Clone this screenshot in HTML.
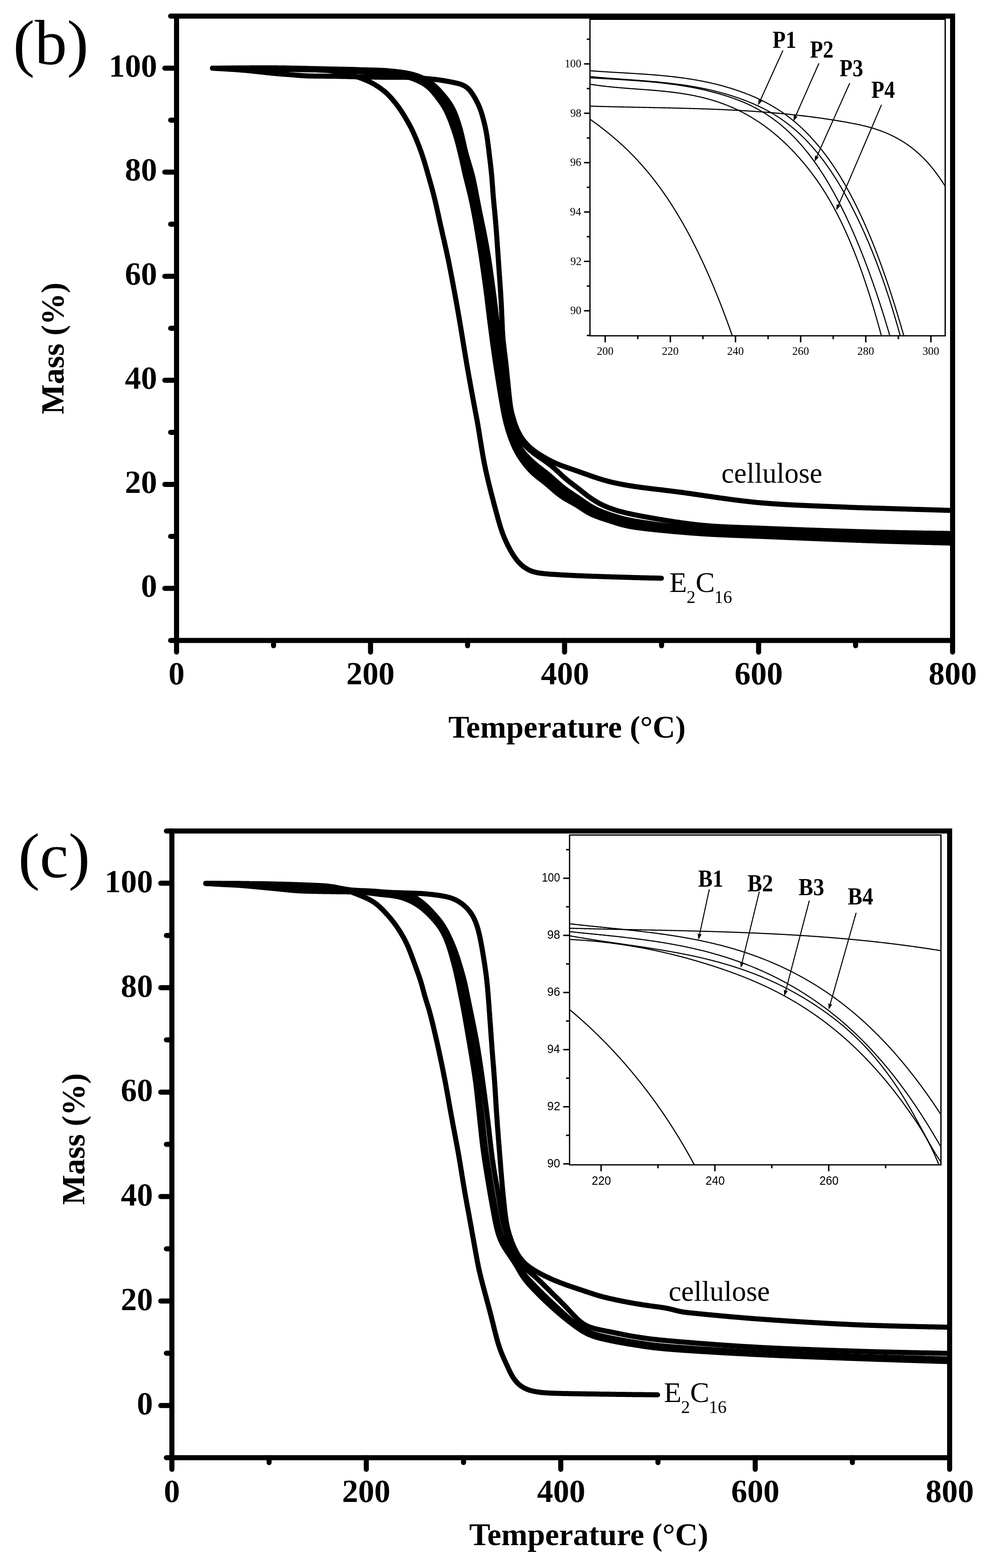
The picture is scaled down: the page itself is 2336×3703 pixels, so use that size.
<!DOCTYPE html><html><head><meta charset="utf-8"><title>TGA curves</title><style>html,body{margin:0;padding:0;background:#fff;}svg{display:block;}</style></head><body>
<svg xmlns="http://www.w3.org/2000/svg" width="2336" height="3703" viewBox="0 0 2336 3703">
<rect width="2336" height="3703" fill="#fff"/>
<defs><clipPath id="cb"><rect x="417" y="38" width="1833" height="1474.5"/></clipPath><clipPath id="ib"><rect x="1393.5" y="45.5" width="839" height="747.5"/></clipPath><clipPath id="cc"><rect x="406" y="1962.5" width="1837" height="1480"/></clipPath><clipPath id="ic"><rect x="1345.3" y="1972" width="877.2" height="778.9"/></clipPath></defs>
<path d="M502.0,161.0 L504.0,161.1 L506.0,161.2 L508.0,161.4 L510.0,161.5 L512.0,161.6 L514.0,161.7 L516.0,161.8 L518.0,162.0 L520.0,162.1 L522.0,162.2 L524.0,162.3 L526.0,162.4 L528.0,162.6 L529.9,162.7 L531.9,162.8 L533.9,162.9 L535.9,163.0 L537.9,163.2 L539.9,163.3 L541.9,163.4 L543.9,163.5 L545.9,163.7 L547.9,163.8 L549.9,163.9 L551.9,164.1 L553.9,164.2 L555.9,164.3 L557.9,164.5 L559.9,164.6 L561.9,164.8 L563.9,164.9 L565.9,165.1 L567.9,165.2 L569.9,165.4 L571.8,165.5 L573.8,165.7 L575.8,165.9 L577.8,166.1 L579.8,166.2 L581.8,166.4 L583.8,166.6 L585.8,166.8 L587.8,167.0 L589.8,167.2 L591.8,167.4 L593.7,167.6 L595.7,167.8 L597.7,168.0 L599.7,168.3 L601.7,168.5 L603.7,168.7 L605.7,168.9 L607.7,169.1 L609.7,169.3 L611.6,169.6 L613.6,169.8 L615.6,170.0 L617.6,170.2 L619.6,170.4 L621.6,170.6 L623.6,170.9 L625.6,171.1 L627.5,171.3 L629.5,171.5 L631.5,171.7 L633.5,171.9 L635.5,172.1 L637.5,172.4 L639.5,172.6 L641.5,172.8 L643.5,172.9 L645.5,173.1 L647.4,173.3 L649.4,173.5 L651.4,173.7 L653.4,173.9 L655.4,174.0 L657.4,174.2 L659.4,174.4 L661.4,174.5 L663.4,174.7 L665.4,174.9 L667.4,175.0 L669.4,175.2 L671.4,175.3 L673.4,175.5 L675.3,175.6 L677.3,175.8 L679.3,175.9 L681.3,176.1 L683.3,176.3 L685.3,176.4 L687.3,176.6 L689.3,176.7 L691.3,176.9 L693.3,177.1 L695.3,177.2 L697.3,177.4 L699.3,177.6 L701.3,177.7 L703.3,177.9 L705.2,178.0 L707.2,178.2 L709.2,178.3 L711.2,178.5 L713.2,178.6 L715.2,178.7 L717.2,178.8 L719.2,179.0 L721.2,179.1 L723.2,179.1 L725.2,179.2 L727.2,179.3 L729.2,179.4 L731.2,179.4 L733.2,179.5 L735.2,179.5 L737.2,179.6 L739.2,179.6 L741.2,179.6 L743.2,179.7 L745.2,179.7 L747.2,179.7 L749.2,179.7 L751.2,179.7 L753.2,179.8 L755.2,179.8 L757.2,179.8 L759.2,179.8 L761.2,179.8 L763.2,179.8 L765.2,179.8 L767.2,179.8 L769.2,179.8 L771.2,179.9 L773.2,179.9 L775.2,179.9 L777.2,179.9 L779.2,179.9 L781.2,179.9 L783.2,180.0 L785.2,180.0 L787.2,180.0 L789.2,180.1 L791.2,180.1 L793.2,180.1 L795.2,180.1 L797.2,180.2 L799.2,180.2 L801.2,180.3 L803.2,180.3 L805.2,180.4 L807.2,180.4 L809.2,180.4 L811.2,180.5 L813.2,180.5 L815.2,180.6 L817.2,180.6 L819.2,180.7 L821.2,180.7 L823.2,180.8 L825.2,180.9 L827.2,180.9 L829.2,181.0 L831.2,181.0 L833.2,181.1 L835.2,181.1 L837.2,181.2 L839.2,181.2 L841.2,181.3 L843.2,181.3 L845.2,181.4 L847.2,181.4 L849.2,181.5 L851.2,181.5 L853.2,181.6 L855.2,181.6 L857.2,181.6 L859.2,181.7 L861.2,181.7 L863.2,181.8 L865.2,181.8 L867.2,181.9 L869.2,181.9 L871.2,181.9 L873.2,182.0 L875.2,182.0 L877.2,182.0 L879.2,182.1 L881.2,182.1 L883.2,182.1 L885.2,182.2 L887.2,182.2 L889.2,182.2 L891.2,182.3 L893.2,182.3 L895.2,182.3 L897.2,182.3 L899.2,182.3 L901.2,182.4 L903.2,182.4 L905.2,182.4 L907.2,182.4 L909.2,182.4 L911.2,182.4 L913.2,182.4 L915.2,182.4 L917.2,182.4 L919.2,182.4 L921.2,182.4 L923.2,182.4 L925.2,182.4 L927.2,182.4 L929.2,182.4 L931.2,182.4 L933.2,182.4 L935.2,182.4 L937.2,182.4 L939.2,182.4 L941.2,182.4 L943.2,182.4 L945.2,182.5 L947.2,182.5 L949.2,182.5 L951.2,182.5 L953.2,182.5 L955.2,182.6 L957.2,182.6 L959.2,182.6 L961.2,182.7 L963.2,182.7 L965.2,182.8 L967.1,182.8 L969.1,182.9 L971.1,183.0 L973.1,183.1 L975.1,183.2 L977.1,183.3 L979.1,183.4 L981.1,183.5 L983.1,183.7 L985.1,183.8 L987.1,183.9 L989.1,184.1 L991.1,184.2 L993.1,184.4 L995.1,184.6 L997.1,184.7 L999.1,184.9 L1001.1,185.0 L1003.1,185.2 L1005.0,185.4 L1007.0,185.6 L1009.0,185.7 L1011.0,185.9 L1013.0,186.1 L1015.0,186.3 L1017.0,186.5 L1019.0,186.7 L1021.0,186.9 L1023.0,187.1 L1025.0,187.3 L1026.9,187.5 L1028.9,187.7 L1030.9,188.0 L1032.9,188.2 L1034.9,188.5 L1036.9,188.8 L1038.8,189.0 L1040.8,189.3 L1042.8,189.6 L1044.8,189.9 L1046.7,190.3 L1048.7,190.6 L1050.7,190.9 L1052.6,191.3 L1054.6,191.6 L1056.6,192.0 L1058.5,192.3 L1060.5,192.7 L1062.5,193.1 L1064.4,193.5 L1066.4,193.8 L1068.4,194.2 L1070.3,194.6 L1072.3,195.0 L1074.2,195.5 L1076.2,195.9 L1078.1,196.3 L1080.0,196.8 L1081.9,197.3 L1083.8,197.8 L1085.7,198.3 L1087.6,198.9 L1089.4,199.5 L1091.2,200.2 L1093.0,201.0 L1094.7,201.7 L1096.4,202.6 L1098.1,203.5 L1099.7,204.5 L1101.3,205.6 L1102.8,206.7 L1104.2,207.9 L1105.6,209.2 L1107.0,210.5 L1108.3,211.9 L1109.6,213.3 L1110.8,214.8 L1112.0,216.4 L1113.2,217.9 L1114.3,219.5 L1115.4,221.2 L1116.5,222.8 L1117.6,224.5 L1118.6,226.2 L1119.7,227.9 L1120.7,229.6 L1121.7,231.3 L1122.7,233.1 L1123.6,234.8 L1124.6,236.5 L1125.5,238.3 L1126.4,240.1 L1127.3,241.9 L1128.2,243.6 L1129.1,245.4 L1129.9,247.2 L1130.7,249.1 L1131.5,250.9 L1132.3,252.7 L1133.0,254.6 L1133.7,256.4 L1134.4,258.3 L1135.1,260.2 L1135.8,262.1 L1136.4,263.9 L1137.0,265.8 L1137.6,267.7 L1138.2,269.7 L1138.8,271.6 L1139.4,273.5 L1139.9,275.4 L1140.4,277.3 L1141.0,279.3 L1141.5,281.2 L1142.0,283.1 L1142.5,285.1 L1143.0,287.0 L1143.5,288.9 L1144.0,290.9 L1144.4,292.8 L1144.9,294.8 L1145.3,296.7 L1145.8,298.7 L1146.2,300.6 L1146.6,302.6 L1147.0,304.5 L1147.4,306.5 L1147.8,308.4 L1148.2,310.4 L1148.5,312.4 L1148.9,314.3 L1149.2,316.3 L1149.6,318.3 L1149.9,320.2 L1150.2,322.2 L1150.5,324.2 L1150.8,326.2 L1151.1,328.2 L1151.4,330.1 L1151.7,332.1 L1151.9,334.1 L1152.2,336.1 L1152.4,338.1 L1152.7,340.0 L1152.9,342.0 L1153.2,344.0 L1153.4,346.0 L1153.7,348.0 L1153.9,350.0 L1154.2,352.0 L1154.4,353.9 L1154.7,355.9 L1154.9,357.9 L1155.1,359.9 L1155.4,361.9 L1155.6,363.9 L1155.9,365.8 L1156.1,367.8 L1156.3,369.8 L1156.6,371.8 L1156.8,373.8 L1157.1,375.8 L1157.3,377.8 L1157.5,379.7 L1157.8,381.7 L1158.0,383.7 L1158.2,385.7 L1158.5,387.7 L1158.7,389.7 L1158.9,391.7 L1159.2,393.7 L1159.4,395.6 L1159.6,397.6 L1159.8,399.6 L1160.0,401.6 L1160.2,403.6 L1160.4,405.6 L1160.6,407.6 L1160.8,409.6 L1161.0,411.6 L1161.2,413.5 L1161.4,415.5 L1161.6,417.5 L1161.7,419.5 L1161.9,421.5 L1162.1,423.5 L1162.2,425.5 L1162.4,427.5 L1162.5,429.5 L1162.7,431.5 L1162.8,433.5 L1163.0,435.5 L1163.1,437.5 L1163.3,439.5 L1163.4,441.5 L1163.6,443.4 L1163.7,445.4 L1163.9,447.4 L1164.0,449.4 L1164.1,451.4 L1164.3,453.4 L1164.4,455.4 L1164.6,457.4 L1164.8,459.4 L1164.9,461.4 L1165.1,463.4 L1165.2,465.4 L1165.4,467.4 L1165.6,469.4 L1165.8,471.4 L1165.9,473.4 L1166.1,475.3 L1166.3,477.3 L1166.5,479.3 L1166.7,481.3 L1166.8,483.3 L1167.0,485.3 L1167.2,487.3 L1167.4,489.3 L1167.6,491.3 L1167.8,493.3 L1168.0,495.3 L1168.2,497.2 L1168.4,499.2 L1168.6,501.2 L1168.7,503.2 L1168.9,505.2 L1169.1,507.2 L1169.3,509.2 L1169.5,511.2 L1169.7,513.2 L1169.9,515.2 L1170.0,517.2 L1170.2,519.2 L1170.4,521.1 L1170.6,523.1 L1170.7,525.1 L1170.9,527.1 L1171.1,529.1 L1171.2,531.1 L1171.4,533.1 L1171.6,535.1 L1171.7,537.1 L1171.9,539.1 L1172.0,541.1 L1172.2,543.1 L1172.3,545.1 L1172.5,547.1 L1172.6,549.1 L1172.8,551.1 L1172.9,553.0 L1173.1,555.0 L1173.2,557.0 L1173.3,559.0 L1173.5,561.0 L1173.6,563.0 L1173.8,565.0 L1173.9,567.0 L1174.0,569.0 L1174.2,571.0 L1174.3,573.0 L1174.5,575.0 L1174.6,577.0 L1174.7,579.0 L1174.9,581.0 L1175.0,583.0 L1175.1,585.0 L1175.3,587.0 L1175.4,589.0 L1175.5,591.0 L1175.7,592.9 L1175.8,594.9 L1176.0,596.9 L1176.1,598.9 L1176.2,600.9 L1176.4,602.9 L1176.5,604.9 L1176.6,606.9 L1176.8,608.9 L1176.9,610.9 L1177.1,612.9 L1177.2,614.9 L1177.3,616.9 L1177.5,618.9 L1177.6,620.9 L1177.8,622.9 L1177.9,624.9 L1178.0,626.9 L1178.2,628.9 L1178.3,630.9 L1178.5,632.9 L1178.6,634.8 L1178.7,636.8 L1178.9,638.8 L1179.0,640.8 L1179.2,642.8 L1179.3,644.8 L1179.4,646.8 L1179.6,648.8 L1179.7,650.8 L1179.9,652.8 L1180.0,654.8 L1180.1,656.8 L1180.3,658.8 L1180.4,660.8 L1180.6,662.8 L1180.7,664.8 L1180.8,666.8 L1181.0,668.8 L1181.1,670.8 L1181.2,672.8 L1181.4,674.8 L1181.5,676.7 L1181.6,678.7 L1181.8,680.7 L1181.9,682.7 L1182.0,684.7 L1182.2,686.7 L1182.3,688.7 L1182.4,690.7 L1182.5,692.7 L1182.7,694.7 L1182.8,696.7 L1182.9,698.7 L1183.0,700.7 L1183.1,702.7 L1183.2,704.7 L1183.4,706.7 L1183.5,708.7 L1183.6,710.7 L1183.7,712.7 L1183.8,714.7 L1183.9,716.7 L1184.0,718.7 L1184.1,720.7 L1184.2,722.7 L1184.3,724.7 L1184.4,726.7 L1184.5,728.7 L1184.6,730.7 L1184.7,732.7 L1184.8,734.7 L1184.8,736.7 L1184.9,738.6 L1185.0,740.6 L1185.1,742.6 L1185.2,744.6 L1185.3,746.6 L1185.4,748.6 L1185.5,750.6 L1185.6,752.6 L1185.7,754.6 L1185.7,756.6 L1185.8,758.6 L1185.9,760.6 L1186.0,762.6 L1186.1,764.6 L1186.2,766.6 L1186.3,768.6 L1186.4,770.6 L1186.5,772.6 L1186.5,774.6 L1186.6,776.6 L1186.7,778.6 L1186.9,780.6 L1187.0,782.6 L1187.1,784.6 L1187.2,786.6 L1187.3,788.6 L1187.5,790.6 L1187.6,792.6 L1187.8,794.6 L1187.9,796.6 L1188.1,798.6 L1188.3,800.5 L1188.4,802.5 L1188.6,804.5 L1188.8,806.5 L1189.0,808.5 L1189.2,810.5 L1189.4,812.5 L1189.7,814.5 L1189.9,816.5 L1190.1,818.4 L1190.3,820.4 L1190.6,822.4 L1190.8,824.4 L1191.1,826.4 L1191.3,828.4 L1191.5,830.4 L1191.8,832.3 L1192.0,834.3 L1192.3,836.3 L1192.5,838.3 L1192.8,840.3 L1193.0,842.3 L1193.2,844.3 L1193.5,846.2 L1193.7,848.2 L1194.0,850.2 L1194.2,852.2 L1194.4,854.2 L1194.6,856.2 L1194.9,858.2 L1195.1,860.1 L1195.3,862.1 L1195.5,864.1 L1195.7,866.1 L1195.9,868.1 L1196.2,870.1 L1196.4,872.1 L1196.6,874.1 L1196.8,876.1 L1197.0,878.0 L1197.2,880.0 L1197.4,882.0 L1197.6,884.0 L1197.8,886.0 L1198.0,888.0 L1198.2,890.0 L1198.4,892.0 L1198.6,894.0 L1198.8,896.0 L1199.0,897.9 L1199.2,899.9 L1199.4,901.9 L1199.6,903.9 L1199.8,905.9 L1200.0,907.9 L1200.2,909.9 L1200.4,911.9 L1200.6,913.9 L1200.8,915.9 L1201.0,917.8 L1201.2,919.8 L1201.4,921.8 L1201.6,923.8 L1201.8,925.8 L1202.0,927.8 L1202.2,929.8 L1202.4,931.8 L1202.6,933.8 L1202.8,935.8 L1203.0,937.7 L1203.3,939.7 L1203.5,941.7 L1203.7,943.7 L1203.9,945.7 L1204.2,947.7 L1204.4,949.7 L1204.7,951.6 L1204.9,953.6 L1205.2,955.6 L1205.5,957.6 L1205.8,959.5 L1206.1,961.5 L1206.5,963.5 L1206.8,965.4 L1207.2,967.4 L1207.6,969.3 L1208.0,971.3 L1208.5,973.2 L1208.9,975.2 L1209.4,977.1 L1209.9,979.0 L1210.4,981.0 L1210.9,982.9 L1211.5,984.8 L1212.0,986.7 L1212.6,988.6 L1213.1,990.6 L1213.7,992.5 L1214.3,994.4 L1214.9,996.3 L1215.5,998.2 L1216.2,1000.1 L1216.8,1001.9 L1217.5,1003.8 L1218.2,1005.7 L1218.9,1007.6 L1219.6,1009.4 L1220.4,1011.3 L1221.1,1013.1 L1221.9,1014.9 L1222.7,1016.7 L1223.6,1018.5 L1224.5,1020.3 L1225.4,1022.1 L1226.3,1023.9 L1227.2,1025.6 L1228.2,1027.3 L1229.2,1029.1 L1230.2,1030.8 L1231.3,1032.4 L1232.4,1034.1 L1233.5,1035.7 L1234.6,1037.4 L1235.8,1039.0 L1237.0,1040.5 L1238.3,1042.1 L1239.5,1043.6 L1240.8,1045.2 L1242.1,1046.6 L1243.4,1048.1 L1244.8,1049.6 L1246.2,1051.0 L1247.6,1052.4 L1249.0,1053.8 L1250.4,1055.2 L1251.9,1056.5 L1253.4,1057.8 L1254.9,1059.1 L1256.4,1060.4 L1258.0,1061.7 L1259.5,1062.9 L1261.1,1064.1 L1262.7,1065.3 L1264.3,1066.5 L1265.9,1067.6 L1267.6,1068.8 L1269.2,1069.9 L1270.9,1071.0 L1272.6,1072.1 L1274.2,1073.1 L1275.9,1074.2 L1277.6,1075.2 L1279.3,1076.3 L1281.1,1077.3 L1282.8,1078.3 L1284.5,1079.3 L1286.2,1080.3 L1288.0,1081.3 L1289.7,1082.3 L1291.4,1083.3 L1293.2,1084.3 L1294.9,1085.2 L1296.7,1086.2 L1298.4,1087.1 L1300.2,1088.0 L1302.0,1089.0 L1303.8,1089.9 L1305.6,1090.7 L1307.3,1091.6 L1309.2,1092.4 L1311.0,1093.3 L1312.8,1094.1 L1314.6,1094.9 L1316.5,1095.6 L1318.3,1096.4 L1320.2,1097.1 L1322.0,1097.9 L1323.9,1098.6 L1325.8,1099.3 L1327.6,1100.0 L1329.5,1100.7 L1331.4,1101.3 L1333.3,1102.0 L1335.2,1102.7 L1337.0,1103.3 L1338.9,1104.0 L1340.8,1104.7 L1342.7,1105.3 L1344.6,1106.0 L1346.5,1106.6 L1348.4,1107.3 L1350.3,1107.9 L1352.2,1108.6 L1354.1,1109.2 L1355.9,1109.9 L1357.8,1110.5 L1359.7,1111.2 L1361.6,1111.8 L1363.5,1112.5 L1365.4,1113.1 L1367.3,1113.8 L1369.2,1114.5 L1371.0,1115.1 L1372.9,1115.8 L1374.8,1116.5 L1376.7,1117.1 L1378.6,1117.8 L1380.5,1118.5 L1382.4,1119.2 L1384.2,1119.8 L1386.1,1120.5 L1388.0,1121.2 L1389.9,1121.8 L1391.8,1122.5 L1393.7,1123.2 L1395.5,1123.8 L1397.4,1124.5 L1399.3,1125.2 L1401.2,1125.8 L1403.1,1126.5 L1405.0,1127.1 L1406.9,1127.7 L1408.8,1128.4 L1410.7,1129.0 L1412.6,1129.6 L1414.5,1130.2 L1416.4,1130.8 L1418.3,1131.4 L1420.2,1132.0 L1422.1,1132.6 L1424.1,1133.2 L1426.0,1133.7 L1427.9,1134.3 L1429.8,1134.8 L1431.7,1135.3 L1433.7,1135.9 L1435.6,1136.4 L1437.5,1136.9 L1439.5,1137.4 L1441.4,1137.9 L1443.4,1138.3 L1445.3,1138.8 L1447.2,1139.3 L1449.2,1139.7 L1451.1,1140.2 L1453.1,1140.6 L1455.0,1141.0 L1457.0,1141.4 L1459.0,1141.8 L1460.9,1142.2 L1462.9,1142.6 L1464.8,1143.0 L1466.8,1143.4 L1468.8,1143.8 L1470.7,1144.1 L1472.7,1144.5 L1474.7,1144.9 L1476.6,1145.2 L1478.6,1145.6 L1480.6,1145.9 L1482.5,1146.2 L1484.5,1146.6 L1486.5,1146.9 L1488.5,1147.2 L1490.4,1147.5 L1492.4,1147.8 L1494.4,1148.1 L1496.4,1148.5 L1498.3,1148.8 L1500.3,1149.1 L1502.3,1149.3 L1504.3,1149.6 L1506.3,1149.9 L1508.2,1150.2 L1510.2,1150.5 L1512.2,1150.8 L1514.2,1151.0 L1516.2,1151.3 L1518.1,1151.6 L1520.1,1151.8 L1522.1,1152.1 L1524.1,1152.3 L1526.1,1152.6 L1528.1,1152.8 L1530.0,1153.1 L1532.0,1153.3 L1534.0,1153.5 L1536.0,1153.8 L1538.0,1154.0 L1540.0,1154.3 L1542.0,1154.5 L1543.9,1154.7 L1545.9,1155.0 L1547.9,1155.2 L1549.9,1155.4 L1551.9,1155.7 L1553.9,1155.9 L1555.9,1156.1 L1557.9,1156.3 L1559.8,1156.6 L1561.8,1156.8 L1563.8,1157.0 L1565.8,1157.3 L1567.8,1157.5 L1569.8,1157.8 L1571.8,1158.0 L1573.7,1158.2 L1575.7,1158.5 L1577.7,1158.7 L1579.7,1159.0 L1581.7,1159.2 L1583.7,1159.4 L1585.7,1159.7 L1587.6,1159.9 L1589.6,1160.2 L1591.6,1160.4 L1593.6,1160.7 L1595.6,1160.9 L1597.6,1161.2 L1599.5,1161.5 L1601.5,1161.7 L1603.5,1162.0 L1605.5,1162.2 L1607.5,1162.5 L1609.5,1162.8 L1611.4,1163.0 L1613.4,1163.3 L1615.4,1163.6 L1617.4,1163.9 L1619.4,1164.1 L1621.3,1164.4 L1623.3,1164.7 L1625.3,1165.0 L1627.3,1165.2 L1629.3,1165.5 L1631.2,1165.8 L1633.2,1166.1 L1635.2,1166.4 L1637.2,1166.7 L1639.2,1167.0 L1641.1,1167.2 L1643.1,1167.5 L1645.1,1167.8 L1647.1,1168.1 L1649.1,1168.4 L1651.0,1168.7 L1653.0,1169.0 L1655.0,1169.3 L1657.0,1169.6 L1659.0,1169.8 L1660.9,1170.1 L1662.9,1170.4 L1664.9,1170.7 L1666.9,1171.0 L1668.8,1171.3 L1670.8,1171.6 L1672.8,1171.9 L1674.8,1172.2 L1676.8,1172.4 L1678.7,1172.7 L1680.7,1173.0 L1682.7,1173.3 L1684.7,1173.6 L1686.7,1173.9 L1688.6,1174.2 L1690.6,1174.4 L1692.6,1174.7 L1694.6,1175.0 L1696.6,1175.3 L1698.5,1175.6 L1700.5,1175.9 L1702.5,1176.1 L1704.5,1176.4 L1706.5,1176.7 L1708.4,1177.0 L1710.4,1177.2 L1712.4,1177.5 L1714.4,1177.8 L1716.4,1178.0 L1718.3,1178.3 L1720.3,1178.6 L1722.3,1178.9 L1724.3,1179.1 L1726.3,1179.4 L1728.3,1179.6 L1730.2,1179.9 L1732.2,1180.2 L1734.2,1180.4 L1736.2,1180.7 L1738.2,1180.9 L1740.2,1181.2 L1742.1,1181.4 L1744.1,1181.7 L1746.1,1181.9 L1748.1,1182.2 L1750.1,1182.4 L1752.1,1182.7 L1754.1,1182.9 L1756.0,1183.1 L1758.0,1183.4 L1760.0,1183.6 L1762.0,1183.8 L1764.0,1184.0 L1766.0,1184.3 L1768.0,1184.5 L1770.0,1184.7 L1771.9,1184.9 L1773.9,1185.1 L1775.9,1185.4 L1777.9,1185.6 L1779.9,1185.8 L1781.9,1186.0 L1783.9,1186.2 L1785.9,1186.4 L1787.9,1186.6 L1789.8,1186.8 L1791.8,1186.9 L1793.8,1187.1 L1795.8,1187.3 L1797.8,1187.5 L1799.8,1187.7 L1801.8,1187.8 L1803.8,1188.0 L1805.8,1188.2 L1807.8,1188.3 L1809.8,1188.5 L1811.8,1188.6 L1813.8,1188.8 L1815.8,1189.0 L1817.7,1189.1 L1819.7,1189.2 L1821.7,1189.4 L1823.7,1189.5 L1825.7,1189.7 L1827.7,1189.8 L1829.7,1189.9 L1831.7,1190.1 L1833.7,1190.2 L1835.7,1190.3 L1837.7,1190.5 L1839.7,1190.6 L1841.7,1190.7 L1843.7,1190.8 L1845.7,1191.0 L1847.7,1191.1 L1849.7,1191.2 L1851.7,1191.3 L1853.7,1191.4 L1855.7,1191.5 L1857.7,1191.7 L1859.7,1191.8 L1861.7,1191.9 L1863.7,1192.0 L1865.7,1192.1 L1867.6,1192.2 L1869.6,1192.3 L1871.6,1192.4 L1873.6,1192.5 L1875.6,1192.6 L1877.6,1192.7 L1879.6,1192.8 L1881.6,1192.9 L1883.6,1193.0 L1885.6,1193.1 L1887.6,1193.2 L1889.6,1193.3 L1891.6,1193.4 L1893.6,1193.5 L1895.6,1193.6 L1897.6,1193.6 L1899.6,1193.7 L1901.6,1193.8 L1903.6,1193.9 L1905.6,1194.0 L1907.6,1194.1 L1909.6,1194.2 L1911.6,1194.3 L1913.6,1194.3 L1915.6,1194.4 L1917.6,1194.5 L1919.6,1194.6 L1921.6,1194.7 L1923.6,1194.7 L1925.6,1194.8 L1927.6,1194.9 L1929.6,1195.0 L1931.6,1195.1 L1933.6,1195.1 L1935.6,1195.2 L1937.6,1195.3 L1939.6,1195.4 L1941.6,1195.5 L1943.6,1195.5 L1945.6,1195.6 L1947.6,1195.7 L1949.6,1195.8 L1951.6,1195.8 L1953.6,1195.9 L1955.6,1196.0 L1957.6,1196.1 L1959.6,1196.1 L1961.6,1196.2 L1963.6,1196.3 L1965.6,1196.4 L1967.6,1196.5 L1969.6,1196.5 L1971.6,1196.6 L1973.6,1196.7 L1975.6,1196.8 L1977.5,1196.8 L1979.5,1196.9 L1981.5,1197.0 L1983.5,1197.1 L1985.5,1197.2 L1987.5,1197.2 L1989.5,1197.3 L1991.5,1197.4 L1993.5,1197.5 L1995.5,1197.6 L1997.5,1197.6 L1999.5,1197.7 L2001.5,1197.8 L2003.5,1197.9 L2005.5,1198.0 L2007.5,1198.1 L2009.5,1198.2 L2011.5,1198.2 L2013.5,1198.3 L2015.5,1198.4 L2017.5,1198.5 L2019.5,1198.6 L2021.5,1198.6 L2023.5,1198.7 L2025.5,1198.8 L2027.5,1198.9 L2029.5,1198.9 L2031.5,1199.0 L2033.5,1199.0 L2035.5,1199.1 L2037.5,1199.2 L2039.5,1199.2 L2041.5,1199.3 L2043.5,1199.3 L2045.5,1199.4 L2047.5,1199.4 L2049.5,1199.5 L2051.5,1199.6 L2053.5,1199.6 L2055.5,1199.7 L2057.5,1199.7 L2059.5,1199.8 L2061.5,1199.9 L2063.5,1199.9 L2065.5,1200.0 L2067.5,1200.0 L2069.5,1200.1 L2071.5,1200.2 L2073.5,1200.2 L2075.5,1200.3 L2077.5,1200.3 L2079.5,1200.4 L2081.5,1200.5 L2083.5,1200.5 L2085.5,1200.6 L2087.5,1200.6 L2089.5,1200.7 L2091.5,1200.8 L2093.5,1200.8 L2095.5,1200.9 L2097.5,1200.9 L2099.5,1201.0 L2101.5,1201.1 L2103.5,1201.1 L2105.5,1201.2 L2107.5,1201.2 L2109.5,1201.3 L2111.5,1201.4 L2113.5,1201.4 L2115.5,1201.5 L2117.5,1201.5 L2119.5,1201.6 L2121.5,1201.7 L2123.5,1201.7 L2125.5,1201.8 L2127.5,1201.8 L2129.5,1201.9 L2131.5,1202.0 L2133.5,1202.0 L2135.5,1202.1 L2137.5,1202.1 L2139.5,1202.2 L2141.5,1202.3 L2143.5,1202.3 L2145.4,1202.4 L2147.4,1202.4 L2149.4,1202.5 L2151.4,1202.6 L2153.4,1202.6 L2155.4,1202.7 L2157.4,1202.7 L2159.4,1202.8 L2161.4,1202.9 L2163.4,1202.9 L2165.4,1203.0 L2167.4,1203.0 L2169.4,1203.1 L2171.4,1203.2 L2173.4,1203.2 L2175.4,1203.3 L2177.4,1203.3 L2179.4,1203.4 L2181.4,1203.5 L2183.4,1203.5 L2185.4,1203.6 L2187.4,1203.6 L2189.4,1203.7 L2191.4,1203.7 L2193.4,1203.8 L2195.4,1203.9 L2197.4,1203.9 L2199.4,1204.0 L2201.4,1204.0 L2203.4,1204.1 L2205.4,1204.2 L2207.4,1204.2 L2209.4,1204.3 L2211.4,1204.3 L2213.4,1204.4 L2215.4,1204.5 L2217.4,1204.5 L2219.4,1204.6 L2221.4,1204.6 L2223.4,1204.7 L2225.4,1204.8 L2227.4,1204.8 L2229.4,1204.9 L2231.4,1204.9 L2233.4,1205.0 L2235.4,1205.1 L2237.4,1205.1 L2239.4,1205.2 L2241.4,1205.2 L2243.4,1205.3 L2245.4,1205.4 L2247.4,1205.4 L2249.4,1205.5" fill="none" stroke="#000" stroke-width="12.00" stroke-linecap="round" stroke-linejoin="round" clip-path="url(#cb)"/>
<path d="M502.0,161.0 L504.0,161.0 L506.0,161.0 L508.0,161.0 L510.0,160.9 L512.0,160.9 L514.0,160.9 L516.0,160.9 L518.0,160.9 L520.0,160.9 L522.0,160.9 L524.0,160.8 L526.0,160.8 L528.0,160.8 L530.0,160.8 L532.0,160.8 L534.0,160.8 L536.0,160.7 L538.0,160.7 L540.0,160.7 L542.0,160.7 L544.0,160.7 L546.0,160.7 L548.0,160.6 L550.0,160.6 L552.0,160.6 L554.0,160.6 L556.0,160.6 L558.0,160.6 L560.0,160.6 L562.0,160.5 L564.0,160.5 L566.0,160.5 L568.0,160.5 L570.0,160.5 L572.0,160.5 L574.0,160.5 L576.0,160.4 L578.0,160.4 L580.0,160.4 L582.0,160.4 L584.0,160.4 L586.0,160.4 L588.0,160.4 L590.0,160.4 L592.0,160.3 L594.0,160.3 L596.0,160.3 L598.0,160.3 L600.0,160.3 L602.0,160.3 L604.0,160.3 L606.0,160.3 L608.0,160.3 L610.0,160.3 L612.0,160.3 L614.0,160.2 L616.0,160.2 L618.0,160.2 L620.0,160.2 L622.0,160.2 L624.0,160.2 L626.0,160.2 L628.0,160.2 L630.0,160.2 L632.0,160.2 L634.0,160.2 L636.0,160.2 L638.0,160.2 L640.0,160.2 L642.0,160.3 L644.0,160.3 L646.0,160.3 L648.0,160.3 L650.0,160.3 L652.0,160.3 L654.0,160.3 L656.0,160.4 L658.0,160.4 L660.0,160.4 L662.0,160.4 L664.0,160.4 L666.0,160.5 L668.0,160.5 L670.0,160.5 L672.0,160.6 L674.0,160.6 L676.0,160.6 L678.0,160.7 L680.0,160.7 L682.0,160.7 L684.0,160.8 L686.0,160.8 L688.0,160.9 L690.0,160.9 L692.0,160.9 L694.0,161.0 L696.0,161.0 L698.0,161.1 L700.0,161.1 L702.0,161.2 L704.0,161.2 L706.0,161.2 L708.0,161.3 L710.0,161.3 L712.0,161.4 L714.0,161.4 L716.0,161.5 L718.0,161.5 L720.0,161.6 L722.0,161.6 L724.0,161.6 L726.0,161.7 L728.0,161.7 L730.0,161.8 L732.0,161.8 L734.0,161.9 L736.0,161.9 L738.0,162.0 L740.0,162.0 L742.0,162.1 L744.0,162.1 L746.0,162.1 L748.0,162.2 L750.0,162.2 L752.0,162.3 L754.0,162.3 L756.0,162.4 L758.0,162.4 L760.0,162.5 L762.0,162.5 L764.0,162.6 L766.0,162.6 L768.0,162.7 L770.0,162.7 L772.0,162.8 L774.0,162.8 L776.0,162.9 L778.0,162.9 L780.0,163.0 L782.0,163.0 L784.0,163.0 L786.0,163.1 L788.0,163.1 L790.0,163.2 L792.0,163.2 L794.0,163.2 L796.0,163.3 L798.0,163.3 L800.0,163.4 L802.0,163.4 L804.0,163.4 L806.0,163.5 L808.0,163.5 L810.0,163.5 L812.0,163.6 L814.0,163.6 L816.0,163.7 L818.0,163.7 L820.0,163.7 L822.0,163.8 L824.0,163.8 L826.0,163.9 L828.0,163.9 L830.0,164.0 L832.0,164.1 L834.0,164.1 L836.0,164.2 L838.0,164.3 L839.9,164.3 L841.9,164.4 L843.9,164.5 L845.9,164.5 L847.9,164.6 L849.9,164.7 L851.9,164.7 L853.9,164.8 L855.9,164.9 L857.9,164.9 L859.9,165.0 L861.9,165.0 L863.9,165.1 L865.9,165.1 L867.9,165.2 L869.9,165.2 L871.9,165.3 L873.9,165.3 L875.9,165.4 L877.9,165.4 L879.9,165.5 L881.9,165.5 L883.9,165.6 L885.9,165.6 L887.9,165.7 L889.9,165.7 L891.9,165.8 L893.9,165.8 L895.9,165.9 L897.9,166.0 L899.9,166.1 L901.9,166.2 L903.9,166.3 L905.9,166.4 L907.9,166.5 L909.9,166.6 L911.9,166.8 L913.9,166.9 L915.9,167.1 L917.9,167.3 L919.9,167.4 L921.8,167.6 L923.8,167.8 L925.8,168.0 L927.8,168.2 L929.8,168.4 L931.8,168.6 L933.8,168.8 L935.8,169.0 L937.7,169.3 L939.7,169.5 L941.7,169.7 L943.7,170.0 L945.7,170.2 L947.7,170.5 L949.6,170.8 L951.6,171.1 L953.6,171.4 L955.6,171.7 L957.5,172.0 L959.5,172.4 L961.4,172.7 L963.4,173.1 L965.4,173.5 L967.3,173.9 L969.2,174.4 L971.2,174.8 L973.1,175.3 L975.0,175.8 L977.0,176.3 L978.9,176.9 L980.8,177.5 L982.7,178.1 L984.6,178.7 L986.4,179.3 L988.3,180.0 L990.2,180.7 L992.0,181.5 L993.8,182.2 L995.7,183.0 L997.5,183.8 L999.3,184.7 L1001.0,185.6 L1002.8,186.5 L1004.6,187.4 L1006.3,188.4 L1008.0,189.4 L1009.7,190.4 L1011.4,191.4 L1013.1,192.5 L1014.7,193.6 L1016.4,194.7 L1018.0,195.9 L1019.6,197.0 L1021.2,198.3 L1022.7,199.5 L1024.2,200.7 L1025.8,202.0 L1027.2,203.3 L1028.7,204.7 L1030.2,206.0 L1031.6,207.4 L1033.0,208.8 L1034.4,210.3 L1035.8,211.7 L1037.1,213.1 L1038.5,214.6 L1039.8,216.1 L1041.2,217.6 L1042.5,219.1 L1043.8,220.6 L1045.1,222.1 L1046.4,223.6 L1047.7,225.2 L1048.9,226.7 L1050.2,228.2 L1051.5,229.8 L1052.7,231.3 L1054.0,232.9 L1055.2,234.5 L1056.4,236.1 L1057.6,237.7 L1058.8,239.3 L1059.9,240.9 L1061.0,242.5 L1062.2,244.2 L1063.2,245.8 L1064.3,247.5 L1065.3,249.2 L1066.3,250.9 L1067.3,252.7 L1068.3,254.4 L1069.2,256.2 L1070.1,257.9 L1071.0,259.7 L1071.8,261.5 L1072.7,263.3 L1073.5,265.2 L1074.2,267.0 L1075.0,268.8 L1075.7,270.7 L1076.5,272.5 L1077.2,274.4 L1077.9,276.3 L1078.6,278.2 L1079.2,280.0 L1079.9,281.9 L1080.5,283.8 L1081.2,285.7 L1081.8,287.6 L1082.4,289.5 L1083.0,291.4 L1083.6,293.3 L1084.2,295.2 L1084.7,297.2 L1085.3,299.1 L1085.9,301.0 L1086.4,302.9 L1087.0,304.8 L1087.5,306.8 L1088.0,308.7 L1088.5,310.6 L1089.0,312.6 L1089.5,314.5 L1090.0,316.4 L1090.5,318.4 L1091.0,320.3 L1091.4,322.3 L1091.9,324.2 L1092.3,326.2 L1092.8,328.1 L1093.2,330.1 L1093.7,332.0 L1094.1,334.0 L1094.5,335.9 L1094.9,337.9 L1095.4,339.8 L1095.8,341.8 L1096.2,343.7 L1096.7,345.7 L1097.1,347.6 L1097.6,349.6 L1098.0,351.5 L1098.5,353.5 L1099.0,355.4 L1099.5,357.3 L1100.0,359.3 L1100.5,361.2 L1101.0,363.1 L1101.5,365.1 L1102.0,367.0 L1102.6,368.9 L1103.1,370.8 L1103.7,372.8 L1104.2,374.7 L1104.8,376.6 L1105.4,378.5 L1106.0,380.4 L1106.5,382.3 L1107.1,384.3 L1107.7,386.2 L1108.3,388.1 L1108.9,390.0 L1109.5,391.9 L1110.0,393.8 L1110.6,395.7 L1111.2,397.7 L1111.7,399.6 L1112.3,401.5 L1112.8,403.4 L1113.4,405.3 L1113.9,407.3 L1114.4,409.2 L1114.9,411.1 L1115.4,413.1 L1115.9,415.0 L1116.4,416.9 L1116.9,418.9 L1117.3,420.8 L1117.8,422.8 L1118.2,424.7 L1118.6,426.7 L1119.0,428.6 L1119.5,430.6 L1119.9,432.6 L1120.3,434.5 L1120.7,436.5 L1121.1,438.4 L1121.4,440.4 L1121.8,442.4 L1122.2,444.3 L1122.6,446.3 L1123.0,448.3 L1123.3,450.2 L1123.7,452.2 L1124.1,454.1 L1124.5,456.1 L1124.8,458.1 L1125.2,460.0 L1125.6,462.0 L1126.0,464.0 L1126.3,465.9 L1126.7,467.9 L1127.1,469.9 L1127.5,471.8 L1127.9,473.8 L1128.3,475.7 L1128.6,477.7 L1129.0,479.7 L1129.4,481.6 L1129.8,483.6 L1130.2,485.6 L1130.6,487.5 L1131.0,489.5 L1131.4,491.4 L1131.7,493.4 L1132.1,495.4 L1132.5,497.3 L1132.9,499.3 L1133.3,501.2 L1133.7,503.2 L1134.1,505.2 L1134.5,507.1 L1134.9,509.1 L1135.3,511.0 L1135.7,513.0 L1136.1,515.0 L1136.5,516.9 L1136.9,518.9 L1137.3,520.8 L1137.7,522.8 L1138.1,524.8 L1138.5,526.7 L1138.9,528.7 L1139.4,530.6 L1139.8,532.6 L1140.2,534.5 L1140.6,536.5 L1141.0,538.5 L1141.4,540.4 L1141.8,542.4 L1142.2,544.3 L1142.6,546.3 L1143.0,548.3 L1143.4,550.2 L1143.7,552.2 L1144.1,554.1 L1144.5,556.1 L1144.9,558.1 L1145.3,560.0 L1145.6,562.0 L1146.0,564.0 L1146.4,565.9 L1146.7,567.9 L1147.1,569.9 L1147.5,571.8 L1147.8,573.8 L1148.2,575.8 L1148.6,577.7 L1148.9,579.7 L1149.3,581.7 L1149.6,583.6 L1150.0,585.6 L1150.3,587.6 L1150.7,589.6 L1151.0,591.5 L1151.3,593.5 L1151.7,595.5 L1152.0,597.4 L1152.3,599.4 L1152.7,601.4 L1153.0,603.4 L1153.3,605.3 L1153.6,607.3 L1153.9,609.3 L1154.3,611.3 L1154.6,613.2 L1154.9,615.2 L1155.2,617.2 L1155.5,619.2 L1155.8,621.1 L1156.1,623.1 L1156.4,625.1 L1156.7,627.1 L1157.0,629.0 L1157.3,631.0 L1157.6,633.0 L1157.8,635.0 L1158.1,637.0 L1158.4,638.9 L1158.7,640.9 L1159.0,642.9 L1159.3,644.9 L1159.5,646.9 L1159.8,648.8 L1160.1,650.8 L1160.4,652.8 L1160.6,654.8 L1160.9,656.8 L1161.2,658.7 L1161.4,660.7 L1161.7,662.7 L1162.0,664.7 L1162.3,666.7 L1162.5,668.7 L1162.8,670.6 L1163.1,672.6 L1163.3,674.6 L1163.6,676.6 L1163.9,678.6 L1164.1,680.6 L1164.4,682.5 L1164.7,684.5 L1164.9,686.5 L1165.2,688.5 L1165.4,690.5 L1165.7,692.4 L1166.0,694.4 L1166.2,696.4 L1166.5,698.4 L1166.7,700.4 L1167.0,702.4 L1167.2,704.3 L1167.5,706.3 L1167.7,708.3 L1168.0,710.3 L1168.2,712.3 L1168.5,714.3 L1168.7,716.3 L1169.0,718.2 L1169.2,720.2 L1169.5,722.2 L1169.7,724.2 L1169.9,726.2 L1170.2,728.2 L1170.4,730.2 L1170.7,732.1 L1170.9,734.1 L1171.1,736.1 L1171.4,738.1 L1171.6,740.1 L1171.8,742.1 L1172.1,744.1 L1172.3,746.0 L1172.6,748.0 L1172.8,750.0 L1173.0,752.0 L1173.3,754.0 L1173.5,756.0 L1173.8,758.0 L1174.0,759.9 L1174.2,761.9 L1174.5,763.9 L1174.7,765.9 L1174.9,767.9 L1175.2,769.9 L1175.4,771.9 L1175.7,773.8 L1175.9,775.8 L1176.1,777.8 L1176.4,779.8 L1176.6,781.8 L1176.8,783.8 L1177.1,785.8 L1177.3,787.7 L1177.5,789.7 L1177.8,791.7 L1178.0,793.7 L1178.2,795.7 L1178.5,797.7 L1178.7,799.7 L1179.0,801.6 L1179.2,803.6 L1179.4,805.6 L1179.7,807.6 L1179.9,809.6 L1180.1,811.6 L1180.4,813.6 L1180.6,815.5 L1180.9,817.5 L1181.1,819.5 L1181.3,821.5 L1181.6,823.5 L1181.8,825.5 L1182.1,827.5 L1182.3,829.4 L1182.6,831.4 L1182.8,833.4 L1183.0,835.4 L1183.3,837.4 L1183.5,839.4 L1183.8,841.4 L1184.0,843.3 L1184.3,845.3 L1184.5,847.3 L1184.8,849.3 L1185.1,851.3 L1185.3,853.3 L1185.6,855.2 L1185.8,857.2 L1186.1,859.2 L1186.3,861.2 L1186.6,863.2 L1186.9,865.2 L1187.1,867.1 L1187.4,869.1 L1187.6,871.1 L1187.9,873.1 L1188.2,875.1 L1188.4,877.0 L1188.7,879.0 L1189.0,881.0 L1189.2,883.0 L1189.5,885.0 L1189.8,887.0 L1190.0,888.9 L1190.3,890.9 L1190.6,892.9 L1190.9,894.9 L1191.1,896.9 L1191.4,898.8 L1191.7,900.8 L1191.9,902.8 L1192.2,904.8 L1192.5,906.8 L1192.8,908.8 L1193.1,910.7 L1193.3,912.7 L1193.6,914.7 L1193.9,916.7 L1194.2,918.7 L1194.5,920.6 L1194.7,922.6 L1195.0,924.6 L1195.3,926.6 L1195.6,928.6 L1195.9,930.5 L1196.2,932.5 L1196.5,934.5 L1196.8,936.5 L1197.1,938.4 L1197.4,940.4 L1197.7,942.4 L1198.0,944.4 L1198.3,946.3 L1198.6,948.3 L1199.0,950.3 L1199.3,952.3 L1199.6,954.2 L1200.0,956.2 L1200.4,958.2 L1200.7,960.1 L1201.1,962.1 L1201.5,964.0 L1201.9,966.0 L1202.3,968.0 L1202.8,969.9 L1203.2,971.8 L1203.7,973.8 L1204.1,975.7 L1204.6,977.7 L1205.1,979.6 L1205.7,981.5 L1206.2,983.5 L1206.7,985.4 L1207.3,987.3 L1207.8,989.2 L1208.4,991.1 L1209.0,993.0 L1209.6,995.0 L1210.2,996.9 L1210.8,998.8 L1211.4,1000.7 L1212.0,1002.6 L1212.7,1004.4 L1213.3,1006.3 L1214.0,1008.2 L1214.7,1010.1 L1215.4,1011.9 L1216.2,1013.8 L1216.9,1015.6 L1217.7,1017.5 L1218.5,1019.3 L1219.3,1021.1 L1220.2,1022.9 L1221.1,1024.6 L1222.0,1026.4 L1222.9,1028.2 L1223.9,1029.9 L1224.9,1031.6 L1225.9,1033.3 L1227.0,1035.0 L1228.1,1036.7 L1229.2,1038.3 L1230.3,1039.9 L1231.5,1041.6 L1232.7,1043.1 L1233.9,1044.7 L1235.1,1046.3 L1236.4,1047.8 L1237.7,1049.3 L1239.0,1050.8 L1240.4,1052.3 L1241.7,1053.7 L1243.1,1055.1 L1244.5,1056.5 L1245.9,1057.9 L1247.4,1059.3 L1248.9,1060.6 L1250.4,1061.9 L1251.9,1063.2 L1253.4,1064.5 L1254.9,1065.8 L1256.5,1067.0 L1258.0,1068.3 L1259.6,1069.5 L1261.2,1070.7 L1262.8,1071.9 L1264.4,1073.1 L1266.0,1074.3 L1267.7,1075.4 L1269.3,1076.6 L1270.9,1077.7 L1272.6,1078.9 L1274.2,1080.0 L1275.9,1081.1 L1277.5,1082.2 L1279.2,1083.4 L1280.8,1084.5 L1282.5,1085.6 L1284.1,1086.8 L1285.8,1087.9 L1287.4,1089.0 L1289.0,1090.2 L1290.7,1091.3 L1292.3,1092.5 L1293.9,1093.7 L1295.5,1094.9 L1297.1,1096.1 L1298.7,1097.3 L1300.2,1098.5 L1301.8,1099.8 L1303.3,1101.0 L1304.9,1102.3 L1306.4,1103.6 L1307.9,1104.9 L1309.4,1106.2 L1310.9,1107.6 L1312.4,1108.9 L1313.8,1110.3 L1315.3,1111.6 L1316.8,1113.0 L1318.2,1114.3 L1319.7,1115.7 L1321.1,1117.1 L1322.6,1118.4 L1324.1,1119.8 L1325.5,1121.2 L1327.0,1122.5 L1328.5,1123.9 L1330.0,1125.2 L1331.4,1126.5 L1332.9,1127.8 L1334.5,1129.2 L1336.0,1130.5 L1337.5,1131.7 L1339.0,1133.0 L1340.6,1134.3 L1342.1,1135.5 L1343.7,1136.8 L1345.3,1138.0 L1346.9,1139.2 L1348.4,1140.4 L1350.0,1141.6 L1351.6,1142.8 L1353.2,1144.0 L1354.8,1145.2 L1356.4,1146.4 L1358.0,1147.6 L1359.6,1148.8 L1361.2,1150.0 L1362.8,1151.3 L1364.4,1152.5 L1366.0,1153.7 L1367.5,1154.9 L1369.1,1156.2 L1370.7,1157.4 L1372.2,1158.7 L1373.8,1159.9 L1375.3,1161.2 L1376.9,1162.4 L1378.5,1163.7 L1380.0,1164.9 L1381.6,1166.1 L1383.2,1167.4 L1384.7,1168.6 L1386.3,1169.8 L1387.9,1171.0 L1389.5,1172.2 L1391.2,1173.3 L1392.8,1174.5 L1394.4,1175.6 L1396.1,1176.8 L1397.7,1177.9 L1399.4,1179.0 L1401.0,1180.1 L1402.7,1181.2 L1404.4,1182.2 L1406.1,1183.3 L1407.8,1184.3 L1409.5,1185.4 L1411.2,1186.4 L1413.0,1187.3 L1414.7,1188.3 L1416.5,1189.3 L1418.2,1190.2 L1420.0,1191.1 L1421.8,1192.0 L1423.6,1192.9 L1425.4,1193.7 L1427.2,1194.5 L1429.0,1195.3 L1430.9,1196.1 L1432.7,1196.9 L1434.6,1197.7 L1436.4,1198.4 L1438.3,1199.1 L1440.1,1199.9 L1442.0,1200.5 L1443.9,1201.2 L1445.8,1201.9 L1447.7,1202.5 L1449.5,1203.2 L1451.4,1203.8 L1453.3,1204.4 L1455.3,1205.0 L1457.2,1205.6 L1459.1,1206.2 L1461.0,1206.7 L1462.9,1207.3 L1464.8,1207.8 L1466.8,1208.3 L1468.7,1208.8 L1470.6,1209.3 L1472.6,1209.8 L1474.5,1210.3 L1476.5,1210.8 L1478.4,1211.2 L1480.3,1211.7 L1482.3,1212.2 L1484.2,1212.6 L1486.2,1213.0 L1488.2,1213.4 L1490.1,1213.9 L1492.1,1214.3 L1494.0,1214.7 L1496.0,1215.1 L1497.9,1215.5 L1499.9,1215.9 L1501.9,1216.3 L1503.8,1216.7 L1505.8,1217.1 L1507.7,1217.4 L1509.7,1217.8 L1511.7,1218.2 L1513.6,1218.6 L1515.6,1218.9 L1517.6,1219.3 L1519.5,1219.7 L1521.5,1220.0 L1523.5,1220.4 L1525.4,1220.8 L1527.4,1221.1 L1529.4,1221.5 L1531.3,1221.8 L1533.3,1222.2 L1535.3,1222.6 L1537.2,1222.9 L1539.2,1223.3 L1541.2,1223.6 L1543.1,1224.0 L1545.1,1224.3 L1547.1,1224.6 L1549.1,1225.0 L1551.0,1225.3 L1553.0,1225.7 L1555.0,1226.0 L1556.9,1226.3 L1558.9,1226.7 L1560.9,1227.0 L1562.9,1227.3 L1564.8,1227.7 L1566.8,1228.0 L1568.8,1228.3 L1570.8,1228.6 L1572.7,1229.0 L1574.7,1229.3 L1576.7,1229.6 L1578.7,1229.9 L1580.6,1230.2 L1582.6,1230.5 L1584.6,1230.8 L1586.6,1231.2 L1588.5,1231.5 L1590.5,1231.8 L1592.5,1232.1 L1594.5,1232.4 L1596.4,1232.7 L1598.4,1233.0 L1600.4,1233.2 L1602.4,1233.5 L1604.4,1233.8 L1606.3,1234.1 L1608.3,1234.4 L1610.3,1234.7 L1612.3,1234.9 L1614.3,1235.2 L1616.2,1235.5 L1618.2,1235.8 L1620.2,1236.0 L1622.2,1236.3 L1624.2,1236.5 L1626.2,1236.8 L1628.1,1237.1 L1630.1,1237.3 L1632.1,1237.5 L1634.1,1237.8 L1636.1,1238.0 L1638.1,1238.3 L1640.0,1238.5 L1642.0,1238.7 L1644.0,1238.9 L1646.0,1239.2 L1648.0,1239.4 L1650.0,1239.6 L1652.0,1239.8 L1654.0,1240.0 L1656.0,1240.2 L1657.9,1240.4 L1659.9,1240.6 L1661.9,1240.8 L1663.9,1241.0 L1665.9,1241.1 L1667.9,1241.3 L1669.9,1241.5 L1671.9,1241.7 L1673.9,1241.8 L1675.9,1242.0 L1677.9,1242.1 L1679.9,1242.3 L1681.9,1242.4 L1683.8,1242.6 L1685.8,1242.7 L1687.8,1242.9 L1689.8,1243.0 L1691.8,1243.1 L1693.8,1243.2 L1695.8,1243.4 L1697.8,1243.5 L1699.8,1243.6 L1701.8,1243.7 L1703.8,1243.8 L1705.8,1243.9 L1707.8,1244.0 L1709.8,1244.1 L1711.8,1244.2 L1713.8,1244.3 L1715.8,1244.4 L1717.8,1244.5 L1719.8,1244.6 L1721.8,1244.7 L1723.8,1244.8 L1725.8,1244.8 L1727.8,1244.9 L1729.8,1245.0 L1731.8,1245.1 L1733.8,1245.2 L1735.8,1245.2 L1737.8,1245.3 L1739.8,1245.4 L1741.8,1245.5 L1743.8,1245.5 L1745.8,1245.6 L1747.8,1245.7 L1749.8,1245.7 L1751.8,1245.8 L1753.8,1245.9 L1755.8,1246.0 L1757.8,1246.0 L1759.8,1246.1 L1761.8,1246.2 L1763.8,1246.2 L1765.8,1246.3 L1767.8,1246.4 L1769.8,1246.5 L1771.8,1246.5 L1773.8,1246.6 L1775.8,1246.7 L1777.7,1246.7 L1779.7,1246.8 L1781.7,1246.9 L1783.7,1247.0 L1785.7,1247.0 L1787.7,1247.1 L1789.7,1247.2 L1791.7,1247.3 L1793.7,1247.4 L1795.7,1247.4 L1797.7,1247.5 L1799.7,1247.6 L1801.7,1247.7 L1803.7,1247.8 L1805.7,1247.8 L1807.7,1247.9 L1809.7,1248.0 L1811.7,1248.1 L1813.7,1248.2 L1815.7,1248.2 L1817.7,1248.3 L1819.7,1248.4 L1821.7,1248.5 L1823.7,1248.5 L1825.7,1248.6 L1827.7,1248.7 L1829.7,1248.8 L1831.7,1248.9 L1833.7,1248.9 L1835.7,1249.0 L1837.7,1249.1 L1839.7,1249.2 L1841.7,1249.2 L1843.7,1249.3 L1845.7,1249.4 L1847.7,1249.5 L1849.7,1249.5 L1851.7,1249.6 L1853.7,1249.7 L1855.7,1249.8 L1857.7,1249.8 L1859.7,1249.9 L1861.7,1250.0 L1863.7,1250.1 L1865.7,1250.1 L1867.7,1250.2 L1869.7,1250.3 L1871.7,1250.4 L1873.7,1250.4 L1875.7,1250.5 L1877.7,1250.6 L1879.7,1250.7 L1881.7,1250.7 L1883.7,1250.8 L1885.7,1250.9 L1887.7,1250.9 L1889.7,1251.0 L1891.7,1251.1 L1893.7,1251.2 L1895.7,1251.2 L1897.7,1251.3 L1899.7,1251.4 L1901.7,1251.4 L1903.7,1251.5 L1905.7,1251.6 L1907.7,1251.7 L1909.7,1251.7 L1911.7,1251.8 L1913.7,1251.9 L1915.7,1251.9 L1917.7,1252.0 L1919.6,1252.1 L1921.6,1252.1 L1923.6,1252.2 L1925.6,1252.3 L1927.6,1252.4 L1929.6,1252.4 L1931.6,1252.5 L1933.6,1252.6 L1935.6,1252.6 L1937.6,1252.7 L1939.6,1252.8 L1941.6,1252.8 L1943.6,1252.9 L1945.6,1253.0 L1947.6,1253.0 L1949.6,1253.1 L1951.6,1253.2 L1953.6,1253.2 L1955.6,1253.3 L1957.6,1253.4 L1959.6,1253.4 L1961.6,1253.5 L1963.6,1253.6 L1965.6,1253.6 L1967.6,1253.7 L1969.6,1253.8 L1971.6,1253.8 L1973.6,1253.9 L1975.6,1253.9 L1977.6,1254.0 L1979.6,1254.1 L1981.6,1254.1 L1983.6,1254.2 L1985.6,1254.3 L1987.6,1254.3 L1989.6,1254.4 L1991.6,1254.5 L1993.6,1254.5 L1995.6,1254.6 L1997.6,1254.6 L1999.6,1254.7 L2001.6,1254.8 L2003.6,1254.8 L2005.6,1254.9 L2007.6,1255.0 L2009.6,1255.0 L2011.6,1255.1 L2013.6,1255.1 L2015.6,1255.2 L2017.6,1255.3 L2019.6,1255.3 L2021.6,1255.4 L2023.6,1255.4 L2025.6,1255.5 L2027.6,1255.6 L2029.6,1255.6 L2031.6,1255.7 L2033.6,1255.7 L2035.6,1255.8 L2037.6,1255.8 L2039.6,1255.9 L2041.6,1256.0 L2043.6,1256.0 L2045.6,1256.1 L2047.6,1256.1 L2049.6,1256.2 L2051.6,1256.2 L2053.6,1256.3 L2055.6,1256.3 L2057.6,1256.4 L2059.6,1256.4 L2061.6,1256.5 L2063.6,1256.5 L2065.6,1256.6 L2067.6,1256.6 L2069.6,1256.7 L2071.6,1256.7 L2073.6,1256.8 L2075.6,1256.8 L2077.6,1256.9 L2079.6,1256.9 L2081.6,1257.0 L2083.6,1257.0 L2085.6,1257.1 L2087.6,1257.1 L2089.6,1257.2 L2091.6,1257.2 L2093.6,1257.3 L2095.6,1257.3 L2097.6,1257.3 L2099.6,1257.4 L2101.6,1257.4 L2103.6,1257.5 L2105.6,1257.5 L2107.6,1257.6 L2109.6,1257.6 L2111.6,1257.6 L2113.6,1257.7 L2115.6,1257.7 L2117.6,1257.8 L2119.6,1257.8 L2121.6,1257.8 L2123.6,1257.9 L2125.6,1257.9 L2127.6,1258.0 L2129.6,1258.0 L2131.6,1258.0 L2133.6,1258.1 L2135.6,1258.1 L2137.6,1258.1 L2139.6,1258.2 L2141.6,1258.2 L2143.6,1258.2 L2145.6,1258.3 L2147.6,1258.3 L2149.6,1258.4 L2151.6,1258.4 L2153.6,1258.4 L2155.6,1258.5 L2157.6,1258.5 L2159.6,1258.5 L2161.6,1258.6 L2163.6,1258.6 L2165.6,1258.6 L2167.6,1258.7 L2169.6,1258.7 L2171.6,1258.7 L2173.6,1258.8 L2175.6,1258.8 L2177.6,1258.8 L2179.6,1258.9 L2181.6,1258.9 L2183.6,1258.9 L2185.6,1259.0 L2187.6,1259.0 L2189.6,1259.0 L2191.6,1259.1 L2193.6,1259.1 L2195.6,1259.1 L2197.6,1259.2 L2199.6,1259.2 L2201.6,1259.2 L2203.6,1259.2 L2205.6,1259.3 L2207.6,1259.3 L2209.6,1259.3 L2211.6,1259.4 L2213.6,1259.4 L2215.6,1259.4 L2217.6,1259.5 L2219.6,1259.5 L2221.6,1259.5 L2223.5,1259.6 L2225.5,1259.6 L2227.5,1259.6 L2229.5,1259.7 L2231.5,1259.7 L2233.5,1259.7 L2235.5,1259.8 L2237.5,1259.8 L2239.5,1259.8 L2241.5,1259.9 L2243.5,1259.9 L2245.5,1259.9 L2247.5,1260.0 L2249.5,1260.0" fill="none" stroke="#000" stroke-width="12.00" stroke-linecap="round" stroke-linejoin="round" clip-path="url(#cb)"/>
<path d="M502.0,161.0 L504.0,161.0 L506.0,161.1 L508.0,161.1 L510.0,161.1 L512.0,161.2 L514.0,161.2 L516.0,161.2 L518.0,161.3 L520.0,161.3 L522.0,161.3 L524.0,161.4 L526.0,161.4 L528.0,161.4 L530.0,161.5 L532.0,161.5 L534.0,161.5 L536.0,161.6 L538.0,161.6 L540.0,161.6 L542.0,161.7 L544.0,161.7 L546.0,161.7 L548.0,161.8 L550.0,161.8 L552.0,161.8 L554.0,161.9 L556.0,161.9 L558.0,161.9 L560.0,162.0 L562.0,162.0 L564.0,162.0 L566.0,162.1 L568.0,162.1 L570.0,162.1 L572.0,162.2 L574.0,162.2 L576.0,162.2 L578.0,162.3 L580.0,162.3 L582.0,162.3 L584.0,162.4 L586.0,162.4 L588.0,162.4 L590.0,162.5 L592.0,162.5 L594.0,162.5 L596.0,162.6 L598.0,162.6 L600.0,162.6 L602.0,162.7 L604.0,162.7 L606.0,162.7 L608.0,162.8 L610.0,162.8 L612.0,162.8 L614.0,162.9 L616.0,162.9 L618.0,162.9 L620.0,163.0 L622.0,163.0 L624.0,163.0 L626.0,163.1 L628.0,163.1 L630.0,163.1 L632.0,163.2 L634.0,163.2 L636.0,163.3 L638.0,163.3 L640.0,163.3 L642.0,163.4 L644.0,163.4 L646.0,163.4 L648.0,163.5 L650.0,163.5 L652.0,163.5 L654.0,163.6 L656.0,163.6 L658.0,163.6 L660.0,163.7 L662.0,163.7 L664.0,163.7 L666.0,163.8 L668.0,163.8 L670.0,163.8 L672.0,163.9 L674.0,163.9 L676.0,163.9 L678.0,164.0 L680.0,164.0 L682.0,164.0 L684.0,164.1 L686.0,164.1 L688.0,164.1 L690.0,164.2 L692.0,164.2 L694.0,164.2 L696.0,164.3 L698.0,164.3 L700.0,164.3 L702.0,164.4 L704.0,164.4 L706.0,164.4 L708.0,164.5 L710.0,164.5 L712.0,164.5 L714.0,164.6 L716.0,164.6 L718.0,164.6 L720.0,164.7 L722.0,164.7 L724.0,164.7 L726.0,164.8 L728.0,164.8 L730.0,164.8 L732.0,164.9 L734.0,164.9 L736.0,165.0 L738.0,165.0 L740.0,165.0 L742.0,165.1 L744.0,165.1 L746.0,165.1 L748.0,165.2 L750.0,165.2 L752.0,165.3 L754.0,165.3 L756.0,165.4 L758.0,165.4 L760.0,165.4 L762.0,165.5 L764.0,165.5 L766.0,165.6 L768.0,165.6 L770.0,165.7 L772.0,165.7 L774.0,165.8 L776.0,165.8 L778.0,165.9 L780.0,165.9 L782.0,166.0 L784.0,166.1 L786.0,166.1 L788.0,166.2 L790.0,166.2 L791.9,166.3 L793.9,166.4 L795.9,166.4 L797.9,166.5 L799.9,166.6 L801.9,166.7 L803.9,166.7 L805.9,166.8 L807.9,166.9 L809.9,167.0 L811.9,167.1 L813.9,167.2 L815.9,167.3 L817.9,167.4 L819.9,167.5 L821.9,167.6 L823.9,167.7 L825.9,167.8 L827.9,167.9 L829.9,168.0 L831.9,168.1 L833.9,168.2 L835.9,168.3 L837.9,168.4 L839.9,168.6 L841.9,168.7 L843.9,168.8 L845.9,168.9 L847.9,169.1 L849.9,169.2 L851.9,169.3 L853.9,169.4 L855.9,169.6 L857.9,169.7 L859.9,169.8 L861.8,170.0 L863.8,170.1 L865.8,170.2 L867.8,170.4 L869.8,170.5 L871.8,170.6 L873.8,170.8 L875.8,170.9 L877.8,171.0 L879.8,171.2 L881.8,171.3 L883.8,171.4 L885.8,171.6 L887.8,171.7 L889.8,171.8 L891.8,172.0 L893.8,172.1 L895.8,172.2 L897.8,172.4 L899.8,172.5 L901.8,172.7 L903.7,172.8 L905.7,173.0 L907.7,173.1 L909.7,173.3 L911.7,173.4 L913.7,173.6 L915.7,173.8 L917.7,173.9 L919.7,174.1 L921.7,174.3 L923.7,174.5 L925.7,174.7 L927.6,174.9 L929.6,175.1 L931.6,175.4 L933.6,175.6 L935.6,175.9 L937.6,176.1 L939.5,176.4 L941.5,176.8 L943.5,177.1 L945.4,177.4 L947.4,177.8 L949.3,178.2 L951.3,178.7 L953.2,179.1 L955.1,179.6 L957.1,180.1 L959.0,180.6 L960.9,181.1 L962.8,181.7 L964.7,182.3 L966.6,182.9 L968.5,183.5 L970.4,184.1 L972.3,184.8 L974.2,185.5 L976.1,186.2 L977.9,186.9 L979.8,187.6 L981.6,188.4 L983.5,189.1 L985.3,189.9 L987.1,190.7 L988.9,191.6 L990.7,192.4 L992.5,193.3 L994.2,194.3 L996.0,195.2 L997.7,196.2 L999.4,197.2 L1001.1,198.2 L1002.8,199.3 L1004.4,200.4 L1006.0,201.5 L1007.6,202.7 L1009.2,203.9 L1010.7,205.1 L1012.2,206.4 L1013.7,207.7 L1015.1,209.1 L1016.6,210.4 L1018.0,211.8 L1019.3,213.3 L1020.7,214.7 L1022.0,216.2 L1023.3,217.7 L1024.6,219.2 L1025.8,220.8 L1027.1,222.3 L1028.3,223.9 L1029.6,225.4 L1030.8,227.0 L1032.0,228.6 L1033.2,230.2 L1034.4,231.8 L1035.6,233.4 L1036.8,235.0 L1038.0,236.6 L1039.2,238.2 L1040.4,239.8 L1041.5,241.4 L1042.7,243.0 L1043.8,244.7 L1044.9,246.3 L1046.0,248.0 L1047.1,249.6 L1048.1,251.3 L1049.1,253.0 L1050.1,254.8 L1051.1,256.5 L1052.0,258.2 L1053.0,260.0 L1053.9,261.8 L1054.7,263.6 L1055.6,265.4 L1056.5,267.2 L1057.3,269.0 L1058.1,270.8 L1058.9,272.6 L1059.7,274.5 L1060.4,276.3 L1061.2,278.2 L1062.0,280.0 L1062.7,281.9 L1063.4,283.7 L1064.2,285.6 L1064.9,287.5 L1065.6,289.3 L1066.3,291.2 L1067.0,293.1 L1067.7,294.9 L1068.4,296.8 L1069.1,298.7 L1069.7,300.6 L1070.4,302.5 L1071.0,304.4 L1071.7,306.3 L1072.3,308.2 L1072.9,310.1 L1073.6,312.0 L1074.2,313.9 L1074.8,315.8 L1075.4,317.7 L1075.9,319.6 L1076.5,321.5 L1077.1,323.4 L1077.6,325.3 L1078.2,327.3 L1078.7,329.2 L1079.3,331.1 L1079.8,333.0 L1080.3,335.0 L1080.9,336.9 L1081.4,338.8 L1081.9,340.8 L1082.4,342.7 L1082.9,344.6 L1083.4,346.6 L1083.9,348.5 L1084.4,350.4 L1084.9,352.4 L1085.3,354.3 L1085.8,356.3 L1086.3,358.2 L1086.8,360.1 L1087.2,362.1 L1087.7,364.0 L1088.2,366.0 L1088.6,367.9 L1089.1,369.9 L1089.5,371.8 L1090.0,373.8 L1090.4,375.7 L1090.9,377.7 L1091.3,379.6 L1091.8,381.6 L1092.2,383.5 L1092.6,385.5 L1093.1,387.4 L1093.5,389.4 L1093.9,391.3 L1094.4,393.3 L1094.8,395.2 L1095.2,397.2 L1095.7,399.1 L1096.1,401.1 L1096.5,403.0 L1097.0,405.0 L1097.4,406.9 L1097.9,408.9 L1098.3,410.8 L1098.8,412.8 L1099.3,414.7 L1099.7,416.7 L1100.2,418.6 L1100.7,420.6 L1101.2,422.5 L1101.6,424.4 L1102.1,426.4 L1102.6,428.3 L1103.1,430.3 L1103.6,432.2 L1104.1,434.1 L1104.6,436.1 L1105.0,438.0 L1105.5,440.0 L1106.0,441.9 L1106.5,443.8 L1107.0,445.8 L1107.5,447.7 L1108.0,449.7 L1108.4,451.6 L1108.9,453.5 L1109.4,455.5 L1109.9,457.4 L1110.3,459.4 L1110.8,461.3 L1111.2,463.3 L1111.7,465.2 L1112.1,467.2 L1112.6,469.1 L1113.0,471.1 L1113.4,473.0 L1113.8,475.0 L1114.3,476.9 L1114.7,478.9 L1115.1,480.9 L1115.5,482.8 L1115.9,484.8 L1116.3,486.7 L1116.7,488.7 L1117.1,490.7 L1117.5,492.6 L1117.9,494.6 L1118.2,496.5 L1118.6,498.5 L1119.0,500.5 L1119.4,502.4 L1119.8,504.4 L1120.1,506.4 L1120.5,508.3 L1120.9,510.3 L1121.2,512.3 L1121.6,514.2 L1122.0,516.2 L1122.3,518.2 L1122.7,520.1 L1123.0,522.1 L1123.4,524.1 L1123.8,526.0 L1124.1,528.0 L1124.4,530.0 L1124.8,531.9 L1125.1,533.9 L1125.5,535.9 L1125.8,537.9 L1126.1,539.8 L1126.4,541.8 L1126.8,543.8 L1127.1,545.7 L1127.4,547.7 L1127.8,549.7 L1128.1,551.7 L1128.4,553.6 L1128.7,555.6 L1129.0,557.6 L1129.4,559.6 L1129.7,561.5 L1130.0,563.5 L1130.3,565.5 L1130.6,567.5 L1131.0,569.4 L1131.3,571.4 L1131.6,573.4 L1131.9,575.4 L1132.2,577.3 L1132.6,579.3 L1132.9,581.3 L1133.2,583.3 L1133.5,585.2 L1133.8,587.2 L1134.1,589.2 L1134.4,591.2 L1134.7,593.1 L1135.0,595.1 L1135.4,597.1 L1135.7,599.1 L1136.0,601.0 L1136.3,603.0 L1136.6,605.0 L1136.9,607.0 L1137.2,608.9 L1137.5,610.9 L1137.8,612.9 L1138.0,614.9 L1138.3,616.9 L1138.6,618.8 L1138.9,620.8 L1139.2,622.8 L1139.5,624.8 L1139.8,626.8 L1140.1,628.7 L1140.4,630.7 L1140.6,632.7 L1140.9,634.7 L1141.2,636.7 L1141.5,638.6 L1141.8,640.6 L1142.1,642.6 L1142.3,644.6 L1142.6,646.6 L1142.9,648.5 L1143.2,650.5 L1143.5,652.5 L1143.7,654.5 L1144.0,656.5 L1144.3,658.4 L1144.6,660.4 L1144.8,662.4 L1145.1,664.4 L1145.4,666.4 L1145.6,668.3 L1145.9,670.3 L1146.2,672.3 L1146.5,674.3 L1146.7,676.3 L1147.0,678.3 L1147.3,680.2 L1147.5,682.2 L1147.8,684.2 L1148.1,686.2 L1148.3,688.2 L1148.6,690.1 L1148.8,692.1 L1149.1,694.1 L1149.3,696.1 L1149.6,698.1 L1149.9,700.1 L1150.1,702.0 L1150.3,704.0 L1150.6,706.0 L1150.8,708.0 L1151.1,710.0 L1151.3,712.0 L1151.6,714.0 L1151.8,715.9 L1152.0,717.9 L1152.3,719.9 L1152.5,721.9 L1152.7,723.9 L1153.0,725.9 L1153.2,727.9 L1153.4,729.8 L1153.7,731.8 L1153.9,733.8 L1154.2,735.8 L1154.4,737.8 L1154.6,739.8 L1154.9,741.8 L1155.1,743.7 L1155.3,745.7 L1155.6,747.7 L1155.8,749.7 L1156.1,751.7 L1156.3,753.7 L1156.6,755.7 L1156.8,757.6 L1157.1,759.6 L1157.3,761.6 L1157.6,763.6 L1157.8,765.6 L1158.1,767.6 L1158.4,769.5 L1158.6,771.5 L1158.9,773.5 L1159.1,775.5 L1159.4,777.5 L1159.7,779.5 L1159.9,781.4 L1160.2,783.4 L1160.4,785.4 L1160.7,787.4 L1161.0,789.4 L1161.2,791.4 L1161.5,793.3 L1161.7,795.3 L1162.0,797.3 L1162.3,799.3 L1162.5,801.3 L1162.8,803.3 L1163.1,805.2 L1163.3,807.2 L1163.6,809.2 L1163.9,811.2 L1164.1,813.2 L1164.4,815.1 L1164.7,817.1 L1165.0,819.1 L1165.2,821.1 L1165.5,823.1 L1165.8,825.0 L1166.1,827.0 L1166.3,829.0 L1166.6,831.0 L1166.9,833.0 L1167.2,835.0 L1167.5,836.9 L1167.7,838.9 L1168.0,840.9 L1168.3,842.9 L1168.6,844.9 L1168.9,846.8 L1169.2,848.8 L1169.5,850.8 L1169.7,852.8 L1170.0,854.7 L1170.3,856.7 L1170.6,858.7 L1170.9,860.7 L1171.2,862.7 L1171.5,864.6 L1171.8,866.6 L1172.1,868.6 L1172.4,870.6 L1172.7,872.5 L1173.0,874.5 L1173.3,876.5 L1173.6,878.5 L1173.9,880.4 L1174.3,882.4 L1174.6,884.4 L1174.9,886.4 L1175.2,888.4 L1175.5,890.3 L1175.8,892.3 L1176.1,894.3 L1176.4,896.3 L1176.8,898.2 L1177.1,900.2 L1177.4,902.2 L1177.7,904.2 L1178.0,906.1 L1178.3,908.1 L1178.7,910.1 L1179.0,912.0 L1179.3,914.0 L1179.6,916.0 L1180.0,918.0 L1180.3,919.9 L1180.6,921.9 L1180.9,923.9 L1181.3,925.9 L1181.6,927.8 L1181.9,929.8 L1182.2,931.8 L1182.6,933.8 L1182.9,935.7 L1183.2,937.7 L1183.6,939.7 L1183.9,941.6 L1184.2,943.6 L1184.6,945.6 L1184.9,947.6 L1185.2,949.5 L1185.6,951.5 L1185.9,953.5 L1186.3,955.4 L1186.6,957.4 L1187.0,959.4 L1187.3,961.4 L1187.7,963.3 L1188.0,965.3 L1188.4,967.3 L1188.8,969.2 L1189.1,971.2 L1189.5,973.1 L1189.9,975.1 L1190.3,977.1 L1190.7,979.0 L1191.1,981.0 L1191.5,982.9 L1191.9,984.9 L1192.4,986.8 L1192.8,988.8 L1193.2,990.7 L1193.7,992.7 L1194.2,994.6 L1194.6,996.6 L1195.1,998.5 L1195.6,1000.5 L1196.1,1002.4 L1196.6,1004.3 L1197.2,1006.2 L1197.7,1008.2 L1198.2,1010.1 L1198.8,1012.0 L1199.4,1013.9 L1200.0,1015.8 L1200.5,1017.7 L1201.1,1019.7 L1201.8,1021.6 L1202.4,1023.5 L1203.0,1025.4 L1203.6,1027.2 L1204.3,1029.1 L1204.9,1031.0 L1205.6,1032.9 L1206.3,1034.8 L1207.0,1036.7 L1207.7,1038.5 L1208.4,1040.4 L1209.1,1042.3 L1209.9,1044.1 L1210.6,1046.0 L1211.4,1047.8 L1212.2,1049.7 L1212.9,1051.5 L1213.8,1053.3 L1214.6,1055.1 L1215.4,1056.9 L1216.3,1058.7 L1217.2,1060.5 L1218.1,1062.3 L1219.0,1064.1 L1219.9,1065.9 L1220.8,1067.6 L1221.8,1069.3 L1222.8,1071.1 L1223.8,1072.8 L1224.8,1074.5 L1225.9,1076.2 L1226.9,1077.9 L1228.0,1079.6 L1229.1,1081.3 L1230.2,1082.9 L1231.3,1084.6 L1232.5,1086.2 L1233.6,1087.8 L1234.8,1089.4 L1236.0,1091.1 L1237.2,1092.6 L1238.4,1094.2 L1239.6,1095.8 L1240.9,1097.4 L1242.1,1098.9 L1243.4,1100.5 L1244.6,1102.0 L1245.9,1103.5 L1247.2,1105.0 L1248.6,1106.5 L1249.9,1108.0 L1251.3,1109.5 L1252.6,1110.9 L1254.0,1112.4 L1255.4,1113.8 L1256.8,1115.2 L1258.3,1116.5 L1259.7,1117.9 L1261.2,1119.2 L1262.7,1120.5 L1264.2,1121.8 L1265.7,1123.1 L1267.3,1124.4 L1268.8,1125.6 L1270.4,1126.9 L1272.0,1128.1 L1273.5,1129.3 L1275.1,1130.5 L1276.7,1131.8 L1278.3,1133.0 L1279.9,1134.2 L1281.5,1135.4 L1283.0,1136.6 L1284.6,1137.9 L1286.2,1139.1 L1287.7,1140.4 L1289.3,1141.6 L1290.8,1142.9 L1292.3,1144.2 L1293.9,1145.5 L1295.4,1146.8 L1296.9,1148.1 L1298.4,1149.4 L1299.9,1150.7 L1301.4,1152.0 L1302.9,1153.3 L1304.4,1154.7 L1305.9,1156.0 L1307.4,1157.3 L1308.9,1158.6 L1310.4,1159.9 L1312.0,1161.2 L1313.5,1162.5 L1315.0,1163.7 L1316.6,1165.0 L1318.2,1166.2 L1319.7,1167.5 L1321.3,1168.7 L1322.9,1169.8 L1324.5,1171.0 L1326.2,1172.2 L1327.8,1173.3 L1329.5,1174.4 L1331.1,1175.5 L1332.8,1176.5 L1334.5,1177.6 L1336.2,1178.6 L1337.9,1179.6 L1339.7,1180.6 L1341.4,1181.6 L1343.1,1182.6 L1344.9,1183.5 L1346.6,1184.5 L1348.4,1185.4 L1350.2,1186.4 L1351.9,1187.3 L1353.7,1188.3 L1355.4,1189.3 L1357.1,1190.3 L1358.8,1191.3 L1360.6,1192.3 L1362.3,1193.3 L1364.0,1194.3 L1365.6,1195.4 L1367.3,1196.5 L1369.0,1197.6 L1370.7,1198.7 L1372.3,1199.8 L1374.0,1200.9 L1375.6,1202.0 L1377.3,1203.1 L1378.9,1204.2 L1380.6,1205.3 L1382.3,1206.4 L1383.9,1207.4 L1385.6,1208.4 L1387.3,1209.4 L1389.1,1210.4 L1390.8,1211.4 L1392.6,1212.3 L1394.3,1213.2 L1396.1,1214.1 L1397.9,1214.9 L1399.7,1215.7 L1401.6,1216.5 L1403.4,1217.3 L1405.2,1218.1 L1407.1,1218.8 L1408.9,1219.5 L1410.8,1220.2 L1412.7,1220.9 L1414.6,1221.6 L1416.4,1222.3 L1418.3,1223.0 L1420.2,1223.6 L1422.1,1224.3 L1424.0,1224.9 L1425.9,1225.5 L1427.8,1226.2 L1429.7,1226.8 L1431.6,1227.4 L1433.5,1228.0 L1435.4,1228.6 L1437.3,1229.3 L1439.2,1229.9 L1441.1,1230.5 L1443.0,1231.1 L1444.9,1231.7 L1446.8,1232.3 L1448.7,1232.9 L1450.6,1233.5 L1452.5,1234.1 L1454.4,1234.7 L1456.3,1235.3 L1458.3,1235.9 L1460.2,1236.5 L1462.1,1237.1 L1464.0,1237.6 L1465.9,1238.2 L1467.8,1238.7 L1469.8,1239.2 L1471.7,1239.7 L1473.6,1240.2 L1475.6,1240.7 L1477.5,1241.1 L1479.5,1241.6 L1481.4,1242.0 L1483.4,1242.4 L1485.3,1242.8 L1487.3,1243.2 L1489.3,1243.5 L1491.2,1243.9 L1493.2,1244.2 L1495.2,1244.5 L1497.1,1244.9 L1499.1,1245.2 L1501.1,1245.5 L1503.1,1245.8 L1505.1,1246.0 L1507.0,1246.3 L1509.0,1246.6 L1511.0,1246.8 L1513.0,1247.1 L1515.0,1247.4 L1516.9,1247.6 L1518.9,1247.8 L1520.9,1248.1 L1522.9,1248.3 L1524.9,1248.6 L1526.9,1248.8 L1528.9,1249.0 L1530.9,1249.2 L1532.8,1249.5 L1534.8,1249.7 L1536.8,1249.9 L1538.8,1250.1 L1540.8,1250.3 L1542.8,1250.5 L1544.8,1250.7 L1546.8,1251.0 L1548.7,1251.2 L1550.7,1251.4 L1552.7,1251.6 L1554.7,1251.8 L1556.7,1252.0 L1558.7,1252.2 L1560.7,1252.4 L1562.7,1252.6 L1564.7,1252.8 L1566.7,1253.0 L1568.6,1253.1 L1570.6,1253.3 L1572.6,1253.5 L1574.6,1253.7 L1576.6,1253.9 L1578.6,1254.1 L1580.6,1254.3 L1582.6,1254.5 L1584.6,1254.6 L1586.6,1254.8 L1588.6,1255.0 L1590.6,1255.2 L1592.5,1255.4 L1594.5,1255.5 L1596.5,1255.7 L1598.5,1255.9 L1600.5,1256.1 L1602.5,1256.2 L1604.5,1256.4 L1606.5,1256.6 L1608.5,1256.7 L1610.5,1256.9 L1612.5,1257.1 L1614.5,1257.2 L1616.5,1257.4 L1618.5,1257.6 L1620.4,1257.7 L1622.4,1257.9 L1624.4,1258.0 L1626.4,1258.2 L1628.4,1258.4 L1630.4,1258.5 L1632.4,1258.7 L1634.4,1258.8 L1636.4,1259.0 L1638.4,1259.1 L1640.4,1259.3 L1642.4,1259.4 L1644.4,1259.6 L1646.4,1259.7 L1648.4,1259.8 L1650.4,1260.0 L1652.4,1260.1 L1654.3,1260.3 L1656.3,1260.4 L1658.3,1260.5 L1660.3,1260.7 L1662.3,1260.8 L1664.3,1260.9 L1666.3,1261.0 L1668.3,1261.2 L1670.3,1261.3 L1672.3,1261.4 L1674.3,1261.5 L1676.3,1261.6 L1678.3,1261.7 L1680.3,1261.9 L1682.3,1262.0 L1684.3,1262.1 L1686.3,1262.2 L1688.3,1262.3 L1690.3,1262.4 L1692.3,1262.5 L1694.3,1262.6 L1696.3,1262.7 L1698.3,1262.8 L1700.3,1262.9 L1702.3,1263.0 L1704.3,1263.0 L1706.3,1263.1 L1708.3,1263.2 L1710.3,1263.3 L1712.3,1263.4 L1714.3,1263.5 L1716.3,1263.6 L1718.3,1263.6 L1720.3,1263.7 L1722.3,1263.8 L1724.3,1263.9 L1726.3,1264.0 L1728.2,1264.0 L1730.2,1264.1 L1732.2,1264.2 L1734.2,1264.3 L1736.2,1264.3 L1738.2,1264.4 L1740.2,1264.5 L1742.2,1264.6 L1744.2,1264.6 L1746.2,1264.7 L1748.2,1264.8 L1750.2,1264.9 L1752.2,1264.9 L1754.2,1265.0 L1756.2,1265.1 L1758.2,1265.2 L1760.2,1265.2 L1762.2,1265.3 L1764.2,1265.4 L1766.2,1265.5 L1768.2,1265.5 L1770.2,1265.6 L1772.2,1265.7 L1774.2,1265.8 L1776.2,1265.9 L1778.2,1265.9 L1780.2,1266.0 L1782.2,1266.1 L1784.2,1266.2 L1786.2,1266.2 L1788.2,1266.3 L1790.2,1266.4 L1792.2,1266.5 L1794.2,1266.6 L1796.2,1266.7 L1798.2,1266.7 L1800.2,1266.8 L1802.2,1266.9 L1804.2,1267.0 L1806.2,1267.1 L1808.2,1267.1 L1810.2,1267.2 L1812.2,1267.3 L1814.2,1267.4 L1816.2,1267.5 L1818.2,1267.6 L1820.2,1267.6 L1822.2,1267.7 L1824.2,1267.8 L1826.2,1267.9 L1828.2,1268.0 L1830.2,1268.1 L1832.2,1268.1 L1834.2,1268.2 L1836.2,1268.3 L1838.2,1268.4 L1840.2,1268.5 L1842.2,1268.6 L1844.2,1268.7 L1846.2,1268.7 L1848.2,1268.8 L1850.2,1268.9 L1852.1,1269.0 L1854.1,1269.1 L1856.1,1269.2 L1858.1,1269.2 L1860.1,1269.3 L1862.1,1269.4 L1864.1,1269.5 L1866.1,1269.6 L1868.1,1269.7 L1870.1,1269.7 L1872.1,1269.8 L1874.1,1269.9 L1876.1,1270.0 L1878.1,1270.1 L1880.1,1270.1 L1882.1,1270.2 L1884.1,1270.3 L1886.1,1270.4 L1888.1,1270.5 L1890.1,1270.6 L1892.1,1270.6 L1894.1,1270.7 L1896.1,1270.8 L1898.1,1270.9 L1900.1,1271.0 L1902.1,1271.1 L1904.1,1271.1 L1906.1,1271.2 L1908.1,1271.3 L1910.1,1271.4 L1912.1,1271.5 L1914.1,1271.5 L1916.1,1271.6 L1918.1,1271.7 L1920.1,1271.8 L1922.1,1271.9 L1924.1,1272.0 L1926.1,1272.0 L1928.1,1272.1 L1930.1,1272.2 L1932.1,1272.3 L1934.1,1272.4 L1936.1,1272.4 L1938.1,1272.5 L1940.1,1272.6 L1942.1,1272.7 L1944.1,1272.8 L1946.1,1272.8 L1948.1,1272.9 L1950.1,1273.0 L1952.1,1273.1 L1954.1,1273.2 L1956.1,1273.2 L1958.1,1273.3 L1960.1,1273.4 L1962.1,1273.5 L1964.1,1273.6 L1966.1,1273.6 L1968.1,1273.7 L1970.1,1273.8 L1972.0,1273.9 L1974.0,1273.9 L1976.0,1274.0 L1978.0,1274.1 L1980.0,1274.2 L1982.0,1274.3 L1984.0,1274.3 L1986.0,1274.4 L1988.0,1274.5 L1990.0,1274.6 L1992.0,1274.6 L1994.0,1274.7 L1996.0,1274.8 L1998.0,1274.9 L2000.0,1275.0 L2002.0,1275.0 L2004.0,1275.1 L2006.0,1275.2 L2008.0,1275.3 L2010.0,1275.3 L2012.0,1275.4 L2014.0,1275.5 L2016.0,1275.6 L2018.0,1275.6 L2020.0,1275.7 L2022.0,1275.8 L2024.0,1275.9 L2026.0,1275.9 L2028.0,1276.0 L2030.0,1276.1 L2032.0,1276.1 L2034.0,1276.2 L2036.0,1276.3 L2038.0,1276.4 L2040.0,1276.4 L2042.0,1276.5 L2044.0,1276.6 L2046.0,1276.7 L2048.0,1276.7 L2050.0,1276.8 L2052.0,1276.9 L2054.0,1276.9 L2056.0,1277.0 L2058.0,1277.1 L2060.0,1277.1 L2062.0,1277.2 L2064.0,1277.3 L2066.0,1277.3 L2068.0,1277.4 L2070.0,1277.5 L2072.0,1277.5 L2074.0,1277.6 L2076.0,1277.7 L2078.0,1277.7 L2080.0,1277.8 L2082.0,1277.9 L2084.0,1277.9 L2086.0,1278.0 L2088.0,1278.1 L2090.0,1278.1 L2092.0,1278.2 L2094.0,1278.2 L2096.0,1278.3 L2098.0,1278.4 L2100.0,1278.4 L2102.0,1278.5 L2104.0,1278.5 L2106.0,1278.6 L2108.0,1278.7 L2110.0,1278.7 L2112.0,1278.8 L2114.0,1278.8 L2116.0,1278.9 L2118.0,1279.0 L2120.0,1279.0 L2122.0,1279.1 L2124.0,1279.1 L2126.0,1279.2 L2128.0,1279.3 L2130.0,1279.3 L2132.0,1279.4 L2134.0,1279.4 L2136.0,1279.5 L2138.0,1279.5 L2140.0,1279.6 L2142.0,1279.7 L2143.9,1279.7 L2145.9,1279.8 L2147.9,1279.8 L2149.9,1279.9 L2151.9,1279.9 L2153.9,1280.0 L2155.9,1280.1 L2157.9,1280.1 L2159.9,1280.2 L2161.9,1280.2 L2163.9,1280.3 L2165.9,1280.3 L2167.9,1280.4 L2169.9,1280.4 L2171.9,1280.5 L2173.9,1280.5 L2175.9,1280.6 L2177.9,1280.7 L2179.9,1280.7 L2181.9,1280.8 L2183.9,1280.8 L2185.9,1280.9 L2187.9,1280.9 L2189.9,1281.0 L2191.9,1281.0 L2193.9,1281.1 L2195.9,1281.1 L2197.9,1281.2 L2199.9,1281.2 L2201.9,1281.3 L2203.9,1281.4 L2205.9,1281.4 L2207.9,1281.5 L2209.9,1281.5 L2211.9,1281.6 L2213.9,1281.6 L2215.9,1281.7 L2217.9,1281.7 L2219.9,1281.8 L2221.9,1281.8 L2223.9,1281.9 L2225.9,1281.9 L2227.9,1282.0 L2229.9,1282.1 L2231.9,1282.1 L2233.9,1282.2 L2235.9,1282.2 L2237.9,1282.3 L2239.9,1282.3 L2241.9,1282.4 L2243.9,1282.4 L2245.9,1282.5 L2247.9,1282.5 L2249.9,1282.6" fill="none" stroke="#000" stroke-width="12.00" stroke-linecap="round" stroke-linejoin="round" clip-path="url(#cb)"/>
<path d="M502.0,161.0 L504.0,161.0 L506.0,161.0 L508.0,161.1 L510.0,161.1 L512.0,161.1 L514.0,161.1 L516.0,161.1 L518.0,161.2 L520.0,161.2 L522.0,161.2 L524.0,161.2 L526.0,161.3 L528.0,161.3 L530.0,161.3 L532.0,161.3 L534.0,161.3 L536.0,161.4 L538.0,161.4 L540.0,161.4 L542.0,161.4 L544.0,161.4 L546.0,161.5 L548.0,161.5 L550.0,161.5 L552.0,161.5 L554.0,161.5 L556.0,161.6 L558.0,161.6 L560.0,161.6 L562.0,161.6 L564.0,161.7 L566.0,161.7 L568.0,161.7 L570.0,161.7 L572.0,161.7 L574.0,161.8 L576.0,161.8 L578.0,161.8 L580.0,161.8 L582.0,161.8 L584.0,161.9 L586.0,161.9 L588.0,161.9 L590.0,161.9 L592.0,162.0 L594.0,162.0 L596.0,162.0 L598.0,162.0 L600.0,162.0 L602.0,162.1 L604.0,162.1 L606.0,162.1 L608.0,162.1 L610.0,162.2 L612.0,162.2 L614.0,162.2 L616.0,162.2 L618.0,162.3 L620.0,162.3 L622.0,162.3 L624.0,162.3 L626.0,162.4 L628.0,162.4 L630.0,162.4 L632.0,162.4 L634.0,162.5 L636.0,162.5 L638.0,162.5 L640.0,162.6 L642.0,162.6 L644.0,162.6 L646.0,162.6 L648.0,162.7 L650.0,162.7 L652.0,162.7 L654.0,162.8 L656.0,162.8 L658.0,162.8 L660.0,162.9 L662.0,162.9 L664.0,162.9 L666.0,162.9 L668.0,163.0 L670.0,163.0 L672.0,163.0 L674.0,163.1 L676.0,163.1 L678.0,163.1 L680.0,163.2 L682.0,163.2 L684.0,163.3 L686.0,163.3 L688.0,163.3 L690.0,163.4 L692.0,163.4 L694.0,163.4 L696.0,163.5 L698.0,163.5 L700.0,163.5 L702.0,163.6 L704.0,163.6 L706.0,163.6 L708.0,163.7 L710.0,163.7 L712.0,163.7 L714.0,163.8 L716.0,163.8 L718.0,163.9 L720.0,163.9 L722.0,163.9 L724.0,164.0 L726.0,164.0 L728.0,164.0 L730.0,164.1 L732.0,164.1 L734.0,164.2 L736.0,164.2 L738.0,164.2 L740.0,164.3 L742.0,164.3 L744.0,164.4 L746.0,164.4 L748.0,164.4 L750.0,164.5 L752.0,164.5 L754.0,164.6 L756.0,164.6 L758.0,164.7 L760.0,164.7 L762.0,164.7 L764.0,164.8 L766.0,164.8 L768.0,164.9 L770.0,164.9 L772.0,165.0 L774.0,165.0 L776.0,165.1 L778.0,165.1 L780.0,165.2 L782.0,165.2 L784.0,165.3 L786.0,165.4 L788.0,165.4 L790.0,165.5 L792.0,165.5 L794.0,165.6 L796.0,165.7 L798.0,165.7 L799.9,165.8 L801.9,165.9 L803.9,165.9 L805.9,166.0 L807.9,166.1 L809.9,166.1 L811.9,166.2 L813.9,166.3 L815.9,166.4 L817.9,166.4 L819.9,166.5 L821.9,166.6 L823.9,166.7 L825.9,166.8 L827.9,166.9 L829.9,167.0 L831.9,167.1 L833.9,167.2 L835.9,167.3 L837.9,167.4 L839.9,167.5 L841.9,167.6 L843.9,167.7 L845.9,167.8 L847.9,167.9 L849.9,168.0 L851.9,168.2 L853.9,168.3 L855.9,168.4 L857.9,168.5 L859.9,168.6 L861.9,168.7 L863.9,168.8 L865.9,169.0 L867.9,169.1 L869.9,169.2 L871.9,169.3 L873.8,169.4 L875.8,169.5 L877.8,169.6 L879.8,169.7 L881.8,169.8 L883.8,170.0 L885.8,170.1 L887.8,170.2 L889.8,170.3 L891.8,170.4 L893.8,170.5 L895.8,170.7 L897.8,170.8 L899.8,170.9 L901.8,171.1 L903.8,171.2 L905.8,171.3 L907.8,171.5 L909.8,171.6 L911.8,171.8 L913.8,171.9 L915.8,172.1 L917.7,172.3 L919.7,172.5 L921.7,172.6 L923.7,172.8 L926.0,173.0 L927.9,173.3 L929.9,173.5 L931.9,173.7 L933.9,173.9 L935.9,174.2 L937.9,174.4 L939.8,174.7 L941.8,175.0 L943.8,175.3 L945.7,175.7 L947.7,176.0 L949.7,176.4 L951.6,176.8 L953.6,177.2 L955.5,177.6 L957.4,178.1 L959.4,178.6 L961.3,179.1 L963.2,179.6 L965.1,180.1 L967.0,180.7 L969.0,181.3 L971.1,181.9 L973.0,182.6 L974.9,183.2 L976.8,183.8 L978.6,184.5 L980.5,185.2 L982.4,185.9 L984.2,186.7 L986.3,187.5 L988.1,188.3 L989.9,189.1 L991.7,190.0 L993.5,190.9 L995.5,191.9 L997.2,192.8 L999.0,193.8 L1000.7,194.7 L1002.4,195.8 L1004.3,196.9 L1005.9,198.0 L1007.6,199.1 L1009.2,200.3 L1010.8,201.5 L1012.5,202.8 L1014.1,204.1 L1015.6,205.4 L1017.0,206.7 L1018.5,208.0 L1020.1,209.6 L1021.5,211.0 L1022.9,212.4 L1024.2,213.8 L1025.5,215.3 L1027.0,217.0 L1028.3,218.5 L1029.6,220.0 L1030.9,221.6 L1032.1,223.1 L1033.4,224.7 L1034.6,226.2 L1035.9,227.8 L1037.1,229.4 L1038.5,231.1 L1039.7,232.7 L1040.9,234.3 L1042.1,235.9 L1043.3,237.5 L1044.5,239.1 L1045.6,240.7 L1046.8,242.3 L1047.9,243.9 L1049.2,245.8 L1050.3,247.5 L1051.3,249.1 L1052.4,250.8 L1053.4,252.5 L1054.5,254.5 L1055.5,256.2 L1056.4,258.0 L1057.5,259.9 L1058.4,261.7 L1059.2,263.5 L1060.1,265.3 L1061.0,267.3 L1061.8,269.2 L1062.6,271.0 L1063.4,272.8 L1064.3,274.9 L1065.0,276.8 L1065.8,278.6 L1066.5,280.5 L1067.2,282.3 L1067.9,284.2 L1068.6,286.1 L1069.3,287.9 L1070.1,290.1 L1070.8,291.9 L1071.4,293.8 L1072.1,295.7 L1072.8,297.6 L1073.4,299.5 L1074.0,301.4 L1074.7,303.3 L1075.3,305.2 L1075.9,307.1 L1076.5,309.0 L1077.1,310.9 L1077.7,312.8 L1078.3,314.7 L1078.9,316.9 L1079.5,318.8 L1080.0,320.7 L1080.6,322.6 L1081.1,324.6 L1081.6,326.5 L1082.1,328.4 L1082.7,330.4 L1083.2,332.3 L1083.7,334.2 L1084.2,336.2 L1084.7,338.1 L1085.2,340.0 L1085.6,342.0 L1086.1,343.9 L1086.6,345.9 L1087.1,347.8 L1087.6,349.7 L1088.0,351.7 L1088.5,353.6 L1089.0,355.6 L1089.5,357.5 L1089.9,359.4 L1090.4,361.4 L1090.9,363.3 L1091.3,365.0 L1091.8,367.0 L1092.3,368.9 L1092.7,370.9 L1093.2,372.8 L1093.7,374.7 L1094.1,376.7 L1094.6,378.6 L1095.1,380.6 L1095.6,382.5 L1096.0,384.5 L1096.5,386.4 L1097.0,388.3 L1097.4,390.3 L1097.9,392.2 L1098.4,394.2 L1098.9,396.1 L1099.3,398.1 L1099.8,400.0 L1100.3,401.9 L1100.7,403.9 L1101.2,405.8 L1101.7,407.8 L1102.2,409.7 L1102.6,411.6 L1103.2,413.8 L1103.7,415.8 L1104.1,417.7 L1104.6,419.7 L1105.1,421.6 L1105.6,423.5 L1106.0,425.5 L1106.5,427.4 L1107.0,429.4 L1107.4,431.3 L1107.9,433.3 L1108.4,435.2 L1108.9,437.1 L1109.3,439.1 L1109.8,441.0 L1110.3,443.2 L1110.8,445.2 L1111.2,447.1 L1111.7,449.1 L1112.1,451.0 L1112.6,453.0 L1113.0,454.9 L1113.5,456.9 L1113.9,458.8 L1114.3,460.8 L1114.8,462.7 L1115.2,464.7 L1115.6,466.6 L1116.0,468.6 L1116.5,470.5 L1116.8,472.2 L1117.2,474.2 L1117.7,476.2 L1118.1,478.1 L1118.5,480.1 L1118.9,482.0 L1119.3,484.0 L1119.7,485.9 L1120.1,487.9 L1120.5,489.9 L1120.8,491.8 L1121.2,493.8 L1121.6,495.8 L1122.0,497.7 L1122.4,499.7 L1122.8,501.6 L1123.2,503.6 L1123.5,505.6 L1123.9,507.5 L1124.3,509.5 L1124.7,511.5 L1125.0,513.4 L1125.4,515.4 L1125.8,517.4 L1126.1,519.3 L1126.5,521.3 L1126.9,523.3 L1127.2,525.2 L1127.6,527.2 L1128.0,529.2 L1128.3,531.1 L1128.7,533.1 L1129.0,535.1 L1129.4,537.0 L1129.7,539.0 L1130.1,541.0 L1130.4,542.9 L1130.8,544.9 L1131.1,546.9 L1131.5,548.8 L1131.8,550.8 L1132.1,552.8 L1132.5,554.8 L1132.8,556.7 L1133.2,558.9 L1133.5,560.9 L1133.9,562.9 L1134.2,564.9 L1134.5,566.8 L1134.9,568.8 L1135.2,570.8 L1135.5,572.7 L1135.9,574.7 L1136.2,576.7 L1136.5,578.7 L1136.8,580.6 L1137.2,582.6 L1137.5,584.6 L1137.8,586.6 L1138.1,588.5 L1138.4,590.5 L1138.8,592.5 L1139.1,594.5 L1139.4,596.4 L1139.7,598.4 L1140.0,600.4 L1140.3,602.4 L1140.6,604.3 L1140.9,606.3 L1141.2,608.3 L1141.5,610.3 L1141.8,612.2 L1142.1,614.2 L1142.4,616.2 L1142.7,618.2 L1143.0,620.2 L1143.3,622.1 L1143.6,624.1 L1143.9,626.1 L1144.2,628.1 L1144.5,630.0 L1144.8,632.0 L1145.0,634.0 L1145.3,636.0 L1145.6,638.0 L1145.9,639.9 L1146.2,641.9 L1146.5,643.9 L1146.7,645.9 L1147.0,647.9 L1147.3,649.8 L1147.6,651.8 L1147.9,653.8 L1148.1,655.8 L1148.4,657.8 L1148.7,659.8 L1149.0,661.7 L1149.2,663.7 L1149.5,665.7 L1149.8,667.7 L1150.0,669.7 L1150.3,671.6 L1150.6,673.6 L1150.8,675.6 L1151.1,677.6 L1151.4,679.6 L1151.6,681.6 L1151.9,683.5 L1152.2,685.5 L1152.4,687.5 L1152.7,689.5 L1153.0,691.5 L1153.2,693.4 L1153.5,695.7 L1153.8,697.7 L1154.0,699.6 L1154.3,701.6 L1154.5,703.6 L1154.8,705.6 L1155.0,707.6 L1155.2,709.6 L1155.5,711.6 L1155.7,713.5 L1156.0,715.5 L1156.2,717.5 L1156.4,719.5 L1156.7,721.5 L1156.9,723.5 L1157.2,725.5 L1157.4,727.4 L1157.6,729.4 L1157.9,731.4 L1158.1,733.4 L1158.3,735.4 L1158.6,737.4 L1158.8,739.4 L1159.1,741.3 L1159.3,743.3 L1159.5,745.3 L1159.8,747.3 L1160.0,749.3 L1160.3,751.3 L1160.5,753.3 L1160.8,755.2 L1161.0,757.2 L1161.2,759.2 L1161.5,761.2 L1161.7,763.2 L1162.0,765.2 L1162.3,767.1 L1162.5,769.1 L1162.8,771.1 L1163.0,773.1 L1163.3,775.1 L1163.5,777.1 L1163.8,779.0 L1164.0,781.0 L1164.3,783.0 L1164.5,785.0 L1164.8,787.0 L1165.0,789.0 L1165.3,790.9 L1165.6,792.9 L1165.8,794.9 L1166.1,796.9 L1166.3,798.9 L1166.6,800.9 L1166.8,802.8 L1167.1,804.8 L1167.4,806.8 L1167.6,808.8 L1167.9,810.8 L1168.1,812.8 L1168.4,814.7 L1168.7,816.7 L1168.9,818.7 L1169.2,820.7 L1169.5,822.7 L1169.7,824.7 L1170.0,826.6 L1170.3,828.6 L1170.5,830.6 L1170.8,832.6 L1171.1,834.6 L1171.4,836.5 L1171.6,838.5 L1171.9,840.5 L1172.2,842.5 L1172.4,844.5 L1172.7,846.5 L1173.0,848.4 L1173.3,850.4 L1173.6,852.4 L1173.9,854.4 L1174.1,856.4 L1174.4,858.3 L1174.7,860.3 L1175.0,862.0 L1175.3,864.0 L1175.5,866.0 L1175.8,868.0 L1176.1,870.0 L1176.4,871.9 L1176.7,873.9 L1177.0,875.9 L1177.3,877.9 L1177.6,879.8 L1177.9,881.8 L1178.2,883.8 L1178.5,885.8 L1178.8,887.8 L1179.1,889.7 L1179.4,891.7 L1179.7,893.7 L1180.0,895.7 L1180.3,897.6 L1180.6,899.6 L1180.9,901.6 L1181.2,903.6 L1181.5,905.5 L1181.8,907.5 L1182.2,909.5 L1182.5,911.5 L1182.8,913.4 L1183.1,915.4 L1183.4,917.4 L1183.7,919.4 L1184.0,921.4 L1184.3,923.3 L1184.7,925.3 L1185.0,927.3 L1185.3,929.2 L1185.6,931.2 L1185.9,933.2 L1186.3,935.2 L1186.6,937.1 L1186.9,939.1 L1187.2,941.1 L1187.6,943.1 L1187.9,945.0 L1188.2,947.0 L1188.5,949.0 L1188.9,951.0 L1189.2,952.9 L1189.6,954.9 L1189.9,956.9 L1190.3,958.8 L1190.6,960.8 L1191.0,962.8 L1191.3,964.7 L1191.7,966.5 L1192.0,968.4 L1192.4,970.4 L1192.8,972.3 L1193.2,974.3 L1193.6,976.2 L1194.1,978.2 L1194.5,980.2 L1194.9,982.1 L1195.4,984.1 L1195.8,986.0 L1196.3,987.9 L1196.7,989.6 L1197.2,991.6 L1197.6,993.5 L1198.1,995.5 L1198.7,997.4 L1199.2,999.3 L1199.7,1001.2 L1200.2,1003.2 L1200.8,1005.1 L1201.4,1007.0 L1201.9,1008.9 L1202.4,1010.6 L1203.0,1012.5 L1203.6,1014.4 L1204.3,1016.3 L1204.9,1018.2 L1205.5,1020.1 L1206.1,1021.7 L1206.8,1023.6 L1207.5,1025.5 L1208.2,1027.3 L1208.9,1029.2 L1209.5,1030.8 L1210.2,1032.7 L1211.0,1034.5 L1211.7,1036.4 L1212.4,1038.0 L1213.2,1039.8 L1214.0,1041.6 L1214.7,1043.2 L1215.5,1045.0 L1216.4,1046.8 L1217.1,1048.4 L1218.0,1050.2 L1219.0,1051.9 L1219.7,1053.5 L1220.7,1055.2 L1221.6,1057.0 L1222.5,1058.5 L1223.5,1060.2 L1224.5,1061.9 L1225.4,1063.4 L1226.4,1065.1 L1227.5,1066.7 L1228.5,1068.2 L1229.6,1069.8 L1230.5,1071.3 L1231.7,1072.9 L1232.9,1074.5 L1233.9,1075.9 L1235.1,1077.5 L1236.3,1079.1 L1237.3,1080.5 L1238.6,1082.0 L1239.6,1083.4 L1240.9,1084.9 L1242.2,1086.4 L1243.3,1087.7 L1244.6,1089.2 L1245.9,1090.7 L1247.3,1092.2 L1248.4,1093.5 L1249.8,1094.9 L1251.2,1096.4 L1252.3,1097.6 L1253.7,1099.0 L1255.2,1100.4 L1256.6,1101.8 L1258.0,1103.2 L1259.5,1104.5 L1260.9,1105.9 L1262.2,1107.1 L1263.7,1108.4 L1265.2,1109.7 L1266.9,1111.1 L1268.5,1112.4 L1270.0,1113.6 L1271.6,1114.9 L1273.1,1116.1 L1274.9,1117.5 L1276.5,1118.7 L1278.0,1119.9 L1279.8,1121.3 L1281.4,1122.5 L1283.2,1123.9 L1284.7,1125.1 L1286.5,1126.5 L1288.1,1127.8 L1289.6,1129.0 L1291.4,1130.5 L1292.9,1131.7 L1294.4,1133.0 L1296.0,1134.3 L1297.5,1135.6 L1299.2,1137.1 L1300.7,1138.4 L1302.0,1139.5 L1303.5,1140.8 L1305.0,1142.2 L1306.5,1143.5 L1308.0,1144.8 L1309.5,1146.1 L1311.0,1147.5 L1312.3,1148.6 L1313.8,1149.9 L1315.3,1151.2 L1316.8,1152.5 L1318.2,1153.7 L1319.7,1154.9 L1321.2,1156.2 L1322.8,1157.5 L1324.1,1158.6 L1325.7,1159.8 L1327.3,1161.0 L1328.9,1162.2 L1330.5,1163.4 L1331.9,1164.4 L1333.6,1165.5 L1335.2,1166.7 L1336.9,1167.8 L1338.5,1168.9 L1340.2,1169.9 L1341.9,1171.0 L1343.6,1172.1 L1345.5,1173.3 L1347.2,1174.3 L1348.9,1175.3 L1350.6,1176.4 L1352.3,1177.4 L1354.0,1178.4 L1355.7,1179.5 L1357.4,1180.5 L1359.1,1181.5 L1360.8,1182.6 L1362.5,1183.6 L1364.1,1184.7 L1365.8,1185.7 L1367.3,1186.7 L1369.0,1187.8 L1370.6,1188.9 L1372.3,1190.0 L1373.9,1191.1 L1375.4,1192.0 L1377.0,1193.2 L1378.7,1194.3 L1380.3,1195.4 L1381.8,1196.4 L1383.4,1197.5 L1385.1,1198.6 L1386.7,1199.7 L1388.2,1200.6 L1389.9,1201.6 L1391.6,1202.6 L1393.3,1203.6 L1394.8,1204.5 L1396.6,1205.4 L1398.3,1206.4 L1400.1,1207.3 L1401.7,1208.0 L1403.5,1208.9 L1405.3,1209.7 L1406.9,1210.4 L1408.7,1211.2 L1410.5,1212.0 L1412.4,1212.8 L1414.0,1213.4 L1415.9,1214.1 L1417.7,1214.9 L1419.4,1215.5 L1421.2,1216.2 L1423.1,1216.8 L1425.0,1217.5 L1426.6,1218.1 L1428.5,1218.8 L1430.4,1219.4 L1432.3,1220.1 L1434.2,1220.7 L1435.9,1221.2 L1437.8,1221.9 L1439.7,1222.5 L1441.6,1223.1 L1443.5,1223.7 L1445.1,1224.3 L1447.0,1224.9 L1448.9,1225.5 L1450.8,1226.1 L1452.7,1226.7 L1454.4,1227.2 L1456.3,1227.8 L1458.2,1228.4 L1460.1,1229.0 L1462.1,1229.5 L1464.0,1230.1 L1465.9,1230.6 L1467.6,1231.1 L1469.5,1231.6 L1471.4,1232.1 L1473.4,1232.6 L1475.3,1233.1 L1477.3,1233.6 L1479.2,1234.0 L1481.2,1234.4 L1482.9,1234.8 L1484.8,1235.2 L1486.8,1235.6 L1488.7,1236.0 L1490.7,1236.4 L1492.7,1236.7 L1494.6,1237.1 L1496.6,1237.4 L1498.6,1237.8 L1500.5,1238.1 L1502.5,1238.4 L1504.5,1238.7 L1506.5,1239.0 L1508.4,1239.3 L1510.4,1239.6 L1512.4,1239.9 L1514.4,1240.2 L1516.4,1240.5 L1518.3,1240.8 L1520.3,1241.0 L1522.0,1241.3 L1524.0,1241.5 L1526.0,1241.8 L1528.0,1242.0 L1530.0,1242.3 L1532.0,1242.6 L1533.9,1242.8 L1535.9,1243.1 L1537.9,1243.3 L1539.9,1243.6 L1541.9,1243.8 L1543.9,1244.1 L1545.8,1244.3 L1547.8,1244.6 L1549.8,1244.8 L1551.8,1245.0 L1553.8,1245.3 L1555.8,1245.5 L1557.8,1245.7 L1559.7,1246.0 L1561.7,1246.2 L1563.7,1246.4 L1565.7,1246.7 L1567.7,1246.9 L1569.7,1247.1 L1571.7,1247.3 L1573.6,1247.5 L1575.6,1247.8 L1577.6,1248.0 L1579.6,1248.2 L1581.6,1248.4 L1583.6,1248.6 L1585.6,1248.8 L1587.6,1249.1 L1589.5,1249.3 L1591.5,1249.5 L1593.5,1249.7 L1595.3,1249.9 L1597.2,1250.1 L1599.2,1250.3 L1601.2,1250.5 L1603.2,1250.7 L1605.2,1250.9 L1607.2,1251.1 L1609.2,1251.3 L1611.2,1251.4 L1613.2,1251.6 L1615.2,1251.8 L1617.1,1252.0 L1619.1,1252.2 L1621.1,1252.4 L1623.1,1252.6 L1625.1,1252.8 L1627.1,1252.9 L1629.1,1253.1 L1631.1,1253.3 L1633.1,1253.5 L1635.1,1253.6 L1637.1,1253.8 L1639.1,1254.0 L1641.0,1254.2 L1643.0,1254.3 L1645.0,1254.5 L1647.0,1254.6 L1649.0,1254.8 L1650.8,1254.9 L1652.8,1255.1 L1654.8,1255.2 L1656.7,1255.4 L1658.7,1255.5 L1660.7,1255.7 L1662.7,1255.8 L1664.7,1256.0 L1666.7,1256.1 L1668.7,1256.2 L1670.7,1256.4 L1672.7,1256.5 L1674.7,1256.6 L1676.7,1256.8 L1678.7,1256.9 L1680.7,1257.0 L1682.7,1257.1 L1684.7,1257.2 L1686.7,1257.3 L1688.7,1257.5 L1690.7,1257.6 L1692.7,1257.7 L1694.7,1257.8 L1696.7,1257.9 L1698.7,1258.0 L1700.7,1258.1 L1702.4,1258.2 L1704.4,1258.3 L1706.4,1258.3 L1708.4,1258.4 L1710.4,1258.5 L1712.4,1258.6 L1714.4,1258.7 L1716.4,1258.8 L1718.4,1258.9 L1720.4,1258.9 L1722.4,1259.0 L1724.4,1259.1 L1726.4,1259.2 L1728.4,1259.3 L1730.4,1259.3 L1732.4,1259.4 L1734.4,1259.5 L1736.4,1259.6 L1738.4,1259.6 L1740.4,1259.7 L1742.4,1259.8 L1744.4,1259.9 L1746.4,1259.9 L1748.4,1260.0 L1750.4,1260.1 L1752.4,1260.2 L1754.4,1260.2 L1756.4,1260.3 L1758.4,1260.4 L1760.4,1260.5 L1762.4,1260.5 L1764.4,1260.6 L1766.4,1260.7 L1768.4,1260.8 L1770.4,1260.8 L1772.4,1260.9 L1774.3,1261.0 L1776.3,1261.1 L1778.3,1261.1 L1780.3,1261.2 L1782.3,1261.3 L1784.3,1261.4 L1786.3,1261.5 L1788.3,1261.5 L1790.3,1261.6 L1792.3,1261.7 L1794.3,1261.8 L1796.3,1261.9 L1798.3,1261.9 L1800.3,1262.0 L1802.3,1262.1 L1804.3,1262.2 L1806.3,1262.3 L1808.3,1262.3 L1810.3,1262.4 L1812.3,1262.5 L1814.3,1262.6 L1816.3,1262.7 L1818.3,1262.8 L1820.3,1262.8 L1822.3,1262.9 L1824.3,1263.0 L1826.3,1263.1 L1828.3,1263.2 L1830.3,1263.3 L1832.3,1263.3 L1834.3,1263.4 L1836.3,1263.5 L1838.3,1263.6 L1840.3,1263.7 L1842.3,1263.7 L1844.3,1263.8 L1846.3,1263.9 L1848.3,1264.0 L1850.3,1264.1 L1852.3,1264.2 L1854.3,1264.2 L1856.3,1264.3 L1858.3,1264.4 L1860.3,1264.5 L1862.3,1264.6 L1864.3,1264.6 L1866.3,1264.7 L1868.3,1264.8 L1870.3,1264.9 L1872.3,1265.0 L1874.3,1265.0 L1876.3,1265.1 L1878.3,1265.2 L1880.3,1265.3 L1882.3,1265.4 L1884.3,1265.4 L1886.3,1265.5 L1888.3,1265.6 L1890.3,1265.7 L1892.3,1265.8 L1894.3,1265.8 L1896.2,1265.9 L1898.2,1266.0 L1900.2,1266.1 L1902.2,1266.2 L1904.2,1266.2 L1906.2,1266.3 L1908.2,1266.4 L1910.2,1266.5 L1912.2,1266.6 L1914.2,1266.6 L1916.2,1266.7 L1918.2,1266.8 L1920.2,1266.9 L1922.2,1266.9 L1924.2,1267.0 L1926.2,1267.1 L1928.2,1267.2 L1930.2,1267.3 L1932.2,1267.3 L1934.2,1267.4 L1936.2,1267.5 L1938.2,1267.6 L1940.2,1267.6 L1942.2,1267.7 L1944.2,1267.8 L1946.2,1267.9 L1948.2,1268.0 L1950.2,1268.0 L1952.2,1268.1 L1954.2,1268.2 L1956.2,1268.3 L1958.2,1268.3 L1960.2,1268.4 L1962.2,1268.5 L1964.2,1268.6 L1966.2,1268.6 L1968.2,1268.7 L1970.2,1268.8 L1972.2,1268.9 L1974.2,1268.9 L1976.2,1269.0 L1978.2,1269.1 L1980.2,1269.2 L1982.2,1269.2 L1984.2,1269.3 L1986.2,1269.4 L1988.2,1269.5 L1990.2,1269.5 L1992.2,1269.6 L1994.2,1269.7 L1996.2,1269.8 L1998.2,1269.8 L2000.2,1269.9 L2002.2,1270.0 L2004.2,1270.0 L2006.2,1270.1 L2008.2,1270.2 L2010.2,1270.3 L2012.2,1270.3 L2014.2,1270.4 L2016.2,1270.5 L2018.2,1270.5 L2020.2,1270.6 L2022.2,1270.7 L2024.2,1270.8 L2026.2,1270.8 L2028.2,1270.9 L2030.2,1271.0 L2032.2,1271.0 L2034.2,1271.1 L2036.2,1271.2 L2038.1,1271.2 L2040.1,1271.3 L2042.1,1271.4 L2044.1,1271.4 L2046.1,1271.5 L2048.1,1271.6 L2050.1,1271.6 L2052.1,1271.7 L2054.1,1271.8 L2056.1,1271.8 L2058.1,1271.9 L2060.1,1272.0 L2062.1,1272.0 L2064.1,1272.1 L2066.1,1272.2 L2068.1,1272.2 L2070.1,1272.3 L2072.1,1272.3 L2074.1,1272.4 L2076.1,1272.5 L2078.1,1272.5 L2080.1,1272.6 L2082.1,1272.6 L2084.1,1272.7 L2086.1,1272.8 L2088.1,1272.8 L2090.1,1272.9 L2092.1,1272.9 L2094.1,1273.0 L2096.1,1273.1 L2098.1,1273.1 L2100.1,1273.2 L2102.1,1273.2 L2104.1,1273.3 L2106.1,1273.3 L2108.1,1273.4 L2110.1,1273.5 L2112.1,1273.5 L2114.1,1273.6 L2116.1,1273.6 L2118.1,1273.7 L2120.1,1273.7 L2122.1,1273.8 L2124.1,1273.8 L2126.1,1273.9 L2128.1,1273.9 L2130.1,1274.0 L2132.1,1274.0 L2134.1,1274.1 L2136.1,1274.1 L2138.1,1274.2 L2140.1,1274.3 L2142.1,1274.3 L2144.1,1274.4 L2146.1,1274.4 L2148.1,1274.5 L2150.1,1274.5 L2152.1,1274.6 L2154.1,1274.6 L2156.1,1274.7 L2158.1,1274.7 L2160.1,1274.8 L2162.1,1274.8 L2164.1,1274.9 L2166.1,1274.9 L2168.1,1275.0 L2170.1,1275.0 L2172.1,1275.1 L2174.1,1275.1 L2176.1,1275.2 L2178.1,1275.2 L2180.1,1275.3 L2182.1,1275.3 L2184.1,1275.4 L2186.1,1275.4 L2188.1,1275.4 L2190.1,1275.5 L2192.1,1275.5 L2194.1,1275.6 L2196.1,1275.6 L2198.1,1275.7 L2200.1,1275.7 L2202.1,1275.8 L2204.1,1275.8 L2206.1,1275.9 L2208.1,1275.9 L2210.1,1276.0 L2212.1,1276.0 L2214.1,1276.1 L2216.1,1276.1 L2218.1,1276.2 L2220.1,1276.2 L2222.1,1276.3 L2224.1,1276.3 L2226.1,1276.4 L2228.1,1276.4 L2230.1,1276.5 L2232.1,1276.5 L2234.1,1276.6 L2236.1,1276.6 L2238.1,1276.7 L2240.1,1276.7 L2242.1,1276.8 L2244.1,1276.8 L2246.1,1276.9 L2248.1,1276.9 L2249.8,1276.9" fill="none" stroke="#000" stroke-width="12.00" stroke-linecap="round" stroke-linejoin="round" clip-path="url(#cb)"/>
<path d="M502.0,161.0 L504.0,161.0 L506.0,161.0 L508.0,161.0 L510.0,161.0 L512.0,161.0 L514.0,161.1 L516.0,161.1 L518.0,161.1 L520.0,161.1 L522.0,161.1 L524.0,161.1 L526.0,161.1 L528.0,161.1 L530.0,161.1 L532.0,161.1 L534.0,161.1 L536.0,161.2 L538.0,161.2 L540.0,161.2 L542.0,161.2 L544.0,161.2 L546.0,161.2 L548.0,161.2 L550.0,161.2 L552.0,161.2 L554.0,161.2 L556.0,161.2 L558.0,161.3 L560.0,161.3 L562.0,161.3 L564.0,161.3 L566.0,161.3 L568.0,161.3 L570.0,161.3 L572.0,161.3 L574.0,161.3 L576.0,161.3 L578.0,161.3 L580.0,161.4 L582.0,161.4 L584.0,161.4 L586.0,161.4 L588.0,161.4 L590.0,161.4 L592.0,161.4 L594.0,161.4 L596.0,161.4 L598.0,161.5 L600.0,161.5 L602.0,161.5 L604.0,161.5 L606.0,161.5 L608.0,161.5 L610.0,161.5 L612.0,161.5 L614.0,161.6 L616.0,161.6 L618.0,161.6 L620.0,161.6 L622.0,161.6 L624.0,161.6 L626.0,161.7 L628.0,161.7 L630.0,161.7 L632.0,161.7 L634.0,161.7 L636.0,161.7 L638.0,161.8 L640.0,161.8 L642.0,161.8 L644.0,161.8 L646.0,161.9 L648.0,161.9 L650.0,161.9 L652.0,161.9 L654.0,162.0 L656.0,162.0 L658.0,162.0 L660.0,162.0 L662.0,162.1 L664.0,162.1 L666.0,162.1 L668.0,162.2 L670.0,162.2 L672.0,162.2 L674.0,162.3 L676.0,162.3 L678.0,162.3 L680.0,162.4 L682.0,162.4 L684.0,162.4 L686.0,162.5 L688.0,162.5 L690.0,162.5 L692.0,162.6 L694.0,162.6 L696.0,162.7 L698.0,162.7 L700.0,162.7 L702.0,162.8 L704.0,162.8 L706.0,162.8 L708.0,162.9 L710.0,162.9 L712.0,163.0 L714.0,163.0 L716.0,163.0 L718.0,163.1 L720.0,163.1 L722.0,163.1 L724.0,163.2 L726.0,163.2 L728.0,163.3 L730.0,163.3 L732.0,163.4 L734.0,163.4 L736.0,163.4 L738.0,163.5 L740.0,163.5 L742.0,163.6 L744.0,163.6 L746.0,163.6 L748.0,163.7 L750.0,163.7 L752.0,163.8 L754.0,163.8 L756.0,163.9 L758.0,163.9 L760.0,164.0 L762.0,164.0 L764.0,164.1 L766.0,164.1 L768.0,164.2 L770.0,164.2 L772.0,164.2 L774.0,164.3 L776.0,164.3 L778.0,164.4 L780.0,164.4 L782.0,164.5 L784.0,164.6 L786.0,164.6 L788.0,164.7 L790.0,164.7 L792.0,164.8 L794.0,164.8 L796.0,164.9 L798.0,164.9 L800.0,165.0 L802.0,165.0 L804.0,165.1 L806.0,165.1 L807.9,165.2 L809.9,165.3 L811.9,165.3 L813.9,165.4 L815.9,165.5 L817.9,165.5 L819.9,165.6 L821.9,165.7 L823.9,165.7 L825.9,165.8 L827.9,165.9 L829.9,166.0 L831.9,166.1 L833.9,166.2 L835.9,166.3 L837.9,166.3 L839.9,166.4 L841.9,166.5 L843.9,166.6 L845.9,166.7 L847.9,166.8 L849.9,166.9 L851.9,167.0 L853.9,167.1 L855.9,167.2 L857.9,167.3 L859.9,167.4 L861.9,167.5 L863.9,167.6 L865.9,167.7 L867.9,167.8 L869.9,167.9 L871.9,168.0 L873.9,168.0 L875.9,168.1 L877.9,168.2 L879.9,168.3 L881.9,168.4 L883.9,168.5 L885.9,168.6 L887.9,168.7 L889.9,168.8 L891.9,168.9 L893.8,169.0 L895.8,169.1 L897.8,169.2 L899.8,169.3 L901.8,169.4 L903.8,169.6 L905.8,169.7 L907.8,169.8 L909.8,170.0 L911.8,170.1 L913.8,170.3 L915.8,170.4 L917.8,170.6 L919.8,170.8 L921.8,171.0 L923.8,171.2 L926.2,171.4 L928.2,171.6 L930.2,171.8 L932.2,172.0 L934.2,172.3 L936.2,172.5 L938.1,172.8 L940.1,173.0 L942.1,173.3 L944.1,173.6 L946.0,173.9 L948.0,174.2 L950.0,174.6 L951.9,174.9 L953.9,175.3 L955.8,175.7 L957.8,176.1 L959.7,176.6 L961.7,177.0 L963.6,177.5 L965.5,178.0 L967.5,178.5 L969.4,179.1 L971.8,179.7 L973.7,180.3 L975.6,180.9 L977.5,181.5 L979.4,182.2 L981.2,182.8 L983.1,183.5 L985.0,184.2 L987.3,185.1 L989.1,185.9 L990.9,186.7 L992.7,187.5 L994.5,188.4 L996.7,189.5 L998.5,190.4 L1000.3,191.3 L1002.0,192.3 L1003.7,193.3 L1005.8,194.6 L1007.5,195.7 L1009.1,196.7 L1010.8,197.9 L1012.4,199.0 L1014.4,200.5 L1015.9,201.7 L1017.4,203.0 L1018.9,204.3 L1020.4,205.6 L1022.2,207.3 L1023.7,208.6 L1025.1,210.0 L1026.4,211.5 L1027.8,212.9 L1029.5,214.7 L1030.8,216.2 L1032.1,217.7 L1033.4,219.2 L1034.7,220.8 L1036.0,222.3 L1037.2,223.8 L1038.5,225.4 L1039.8,226.9 L1041.3,228.9 L1042.6,230.4 L1043.8,232.0 L1045.0,233.6 L1046.2,235.2 L1047.4,236.8 L1048.6,238.4 L1049.8,240.0 L1051.0,241.6 L1052.4,243.6 L1053.5,245.3 L1054.6,246.9 L1055.6,248.6 L1056.7,250.3 L1058.0,252.4 L1058.9,254.2 L1059.9,255.9 L1061.1,258.1 L1062.0,259.9 L1062.9,261.7 L1063.7,263.4 L1064.8,265.7 L1065.6,267.5 L1066.4,269.4 L1067.1,271.2 L1068.1,273.5 L1068.8,275.4 L1069.6,277.2 L1070.3,279.1 L1071.0,280.9 L1071.7,282.8 L1072.4,284.7 L1073.1,286.6 L1073.9,288.9 L1074.5,290.8 L1075.2,292.7 L1075.8,294.6 L1076.5,296.5 L1077.1,298.4 L1077.7,300.3 L1078.3,302.2 L1078.9,304.1 L1079.5,306.0 L1080.1,307.9 L1080.7,309.8 L1081.2,311.8 L1081.8,313.7 L1082.4,316.1 L1083.0,318.0 L1083.5,319.9 L1084.0,321.9 L1084.5,323.8 L1085.0,325.7 L1085.5,327.7 L1086.0,329.6 L1086.5,331.5 L1087.0,333.5 L1087.5,335.4 L1087.9,337.4 L1088.4,339.3 L1088.9,341.3 L1089.4,343.2 L1089.8,345.1 L1090.3,347.1 L1090.8,349.0 L1091.2,351.0 L1091.7,352.9 L1092.2,354.9 L1092.6,356.8 L1093.1,358.7 L1093.6,360.7 L1094.1,362.6 L1094.4,364.1 L1094.9,366.0 L1095.4,368.0 L1095.9,369.9 L1096.4,371.8 L1096.9,373.8 L1097.4,375.7 L1097.9,377.6 L1098.4,379.6 L1098.9,381.5 L1099.4,383.4 L1099.9,385.4 L1100.5,387.3 L1101.0,389.2 L1101.5,391.2 L1102.0,393.1 L1102.5,395.0 L1103.0,397.0 L1103.5,398.9 L1104.0,400.8 L1104.5,402.8 L1105.0,404.7 L1105.5,406.6 L1106.0,408.6 L1106.5,410.5 L1107.1,412.9 L1107.6,414.9 L1108.1,416.8 L1108.5,418.8 L1109.0,420.7 L1109.5,422.6 L1109.9,424.6 L1110.4,426.5 L1110.9,428.5 L1111.3,430.4 L1111.8,432.4 L1112.2,434.3 L1112.7,436.3 L1113.1,438.2 L1113.5,440.2 L1114.1,442.6 L1114.5,444.6 L1114.9,446.5 L1115.4,448.5 L1115.8,450.4 L1116.2,452.4 L1116.6,454.3 L1117.1,456.3 L1117.5,458.2 L1117.9,460.2 L1118.3,462.1 L1118.7,464.1 L1119.1,466.1 L1119.5,468.0 L1119.9,470.0 L1120.3,471.4 L1120.7,473.4 L1121.1,475.4 L1121.5,477.3 L1121.9,479.3 L1122.3,481.2 L1122.7,483.2 L1123.0,485.2 L1123.4,487.1 L1123.8,489.1 L1124.2,491.0 L1124.6,493.0 L1125.0,495.0 L1125.4,496.9 L1125.8,498.9 L1126.2,500.9 L1126.5,502.8 L1126.9,504.8 L1127.3,506.7 L1127.7,508.7 L1128.1,510.7 L1128.5,512.6 L1128.8,514.6 L1129.2,516.6 L1129.6,518.5 L1130.0,520.5 L1130.4,522.4 L1130.7,524.4 L1131.1,526.4 L1131.5,528.3 L1131.9,530.3 L1132.2,532.3 L1132.6,534.2 L1133.0,536.2 L1133.4,538.2 L1133.7,540.1 L1134.1,542.1 L1134.4,544.1 L1134.8,546.0 L1135.2,548.0 L1135.5,550.0 L1135.9,551.9 L1136.2,553.9 L1136.6,555.9 L1137.0,558.3 L1137.4,560.3 L1137.7,562.3 L1138.1,564.2 L1138.4,566.2 L1138.8,568.2 L1139.1,570.1 L1139.4,572.1 L1139.8,574.1 L1140.1,576.1 L1140.5,578.0 L1140.8,580.0 L1141.1,582.0 L1141.5,583.9 L1141.8,585.9 L1142.1,587.9 L1142.5,589.9 L1142.8,591.8 L1143.1,593.8 L1143.4,595.8 L1143.7,597.8 L1144.1,599.7 L1144.4,601.7 L1144.7,603.7 L1145.0,605.7 L1145.3,607.6 L1145.6,609.6 L1145.9,611.6 L1146.2,613.6 L1146.5,615.5 L1146.8,617.5 L1147.1,619.5 L1147.4,621.5 L1147.7,623.4 L1148.0,625.4 L1148.3,627.4 L1148.6,629.4 L1148.9,631.4 L1149.2,633.3 L1149.5,635.3 L1149.7,637.3 L1150.0,639.3 L1150.3,641.3 L1150.6,643.2 L1150.9,645.2 L1151.1,647.2 L1151.4,649.2 L1151.7,651.2 L1152.0,653.1 L1152.3,655.1 L1152.5,657.1 L1152.8,659.1 L1153.1,661.1 L1153.3,663.1 L1153.6,665.0 L1153.9,667.0 L1154.2,669.0 L1154.4,671.0 L1154.7,673.0 L1155.0,674.9 L1155.2,676.9 L1155.5,678.9 L1155.8,680.9 L1156.0,682.9 L1156.3,684.9 L1156.5,686.8 L1156.8,688.8 L1157.1,690.8 L1157.3,692.8 L1157.6,695.3 L1157.9,697.2 L1158.2,699.2 L1158.4,701.2 L1158.7,703.2 L1158.9,705.2 L1159.2,707.2 L1159.4,709.2 L1159.7,711.1 L1159.9,713.1 L1160.1,715.1 L1160.4,717.1 L1160.6,719.1 L1160.9,721.1 L1161.1,723.0 L1161.3,725.0 L1161.6,727.0 L1161.8,729.0 L1162.1,731.0 L1162.3,733.0 L1162.5,735.0 L1162.8,737.0 L1163.0,738.9 L1163.2,740.9 L1163.5,742.9 L1163.7,744.9 L1164.0,746.9 L1164.2,748.9 L1164.4,750.8 L1164.7,752.8 L1164.9,754.8 L1165.2,756.8 L1165.4,758.8 L1165.7,760.8 L1165.9,762.8 L1166.2,764.7 L1166.4,766.7 L1166.6,768.7 L1166.9,770.7 L1167.1,772.7 L1167.4,774.7 L1167.6,776.7 L1167.9,778.6 L1168.1,780.6 L1168.4,782.6 L1168.6,784.6 L1168.9,786.6 L1169.1,788.6 L1169.4,790.5 L1169.6,792.5 L1169.9,794.5 L1170.1,796.5 L1170.4,798.5 L1170.6,800.5 L1170.9,802.4 L1171.1,804.4 L1171.4,806.4 L1171.6,808.4 L1171.9,810.4 L1172.1,812.4 L1172.4,814.4 L1172.7,816.3 L1172.9,818.3 L1173.2,820.3 L1173.4,822.3 L1173.7,824.3 L1173.9,826.3 L1174.2,828.2 L1174.5,830.2 L1174.7,832.2 L1175.0,834.2 L1175.2,836.2 L1175.5,838.1 L1175.8,840.1 L1176.0,842.1 L1176.3,844.1 L1176.6,846.1 L1176.9,848.1 L1177.1,850.0 L1177.4,852.0 L1177.7,854.0 L1177.9,856.0 L1178.2,858.0 L1178.5,859.9 L1178.7,861.4 L1179.0,863.4 L1179.3,865.4 L1179.6,867.4 L1179.8,869.3 L1180.1,871.3 L1180.4,873.3 L1180.7,875.3 L1181.0,877.3 L1181.3,879.2 L1181.5,881.2 L1181.8,883.2 L1182.1,885.2 L1182.4,887.2 L1182.7,889.1 L1183.0,891.1 L1183.3,893.1 L1183.6,895.1 L1183.9,897.1 L1184.2,899.0 L1184.5,901.0 L1184.8,903.0 L1185.1,905.0 L1185.4,906.9 L1185.7,908.9 L1185.9,910.9 L1186.2,912.9 L1186.6,914.9 L1186.9,916.8 L1187.2,918.8 L1187.5,920.8 L1187.8,922.8 L1188.1,924.7 L1188.4,926.7 L1188.7,928.7 L1189.0,930.7 L1189.3,932.6 L1189.6,934.6 L1189.9,936.6 L1190.2,938.6 L1190.6,940.5 L1190.9,942.5 L1191.2,944.5 L1191.5,946.5 L1191.9,948.4 L1192.2,950.4 L1192.5,952.4 L1192.9,954.3 L1193.2,956.3 L1193.6,958.3 L1193.9,960.2 L1194.3,962.2 L1194.7,964.2 L1194.9,965.6 L1195.3,967.6 L1195.7,969.6 L1196.1,971.5 L1196.6,973.5 L1197.0,975.4 L1197.4,977.4 L1197.9,979.3 L1198.3,981.3 L1198.8,983.2 L1199.3,985.2 L1199.8,987.1 L1200.1,988.5 L1200.6,990.5 L1201.1,992.4 L1201.7,994.3 L1202.2,996.3 L1202.7,998.2 L1203.3,1000.1 L1203.9,1002.0 L1204.4,1003.9 L1205.0,1005.8 L1205.6,1007.7 L1206.1,1009.2 L1206.7,1011.1 L1207.3,1013.0 L1208.0,1014.8 L1208.6,1016.7 L1209.3,1018.6 L1209.8,1020.0 L1210.6,1021.9 L1211.3,1023.7 L1212.0,1025.6 L1212.8,1027.4 L1213.4,1028.8 L1214.1,1030.6 L1215.0,1032.4 L1215.8,1034.2 L1216.4,1035.6 L1217.3,1037.4 L1218.2,1039.1 L1218.8,1040.5 L1219.7,1042.2 L1220.7,1044.0 L1221.3,1045.3 L1222.3,1047.0 L1223.3,1048.7 L1224.0,1050.0 L1225.1,1051.7 L1226.1,1053.4 L1226.9,1054.7 L1228.0,1056.3 L1229.1,1058.0 L1229.9,1059.2 L1231.1,1060.8 L1232.3,1062.4 L1233.1,1063.6 L1234.3,1065.2 L1235.2,1066.4 L1236.4,1067.9 L1237.7,1069.4 L1238.6,1070.6 L1239.9,1072.1 L1241.2,1073.6 L1242.2,1074.7 L1243.5,1076.2 L1244.5,1077.3 L1245.8,1078.7 L1247.2,1080.2 L1248.2,1081.3 L1249.6,1082.7 L1251.0,1084.0 L1252.5,1085.4 L1253.5,1086.5 L1254.9,1087.8 L1256.4,1089.2 L1257.5,1090.2 L1258.9,1091.6 L1260.4,1092.9 L1261.9,1094.2 L1263.4,1095.5 L1264.9,1096.7 L1266.5,1098.0 L1267.6,1099.0 L1269.1,1100.2 L1270.7,1101.5 L1272.7,1103.0 L1274.2,1104.2 L1275.8,1105.4 L1277.4,1106.6 L1279.0,1107.9 L1281.0,1109.4 L1282.5,1110.6 L1284.1,1111.8 L1286.1,1113.3 L1287.7,1114.5 L1289.6,1116.1 L1291.2,1117.3 L1293.1,1118.9 L1294.7,1120.2 L1296.2,1121.4 L1298.1,1123.1 L1299.6,1124.3 L1301.1,1125.7 L1302.6,1127.0 L1304.2,1128.3 L1306.0,1129.9 L1307.5,1131.3 L1308.6,1132.3 L1310.1,1133.6 L1311.6,1134.9 L1313.1,1136.3 L1314.6,1137.6 L1316.1,1138.9 L1317.6,1140.3 L1318.7,1141.2 L1320.2,1142.6 L1321.7,1143.9 L1323.2,1145.2 L1324.4,1146.1 L1325.9,1147.4 L1327.4,1148.7 L1329.0,1149.9 L1330.1,1150.9 L1331.7,1152.1 L1333.3,1153.3 L1334.9,1154.5 L1336.5,1155.7 L1337.7,1156.6 L1339.3,1157.8 L1340.9,1158.9 L1342.6,1160.1 L1344.2,1161.2 L1345.9,1162.3 L1347.5,1163.4 L1349.2,1164.5 L1351.2,1165.9 L1352.9,1167.0 L1354.6,1168.1 L1356.2,1169.2 L1357.9,1170.3 L1359.5,1171.4 L1361.2,1172.5 L1362.8,1173.6 L1364.5,1174.7 L1366.1,1175.8 L1367.8,1177.0 L1369.4,1178.1 L1371.1,1179.2 L1372.3,1180.0 L1374.0,1181.2 L1375.6,1182.3 L1377.2,1183.4 L1378.9,1184.6 L1380.1,1185.4 L1381.7,1186.6 L1383.4,1187.7 L1385.0,1188.8 L1386.2,1189.7 L1387.9,1190.8 L1389.6,1191.9 L1391.2,1193.0 L1392.5,1193.8 L1394.2,1194.8 L1395.9,1195.8 L1397.6,1196.9 L1398.9,1197.6 L1400.6,1198.6 L1402.4,1199.5 L1404.1,1200.5 L1405.5,1201.1 L1407.2,1202.0 L1409.0,1202.9 L1410.4,1203.5 L1412.2,1204.4 L1414.0,1205.2 L1415.8,1206.0 L1417.2,1206.5 L1419.0,1207.3 L1420.9,1208.1 L1422.3,1208.6 L1424.1,1209.4 L1426.0,1210.1 L1427.9,1210.8 L1429.3,1211.3 L1431.2,1212.0 L1433.0,1212.7 L1434.9,1213.3 L1436.8,1214.0 L1438.2,1214.5 L1440.1,1215.1 L1442.0,1215.7 L1443.9,1216.4 L1445.8,1217.0 L1447.2,1217.4 L1449.1,1218.1 L1451.0,1218.7 L1452.9,1219.3 L1454.9,1219.8 L1456.3,1220.3 L1458.2,1220.9 L1460.1,1221.4 L1462.0,1222.0 L1464.0,1222.5 L1465.9,1223.1 L1467.8,1223.6 L1469.2,1224.0 L1471.2,1224.5 L1473.1,1225.0 L1475.1,1225.5 L1477.0,1226.0 L1478.9,1226.4 L1480.9,1226.9 L1482.8,1227.3 L1484.3,1227.6 L1486.3,1228.0 L1488.2,1228.4 L1490.2,1228.8 L1492.1,1229.2 L1494.1,1229.6 L1496.1,1230.0 L1498.0,1230.3 L1500.0,1230.7 L1502.0,1231.0 L1503.9,1231.4 L1505.9,1231.7 L1507.9,1232.0 L1509.8,1232.3 L1511.8,1232.7 L1513.8,1233.0 L1515.8,1233.3 L1517.7,1233.6 L1519.7,1233.9 L1521.7,1234.2 L1523.2,1234.4 L1525.2,1234.7 L1527.1,1235.0 L1529.1,1235.3 L1531.1,1235.6 L1533.1,1235.9 L1535.0,1236.2 L1537.0,1236.5 L1539.0,1236.8 L1541.0,1237.0 L1543.0,1237.3 L1544.9,1237.6 L1546.9,1237.9 L1548.9,1238.1 L1550.9,1238.4 L1552.9,1238.7 L1554.8,1239.0 L1556.8,1239.2 L1558.8,1239.5 L1560.8,1239.8 L1562.8,1240.0 L1564.7,1240.3 L1566.7,1240.5 L1568.7,1240.8 L1570.7,1241.1 L1572.7,1241.3 L1574.7,1241.6 L1576.6,1241.8 L1578.6,1242.1 L1580.6,1242.3 L1582.6,1242.6 L1584.6,1242.8 L1586.6,1243.0 L1588.5,1243.3 L1590.5,1243.5 L1592.5,1243.8 L1594.5,1244.0 L1596.0,1244.2 L1598.0,1244.4 L1600.0,1244.6 L1601.9,1244.9 L1603.9,1245.1 L1605.9,1245.3 L1607.9,1245.5 L1609.9,1245.8 L1611.9,1246.0 L1613.9,1246.2 L1615.8,1246.4 L1617.8,1246.6 L1619.8,1246.9 L1621.8,1247.1 L1623.8,1247.3 L1625.8,1247.5 L1627.8,1247.7 L1629.8,1247.9 L1631.8,1248.1 L1633.7,1248.3 L1635.7,1248.5 L1637.7,1248.7 L1639.7,1248.9 L1641.7,1249.1 L1643.7,1249.2 L1645.7,1249.4 L1647.7,1249.6 L1649.7,1249.8 L1651.2,1249.9 L1653.2,1250.1 L1655.2,1250.2 L1657.1,1250.4 L1659.1,1250.6 L1661.1,1250.7 L1663.1,1250.9 L1665.1,1251.0 L1667.1,1251.2 L1669.1,1251.3 L1671.1,1251.5 L1673.1,1251.6 L1675.1,1251.8 L1677.1,1251.9 L1679.1,1252.0 L1681.1,1252.1 L1683.1,1252.3 L1685.1,1252.4 L1687.1,1252.5 L1689.1,1252.6 L1691.1,1252.8 L1693.1,1252.9 L1695.1,1253.0 L1697.0,1253.1 L1699.0,1253.2 L1701.0,1253.3 L1702.5,1253.4 L1704.5,1253.5 L1706.5,1253.6 L1708.5,1253.6 L1710.5,1253.7 L1712.5,1253.8 L1714.5,1253.9 L1716.5,1254.0 L1718.5,1254.1 L1720.5,1254.2 L1722.5,1254.3 L1724.5,1254.3 L1726.5,1254.4 L1728.5,1254.5 L1730.5,1254.6 L1732.5,1254.7 L1734.5,1254.7 L1736.5,1254.8 L1738.5,1254.9 L1740.5,1255.0 L1742.5,1255.0 L1744.5,1255.1 L1746.5,1255.2 L1748.5,1255.2 L1750.5,1255.3 L1752.5,1255.4 L1754.5,1255.5 L1756.5,1255.5 L1758.5,1255.6 L1760.5,1255.7 L1762.5,1255.8 L1764.5,1255.8 L1766.5,1255.9 L1768.5,1256.0 L1770.5,1256.1 L1772.5,1256.1 L1774.5,1256.2 L1776.5,1256.3 L1778.5,1256.4 L1780.5,1256.4 L1782.5,1256.5 L1784.5,1256.6 L1786.5,1256.7 L1788.5,1256.7 L1790.5,1256.8 L1792.5,1256.9 L1794.5,1257.0 L1796.5,1257.1 L1798.5,1257.1 L1800.5,1257.2 L1802.5,1257.3 L1804.5,1257.4 L1806.5,1257.5 L1808.5,1257.5 L1810.5,1257.6 L1812.5,1257.7 L1814.5,1257.8 L1816.5,1257.9 L1818.4,1258.0 L1820.4,1258.0 L1822.4,1258.1 L1824.4,1258.2 L1826.4,1258.3 L1828.4,1258.4 L1830.4,1258.4 L1832.4,1258.5 L1834.4,1258.6 L1836.4,1258.7 L1838.4,1258.8 L1840.4,1258.8 L1842.4,1258.9 L1844.4,1259.0 L1846.4,1259.1 L1848.4,1259.2 L1850.4,1259.2 L1852.4,1259.3 L1854.4,1259.4 L1856.4,1259.5 L1858.4,1259.6 L1860.4,1259.6 L1862.4,1259.7 L1864.4,1259.8 L1866.4,1259.9 L1868.4,1260.0 L1870.4,1260.0 L1872.4,1260.1 L1874.4,1260.2 L1876.4,1260.3 L1878.4,1260.3 L1880.4,1260.4 L1882.4,1260.5 L1884.4,1260.6 L1886.4,1260.7 L1888.4,1260.7 L1890.4,1260.8 L1892.4,1260.9 L1894.4,1261.0 L1896.4,1261.0 L1898.4,1261.1 L1900.4,1261.2 L1902.4,1261.3 L1904.4,1261.3 L1906.4,1261.4 L1908.4,1261.5 L1910.4,1261.6 L1912.4,1261.6 L1914.4,1261.7 L1916.4,1261.8 L1918.4,1261.9 L1920.4,1261.9 L1922.4,1262.0 L1924.4,1262.1 L1926.4,1262.2 L1928.4,1262.2 L1930.4,1262.3 L1932.4,1262.4 L1934.4,1262.5 L1936.4,1262.5 L1938.4,1262.6 L1940.4,1262.7 L1942.4,1262.8 L1944.4,1262.8 L1946.4,1262.9 L1948.4,1263.0 L1950.3,1263.1 L1952.3,1263.1 L1954.3,1263.2 L1956.3,1263.3 L1958.3,1263.4 L1960.3,1263.4 L1962.3,1263.5 L1964.3,1263.6 L1966.3,1263.6 L1968.3,1263.7 L1970.3,1263.8 L1972.3,1263.9 L1974.3,1263.9 L1976.3,1264.0 L1978.3,1264.1 L1980.3,1264.1 L1982.3,1264.2 L1984.3,1264.3 L1986.3,1264.4 L1988.3,1264.4 L1990.3,1264.5 L1992.3,1264.6 L1994.3,1264.6 L1996.3,1264.7 L1998.3,1264.8 L2000.3,1264.8 L2002.3,1264.9 L2004.3,1265.0 L2006.3,1265.1 L2008.3,1265.1 L2010.3,1265.2 L2012.3,1265.3 L2014.3,1265.3 L2016.3,1265.4 L2018.3,1265.5 L2020.3,1265.5 L2022.3,1265.6 L2024.3,1265.7 L2026.3,1265.7 L2028.3,1265.8 L2030.3,1265.9 L2032.3,1265.9 L2034.3,1266.0 L2036.3,1266.1 L2038.3,1266.1 L2040.3,1266.2 L2042.3,1266.2 L2044.3,1266.3 L2046.3,1266.4 L2048.3,1266.4 L2050.3,1266.5 L2052.3,1266.6 L2054.3,1266.6 L2056.3,1266.7 L2058.3,1266.7 L2060.3,1266.8 L2062.3,1266.9 L2064.3,1266.9 L2066.3,1267.0 L2068.3,1267.0 L2070.3,1267.1 L2072.3,1267.2 L2074.3,1267.2 L2076.3,1267.3 L2078.3,1267.3 L2080.3,1267.4 L2082.3,1267.4 L2084.3,1267.5 L2086.3,1267.5 L2088.3,1267.6 L2090.3,1267.7 L2092.3,1267.7 L2094.3,1267.8 L2096.3,1267.8 L2098.3,1267.9 L2100.3,1267.9 L2102.3,1268.0 L2104.3,1268.0 L2106.3,1268.1 L2108.3,1268.1 L2110.3,1268.2 L2112.3,1268.2 L2114.3,1268.3 L2116.3,1268.3 L2118.3,1268.4 L2120.3,1268.4 L2122.3,1268.5 L2124.3,1268.5 L2126.3,1268.6 L2128.3,1268.6 L2130.3,1268.7 L2132.3,1268.7 L2134.3,1268.8 L2136.3,1268.8 L2138.3,1268.9 L2140.3,1268.9 L2142.3,1268.9 L2144.3,1269.0 L2146.3,1269.0 L2148.3,1269.1 L2150.3,1269.1 L2152.3,1269.2 L2154.3,1269.2 L2156.3,1269.3 L2158.3,1269.3 L2160.3,1269.4 L2162.3,1269.4 L2164.2,1269.4 L2166.2,1269.5 L2168.2,1269.5 L2170.2,1269.6 L2172.2,1269.6 L2174.2,1269.7 L2176.2,1269.7 L2178.2,1269.8 L2180.2,1269.8 L2182.2,1269.8 L2184.2,1269.9 L2186.2,1269.9 L2188.2,1270.0 L2190.2,1270.0 L2192.2,1270.1 L2194.2,1270.1 L2196.2,1270.1 L2198.2,1270.2 L2200.2,1270.2 L2202.2,1270.3 L2204.2,1270.3 L2206.2,1270.4 L2208.2,1270.4 L2210.2,1270.4 L2212.2,1270.5 L2214.2,1270.5 L2216.2,1270.6 L2218.2,1270.6 L2220.2,1270.6 L2222.2,1270.7 L2224.2,1270.7 L2226.2,1270.8 L2228.2,1270.8 L2230.2,1270.9 L2232.2,1270.9 L2234.2,1270.9 L2236.2,1271.0 L2238.2,1271.0 L2240.2,1271.1 L2242.2,1271.1 L2244.2,1271.2 L2246.2,1271.2 L2248.3,1271.3 L2249.7,1271.3" fill="none" stroke="#000" stroke-width="12.00" stroke-linecap="round" stroke-linejoin="round" clip-path="url(#cb)"/>
<path d="M502.0,161.0 L504.0,161.0 L506.0,161.0 L508.0,161.1 L510.0,161.1 L512.0,161.1 L514.0,161.1 L516.0,161.1 L518.0,161.1 L520.0,161.2 L522.0,161.2 L524.0,161.2 L526.0,161.2 L528.0,161.2 L530.0,161.2 L532.0,161.3 L534.0,161.3 L536.0,161.3 L538.0,161.3 L540.0,161.3 L542.0,161.3 L544.0,161.4 L546.0,161.4 L548.0,161.4 L550.0,161.4 L552.0,161.4 L554.0,161.4 L556.0,161.5 L558.0,161.5 L560.0,161.5 L562.0,161.5 L564.0,161.5 L566.0,161.5 L568.0,161.6 L570.0,161.6 L572.0,161.6 L574.0,161.6 L576.0,161.6 L578.0,161.6 L580.0,161.7 L582.0,161.7 L584.0,161.7 L586.0,161.7 L588.0,161.7 L590.0,161.8 L592.0,161.8 L594.0,161.8 L596.0,161.8 L598.0,161.8 L600.0,161.9 L602.0,161.9 L604.0,161.9 L606.0,161.9 L608.0,161.9 L610.0,162.0 L612.0,162.0 L614.0,162.0 L616.0,162.0 L618.0,162.1 L620.0,162.1 L622.0,162.1 L624.0,162.1 L626.0,162.2 L628.0,162.2 L630.0,162.2 L632.0,162.2 L634.0,162.3 L636.0,162.3 L638.0,162.3 L640.0,162.4 L642.0,162.4 L644.0,162.4 L646.0,162.5 L648.0,162.5 L650.0,162.5 L652.0,162.6 L654.0,162.6 L656.0,162.6 L658.0,162.7 L660.0,162.7 L662.0,162.7 L664.0,162.8 L666.0,162.8 L668.0,162.9 L670.0,162.9 L672.0,162.9 L674.0,163.0 L676.0,163.0 L678.0,163.1 L680.0,163.1 L682.0,163.2 L684.0,163.2 L686.0,163.3 L688.0,163.3 L690.0,163.4 L692.0,163.4 L694.0,163.5 L696.0,163.5 L698.0,163.6 L700.0,163.6 L702.0,163.7 L704.0,163.7 L706.0,163.8 L708.0,163.8 L710.0,163.9 L712.0,163.9 L714.0,164.0 L716.0,164.1 L718.0,164.1 L720.0,164.2 L722.0,164.2 L724.0,164.3 L726.0,164.4 L728.0,164.4 L730.0,164.5 L732.0,164.5 L734.0,164.6 L736.0,164.7 L738.0,164.7 L740.0,164.8 L742.0,164.9 L744.0,164.9 L746.0,165.0 L748.0,165.1 L750.0,165.2 L752.0,165.2 L754.0,165.3 L755.9,165.4 L757.9,165.5 L759.9,165.6 L761.9,165.7 L763.9,165.8 L765.9,165.9 L767.9,166.1 L769.9,166.2 L771.9,166.3 L773.9,166.5 L775.9,166.7 L777.9,166.9 L779.9,167.1 L781.8,167.3 L783.8,167.5 L785.8,167.8 L787.8,168.1 L789.8,168.4 L791.7,168.7 L793.7,169.0 L795.7,169.4 L797.6,169.7 L799.6,170.1 L801.5,170.5 L803.5,170.9 L805.5,171.3 L807.4,171.7 L809.4,172.1 L811.3,172.6 L813.3,173.1 L815.2,173.5 L817.1,174.0 L819.1,174.5 L821.0,175.0 L822.9,175.5 L824.9,176.0 L826.8,176.5 L828.7,177.1 L830.7,177.6 L832.6,178.2 L834.5,178.7 L836.4,179.3 L838.3,179.9 L840.2,180.5 L842.1,181.1 L844.0,181.7 L845.9,182.3 L847.8,182.9 L849.7,183.6 L851.6,184.3 L853.5,184.9 L855.3,185.6 L857.2,186.3 L859.1,187.1 L860.9,187.8 L862.8,188.6 L864.6,189.4 L866.4,190.2 L868.3,191.0 L870.1,191.8 L871.9,192.7 L873.7,193.5 L875.4,194.4 L877.2,195.3 L879.0,196.3 L880.7,197.2 L882.5,198.2 L884.2,199.2 L885.9,200.2 L887.6,201.2 L889.3,202.3 L891.0,203.3 L892.7,204.4 L894.3,205.5 L896.0,206.7 L897.6,207.8 L899.2,208.9 L900.9,210.1 L902.4,211.3 L904.0,212.5 L905.6,213.8 L907.1,215.0 L908.7,216.3 L910.2,217.6 L911.7,218.9 L913.1,220.2 L914.6,221.6 L916.0,223.0 L917.4,224.4 L918.8,225.8 L920.2,227.2 L921.6,228.7 L922.9,230.2 L924.2,231.7 L925.6,233.2 L926.9,234.7 L928.2,236.2 L929.4,237.7 L930.7,239.3 L932.0,240.8 L933.2,242.4 L934.5,243.9 L935.7,245.5 L936.9,247.1 L938.1,248.7 L939.3,250.3 L940.5,251.9 L941.7,253.5 L942.8,255.1 L944.0,256.8 L945.1,258.4 L946.3,260.0 L947.4,261.7 L948.5,263.4 L949.6,265.0 L950.6,266.7 L951.7,268.4 L952.8,270.1 L953.8,271.8 L954.9,273.5 L955.9,275.2 L956.9,276.9 L957.9,278.7 L959.0,280.4 L960.0,282.1 L961.0,283.8 L962.0,285.6 L962.9,287.3 L963.9,289.0 L964.9,290.8 L965.9,292.5 L966.8,294.3 L967.8,296.0 L968.7,297.8 L969.7,299.6 L970.6,301.3 L971.5,303.1 L972.4,304.9 L973.3,306.7 L974.1,308.5 L975.0,310.3 L975.8,312.1 L976.7,313.9 L977.5,315.8 L978.3,317.6 L979.1,319.4 L979.9,321.2 L980.7,323.1 L981.5,324.9 L982.3,326.8 L983.0,328.6 L983.8,330.4 L984.5,332.3 L985.3,334.1 L986.1,336.0 L986.8,337.9 L987.5,339.7 L988.3,341.6 L989.0,343.4 L989.7,345.3 L990.4,347.2 L991.1,349.0 L991.8,350.9 L992.5,352.8 L993.2,354.7 L993.9,356.5 L994.6,358.4 L995.2,360.3 L995.9,362.2 L996.5,364.1 L997.2,366.0 L997.8,367.9 L998.4,369.8 L999.1,371.7 L999.7,373.6 L1000.3,375.5 L1000.9,377.4 L1001.5,379.3 L1002.1,381.2 L1002.7,383.1 L1003.2,385.0 L1003.8,387.0 L1004.4,388.9 L1004.9,390.8 L1005.5,392.7 L1006.1,394.6 L1006.6,396.6 L1007.2,398.5 L1007.7,400.4 L1008.3,402.3 L1008.8,404.2 L1009.4,406.2 L1009.9,408.1 L1010.5,410.0 L1011.0,411.9 L1011.6,413.9 L1012.1,415.8 L1012.7,417.7 L1013.2,419.6 L1013.8,421.6 L1014.3,423.5 L1014.9,425.4 L1015.4,427.3 L1016.0,429.2 L1016.5,431.2 L1017.0,433.1 L1017.6,435.0 L1018.1,436.9 L1018.7,438.9 L1019.2,440.8 L1019.7,442.7 L1020.2,444.7 L1020.8,446.6 L1021.3,448.5 L1021.8,450.5 L1022.3,452.4 L1022.8,454.3 L1023.3,456.3 L1023.8,458.2 L1024.3,460.1 L1024.8,462.1 L1025.3,464.0 L1025.8,466.0 L1026.2,467.9 L1026.7,469.8 L1027.2,471.8 L1027.7,473.7 L1028.1,475.7 L1028.6,477.6 L1029.0,479.6 L1029.5,481.5 L1029.9,483.5 L1030.4,485.4 L1030.8,487.4 L1031.3,489.3 L1031.7,491.3 L1032.1,493.2 L1032.6,495.2 L1033.0,497.1 L1033.4,499.1 L1033.9,501.0 L1034.3,503.0 L1034.7,504.9 L1035.1,506.9 L1035.6,508.8 L1036.0,510.8 L1036.4,512.8 L1036.8,514.7 L1037.3,516.7 L1037.7,518.6 L1038.1,520.6 L1038.6,522.5 L1039.0,524.5 L1039.4,526.4 L1039.9,528.4 L1040.3,530.3 L1040.7,532.3 L1041.2,534.2 L1041.6,536.2 L1042.1,538.1 L1042.5,540.1 L1042.9,542.0 L1043.4,544.0 L1043.8,545.9 L1044.3,547.9 L1044.7,549.8 L1045.1,551.8 L1045.6,553.7 L1046.0,555.7 L1046.5,557.6 L1046.9,559.6 L1047.4,561.5 L1047.8,563.5 L1048.3,565.4 L1048.7,567.4 L1049.1,569.3 L1049.6,571.3 L1050.0,573.2 L1050.5,575.2 L1050.9,577.1 L1051.3,579.1 L1051.8,581.0 L1052.2,583.0 L1052.6,585.0 L1053.1,586.9 L1053.5,588.9 L1053.9,590.8 L1054.4,592.8 L1054.8,594.7 L1055.2,596.7 L1055.6,598.6 L1056.1,600.6 L1056.5,602.5 L1056.9,604.5 L1057.3,606.4 L1057.7,608.4 L1058.1,610.4 L1058.5,612.3 L1059.0,614.3 L1059.4,616.2 L1059.8,618.2 L1060.2,620.2 L1060.6,622.1 L1061.0,624.1 L1061.4,626.0 L1061.7,628.0 L1062.1,630.0 L1062.5,631.9 L1062.9,633.9 L1063.3,635.8 L1063.7,637.8 L1064.1,639.8 L1064.4,641.7 L1064.8,643.7 L1065.2,645.7 L1065.6,647.6 L1066.0,649.6 L1066.3,651.6 L1066.7,653.5 L1067.1,655.5 L1067.5,657.4 L1067.8,659.4 L1068.2,661.4 L1068.6,663.3 L1068.9,665.3 L1069.3,667.3 L1069.7,669.2 L1070.0,671.2 L1070.4,673.2 L1070.8,675.1 L1071.1,677.1 L1071.5,679.1 L1071.9,681.0 L1072.2,683.0 L1072.6,685.0 L1073.0,686.9 L1073.3,688.9 L1073.7,690.9 L1074.1,692.8 L1074.4,694.8 L1074.8,696.8 L1075.2,698.7 L1075.5,700.7 L1075.9,702.7 L1076.2,704.6 L1076.6,706.6 L1077.0,708.6 L1077.3,710.5 L1077.7,712.5 L1078.0,714.5 L1078.4,716.4 L1078.7,718.4 L1079.1,720.4 L1079.4,722.4 L1079.8,724.3 L1080.1,726.3 L1080.5,728.3 L1080.8,730.2 L1081.2,732.2 L1081.5,734.2 L1081.9,736.1 L1082.2,738.1 L1082.6,740.1 L1082.9,742.0 L1083.2,744.0 L1083.6,746.0 L1083.9,748.0 L1084.3,749.9 L1084.6,751.9 L1084.9,753.9 L1085.3,755.8 L1085.6,757.8 L1085.9,759.8 L1086.3,761.8 L1086.6,763.7 L1086.9,765.7 L1087.3,767.7 L1087.6,769.7 L1087.9,771.6 L1088.3,773.6 L1088.6,775.6 L1088.9,777.5 L1089.2,779.5 L1089.6,781.5 L1089.9,783.5 L1090.2,785.4 L1090.5,787.4 L1090.8,789.4 L1091.2,791.4 L1091.5,793.3 L1091.8,795.3 L1092.1,797.3 L1092.5,799.3 L1092.8,801.2 L1093.1,803.2 L1093.4,805.2 L1093.7,807.2 L1094.1,809.1 L1094.4,811.1 L1094.7,813.1 L1095.0,815.0 L1095.3,817.0 L1095.7,819.0 L1096.0,821.0 L1096.3,822.9 L1096.6,824.9 L1097.0,826.9 L1097.3,828.9 L1097.6,830.8 L1097.9,832.8 L1098.3,834.8 L1098.6,836.8 L1098.9,838.7 L1099.3,840.7 L1099.6,842.7 L1099.9,844.6 L1100.3,846.6 L1100.6,848.6 L1100.9,850.6 L1101.3,852.5 L1101.6,854.5 L1101.9,856.5 L1102.3,858.4 L1102.6,860.4 L1102.9,862.4 L1103.3,864.4 L1103.6,866.3 L1104.0,868.3 L1104.3,870.3 L1104.7,872.2 L1105.0,874.2 L1105.4,876.2 L1105.7,878.1 L1106.1,880.1 L1106.4,882.1 L1106.8,884.1 L1107.1,886.0 L1107.5,888.0 L1107.8,890.0 L1108.2,891.9 L1108.5,893.9 L1108.9,895.9 L1109.2,897.8 L1109.6,899.8 L1109.9,901.8 L1110.3,903.7 L1110.6,905.7 L1111.0,907.7 L1111.4,909.6 L1111.7,911.6 L1112.1,913.6 L1112.4,915.6 L1112.8,917.5 L1113.1,919.5 L1113.5,921.5 L1113.9,923.4 L1114.2,925.4 L1114.6,927.4 L1114.9,929.3 L1115.3,931.3 L1115.7,933.3 L1116.0,935.2 L1116.4,937.2 L1116.7,939.2 L1117.1,941.1 L1117.5,943.1 L1117.8,945.1 L1118.2,947.0 L1118.6,949.0 L1118.9,951.0 L1119.3,952.9 L1119.7,954.9 L1120.0,956.9 L1120.4,958.8 L1120.8,960.8 L1121.1,962.8 L1121.5,964.7 L1121.9,966.7 L1122.3,968.6 L1122.6,970.6 L1123.0,972.6 L1123.4,974.5 L1123.8,976.5 L1124.1,978.5 L1124.5,980.4 L1124.9,982.4 L1125.3,984.4 L1125.6,986.3 L1126.0,988.3 L1126.4,990.3 L1126.7,992.2 L1127.1,994.2 L1127.4,996.2 L1127.8,998.1 L1128.1,1000.1 L1128.5,1002.1 L1128.8,1004.0 L1129.1,1006.0 L1129.5,1008.0 L1129.8,1010.0 L1130.1,1011.9 L1130.5,1013.9 L1130.8,1015.9 L1131.1,1017.9 L1131.4,1019.8 L1131.7,1021.8 L1132.1,1023.8 L1132.4,1025.8 L1132.7,1027.7 L1133.0,1029.7 L1133.3,1031.7 L1133.6,1033.7 L1133.9,1035.6 L1134.3,1037.6 L1134.6,1039.6 L1134.9,1041.6 L1135.2,1043.5 L1135.5,1045.5 L1135.8,1047.5 L1136.2,1049.5 L1136.5,1051.4 L1136.8,1053.4 L1137.1,1055.4 L1137.4,1057.3 L1137.8,1059.3 L1138.1,1061.3 L1138.4,1063.3 L1138.8,1065.2 L1139.1,1067.2 L1139.4,1069.2 L1139.8,1071.2 L1140.1,1073.1 L1140.5,1075.1 L1140.8,1077.1 L1141.2,1079.0 L1141.5,1081.0 L1141.9,1083.0 L1142.2,1084.9 L1142.6,1086.9 L1143.0,1088.9 L1143.3,1090.8 L1143.7,1092.8 L1144.1,1094.8 L1144.5,1096.7 L1144.9,1098.7 L1145.3,1100.6 L1145.7,1102.6 L1146.1,1104.6 L1146.5,1106.5 L1146.9,1108.5 L1147.3,1110.4 L1147.7,1112.4 L1148.2,1114.3 L1148.6,1116.3 L1149.0,1118.2 L1149.5,1120.2 L1149.9,1122.1 L1150.4,1124.1 L1150.8,1126.0 L1151.3,1128.0 L1151.7,1129.9 L1152.2,1131.9 L1152.6,1133.8 L1153.1,1135.8 L1153.6,1137.7 L1154.0,1139.7 L1154.5,1141.6 L1155.0,1143.5 L1155.5,1145.5 L1155.9,1147.4 L1156.4,1149.4 L1156.9,1151.3 L1157.4,1153.3 L1157.9,1155.2 L1158.4,1157.1 L1158.9,1159.1 L1159.4,1161.0 L1159.8,1162.9 L1160.3,1164.9 L1160.8,1166.8 L1161.3,1168.8 L1161.8,1170.7 L1162.3,1172.6 L1162.8,1174.6 L1163.3,1176.5 L1163.9,1178.4 L1164.4,1180.4 L1164.9,1182.3 L1165.4,1184.2 L1165.9,1186.2 L1166.4,1188.1 L1166.9,1190.0 L1167.4,1192.0 L1167.9,1193.9 L1168.4,1195.8 L1169.0,1197.8 L1169.5,1199.7 L1170.0,1201.6 L1170.5,1203.6 L1171.0,1205.5 L1171.5,1207.4 L1172.1,1209.4 L1172.6,1211.3 L1173.1,1213.2 L1173.6,1215.2 L1174.2,1217.1 L1174.7,1219.0 L1175.2,1220.9 L1175.7,1222.9 L1176.3,1224.8 L1176.8,1226.7 L1177.4,1228.6 L1177.9,1230.6 L1178.5,1232.5 L1179.0,1234.4 L1179.6,1236.3 L1180.2,1238.2 L1180.7,1240.2 L1181.3,1242.1 L1181.9,1244.0 L1182.5,1245.9 L1183.1,1247.8 L1183.8,1249.7 L1184.4,1251.6 L1185.0,1253.5 L1185.7,1255.4 L1186.4,1257.2 L1187.0,1259.1 L1187.7,1261.0 L1188.4,1262.9 L1189.2,1264.7 L1189.9,1266.6 L1190.6,1268.4 L1191.4,1270.3 L1192.2,1272.1 L1193.0,1274.0 L1193.8,1275.8 L1194.6,1277.6 L1195.4,1279.4 L1196.2,1281.2 L1197.1,1283.0 L1198.0,1284.8 L1198.9,1286.6 L1199.7,1288.4 L1200.6,1290.2 L1201.6,1292.0 L1202.5,1293.8 L1203.4,1295.5 L1204.4,1297.3 L1205.3,1299.0 L1206.3,1300.8 L1207.3,1302.5 L1208.3,1304.2 L1209.3,1306.0 L1210.3,1307.7 L1211.4,1309.3 L1212.5,1311.0 L1213.6,1312.7 L1214.7,1314.3 L1215.8,1316.0 L1217.0,1317.6 L1218.1,1319.2 L1219.4,1320.8 L1220.6,1322.3 L1221.8,1323.9 L1223.1,1325.4 L1224.4,1326.9 L1225.8,1328.3 L1227.1,1329.8 L1228.5,1331.2 L1230.0,1332.5 L1231.4,1333.9 L1232.9,1335.2 L1234.4,1336.5 L1235.9,1337.7 L1237.5,1338.9 L1239.1,1340.0 L1240.7,1341.2 L1242.3,1342.2 L1244.0,1343.2 L1245.7,1344.2 L1247.4,1345.1 L1249.2,1346.0 L1251.0,1346.9 L1252.8,1347.6 L1254.6,1348.4 L1256.4,1349.0 L1258.3,1349.7 L1260.2,1350.3 L1262.1,1350.8 L1264.0,1351.3 L1265.9,1351.7 L1267.8,1352.2 L1269.8,1352.6 L1271.7,1352.9 L1273.7,1353.2 L1275.7,1353.5 L1277.6,1353.8 L1279.6,1354.0 L1281.6,1354.3 L1283.6,1354.5 L1285.6,1354.7 L1287.6,1354.9 L1289.5,1355.1 L1291.5,1355.3 L1293.5,1355.4 L1295.5,1355.6 L1297.5,1355.7 L1299.5,1355.9 L1301.5,1356.0 L1303.5,1356.2 L1305.5,1356.3 L1307.5,1356.4 L1309.5,1356.6 L1311.5,1356.7 L1313.5,1356.8 L1315.5,1357.0 L1317.5,1357.1 L1319.5,1357.2 L1321.5,1357.3 L1323.5,1357.4 L1325.4,1357.6 L1327.4,1357.7 L1329.4,1357.8 L1331.4,1357.9 L1333.4,1358.0 L1335.4,1358.1 L1337.4,1358.2 L1339.4,1358.3 L1341.4,1358.4 L1343.4,1358.5 L1345.4,1358.6 L1347.4,1358.7 L1349.4,1358.8 L1351.4,1358.9 L1353.4,1359.0 L1355.4,1359.1 L1357.4,1359.2 L1359.4,1359.3 L1361.4,1359.4 L1363.4,1359.5 L1365.4,1359.6 L1367.4,1359.6 L1369.4,1359.7 L1371.4,1359.8 L1373.4,1359.9 L1375.4,1360.0 L1377.4,1360.1 L1379.4,1360.1 L1381.4,1360.2 L1383.4,1360.3 L1385.4,1360.4 L1387.4,1360.4 L1389.4,1360.5 L1391.4,1360.6 L1393.4,1360.7 L1395.4,1360.7 L1397.4,1360.8 L1399.4,1360.9 L1401.4,1360.9 L1403.4,1361.0 L1405.4,1361.1 L1407.4,1361.1 L1409.4,1361.2 L1411.4,1361.3 L1413.4,1361.3 L1415.4,1361.4 L1417.4,1361.5 L1419.4,1361.5 L1421.4,1361.6 L1423.4,1361.7 L1425.4,1361.7 L1427.4,1361.8 L1429.4,1361.9 L1431.4,1361.9 L1433.4,1362.0 L1435.4,1362.1 L1437.3,1362.1 L1439.3,1362.2 L1441.3,1362.2 L1443.3,1362.3 L1445.3,1362.4 L1447.3,1362.4 L1449.3,1362.5 L1451.3,1362.5 L1453.3,1362.6 L1455.3,1362.7 L1457.3,1362.7 L1459.3,1362.8 L1461.3,1362.8 L1463.3,1362.9 L1465.3,1363.0 L1467.3,1363.0 L1469.3,1363.1 L1471.3,1363.1 L1473.3,1363.2 L1475.3,1363.3 L1477.3,1363.3 L1479.3,1363.4 L1481.3,1363.4 L1483.3,1363.5 L1485.3,1363.6 L1487.3,1363.6 L1489.3,1363.7 L1491.3,1363.7 L1493.3,1363.8 L1495.3,1363.9 L1497.3,1363.9 L1499.3,1364.0 L1501.3,1364.0 L1503.3,1364.1 L1505.3,1364.1 L1507.3,1364.2 L1509.3,1364.3 L1511.3,1364.3 L1513.3,1364.4 L1515.3,1364.4 L1517.3,1364.5 L1519.3,1364.5 L1521.3,1364.6 L1523.3,1364.6 L1525.3,1364.7 L1527.3,1364.7 L1529.3,1364.8 L1531.3,1364.8 L1533.3,1364.9 L1535.3,1364.9 L1537.3,1365.0 L1539.3,1365.0 L1541.3,1365.0 L1543.3,1365.1 L1545.3,1365.1 L1547.3,1365.2 L1549.3,1365.2 L1551.3,1365.3 L1553.3,1365.3 L1555.3,1365.3 L1557.3,1365.4 L1559.3,1365.4 L1561.3,1365.5 L1562.3,1365.5" fill="none" stroke="#000" stroke-width="12.00" stroke-linecap="round" stroke-linejoin="round"/>
<rect x="417.0" y="38.0" width="1833.0" height="1474.5" fill="none" stroke="#000" stroke-width="12.0" stroke-linejoin="miter"/>
<line x1="417.0" y1="1512.5" x2="403.0" y2="1512.5" stroke="#000" stroke-width="12.0" stroke-linecap="round"/>
<line x1="417.0" y1="1389.6" x2="389.3" y2="1389.6" stroke="#000" stroke-width="12.0" stroke-linecap="round"/>
<line x1="417.0" y1="1266.8" x2="403.0" y2="1266.8" stroke="#000" stroke-width="12.0" stroke-linecap="round"/>
<line x1="417.0" y1="1143.9" x2="389.3" y2="1143.9" stroke="#000" stroke-width="12.0" stroke-linecap="round"/>
<line x1="417.0" y1="1021.0" x2="403.0" y2="1021.0" stroke="#000" stroke-width="12.0" stroke-linecap="round"/>
<line x1="417.0" y1="898.1" x2="389.3" y2="898.1" stroke="#000" stroke-width="12.0" stroke-linecap="round"/>
<line x1="417.0" y1="775.2" x2="403.0" y2="775.2" stroke="#000" stroke-width="12.0" stroke-linecap="round"/>
<line x1="417.0" y1="652.4" x2="389.3" y2="652.4" stroke="#000" stroke-width="12.0" stroke-linecap="round"/>
<line x1="417.0" y1="529.5" x2="403.0" y2="529.5" stroke="#000" stroke-width="12.0" stroke-linecap="round"/>
<line x1="417.0" y1="406.6" x2="389.3" y2="406.6" stroke="#000" stroke-width="12.0" stroke-linecap="round"/>
<line x1="417.0" y1="283.8" x2="403.0" y2="283.8" stroke="#000" stroke-width="12.0" stroke-linecap="round"/>
<line x1="417.0" y1="160.9" x2="389.3" y2="160.9" stroke="#000" stroke-width="12.0" stroke-linecap="round"/>
<line x1="417.0" y1="38.0" x2="403.0" y2="38.0" stroke="#000" stroke-width="12.0" stroke-linecap="round"/>
<line x1="417.0" y1="1512.5" x2="417.0" y2="1540.0" stroke="#000" stroke-width="12.0" stroke-linecap="round"/>
<line x1="646.1" y1="1512.5" x2="646.1" y2="1525.0" stroke="#000" stroke-width="12.0" stroke-linecap="round"/>
<line x1="875.2" y1="1512.5" x2="875.2" y2="1540.0" stroke="#000" stroke-width="12.0" stroke-linecap="round"/>
<line x1="1104.4" y1="1512.5" x2="1104.4" y2="1525.0" stroke="#000" stroke-width="12.0" stroke-linecap="round"/>
<line x1="1333.5" y1="1512.5" x2="1333.5" y2="1540.0" stroke="#000" stroke-width="12.0" stroke-linecap="round"/>
<line x1="1562.6" y1="1512.5" x2="1562.6" y2="1525.0" stroke="#000" stroke-width="12.0" stroke-linecap="round"/>
<line x1="1791.8" y1="1512.5" x2="1791.8" y2="1540.0" stroke="#000" stroke-width="12.0" stroke-linecap="round"/>
<line x1="2020.9" y1="1512.5" x2="2020.9" y2="1525.0" stroke="#000" stroke-width="12.0" stroke-linecap="round"/>
<line x1="2250.0" y1="1512.5" x2="2250.0" y2="1540.0" stroke="#000" stroke-width="12.0" stroke-linecap="round"/>
<text x="256.9" y="180.5" font-size="76.0" font-family="'Liberation Serif','Times New Roman',serif" font-weight="bold">100</text>
<text x="294.9" y="426.2" font-size="76.0" font-family="'Liberation Serif','Times New Roman',serif" font-weight="bold">80</text>
<text x="294.9" y="672.0" font-size="76.0" font-family="'Liberation Serif','Times New Roman',serif" font-weight="bold">60</text>
<text x="294.9" y="917.7" font-size="76.0" font-family="'Liberation Serif','Times New Roman',serif" font-weight="bold">40</text>
<text x="294.9" y="1163.5" font-size="76.0" font-family="'Liberation Serif','Times New Roman',serif" font-weight="bold">20</text>
<text x="332.9" y="1409.2" font-size="76.0" font-family="'Liberation Serif','Times New Roman',serif" font-weight="bold">0</text>
<text x="398.0" y="1615.8" font-size="76.0" font-family="'Liberation Serif','Times New Roman',serif" font-weight="bold">0</text>
<text x="818.1" y="1615.8" font-size="76.0" font-family="'Liberation Serif','Times New Roman',serif" font-weight="bold">200</text>
<text x="1277.4" y="1615.8" font-size="76.0" font-family="'Liberation Serif','Times New Roman',serif" font-weight="bold">400</text>
<text x="1734.9" y="1615.8" font-size="76.0" font-family="'Liberation Serif','Times New Roman',serif" font-weight="bold">600</text>
<text x="2193.2" y="1615.8" font-size="76.0" font-family="'Liberation Serif','Times New Roman',serif" font-weight="bold">800</text>
<text x="1058.9" y="1742.2" font-size="75.0" font-family="'Liberation Serif','Times New Roman',serif" font-weight="bold" textLength="560.6" lengthAdjust="spacingAndGlyphs">Temperature (°C)</text>
<text transform="rotate(-90)" x="-978.3" y="150.0" font-size="76.0" font-family="'Liberation Serif','Times New Roman',serif" font-weight="bold" textLength="311.0" lengthAdjust="spacingAndGlyphs">Mass (%)</text>
<text x="31.1" y="151.6" font-size="150.0" font-family="'Liberation Serif','Times New Roman',serif" textLength="178.0" lengthAdjust="spacingAndGlyphs">(b)</text>
<text x="1704.1" y="1139.9" font-size="68.0" font-family="'Liberation Serif','Times New Roman',serif" textLength="238.1" lengthAdjust="spacingAndGlyphs">cellulose</text>
<text x="1580.9" y="1397.8" font-size="68.0" font-family="'Liberation Serif','Times New Roman',serif">E</text>
<text x="1621.7" y="1424.1" font-size="42.0" font-family="'Liberation Serif','Times New Roman',serif">2</text>
<text x="1642.9" y="1398.3" font-size="68.0" font-family="'Liberation Serif','Times New Roman',serif">C</text>
<text x="1687.3" y="1424.1" font-size="42.0" font-family="'Liberation Serif','Times New Roman',serif">16</text>
<rect x="1393.5" y="45.5" width="839.0" height="747.5" fill="#fff" stroke="none"/>
<path d="M1394.0,167.0 L1396.0,167.2 L1398.0,167.3 L1400.0,167.5 L1402.0,167.6 L1404.0,167.8 L1406.0,167.9 L1408.0,168.1 L1410.0,168.2 L1412.0,168.4 L1413.9,168.5 L1415.9,168.6 L1417.9,168.8 L1419.9,168.9 L1421.9,169.0 L1423.9,169.2 L1425.9,169.3 L1427.9,169.4 L1429.9,169.5 L1431.9,169.7 L1433.9,169.8 L1435.9,169.9 L1437.9,170.0 L1439.9,170.2 L1441.9,170.3 L1443.9,170.4 L1445.9,170.5 L1447.9,170.6 L1449.9,170.8 L1451.9,170.9 L1453.9,171.0 L1455.9,171.1 L1457.9,171.2 L1459.9,171.3 L1461.9,171.5 L1463.9,171.6 L1465.8,171.7 L1467.8,171.8 L1469.8,171.9 L1471.8,172.0 L1473.8,172.1 L1475.8,172.3 L1477.8,172.4 L1479.8,172.5 L1481.8,172.6 L1483.8,172.7 L1485.8,172.9 L1487.8,173.0 L1489.8,173.1 L1491.8,173.2 L1493.8,173.3 L1495.8,173.5 L1497.8,173.6 L1499.8,173.7 L1501.8,173.8 L1503.8,174.0 L1505.8,174.1 L1507.8,174.2 L1509.8,174.3 L1511.8,174.5 L1513.8,174.6 L1515.8,174.7 L1517.8,174.9 L1519.7,175.0 L1521.7,175.1 L1523.7,175.3 L1525.7,175.4 L1527.7,175.6 L1529.7,175.7 L1531.7,175.9 L1533.7,176.0 L1535.7,176.2 L1537.7,176.3 L1539.7,176.5 L1541.7,176.6 L1543.7,176.8 L1545.7,176.9 L1547.7,177.1 L1549.7,177.3 L1551.7,177.4 L1553.6,177.6 L1555.6,177.8 L1557.6,178.0 L1559.6,178.1 L1561.6,178.3 L1563.6,178.5 L1565.6,178.7 L1567.6,178.9 L1569.6,179.1 L1571.6,179.3 L1573.6,179.5 L1575.6,179.7 L1577.5,179.9 L1579.5,180.1 L1581.5,180.3 L1583.5,180.5 L1585.5,180.7 L1587.5,180.9 L1589.5,181.2 L1591.5,181.4 L1593.4,181.6 L1595.4,181.9 L1597.4,182.1 L1599.4,182.4 L1601.4,182.6 L1603.4,182.9 L1605.4,183.1 L1607.3,183.4 L1609.3,183.6 L1611.3,183.9 L1613.3,184.2 L1615.3,184.5 L1617.2,184.7 L1619.2,185.0 L1621.2,185.3 L1623.2,185.6 L1625.2,185.9 L1627.1,186.2 L1629.1,186.5 L1631.1,186.8 L1633.1,187.1 L1635.0,187.5 L1637.0,187.8 L1639.0,188.1 L1641.0,188.5 L1642.9,188.8 L1644.9,189.1 L1646.9,189.5 L1648.8,189.8 L1650.8,190.2 L1652.8,190.6 L1654.7,190.9 L1656.7,191.3 L1658.7,191.7 L1660.6,192.1 L1662.6,192.5 L1664.6,192.9 L1666.5,193.3 L1668.5,193.7 L1670.4,194.1 L1672.4,194.5 L1674.3,195.0 L1676.3,195.4 L1678.2,195.8 L1680.2,196.3 L1682.1,196.7 L1684.1,197.2 L1686.0,197.6 L1688.0,198.1 L1689.9,198.6 L1691.9,199.0 L1693.8,199.5 L1695.8,200.0 L1697.7,200.5 L1699.6,201.0 L1701.6,201.5 L1703.5,202.0 L1705.4,202.6 L1707.4,203.1 L1709.3,203.6 L1711.2,204.2 L1713.1,204.7 L1715.1,205.3 L1717.0,205.8 L1718.9,206.4 L1720.8,207.0 L1722.7,207.5 L1724.7,208.1 L1726.6,208.7 L1728.5,209.3 L1730.4,209.9 L1732.3,210.5 L1734.2,211.1 L1736.1,211.7 L1738.0,212.4 L1739.9,213.0 L1741.8,213.7 L1743.7,214.3 L1745.6,215.0 L1747.5,215.6 L1749.3,216.3 L1751.2,217.0 L1753.1,217.7 L1755.0,218.3 L1756.9,219.0 L1758.7,219.7 L1760.6,220.4 L1762.5,221.2 L1764.3,221.9 L1766.2,222.6 L1768.1,223.4 L1769.9,224.1 L1771.8,224.8 L1773.6,225.6 L1775.5,226.4 L1777.3,227.1 L1779.2,227.9 L1781.0,228.7 L1782.9,229.5 L1784.7,230.3 L1786.5,231.1 L1788.3,232.0 L1790.2,232.8 L1792.0,233.6 L1793.8,234.5 L1795.6,235.3 L1797.4,236.2 L1799.2,237.1 L1801.0,238.0 L1802.8,238.9 L1804.6,239.8 L1806.4,240.7 L1808.1,241.6 L1809.9,242.5 L1811.7,243.4 L1813.5,244.4 L1815.2,245.3 L1817.0,246.3 L1818.7,247.3 L1820.5,248.3 L1822.2,249.3 L1823.9,250.3 L1825.7,251.3 L1827.4,252.3 L1829.1,253.3 L1830.8,254.4 L1832.5,255.4 L1834.2,256.5 L1835.9,257.5 L1837.6,258.6 L1839.3,259.7 L1841.0,260.8 L1842.7,261.9 L1844.3,263.0 L1846.0,264.1 L1847.7,265.2 L1849.3,266.4 L1850.9,267.5 L1852.6,268.7 L1854.2,269.8 L1855.8,271.0 L1857.5,272.2 L1859.1,273.4 L1860.7,274.6 L1862.3,275.8 L1863.9,277.0 L1865.5,278.2 L1867.0,279.5 L1868.6,280.7 L1870.2,281.9 L1871.7,283.2 L1873.3,284.5 L1874.8,285.7 L1876.4,287.0 L1877.9,288.3 L1879.4,289.6 L1881.0,290.9 L1882.5,292.2 L1884.0,293.5 L1885.5,294.9 L1887.0,296.2 L1888.5,297.6 L1890.0,298.9 L1891.4,300.3 L1892.9,301.6 L1894.4,303.0 L1895.8,304.4 L1897.3,305.8 L1898.7,307.1 L1900.2,308.5 L1901.6,309.9 L1903.0,311.4 L1904.4,312.8 L1905.8,314.2 L1907.2,315.6 L1908.6,317.1 L1910.0,318.5 L1911.4,320.0 L1912.8,321.4 L1914.2,322.9 L1915.5,324.3 L1916.9,325.8 L1918.2,327.3 L1919.6,328.8 L1920.9,330.3 L1922.3,331.8 L1923.6,333.3 L1924.9,334.8 L1926.2,336.3 L1927.5,337.8 L1928.8,339.3 L1930.1,340.9 L1931.4,342.4 L1932.7,343.9 L1934.0,345.5 L1935.3,347.0 L1936.5,348.6 L1937.8,350.1 L1939.1,351.7 L1940.3,353.3 L1941.6,354.8 L1942.8,356.4 L1944.0,358.0 L1945.3,359.6 L1946.5,361.2 L1947.7,362.7 L1948.9,364.3 L1950.1,365.9 L1951.3,367.6 L1952.5,369.2 L1953.7,370.8 L1954.9,372.4 L1956.1,374.0 L1957.2,375.6 L1958.4,377.3 L1959.6,378.9 L1960.7,380.5 L1961.9,382.2 L1963.0,383.8 L1964.1,385.5 L1965.3,387.1 L1966.4,388.8 L1967.5,390.5 L1968.7,392.1 L1969.8,393.8 L1970.9,395.5 L1972.0,397.1 L1973.1,398.8 L1974.2,400.5 L1975.3,402.2 L1976.4,403.8 L1977.4,405.5 L1978.5,407.2 L1979.6,408.9 L1980.6,410.6 L1981.7,412.3 L1982.8,414.0 L1983.8,415.7 L1984.9,417.4 L1985.9,419.2 L1986.9,420.9 L1988.0,422.6 L1989.0,424.3 L1990.0,426.0 L1991.0,427.8 L1992.1,429.5 L1993.1,431.2 L1994.1,433.0 L1995.1,434.7 L1996.1,436.4 L1997.1,438.2 L1998.0,439.9 L1999.0,441.7 L2000.0,443.4 L2001.0,445.2 L2002.0,446.9 L2002.9,448.7 L2003.9,450.4 L2004.9,452.2 L2005.8,453.9 L2006.8,455.7 L2007.7,457.5 L2008.7,459.2 L2009.6,461.0 L2010.5,462.8 L2011.5,464.6 L2012.4,466.3 L2013.3,468.1 L2014.2,469.9 L2015.2,471.7 L2016.1,473.4 L2017.0,475.2 L2017.9,477.0 L2018.8,478.8 L2019.7,480.6 L2020.6,482.4 L2021.5,484.2 L2022.4,486.0 L2023.3,487.8 L2024.1,489.6 L2025.0,491.4 L2025.9,493.2 L2026.8,495.0 L2027.6,496.8 L2028.5,498.6 L2029.4,500.4 L2030.2,502.2 L2031.1,504.0 L2031.9,505.8 L2032.8,507.7 L2033.6,509.5 L2034.5,511.3 L2035.3,513.1 L2036.1,514.9 L2037.0,516.8 L2037.8,518.6 L2038.6,520.4 L2039.5,522.2 L2040.3,524.1 L2041.1,525.9 L2041.9,527.7 L2042.7,529.5 L2043.5,531.4 L2044.4,533.2 L2045.2,535.0 L2046.0,536.9 L2046.8,538.7 L2047.6,540.6 L2048.3,542.4 L2049.1,544.2 L2049.9,546.1 L2050.7,547.9 L2051.5,549.8 L2052.3,551.6 L2053.0,553.5 L2053.8,555.3 L2054.6,557.2 L2055.4,559.0 L2056.1,560.9 L2056.9,562.7 L2057.7,564.6 L2058.4,566.4 L2059.2,568.3 L2059.9,570.1 L2060.7,572.0 L2061.4,573.8 L2062.2,575.7 L2062.9,577.6 L2063.6,579.4 L2064.4,581.3 L2065.1,583.2 L2065.9,585.0 L2066.6,586.9 L2067.3,588.7 L2068.0,590.6 L2068.8,592.5 L2069.5,594.3 L2070.2,596.2 L2070.9,598.1 L2071.6,600.0 L2072.4,601.8 L2073.1,603.7 L2073.8,605.6 L2074.5,607.5 L2075.2,609.3 L2075.9,611.2 L2076.6,613.1 L2077.3,615.0 L2078.0,616.8 L2078.7,618.7 L2079.4,620.6 L2080.1,622.5 L2080.8,624.4 L2081.4,626.2 L2082.1,628.1 L2082.8,630.0 L2083.5,631.9 L2084.2,633.8 L2084.8,635.7 L2085.5,637.5 L2086.2,639.4 L2086.9,641.3 L2087.5,643.2 L2088.2,645.1 L2088.9,647.0 L2089.5,648.9 L2090.2,650.8 L2090.8,652.7 L2091.5,654.5 L2092.1,656.4 L2092.8,658.3 L2093.4,660.2 L2094.1,662.1 L2094.7,664.0 L2095.4,665.9 L2096.0,667.8 L2096.7,669.7 L2097.3,671.6 L2098.0,673.5 L2098.6,675.4 L2099.2,677.3 L2099.9,679.2 L2100.5,681.1 L2101.1,683.0 L2101.7,684.9 L2102.4,686.8 L2103.0,688.7 L2103.6,690.6 L2104.2,692.5 L2104.9,694.4 L2105.5,696.3 L2106.1,698.2 L2106.7,700.1 L2107.3,702.0 L2107.9,704.0 L2108.5,705.9 L2109.2,707.8 L2109.8,709.7 L2110.4,711.6 L2111.0,713.5 L2111.6,715.4 L2112.2,717.3 L2112.8,719.2 L2113.4,721.1 L2114.0,723.0 L2114.6,725.0 L2115.2,726.9 L2115.7,728.8 L2116.3,730.7 L2116.9,732.6 L2117.5,734.5 L2118.1,736.4 L2118.7,738.4 L2119.3,740.3 L2119.9,742.2 L2120.4,744.1 L2121.0,746.0 L2121.6,747.9 L2122.2,749.9 L2122.7,751.8 L2123.3,753.7 L2123.9,755.6 L2124.5,757.5 L2125.0,759.5 L2125.6,761.4 L2126.2,763.3 L2126.7,765.2 L2127.3,767.1 L2127.9,769.1 L2128.4,771.0 L2129.0,772.9 L2129.5,774.8 L2130.1,776.7 L2130.6,778.7 L2131.2,780.6 L2131.8,782.5 L2132.3,784.4 L2132.9,786.4 L2133.4,788.3 L2134.0,790.2 L2134.5,792.1 L2135.0,793.9" fill="none" stroke="#000" stroke-width="2.60" stroke-linecap="butt" stroke-linejoin="round" clip-path="url(#ib)"/>
<path d="M1394.0,180.9 L1396.0,181.1 L1398.0,181.2 L1400.0,181.4 L1402.0,181.6 L1404.0,181.8 L1405.9,182.0 L1407.9,182.2 L1409.9,182.3 L1411.9,182.5 L1413.9,182.7 L1415.9,182.9 L1417.9,183.0 L1419.9,183.2 L1421.9,183.4 L1423.9,183.5 L1425.9,183.7 L1427.9,183.9 L1429.9,184.0 L1431.9,184.2 L1433.8,184.3 L1435.8,184.5 L1437.8,184.6 L1439.8,184.8 L1441.8,185.0 L1443.8,185.1 L1445.8,185.3 L1447.8,185.4 L1449.8,185.6 L1451.8,185.7 L1453.8,185.8 L1455.8,186.0 L1457.8,186.1 L1459.8,186.3 L1461.8,186.4 L1463.8,186.6 L1465.8,186.7 L1467.8,186.9 L1469.7,187.0 L1471.7,187.2 L1473.7,187.3 L1475.7,187.4 L1477.7,187.6 L1479.7,187.7 L1481.7,187.9 L1483.7,188.0 L1485.7,188.2 L1487.7,188.3 L1489.7,188.4 L1491.7,188.6 L1493.7,188.7 L1495.7,188.9 L1497.7,189.0 L1499.7,189.2 L1501.7,189.3 L1503.7,189.5 L1505.7,189.6 L1507.6,189.8 L1509.6,189.9 L1511.6,190.1 L1513.6,190.2 L1515.6,190.4 L1517.6,190.5 L1519.6,190.7 L1521.6,190.9 L1523.6,191.0 L1525.6,191.2 L1527.6,191.3 L1529.6,191.5 L1531.6,191.7 L1533.6,191.8 L1535.6,192.0 L1537.5,192.2 L1539.5,192.4 L1541.5,192.5 L1543.5,192.7 L1545.5,192.9 L1547.5,193.1 L1549.5,193.3 L1551.5,193.4 L1553.5,193.6 L1555.5,193.8 L1557.5,194.0 L1559.5,194.2 L1561.4,194.4 L1563.4,194.6 L1565.4,194.8 L1567.4,195.0 L1569.4,195.2 L1571.4,195.4 L1573.4,195.7 L1575.4,195.9 L1577.4,196.1 L1579.3,196.3 L1581.3,196.5 L1583.3,196.8 L1585.3,197.0 L1587.3,197.2 L1589.3,197.5 L1591.3,197.7 L1593.3,198.0 L1595.2,198.2 L1597.2,198.5 L1599.2,198.7 L1601.2,199.0 L1603.2,199.3 L1605.2,199.5 L1607.1,199.8 L1609.1,200.1 L1611.1,200.4 L1613.1,200.6 L1615.1,200.9 L1617.0,201.2 L1619.0,201.5 L1621.0,201.8 L1623.0,202.1 L1624.9,202.4 L1626.9,202.7 L1628.9,203.1 L1630.9,203.4 L1632.8,203.7 L1634.8,204.0 L1636.8,204.4 L1638.8,204.7 L1640.7,205.1 L1642.7,205.4 L1644.7,205.8 L1646.6,206.1 L1648.6,206.5 L1650.6,206.9 L1652.5,207.2 L1654.5,207.6 L1656.5,208.0 L1658.4,208.4 L1660.4,208.8 L1662.3,209.2 L1664.3,209.6 L1666.3,210.0 L1668.2,210.4 L1670.2,210.8 L1672.1,211.3 L1674.1,211.7 L1676.0,212.1 L1678.0,212.6 L1679.9,213.0 L1681.9,213.5 L1683.8,214.0 L1685.8,214.4 L1687.7,214.9 L1689.7,215.4 L1691.6,215.9 L1693.5,216.3 L1695.5,216.8 L1697.4,217.3 L1699.3,217.9 L1701.3,218.4 L1703.2,218.9 L1705.1,219.4 L1707.1,219.9 L1709.0,220.5 L1710.9,221.0 L1712.8,221.6 L1714.8,222.1 L1716.7,222.7 L1718.6,223.3 L1720.5,223.8 L1722.4,224.4 L1724.4,225.0 L1726.3,225.6 L1728.2,226.2 L1730.1,226.8 L1732.0,227.4 L1733.9,228.1 L1735.8,228.7 L1737.7,229.3 L1739.6,230.0 L1741.5,230.6 L1743.4,231.3 L1745.3,231.9 L1747.1,232.6 L1749.0,233.3 L1750.9,233.9 L1752.8,234.6 L1754.7,235.3 L1756.5,236.0 L1758.4,236.7 L1760.3,237.4 L1762.2,238.2 L1764.0,238.9 L1765.9,239.6 L1767.7,240.4 L1769.6,241.1 L1771.4,241.9 L1773.3,242.6 L1775.1,243.4 L1777.0,244.2 L1778.8,245.0 L1780.7,245.7 L1782.5,246.6 L1784.3,247.4 L1786.2,248.2 L1788.0,249.0 L1789.8,249.8 L1791.6,250.7 L1793.4,251.5 L1795.2,252.4 L1797.0,253.3 L1798.8,254.2 L1800.6,255.0 L1802.4,255.9 L1804.2,256.8 L1806.0,257.8 L1807.8,258.7 L1809.5,259.6 L1811.3,260.6 L1813.1,261.5 L1814.8,262.5 L1816.6,263.4 L1818.3,264.4 L1820.1,265.4 L1821.8,266.4 L1823.5,267.4 L1825.3,268.4 L1827.0,269.5 L1828.7,270.5 L1830.4,271.6 L1832.1,272.6 L1833.8,273.7 L1835.5,274.7 L1837.2,275.8 L1838.9,276.9 L1840.5,278.0 L1842.2,279.1 L1843.9,280.3 L1845.5,281.4 L1847.2,282.5 L1848.8,283.7 L1850.4,284.8 L1852.1,286.0 L1853.7,287.2 L1855.3,288.4 L1856.9,289.6 L1858.5,290.8 L1860.1,292.0 L1861.7,293.2 L1863.3,294.4 L1864.9,295.7 L1866.4,296.9 L1868.0,298.2 L1869.6,299.4 L1871.1,300.7 L1872.7,302.0 L1874.2,303.3 L1875.7,304.5 L1877.2,305.8 L1878.8,307.2 L1880.3,308.5 L1881.8,309.8 L1883.3,311.1 L1884.8,312.5 L1886.2,313.8 L1887.7,315.2 L1889.2,316.6 L1890.6,317.9 L1892.1,319.3 L1893.5,320.7 L1895.0,322.1 L1896.4,323.5 L1897.9,324.9 L1899.3,326.3 L1900.7,327.7 L1902.1,329.1 L1903.5,330.6 L1904.9,332.0 L1906.3,333.5 L1907.7,334.9 L1909.0,336.4 L1910.4,337.8 L1911.8,339.3 L1913.1,340.8 L1914.5,342.3 L1915.8,343.8 L1917.2,345.3 L1918.5,346.8 L1919.8,348.3 L1921.1,349.8 L1922.4,351.3 L1923.7,352.8 L1925.0,354.3 L1926.3,355.9 L1927.6,357.4 L1928.9,359.0 L1930.2,360.5 L1931.4,362.1 L1932.7,363.6 L1934.0,365.2 L1935.2,366.7 L1936.4,368.3 L1937.7,369.9 L1938.9,371.5 L1940.1,373.1 L1941.4,374.7 L1942.6,376.2 L1943.8,377.8 L1945.0,379.4 L1946.2,381.1 L1947.4,382.7 L1948.6,384.3 L1949.8,385.9 L1950.9,387.5 L1952.1,389.2 L1953.3,390.8 L1954.4,392.4 L1955.6,394.1 L1956.7,395.7 L1957.9,397.3 L1959.0,399.0 L1960.1,400.6 L1961.3,402.3 L1962.4,404.0 L1963.5,405.6 L1964.6,407.3 L1965.7,409.0 L1966.8,410.6 L1967.9,412.3 L1969.0,414.0 L1970.1,415.7 L1971.2,417.4 L1972.3,419.0 L1973.4,420.7 L1974.4,422.4 L1975.5,424.1 L1976.6,425.8 L1977.6,427.5 L1978.7,429.2 L1979.7,430.9 L1980.8,432.6 L1981.8,434.4 L1982.9,436.1 L1983.9,437.8 L1984.9,439.5 L1985.9,441.2 L1987.0,443.0 L1988.0,444.7 L1989.0,446.4 L1990.0,448.2 L1991.0,449.9 L1992.0,451.6 L1993.0,453.4 L1994.0,455.1 L1995.0,456.8 L1996.0,458.6 L1996.9,460.3 L1997.9,462.1 L1998.9,463.8 L1999.8,465.6 L2000.8,467.4 L2001.8,469.1 L2002.7,470.9 L2003.7,472.6 L2004.6,474.4 L2005.6,476.2 L2006.5,477.9 L2007.5,479.7 L2008.4,481.5 L2009.3,483.3 L2010.3,485.0 L2011.2,486.8 L2012.1,488.6 L2013.0,490.4 L2013.9,492.2 L2014.8,493.9 L2015.8,495.7 L2016.7,497.5 L2017.6,499.3 L2018.5,501.1 L2019.4,502.9 L2020.2,504.7 L2021.1,506.5 L2022.0,508.3 L2022.9,510.1 L2023.8,511.9 L2024.7,513.7 L2025.5,515.5 L2026.4,517.3 L2027.3,519.1 L2028.1,520.9 L2029.0,522.7 L2029.8,524.5 L2030.7,526.3 L2031.6,528.1 L2032.4,530.0 L2033.3,531.8 L2034.1,533.6 L2034.9,535.4 L2035.8,537.2 L2036.6,539.0 L2037.4,540.9 L2038.3,542.7 L2039.1,544.5 L2039.9,546.3 L2040.7,548.2 L2041.6,550.0 L2042.4,551.8 L2043.2,553.7 L2044.0,555.5 L2044.8,557.3 L2045.6,559.2 L2046.4,561.0 L2047.2,562.8 L2048.0,564.7 L2048.8,566.5 L2049.6,568.4 L2050.4,570.2 L2051.2,572.0 L2051.9,573.9 L2052.7,575.7 L2053.5,577.6 L2054.3,579.4 L2055.0,581.3 L2055.8,583.1 L2056.6,585.0 L2057.3,586.8 L2058.1,588.7 L2058.9,590.5 L2059.6,592.4 L2060.4,594.3 L2061.1,596.1 L2061.9,598.0 L2062.6,599.8 L2063.3,601.7 L2064.1,603.6 L2064.8,605.4 L2065.5,607.3 L2066.3,609.1 L2067.0,611.0 L2067.7,612.9 L2068.5,614.7 L2069.2,616.6 L2069.9,618.5 L2070.6,620.4 L2071.3,622.2 L2072.0,624.1 L2072.7,626.0 L2073.4,627.9 L2074.1,629.7 L2074.8,631.6 L2075.5,633.5 L2076.2,635.4 L2076.9,637.2 L2077.6,639.1 L2078.3,641.0 L2079.0,642.9 L2079.7,644.8 L2080.4,646.7 L2081.0,648.5 L2081.7,650.4 L2082.4,652.3 L2083.1,654.2 L2083.7,656.1 L2084.4,658.0 L2085.1,659.9 L2085.7,661.8 L2086.4,663.7 L2087.0,665.5 L2087.7,667.4 L2088.4,669.3 L2089.0,671.2 L2089.7,673.1 L2090.3,675.0 L2090.9,676.9 L2091.6,678.8 L2092.2,680.7 L2092.9,682.6 L2093.5,684.5 L2094.1,686.4 L2094.8,688.3 L2095.4,690.2 L2096.0,692.1 L2096.7,694.0 L2097.3,695.9 L2097.9,697.8 L2098.5,699.7 L2099.1,701.6 L2099.8,703.5 L2100.4,705.5 L2101.0,707.4 L2101.6,709.3 L2102.2,711.2 L2102.8,713.1 L2103.4,715.0 L2104.0,716.9 L2104.6,718.8 L2105.2,720.7 L2105.8,722.6 L2106.4,724.6 L2107.0,726.5 L2107.6,728.4 L2108.2,730.3 L2108.7,732.2 L2109.3,734.1 L2109.9,736.0 L2110.5,738.0 L2111.1,739.9 L2111.7,741.8 L2112.2,743.7 L2112.8,745.6 L2113.4,747.6 L2113.9,749.5 L2114.5,751.4 L2115.1,753.3 L2115.6,755.2 L2116.2,757.2 L2116.8,759.1 L2117.3,761.0 L2117.9,762.9 L2118.4,764.9 L2119.0,766.8 L2119.6,768.7 L2120.1,770.6 L2120.7,772.6 L2121.2,774.5 L2121.7,776.4 L2122.3,778.3 L2122.8,780.3 L2123.4,782.2 L2123.9,784.1 L2124.5,786.1 L2125.0,788.0 L2125.5,789.9 L2126.1,791.8 L2126.6,793.8 L2127.0,795.3" fill="none" stroke="#000" stroke-width="2.60" stroke-linecap="butt" stroke-linejoin="round" clip-path="url(#ib)"/>
<path d="M1394.0,183.6 L1396.0,183.7 L1398.0,183.9 L1400.0,184.0 L1402.0,184.1 L1404.0,184.3 L1406.0,184.4 L1408.0,184.5 L1410.0,184.6 L1412.0,184.8 L1414.0,184.9 L1416.0,185.0 L1418.0,185.1 L1419.9,185.3 L1421.9,185.4 L1423.9,185.5 L1425.9,185.6 L1427.9,185.7 L1429.9,185.9 L1431.9,186.0 L1433.9,186.1 L1435.9,186.2 L1437.9,186.3 L1439.9,186.5 L1441.9,186.6 L1443.9,186.7 L1445.9,186.8 L1447.9,186.9 L1449.9,187.1 L1451.9,187.2 L1453.9,187.3 L1455.9,187.4 L1457.9,187.5 L1459.9,187.7 L1461.9,187.8 L1463.9,187.9 L1465.9,188.0 L1467.9,188.2 L1469.9,188.3 L1471.9,188.4 L1473.8,188.5 L1475.8,188.7 L1477.8,188.8 L1479.8,188.9 L1481.8,189.0 L1483.8,189.2 L1485.8,189.3 L1487.8,189.4 L1489.8,189.6 L1491.8,189.7 L1493.8,189.9 L1495.8,190.0 L1497.8,190.1 L1499.8,190.3 L1501.8,190.4 L1503.8,190.6 L1505.8,190.7 L1507.8,190.9 L1509.8,191.0 L1511.8,191.2 L1513.8,191.3 L1515.7,191.5 L1517.7,191.6 L1519.7,191.8 L1521.7,192.0 L1523.7,192.1 L1525.7,192.3 L1527.7,192.5 L1529.7,192.6 L1531.7,192.8 L1533.7,193.0 L1535.7,193.2 L1537.7,193.4 L1539.7,193.5 L1541.6,193.7 L1543.6,193.9 L1545.6,194.1 L1547.6,194.3 L1549.6,194.5 L1551.6,194.7 L1553.6,194.9 L1555.6,195.1 L1557.6,195.3 L1559.6,195.5 L1561.5,195.8 L1563.5,196.0 L1565.5,196.2 L1567.5,196.4 L1569.5,196.7 L1571.5,196.9 L1573.5,197.1 L1575.5,197.4 L1577.4,197.6 L1579.4,197.9 L1581.4,198.1 L1583.4,198.4 L1585.4,198.6 L1587.4,198.9 L1589.3,199.2 L1591.3,199.4 L1593.3,199.7 L1595.3,200.0 L1597.3,200.3 L1599.2,200.5 L1601.2,200.8 L1603.2,201.1 L1605.2,201.4 L1607.2,201.7 L1609.1,202.0 L1611.1,202.4 L1613.1,202.7 L1615.1,203.0 L1617.0,203.3 L1619.0,203.6 L1621.0,204.0 L1623.0,204.3 L1624.9,204.7 L1626.9,205.0 L1628.9,205.4 L1630.8,205.7 L1632.8,206.1 L1634.8,206.5 L1636.7,206.8 L1638.7,207.2 L1640.7,207.6 L1642.6,208.0 L1644.6,208.4 L1646.5,208.8 L1648.5,209.2 L1650.5,209.6 L1652.4,210.0 L1654.4,210.4 L1656.3,210.8 L1658.3,211.3 L1660.2,211.7 L1662.2,212.1 L1664.1,212.6 L1666.1,213.0 L1668.0,213.5 L1670.0,214.0 L1671.9,214.4 L1673.9,214.9 L1675.8,215.4 L1677.7,215.9 L1679.7,216.4 L1681.6,216.9 L1683.6,217.4 L1685.5,217.9 L1687.4,218.4 L1689.4,218.9 L1691.3,219.4 L1693.2,220.0 L1695.1,220.5 L1697.1,221.1 L1699.0,221.6 L1700.9,222.2 L1702.8,222.7 L1704.8,223.3 L1706.7,223.9 L1708.6,224.4 L1710.5,225.0 L1712.4,225.6 L1714.3,226.2 L1716.2,226.8 L1718.1,227.4 L1720.0,228.1 L1721.9,228.7 L1723.8,229.3 L1725.7,230.0 L1727.6,230.6 L1729.5,231.3 L1731.4,231.9 L1733.3,232.6 L1735.2,233.3 L1737.1,234.0 L1738.9,234.7 L1740.8,235.4 L1742.7,236.1 L1744.5,236.8 L1746.4,237.5 L1748.3,238.3 L1750.1,239.0 L1752.0,239.8 L1753.8,240.5 L1755.7,241.3 L1757.5,242.1 L1759.4,242.9 L1761.2,243.7 L1763.0,244.5 L1764.9,245.3 L1766.7,246.1 L1768.5,247.0 L1770.3,247.8 L1772.1,248.7 L1773.9,249.6 L1775.7,250.4 L1777.5,251.3 L1779.3,252.2 L1781.1,253.1 L1782.9,254.1 L1784.6,255.0 L1786.4,255.9 L1788.2,256.9 L1789.9,257.8 L1791.7,258.8 L1793.4,259.8 L1795.2,260.8 L1796.9,261.8 L1798.6,262.8 L1800.4,263.8 L1802.1,264.8 L1803.8,265.9 L1805.5,266.9 L1807.2,268.0 L1808.9,269.1 L1810.6,270.2 L1812.3,271.2 L1813.9,272.3 L1815.6,273.5 L1817.3,274.6 L1818.9,275.7 L1820.6,276.8 L1822.2,278.0 L1823.8,279.1 L1825.5,280.3 L1827.1,281.5 L1828.7,282.7 L1830.3,283.9 L1831.9,285.1 L1833.5,286.3 L1835.1,287.5 L1836.7,288.7 L1838.3,290.0 L1839.8,291.2 L1841.4,292.5 L1842.9,293.8 L1844.5,295.0 L1846.0,296.3 L1847.6,297.6 L1849.1,298.9 L1850.6,300.2 L1852.1,301.5 L1853.6,302.9 L1855.1,304.2 L1856.6,305.5 L1858.1,306.9 L1859.6,308.2 L1861.0,309.6 L1862.5,311.0 L1864.0,312.3 L1865.4,313.7 L1866.9,315.1 L1868.3,316.5 L1869.7,317.9 L1871.1,319.3 L1872.6,320.8 L1874.0,322.2 L1875.4,323.6 L1876.8,325.1 L1878.2,326.5 L1879.5,327.9 L1880.9,329.4 L1882.3,330.9 L1883.6,332.3 L1885.0,333.8 L1886.3,335.3 L1887.7,336.8 L1889.0,338.3 L1890.4,339.8 L1891.7,341.3 L1893.0,342.8 L1894.3,344.3 L1895.6,345.8 L1896.9,347.4 L1898.2,348.9 L1899.5,350.5 L1900.8,352.0 L1902.0,353.5 L1903.3,355.1 L1904.6,356.7 L1905.8,358.2 L1907.1,359.8 L1908.3,361.4 L1909.5,362.9 L1910.8,364.5 L1912.0,366.1 L1913.2,367.7 L1914.4,369.3 L1915.6,370.9 L1916.8,372.5 L1918.0,374.1 L1919.2,375.7 L1920.4,377.3 L1921.6,379.0 L1922.8,380.6 L1923.9,382.2 L1925.1,383.8 L1926.3,385.5 L1927.4,387.1 L1928.6,388.8 L1929.7,390.4 L1930.8,392.1 L1932.0,393.7 L1933.1,395.4 L1934.2,397.0 L1935.3,398.7 L1936.4,400.4 L1937.5,402.0 L1938.7,403.7 L1939.7,405.4 L1940.8,407.1 L1941.9,408.8 L1943.0,410.4 L1944.1,412.1 L1945.2,413.8 L1946.2,415.5 L1947.3,417.2 L1948.4,418.9 L1949.4,420.6 L1950.5,422.3 L1951.5,424.0 L1952.5,425.8 L1953.6,427.5 L1954.6,429.2 L1955.6,430.9 L1956.7,432.6 L1957.7,434.4 L1958.7,436.1 L1959.7,437.8 L1960.7,439.6 L1961.7,441.3 L1962.7,443.0 L1963.7,444.8 L1964.7,446.5 L1965.7,448.3 L1966.7,450.0 L1967.6,451.8 L1968.6,453.5 L1969.6,455.3 L1970.6,457.0 L1971.5,458.8 L1972.5,460.5 L1973.4,462.3 L1974.4,464.1 L1975.3,465.8 L1976.3,467.6 L1977.2,469.4 L1978.2,471.1 L1979.1,472.9 L1980.0,474.7 L1980.9,476.5 L1981.9,478.2 L1982.8,480.0 L1983.7,481.8 L1984.6,483.6 L1985.5,485.4 L1986.4,487.2 L1987.3,488.9 L1988.2,490.7 L1989.1,492.5 L1990.0,494.3 L1990.9,496.1 L1991.8,497.9 L1992.7,499.7 L1993.5,501.5 L1994.4,503.3 L1995.3,505.1 L1996.2,506.9 L1997.0,508.7 L1997.9,510.5 L1998.8,512.3 L1999.6,514.2 L2000.5,516.0 L2001.3,517.8 L2002.2,519.6 L2003.0,521.4 L2003.9,523.2 L2004.7,525.1 L2005.5,526.9 L2006.4,528.7 L2007.2,530.5 L2008.0,532.3 L2008.9,534.2 L2009.7,536.0 L2010.5,537.8 L2011.3,539.7 L2012.1,541.5 L2012.9,543.3 L2013.7,545.1 L2014.6,547.0 L2015.4,548.8 L2016.2,550.6 L2017.0,552.5 L2017.8,554.3 L2018.5,556.2 L2019.3,558.0 L2020.1,559.8 L2020.9,561.7 L2021.7,563.5 L2022.5,565.4 L2023.2,567.2 L2024.0,569.1 L2024.8,570.9 L2025.6,572.8 L2026.3,574.6 L2027.1,576.5 L2027.9,578.3 L2028.6,580.2 L2029.4,582.0 L2030.1,583.9 L2030.9,585.7 L2031.6,587.6 L2032.4,589.5 L2033.1,591.3 L2033.9,593.2 L2034.6,595.0 L2035.4,596.9 L2036.1,598.8 L2036.8,600.6 L2037.6,602.5 L2038.3,604.3 L2039.0,606.2 L2039.8,608.1 L2040.5,609.9 L2041.2,611.8 L2041.9,613.7 L2042.6,615.6 L2043.4,617.4 L2044.1,619.3 L2044.8,621.2 L2045.5,623.0 L2046.2,624.9 L2046.9,626.8 L2047.6,628.7 L2048.3,630.5 L2049.0,632.4 L2049.7,634.3 L2050.4,636.2 L2051.1,638.1 L2051.8,639.9 L2052.5,641.8 L2053.2,643.7 L2053.9,645.6 L2054.5,647.5 L2055.2,649.3 L2055.9,651.2 L2056.6,653.1 L2057.3,655.0 L2057.9,656.9 L2058.6,658.8 L2059.3,660.7 L2059.9,662.5 L2060.6,664.4 L2061.3,666.3 L2061.9,668.2 L2062.6,670.1 L2063.3,672.0 L2063.9,673.9 L2064.6,675.8 L2065.2,677.7 L2065.9,679.6 L2066.5,681.5 L2067.2,683.4 L2067.8,685.2 L2068.5,687.1 L2069.1,689.0 L2069.8,690.9 L2070.4,692.8 L2071.0,694.7 L2071.7,696.6 L2072.3,698.5 L2072.9,700.4 L2073.6,702.3 L2074.2,704.2 L2074.8,706.1 L2075.5,708.0 L2076.1,709.9 L2076.7,711.8 L2077.3,713.7 L2078.0,715.6 L2078.6,717.5 L2079.2,719.5 L2079.8,721.4 L2080.4,723.3 L2081.0,725.2 L2081.6,727.1 L2082.3,729.0 L2082.9,730.9 L2083.5,732.8 L2084.1,734.7 L2084.7,736.6 L2085.3,738.5 L2085.9,740.4 L2086.5,742.3 L2087.1,744.3 L2087.7,746.2 L2088.3,748.1 L2088.9,750.0 L2089.5,751.9 L2090.1,753.8 L2090.6,755.7 L2091.2,757.6 L2091.8,759.6 L2092.4,761.5 L2093.0,763.4 L2093.6,765.3 L2094.2,767.2 L2094.7,769.1 L2095.3,771.1 L2095.9,773.0 L2096.5,774.9 L2097.0,776.8 L2097.6,778.7 L2098.2,780.6 L2098.8,782.6 L2099.3,784.5 L2099.9,786.4 L2100.5,788.3 L2101.0,790.2 L2101.6,792.2 L2102.2,794.1 L2102.5,795.2" fill="none" stroke="#000" stroke-width="2.60" stroke-linecap="butt" stroke-linejoin="round" clip-path="url(#ib)"/>
<path d="M1394.0,198.9 L1396.0,199.2 L1397.9,199.5 L1399.9,199.8 L1401.9,200.1 L1403.9,200.4 L1405.9,200.7 L1407.8,201.0 L1409.8,201.3 L1411.8,201.6 L1413.8,201.8 L1415.8,202.1 L1417.7,202.4 L1419.7,202.6 L1421.7,202.9 L1423.7,203.1 L1425.7,203.3 L1427.7,203.6 L1429.7,203.8 L1431.6,204.0 L1433.6,204.2 L1435.6,204.5 L1437.6,204.7 L1439.6,204.9 L1441.6,205.1 L1443.6,205.3 L1445.6,205.5 L1447.6,205.7 L1449.5,205.9 L1451.5,206.1 L1453.5,206.3 L1455.5,206.4 L1457.5,206.6 L1459.5,206.8 L1461.5,207.0 L1463.5,207.1 L1465.5,207.3 L1467.5,207.5 L1469.5,207.6 L1471.5,207.8 L1473.5,208.0 L1475.4,208.1 L1477.4,208.3 L1479.4,208.4 L1481.4,208.6 L1483.4,208.7 L1485.4,208.9 L1487.4,209.1 L1489.4,209.2 L1491.4,209.3 L1493.4,209.5 L1495.4,209.6 L1497.4,209.8 L1499.4,209.9 L1501.4,210.1 L1503.4,210.2 L1505.4,210.4 L1507.4,210.5 L1509.4,210.7 L1511.3,210.8 L1513.3,211.0 L1515.3,211.1 L1517.3,211.3 L1519.3,211.4 L1521.3,211.5 L1523.3,211.7 L1525.3,211.8 L1527.3,212.0 L1529.3,212.2 L1531.3,212.3 L1533.3,212.5 L1535.3,212.6 L1537.3,212.8 L1539.3,212.9 L1541.3,213.1 L1543.3,213.3 L1545.2,213.4 L1547.2,213.6 L1549.2,213.8 L1551.2,213.9 L1553.2,214.1 L1555.2,214.3 L1557.2,214.5 L1559.2,214.7 L1561.2,214.9 L1563.2,215.1 L1565.2,215.2 L1567.2,215.4 L1569.1,215.6 L1571.1,215.8 L1573.1,216.1 L1575.1,216.3 L1577.1,216.5 L1579.1,216.7 L1581.1,216.9 L1583.1,217.2 L1585.0,217.4 L1587.0,217.6 L1589.0,217.9 L1591.0,218.1 L1593.0,218.4 L1595.0,218.6 L1597.0,218.9 L1598.9,219.2 L1600.9,219.4 L1602.9,219.7 L1604.9,220.0 L1606.9,220.3 L1608.8,220.6 L1610.8,220.9 L1612.8,221.2 L1614.8,221.5 L1616.7,221.8 L1618.7,222.1 L1620.7,222.5 L1622.7,222.8 L1624.6,223.1 L1626.6,223.5 L1628.6,223.8 L1630.5,224.2 L1632.5,224.6 L1634.5,225.0 L1636.4,225.3 L1638.4,225.7 L1640.4,226.1 L1642.3,226.5 L1644.3,226.9 L1646.2,227.4 L1648.2,227.8 L1650.1,228.2 L1652.1,228.7 L1654.0,229.1 L1656.0,229.6 L1657.9,230.0 L1659.9,230.5 L1661.8,231.0 L1663.8,231.5 L1665.7,232.0 L1667.6,232.5 L1669.6,233.0 L1671.5,233.5 L1673.4,234.0 L1675.4,234.6 L1677.3,235.1 L1679.2,235.7 L1681.1,236.2 L1683.1,236.8 L1685.0,237.4 L1686.9,238.0 L1688.8,238.6 L1690.7,239.2 L1692.6,239.8 L1694.5,240.4 L1696.4,241.1 L1698.3,241.7 L1700.2,242.3 L1702.1,243.0 L1704.0,243.7 L1705.9,244.4 L1707.7,245.0 L1709.6,245.7 L1711.5,246.4 L1713.4,247.2 L1715.2,247.9 L1717.1,248.6 L1718.9,249.4 L1720.8,250.1 L1722.6,250.9 L1724.5,251.6 L1726.3,252.4 L1728.2,253.2 L1730.0,254.0 L1731.8,254.8 L1733.7,255.6 L1735.5,256.5 L1737.3,257.3 L1739.1,258.1 L1740.9,259.0 L1742.8,259.8 L1744.6,260.7 L1746.4,261.6 L1748.2,262.5 L1749.9,263.4 L1751.7,264.3 L1753.5,265.2 L1755.3,266.1 L1757.1,267.1 L1758.8,268.0 L1760.6,269.0 L1762.3,269.9 L1764.1,270.9 L1765.8,271.9 L1767.6,272.9 L1769.3,273.8 L1771.1,274.9 L1772.8,275.9 L1774.5,276.9 L1776.2,277.9 L1777.9,279.0 L1779.6,280.0 L1781.4,281.1 L1783.1,282.1 L1784.7,283.2 L1786.4,284.3 L1788.1,285.4 L1789.8,286.5 L1791.5,287.6 L1793.1,288.7 L1794.8,289.8 L1796.4,290.9 L1798.1,292.1 L1799.7,293.2 L1801.4,294.3 L1803.0,295.5 L1804.6,296.7 L1806.3,297.8 L1807.9,299.0 L1809.5,300.2 L1811.1,301.4 L1812.7,302.6 L1814.3,303.8 L1815.9,305.0 L1817.5,306.3 L1819.1,307.5 L1820.6,308.7 L1822.2,310.0 L1823.8,311.2 L1825.3,312.5 L1826.9,313.8 L1828.4,315.0 L1830.0,316.3 L1831.5,317.6 L1833.0,318.9 L1834.6,320.2 L1836.1,321.5 L1837.6,322.8 L1839.1,324.1 L1840.6,325.5 L1842.1,326.8 L1843.6,328.1 L1845.1,329.5 L1846.6,330.8 L1848.0,332.2 L1849.5,333.5 L1851.0,334.9 L1852.4,336.3 L1853.9,337.6 L1855.3,339.0 L1856.8,340.4 L1858.2,341.8 L1859.7,343.2 L1861.1,344.6 L1862.5,346.0 L1863.9,347.4 L1865.3,348.9 L1866.7,350.3 L1868.1,351.7 L1869.5,353.2 L1870.9,354.6 L1872.3,356.0 L1873.7,357.5 L1875.1,358.9 L1876.5,360.4 L1877.8,361.9 L1879.2,363.3 L1880.5,364.8 L1881.9,366.3 L1883.2,367.8 L1884.6,369.3 L1885.9,370.8 L1887.3,372.2 L1888.6,373.7 L1889.9,375.3 L1891.2,376.8 L1892.5,378.3 L1893.8,379.8 L1895.2,381.3 L1896.5,382.8 L1897.7,384.4 L1899.0,385.9 L1900.3,387.4 L1901.6,389.0 L1902.9,390.5 L1904.1,392.1 L1905.4,393.6 L1906.7,395.2 L1907.9,396.8 L1909.2,398.3 L1910.4,399.9 L1911.6,401.5 L1912.9,403.1 L1914.1,404.6 L1915.3,406.2 L1916.5,407.8 L1917.7,409.4 L1919.0,411.0 L1920.2,412.6 L1921.3,414.2 L1922.5,415.9 L1923.7,417.5 L1924.9,419.1 L1926.1,420.7 L1927.2,422.4 L1928.4,424.0 L1929.6,425.6 L1930.7,427.3 L1931.8,428.9 L1933.0,430.6 L1934.1,432.2 L1935.2,433.9 L1936.4,435.5 L1937.5,437.2 L1938.6,438.9 L1939.7,440.5 L1940.8,442.2 L1941.9,443.9 L1943.0,445.6 L1944.1,447.3 L1945.2,449.0 L1946.2,450.6 L1947.3,452.3 L1948.4,454.0 L1949.4,455.7 L1950.5,457.5 L1951.5,459.2 L1952.6,460.9 L1953.6,462.6 L1954.6,464.3 L1955.7,466.0 L1956.7,467.8 L1957.7,469.5 L1958.7,471.2 L1959.7,472.9 L1960.7,474.7 L1961.7,476.4 L1962.7,478.2 L1963.7,479.9 L1964.7,481.6 L1965.7,483.4 L1966.7,485.2 L1967.6,486.9 L1968.6,488.7 L1969.6,490.4 L1970.5,492.2 L1971.5,494.0 L1972.4,495.7 L1973.3,497.5 L1974.3,499.3 L1975.2,501.0 L1976.1,502.8 L1977.1,504.6 L1978.0,506.4 L1978.9,508.2 L1979.8,509.9 L1980.7,511.7 L1981.6,513.5 L1982.5,515.3 L1983.4,517.1 L1984.3,518.9 L1985.2,520.7 L1986.1,522.5 L1986.9,524.3 L1987.8,526.1 L1988.7,527.9 L1989.5,529.7 L1990.4,531.5 L1991.3,533.4 L1992.1,535.2 L1993.0,537.0 L1993.8,538.8 L1994.6,540.6 L1995.5,542.4 L1996.3,544.3 L1997.1,546.1 L1998.0,547.9 L1998.8,549.7 L1999.6,551.6 L2000.4,553.4 L2001.2,555.2 L2002.0,557.1 L2002.9,558.9 L2003.7,560.7 L2004.4,562.6 L2005.2,564.4 L2006.0,566.3 L2006.8,568.1 L2007.6,570.0 L2008.4,571.8 L2009.2,573.7 L2009.9,575.5 L2010.7,577.4 L2011.5,579.2 L2012.2,581.1 L2013.0,582.9 L2013.8,584.8 L2014.5,586.6 L2015.3,588.5 L2016.0,590.3 L2016.7,592.2 L2017.5,594.1 L2018.2,595.9 L2019.0,597.8 L2019.7,599.7 L2020.4,601.5 L2021.2,603.4 L2021.9,605.3 L2022.6,607.1 L2023.3,609.0 L2024.0,610.9 L2024.7,612.7 L2025.5,614.6 L2026.2,616.5 L2026.9,618.4 L2027.6,620.2 L2028.3,622.1 L2029.0,624.0 L2029.7,625.9 L2030.3,627.8 L2031.0,629.6 L2031.7,631.5 L2032.4,633.4 L2033.1,635.3 L2033.8,637.2 L2034.4,639.1 L2035.1,641.0 L2035.8,642.8 L2036.4,644.7 L2037.1,646.6 L2037.8,648.5 L2038.4,650.4 L2039.1,652.3 L2039.7,654.2 L2040.4,656.1 L2041.0,658.0 L2041.7,659.9 L2042.3,661.8 L2043.0,663.7 L2043.6,665.6 L2044.3,667.5 L2044.9,669.4 L2045.5,671.3 L2046.2,673.2 L2046.8,675.1 L2047.4,677.0 L2048.0,678.9 L2048.7,680.8 L2049.3,682.7 L2049.9,684.6 L2050.5,686.5 L2051.1,688.4 L2051.8,690.3 L2052.4,692.2 L2053.0,694.1 L2053.6,696.0 L2054.2,698.0 L2054.8,699.9 L2055.4,701.8 L2056.0,703.7 L2056.6,705.6 L2057.2,707.5 L2057.8,709.4 L2058.4,711.3 L2059.0,713.3 L2059.5,715.2 L2060.1,717.1 L2060.7,719.0 L2061.3,720.9 L2061.9,722.8 L2062.4,724.8 L2063.0,726.7 L2063.6,728.6 L2064.2,730.5 L2064.7,732.4 L2065.3,734.4 L2065.9,736.3 L2066.4,738.2 L2067.0,740.1 L2067.6,742.0 L2068.1,744.0 L2068.7,745.9 L2069.2,747.8 L2069.8,749.7 L2070.3,751.7 L2070.9,753.6 L2071.5,755.5 L2072.0,757.4 L2072.5,759.4 L2073.1,761.3 L2073.6,763.2 L2074.2,765.1 L2074.7,767.1 L2075.3,769.0 L2075.8,770.9 L2076.3,772.9 L2076.9,774.8 L2077.4,776.7 L2077.9,778.7 L2078.5,780.6 L2079.0,782.5 L2079.5,784.5 L2080.0,786.4 L2080.6,788.3 L2081.1,790.3 L2081.6,792.2 L2082.1,794.1 L2082.5,795.6" fill="none" stroke="#000" stroke-width="2.60" stroke-linecap="butt" stroke-linejoin="round" clip-path="url(#ib)"/>
<path d="M1394.0,250.7 L1396.0,250.7 L1398.0,250.8 L1400.0,250.9 L1402.0,250.9 L1404.0,251.0 L1406.0,251.0 L1408.0,251.1 L1410.0,251.1 L1412.0,251.2 L1414.0,251.3 L1416.0,251.3 L1418.0,251.4 L1420.0,251.4 L1422.0,251.5 L1424.0,251.5 L1426.0,251.6 L1428.0,251.6 L1430.0,251.7 L1432.0,251.7 L1434.0,251.8 L1436.0,251.8 L1438.0,251.9 L1440.0,251.9 L1442.0,252.0 L1444.0,252.0 L1446.0,252.1 L1448.0,252.1 L1450.0,252.2 L1452.0,252.2 L1454.0,252.2 L1456.0,252.3 L1458.0,252.3 L1460.0,252.4 L1462.0,252.4 L1464.0,252.5 L1466.0,252.5 L1468.0,252.6 L1470.0,252.6 L1472.0,252.6 L1474.0,252.7 L1476.0,252.7 L1478.0,252.8 L1480.0,252.8 L1482.0,252.8 L1484.0,252.9 L1486.0,252.9 L1488.0,253.0 L1490.0,253.0 L1492.0,253.0 L1494.0,253.1 L1496.0,253.1 L1498.0,253.2 L1500.0,253.2 L1502.0,253.3 L1504.0,253.3 L1506.0,253.3 L1508.0,253.4 L1510.0,253.4 L1512.0,253.5 L1514.0,253.5 L1516.0,253.5 L1518.0,253.6 L1520.0,253.6 L1522.0,253.6 L1524.0,253.7 L1526.0,253.7 L1528.0,253.8 L1530.0,253.8 L1532.0,253.8 L1534.0,253.9 L1536.0,253.9 L1538.0,254.0 L1540.0,254.0 L1542.0,254.1 L1544.0,254.1 L1546.0,254.1 L1548.0,254.2 L1550.0,254.2 L1552.0,254.3 L1554.0,254.3 L1556.0,254.3 L1558.0,254.4 L1560.0,254.4 L1562.0,254.5 L1564.0,254.5 L1566.0,254.6 L1568.0,254.6 L1570.0,254.6 L1572.0,254.7 L1574.0,254.7 L1576.0,254.8 L1578.0,254.8 L1580.0,254.9 L1582.0,254.9 L1584.0,254.9 L1586.0,255.0 L1588.0,255.0 L1589.9,255.1 L1591.9,255.1 L1593.9,255.2 L1595.9,255.2 L1597.9,255.3 L1599.9,255.3 L1601.9,255.4 L1603.9,255.4 L1605.9,255.5 L1607.9,255.5 L1609.9,255.6 L1611.9,255.6 L1613.9,255.7 L1615.9,255.7 L1617.9,255.8 L1619.9,255.8 L1621.9,255.9 L1623.9,256.0 L1625.9,256.0 L1627.9,256.1 L1629.9,256.1 L1631.9,256.2 L1633.9,256.2 L1635.9,256.3 L1637.9,256.4 L1639.9,256.4 L1641.9,256.5 L1643.9,256.5 L1645.9,256.6 L1647.9,256.7 L1649.9,256.7 L1651.9,256.8 L1653.9,256.9 L1655.9,256.9 L1657.9,257.0 L1659.9,257.1 L1661.9,257.1 L1663.9,257.2 L1665.9,257.3 L1667.9,257.3 L1669.9,257.4 L1671.9,257.5 L1673.9,257.6 L1675.9,257.6 L1677.9,257.7 L1679.9,257.8 L1681.9,257.9 L1683.9,257.9 L1685.9,258.0 L1687.9,258.1 L1689.9,258.2 L1691.9,258.2 L1693.9,258.3 L1695.9,258.4 L1697.9,258.5 L1699.9,258.6 L1701.9,258.7 L1703.9,258.8 L1705.9,258.8 L1707.9,258.9 L1709.9,259.0 L1711.9,259.1 L1713.9,259.2 L1715.9,259.3 L1717.9,259.4 L1719.9,259.5 L1721.9,259.6 L1723.9,259.7 L1725.9,259.8 L1727.9,259.9 L1729.9,260.0 L1731.9,260.1 L1733.9,260.2 L1735.9,260.3 L1737.9,260.4 L1739.8,260.5 L1741.8,260.6 L1743.8,260.7 L1745.8,260.8 L1747.8,260.9 L1749.8,261.1 L1751.8,261.2 L1753.8,261.3 L1755.8,261.4 L1757.8,261.5 L1759.8,261.6 L1761.8,261.8 L1763.8,261.9 L1765.8,262.0 L1767.8,262.1 L1769.8,262.3 L1771.8,262.4 L1773.8,262.5 L1775.8,262.6 L1777.8,262.8 L1779.8,262.9 L1781.8,263.0 L1783.8,263.2 L1785.8,263.3 L1787.8,263.5 L1789.8,263.6 L1791.7,263.7 L1793.7,263.9 L1795.7,264.0 L1797.7,264.2 L1799.7,264.3 L1801.7,264.5 L1803.7,264.6 L1805.7,264.8 L1807.7,264.9 L1809.7,265.1 L1811.7,265.2 L1813.7,265.4 L1815.7,265.6 L1817.7,265.7 L1819.7,265.9 L1821.7,266.1 L1823.7,266.2 L1825.6,266.4 L1827.6,266.6 L1829.6,266.7 L1831.6,266.9 L1833.6,267.1 L1835.6,267.3 L1837.6,267.4 L1839.6,267.6 L1841.6,267.8 L1843.6,268.0 L1845.6,268.2 L1847.6,268.4 L1849.5,268.5 L1851.5,268.7 L1853.5,268.9 L1855.5,269.1 L1857.5,269.3 L1859.5,269.5 L1861.5,269.7 L1863.5,269.9 L1865.5,270.1 L1867.5,270.3 L1869.4,270.5 L1871.4,270.7 L1873.4,271.0 L1875.4,271.2 L1877.4,271.4 L1879.4,271.6 L1881.4,271.8 L1883.4,272.0 L1885.4,272.3 L1887.3,272.5 L1889.3,272.7 L1891.3,272.9 L1893.3,273.2 L1895.3,273.4 L1897.3,273.6 L1899.3,273.9 L1901.3,274.1 L1903.2,274.4 L1905.2,274.6 L1907.2,274.8 L1909.2,275.1 L1911.2,275.3 L1913.2,275.6 L1915.1,275.8 L1917.1,276.1 L1919.1,276.4 L1921.1,276.6 L1923.1,276.9 L1925.1,277.1 L1927.0,277.4 L1929.0,277.7 L1931.0,277.9 L1933.0,278.2 L1935.0,278.5 L1937.0,278.8 L1938.9,279.0 L1940.9,279.3 L1942.9,279.6 L1944.9,279.9 L1946.8,280.2 L1948.8,280.5 L1950.8,280.8 L1952.8,281.1 L1954.8,281.4 L1956.7,281.7 L1958.7,282.0 L1960.7,282.3 L1962.7,282.6 L1964.6,282.9 L1966.6,283.2 L1968.6,283.5 L1970.6,283.8 L1972.5,284.1 L1974.5,284.5 L1976.5,284.8 L1978.5,285.1 L1980.4,285.4 L1982.4,285.8 L1984.4,286.1 L1986.4,286.4 L1988.3,286.8 L1990.3,287.1 L1992.3,287.4 L1994.2,287.8 L1996.2,288.1 L1998.2,288.5 L2000.2,288.8 L2002.1,289.2 L2004.1,289.6 L2006.1,289.9 L2008.0,290.3 L2010.0,290.7 L2012.0,291.0 L2013.9,291.4 L2015.9,291.8 L2017.8,292.2 L2019.8,292.6 L2021.8,293.0 L2023.7,293.4 L2025.7,293.8 L2027.6,294.2 L2029.6,294.6 L2031.6,295.1 L2033.5,295.5 L2035.5,295.9 L2037.4,296.4 L2039.3,296.9 L2041.3,297.3 L2043.2,297.8 L2045.2,298.3 L2047.1,298.8 L2049.1,299.3 L2051.0,299.8 L2052.9,300.3 L2054.8,300.9 L2056.8,301.4 L2058.7,302.0 L2060.6,302.5 L2062.5,303.1 L2064.4,303.7 L2066.4,304.3 L2068.3,304.9 L2070.2,305.5 L2072.1,306.2 L2074.0,306.8 L2075.9,307.5 L2077.7,308.1 L2079.6,308.8 L2081.5,309.5 L2083.4,310.2 L2085.2,310.9 L2087.1,311.7 L2089.0,312.4 L2090.8,313.1 L2092.7,313.9 L2094.5,314.7 L2096.4,315.5 L2098.2,316.3 L2100.0,317.1 L2101.9,317.9 L2103.7,318.8 L2105.5,319.6 L2107.3,320.5 L2109.1,321.4 L2110.9,322.3 L2112.7,323.2 L2114.4,324.1 L2116.2,325.0 L2118.0,326.0 L2119.7,326.9 L2121.5,327.9 L2123.2,328.9 L2125.0,329.9 L2126.7,330.9 L2128.4,331.9 L2130.1,333.0 L2131.9,334.0 L2133.6,335.1 L2135.2,336.2 L2136.9,337.2 L2138.6,338.4 L2140.3,339.5 L2141.9,340.6 L2143.6,341.7 L2145.2,342.9 L2146.9,344.0 L2148.5,345.2 L2150.1,346.4 L2151.7,347.6 L2153.3,348.8 L2154.9,350.1 L2156.5,351.3 L2158.0,352.5 L2159.6,353.8 L2161.1,355.1 L2162.7,356.4 L2164.2,357.7 L2165.7,359.0 L2167.2,360.3 L2168.7,361.6 L2170.2,363.0 L2171.7,364.3 L2173.2,365.7 L2174.6,367.1 L2176.1,368.5 L2177.5,369.9 L2179.0,371.3 L2180.4,372.7 L2181.8,374.1 L2183.2,375.5 L2184.6,377.0 L2186.0,378.4 L2187.4,379.9 L2188.7,381.4 L2190.1,382.9 L2191.4,384.3 L2192.8,385.8 L2194.1,387.3 L2195.4,388.9 L2196.7,390.4 L2198.0,391.9 L2199.3,393.5 L2200.6,395.0 L2201.8,396.5 L2203.1,398.1 L2204.4,399.7 L2205.6,401.2 L2206.8,402.8 L2208.1,404.4 L2209.3,406.0 L2210.5,407.6 L2211.7,409.2 L2212.9,410.8 L2214.1,412.4 L2215.3,414.1 L2216.4,415.7 L2217.6,417.3 L2218.8,419.0 L2219.9,420.6 L2221.0,422.3 L2222.2,423.9 L2223.3,425.6 L2224.4,427.3 L2225.5,428.9 L2226.6,430.6 L2227.7,432.3 L2228.8,434.0 L2229.9,435.7 L2231.0,437.4 L2232.0,439.1 L2233.0,440.6" fill="none" stroke="#000" stroke-width="2.60" stroke-linecap="butt" stroke-linejoin="round" clip-path="url(#ib)"/>
<path d="M1394.6,282.3 L1396.2,283.4 L1397.9,284.6 L1399.5,285.8 L1401.1,286.9 L1402.7,288.1 L1404.3,289.3 L1406.0,290.5 L1407.6,291.7 L1409.2,292.8 L1410.8,294.0 L1412.4,295.2 L1414.0,296.4 L1415.6,297.6 L1417.2,298.8 L1418.8,300.1 L1420.4,301.3 L1422.0,302.5 L1423.5,303.7 L1425.1,304.9 L1426.7,306.2 L1428.3,307.4 L1429.9,308.7 L1431.4,309.9 L1433.0,311.1 L1434.5,312.4 L1436.1,313.7 L1437.7,314.9 L1439.2,316.2 L1440.8,317.4 L1442.3,318.7 L1443.8,320.0 L1445.4,321.3 L1446.9,322.6 L1448.4,323.9 L1450.0,325.2 L1451.5,326.5 L1453.0,327.8 L1454.5,329.1 L1456.0,330.4 L1457.6,331.7 L1459.1,333.0 L1460.6,334.4 L1462.1,335.7 L1463.5,337.0 L1465.0,338.4 L1466.5,339.7 L1468.0,341.1 L1469.5,342.4 L1470.9,343.8 L1472.4,345.1 L1473.9,346.5 L1475.3,347.9 L1476.8,349.2 L1478.2,350.6 L1479.7,352.0 L1481.1,353.4 L1482.6,354.8 L1484.0,356.2 L1485.4,357.6 L1486.8,359.0 L1488.3,360.4 L1489.7,361.8 L1491.1,363.3 L1492.5,364.7 L1493.9,366.1 L1495.3,367.6 L1496.7,369.0 L1498.1,370.4 L1499.5,371.9 L1500.9,373.3 L1502.2,374.8 L1503.6,376.2 L1505.0,377.7 L1506.3,379.2 L1507.7,380.6 L1509.0,382.1 L1510.4,383.6 L1511.7,385.1 L1513.1,386.6 L1514.4,388.1 L1515.8,389.6 L1517.1,391.1 L1518.4,392.6 L1519.7,394.1 L1521.0,395.6 L1522.3,397.1 L1523.6,398.6 L1524.9,400.2 L1526.2,401.7 L1527.5,403.2 L1528.8,404.8 L1530.1,406.3 L1531.4,407.8 L1532.7,409.4 L1533.9,410.9 L1535.2,412.5 L1536.5,414.0 L1537.7,415.6 L1539.0,417.2 L1540.2,418.7 L1541.5,420.3 L1542.7,421.9 L1543.9,423.5 L1545.2,425.0 L1546.4,426.6 L1547.6,428.2 L1548.8,429.8 L1550.0,431.4 L1551.2,433.0 L1552.4,434.6 L1553.6,436.2 L1554.8,437.8 L1556.0,439.4 L1557.2,441.0 L1558.4,442.7 L1559.6,444.3 L1560.8,445.9 L1561.9,447.5 L1563.1,449.1 L1564.3,450.8 L1565.4,452.4 L1566.6,454.1 L1567.7,455.7 L1568.9,457.3 L1570.0,459.0 L1571.1,460.6 L1572.3,462.3 L1573.4,463.9 L1574.5,465.6 L1575.7,467.3 L1576.8,468.9 L1577.9,470.6 L1579.0,472.3 L1580.1,473.9 L1581.2,475.6 L1582.3,477.3 L1583.4,478.9 L1584.5,480.6 L1585.6,482.3 L1586.7,484.0 L1587.7,485.7 L1588.8,487.4 L1589.9,489.1 L1591.0,490.8 L1592.0,492.5 L1593.1,494.2 L1594.1,495.9 L1595.2,497.6 L1596.2,499.3 L1597.3,501.0 L1598.3,502.7 L1599.4,504.4 L1600.4,506.1 L1601.4,507.8 L1602.5,509.6 L1603.5,511.3 L1604.5,513.0 L1605.5,514.7 L1606.6,516.4 L1607.6,518.2 L1608.6,519.9 L1609.6,521.6 L1610.6,523.4 L1611.6,525.1 L1612.6,526.9 L1613.6,528.6 L1614.6,530.3 L1615.5,532.1 L1616.5,533.8 L1617.5,535.6 L1618.5,537.3 L1619.4,539.1 L1620.4,540.8 L1621.4,542.6 L1622.3,544.3 L1623.3,546.1 L1624.3,547.9 L1625.2,549.6 L1626.2,551.4 L1627.1,553.2 L1628.0,554.9 L1629.0,556.7 L1629.9,558.5 L1630.9,560.2 L1631.8,562.0 L1632.7,563.8 L1633.6,565.6 L1634.6,567.3 L1635.5,569.1 L1636.4,570.9 L1637.3,572.7 L1638.2,574.5 L1639.1,576.2 L1640.0,578.0 L1641.0,579.8 L1641.9,581.6 L1642.7,583.4 L1643.6,585.2 L1644.5,587.0 L1645.4,588.8 L1646.3,590.6 L1647.2,592.4 L1648.1,594.2 L1649.0,596.0 L1649.8,597.8 L1650.7,599.6 L1651.6,601.4 L1652.4,603.2 L1653.3,605.0 L1654.2,606.8 L1655.0,608.6 L1655.9,610.4 L1656.7,612.2 L1657.6,614.0 L1658.4,615.9 L1659.3,617.7 L1660.1,619.5 L1661.0,621.3 L1661.8,623.1 L1662.7,624.9 L1663.5,626.8 L1664.3,628.6 L1665.1,630.4 L1666.0,632.2 L1666.8,634.1 L1667.6,635.9 L1668.4,637.7 L1669.3,639.5 L1670.1,641.4 L1670.9,643.2 L1671.7,645.0 L1672.5,646.9 L1673.3,648.7 L1674.1,650.5 L1674.9,652.4 L1675.7,654.2 L1676.5,656.0 L1677.3,657.9 L1678.1,659.7 L1678.9,661.6 L1679.7,663.4 L1680.5,665.2 L1681.3,667.1 L1682.0,668.9 L1682.8,670.8 L1683.6,672.6 L1684.4,674.5 L1685.2,676.3 L1685.9,678.2 L1686.7,680.0 L1687.5,681.9 L1688.2,683.7 L1689.0,685.6 L1689.7,687.4 L1690.5,689.3 L1691.3,691.1 L1692.0,693.0 L1692.8,694.8 L1693.5,696.7 L1694.3,698.5 L1695.0,700.4 L1695.8,702.3 L1696.5,704.1 L1697.3,706.0 L1698.0,707.8 L1698.7,709.7 L1699.5,711.6 L1700.2,713.4 L1700.9,715.3 L1701.7,717.2 L1702.4,719.0 L1703.1,720.9 L1703.8,722.8 L1704.6,724.6 L1705.3,726.5 L1706.0,728.4 L1706.7,730.2 L1707.4,732.1 L1708.2,734.0 L1708.9,735.8 L1709.6,737.7 L1710.3,739.6 L1711.0,741.5 L1711.7,743.3 L1712.4,745.2 L1713.1,747.1 L1713.8,749.0 L1714.5,750.8 L1715.2,752.7 L1715.9,754.6 L1716.6,756.5 L1717.3,758.3 L1718.0,760.2 L1718.7,762.1 L1719.3,764.0 L1720.0,765.9 L1720.7,767.8 L1721.4,769.6 L1722.1,771.5 L1722.8,773.4 L1723.4,775.3 L1724.1,777.2 L1724.8,779.1 L1725.5,780.9 L1726.1,782.8 L1726.8,784.7 L1727.5,786.6 L1728.1,788.5 L1728.8,790.4 L1729.5,792.3 L1730.1,794.2 L1730.8,796.0 L1731.0,796.7" fill="none" stroke="#000" stroke-width="2.60" stroke-linecap="butt" stroke-linejoin="round" clip-path="url(#ib)"/>
<rect x="1393.5" y="45.5" width="839.0" height="747.5" fill="none" stroke="#000" stroke-width="3"/>
<line x1="1393.5" y1="792.2" x2="1386.0" y2="792.2" stroke="#000" stroke-width="3.4" stroke-linecap="butt"/>
<line x1="1393.5" y1="733.9" x2="1379.5" y2="733.9" stroke="#000" stroke-width="3.4" stroke-linecap="butt"/>
<text x="1346.9" y="742.2" font-size="28.0" font-family="'Liberation Serif','Times New Roman',serif" textLength="26.3" lengthAdjust="spacingAndGlyphs">90</text>
<line x1="1393.5" y1="675.6" x2="1386.0" y2="675.6" stroke="#000" stroke-width="3.4" stroke-linecap="butt"/>
<line x1="1393.5" y1="617.3" x2="1379.5" y2="617.3" stroke="#000" stroke-width="3.4" stroke-linecap="butt"/>
<text x="1347.3" y="625.6" font-size="28.0" font-family="'Liberation Serif','Times New Roman',serif" textLength="26.3" lengthAdjust="spacingAndGlyphs">92</text>
<line x1="1393.5" y1="559.0" x2="1386.0" y2="559.0" stroke="#000" stroke-width="3.4" stroke-linecap="butt"/>
<line x1="1393.5" y1="500.7" x2="1379.5" y2="500.7" stroke="#000" stroke-width="3.4" stroke-linecap="butt"/>
<text x="1346.3" y="509.0" font-size="28.0" font-family="'Liberation Serif','Times New Roman',serif" textLength="26.3" lengthAdjust="spacingAndGlyphs">94</text>
<line x1="1393.5" y1="442.4" x2="1386.0" y2="442.4" stroke="#000" stroke-width="3.4" stroke-linecap="butt"/>
<line x1="1393.5" y1="384.1" x2="1379.5" y2="384.1" stroke="#000" stroke-width="3.4" stroke-linecap="butt"/>
<text x="1346.7" y="392.4" font-size="28.0" font-family="'Liberation Serif','Times New Roman',serif" textLength="26.3" lengthAdjust="spacingAndGlyphs">96</text>
<line x1="1393.5" y1="325.8" x2="1386.0" y2="325.8" stroke="#000" stroke-width="3.4" stroke-linecap="butt"/>
<line x1="1393.5" y1="267.5" x2="1379.5" y2="267.5" stroke="#000" stroke-width="3.4" stroke-linecap="butt"/>
<text x="1346.9" y="275.8" font-size="28.0" font-family="'Liberation Serif','Times New Roman',serif" textLength="26.3" lengthAdjust="spacingAndGlyphs">98</text>
<line x1="1393.5" y1="209.2" x2="1386.0" y2="209.2" stroke="#000" stroke-width="3.4" stroke-linecap="butt"/>
<line x1="1393.5" y1="150.9" x2="1379.5" y2="150.9" stroke="#000" stroke-width="3.4" stroke-linecap="butt"/>
<text x="1333.7" y="159.2" font-size="28.0" font-family="'Liberation Serif','Times New Roman',serif" textLength="39.5" lengthAdjust="spacingAndGlyphs">100</text>
<line x1="1393.5" y1="92.6" x2="1386.0" y2="92.6" stroke="#000" stroke-width="3.4" stroke-linecap="butt"/>
<line x1="1429.5" y1="793.0" x2="1429.5" y2="808.5" stroke="#000" stroke-width="3.4" stroke-linecap="butt"/>
<text x="1409.7" y="838.0" font-size="28.0" font-family="'Liberation Serif','Times New Roman',serif" textLength="39.5" lengthAdjust="spacingAndGlyphs">200</text>
<line x1="1506.4" y1="793.0" x2="1506.4" y2="801.0" stroke="#000" stroke-width="3.4" stroke-linecap="butt"/>
<line x1="1583.4" y1="793.0" x2="1583.4" y2="808.5" stroke="#000" stroke-width="3.4" stroke-linecap="butt"/>
<text x="1563.5" y="838.0" font-size="28.0" font-family="'Liberation Serif','Times New Roman',serif" textLength="39.5" lengthAdjust="spacingAndGlyphs">220</text>
<line x1="1660.3" y1="793.0" x2="1660.3" y2="801.0" stroke="#000" stroke-width="3.4" stroke-linecap="butt"/>
<line x1="1737.2" y1="793.0" x2="1737.2" y2="808.5" stroke="#000" stroke-width="3.4" stroke-linecap="butt"/>
<text x="1717.4" y="838.0" font-size="28.0" font-family="'Liberation Serif','Times New Roman',serif" textLength="39.5" lengthAdjust="spacingAndGlyphs">240</text>
<line x1="1814.2" y1="793.0" x2="1814.2" y2="801.0" stroke="#000" stroke-width="3.4" stroke-linecap="butt"/>
<line x1="1891.1" y1="793.0" x2="1891.1" y2="808.5" stroke="#000" stroke-width="3.4" stroke-linecap="butt"/>
<text x="1871.3" y="838.0" font-size="28.0" font-family="'Liberation Serif','Times New Roman',serif" textLength="39.5" lengthAdjust="spacingAndGlyphs">260</text>
<line x1="1968.0" y1="793.0" x2="1968.0" y2="801.0" stroke="#000" stroke-width="3.4" stroke-linecap="butt"/>
<line x1="2044.9" y1="793.0" x2="2044.9" y2="808.5" stroke="#000" stroke-width="3.4" stroke-linecap="butt"/>
<text x="2025.1" y="838.0" font-size="28.0" font-family="'Liberation Serif','Times New Roman',serif" textLength="39.5" lengthAdjust="spacingAndGlyphs">280</text>
<line x1="2121.9" y1="793.0" x2="2121.9" y2="801.0" stroke="#000" stroke-width="3.4" stroke-linecap="butt"/>
<line x1="2198.8" y1="793.0" x2="2198.8" y2="808.5" stroke="#000" stroke-width="3.4" stroke-linecap="butt"/>
<text x="2178.9" y="838.0" font-size="28.0" font-family="'Liberation Serif','Times New Roman',serif" textLength="39.5" lengthAdjust="spacingAndGlyphs">300</text>
<text x="1824.8" y="113.3" font-size="57.0" font-family="'Liberation Serif','Times New Roman',serif" font-weight="bold" textLength="56.1" lengthAdjust="spacingAndGlyphs">P1</text>
<text x="1913.2" y="136.1" font-size="57.0" font-family="'Liberation Serif','Times New Roman',serif" font-weight="bold" textLength="55.6" lengthAdjust="spacingAndGlyphs">P2</text>
<text x="1983.1" y="179.7" font-size="57.0" font-family="'Liberation Serif','Times New Roman',serif" font-weight="bold" textLength="55.8" lengthAdjust="spacingAndGlyphs">P3</text>
<text x="2058.1" y="231.2" font-size="57.0" font-family="'Liberation Serif','Times New Roman',serif" font-weight="bold" textLength="55.7" lengthAdjust="spacingAndGlyphs">P4</text>
<line x1="1849.2" y1="119.3" x2="1795.6" y2="237.6" stroke="#000" stroke-width="2.4" stroke-linecap="butt"/>
<polygon points="1790.6,248.5 1792.1,233.8 1796.0,236.7 1800.7,237.7" fill="#000"/>
<line x1="1934.3" y1="149.5" x2="1878.7" y2="275.3" stroke="#000" stroke-width="2.4" stroke-linecap="butt"/>
<polygon points="1873.9,286.3 1875.2,271.6 1879.2,274.4 1883.9,275.4" fill="#000"/>
<line x1="2007.0" y1="196.5" x2="1928.8" y2="370.8" stroke="#000" stroke-width="2.4" stroke-linecap="butt"/>
<polygon points="1923.9,381.7 1925.3,367.0 1929.2,369.8 1934.0,370.9" fill="#000"/>
<line x1="2082.0" y1="247.6" x2="1980.0" y2="485.8" stroke="#000" stroke-width="2.4" stroke-linecap="butt"/>
<polygon points="1975.3,496.8 1976.4,482.1 1980.4,484.8 1985.2,485.8" fill="#000"/>
<path d="M486.0,2086.2 L488.0,2086.4 L490.0,2086.5 L492.0,2086.7 L494.0,2086.8 L496.0,2087.0 L498.0,2087.1 L500.0,2087.2 L502.0,2087.4 L504.0,2087.5 L505.9,2087.7 L507.9,2087.8 L509.9,2087.9 L511.9,2088.1 L513.9,2088.2 L515.9,2088.3 L517.9,2088.4 L519.9,2088.5 L521.9,2088.6 L523.9,2088.7 L525.9,2088.8 L527.9,2088.9 L529.9,2089.0 L531.9,2089.1 L533.9,2089.2 L535.9,2089.3 L537.9,2089.4 L539.9,2089.5 L541.9,2089.6 L543.9,2089.7 L545.9,2089.7 L547.9,2089.8 L549.9,2089.9 L551.9,2090.0 L553.9,2090.1 L555.9,2090.3 L557.9,2090.4 L559.9,2090.5 L561.9,2090.6 L563.9,2090.7 L565.9,2090.9 L567.8,2091.0 L569.8,2091.2 L571.8,2091.3 L573.8,2091.5 L575.8,2091.6 L577.8,2091.8 L579.8,2092.0 L581.8,2092.2 L583.8,2092.3 L585.8,2092.5 L587.8,2092.7 L589.8,2092.9 L591.8,2093.1 L593.7,2093.3 L595.7,2093.5 L597.7,2093.6 L599.7,2093.8 L601.7,2094.0 L603.7,2094.2 L605.7,2094.4 L607.7,2094.6 L609.7,2094.8 L611.7,2095.0 L613.7,2095.1 L615.6,2095.3 L617.6,2095.5 L619.6,2095.7 L621.6,2095.9 L623.6,2096.1 L625.6,2096.3 L627.6,2096.5 L629.6,2096.7 L631.6,2096.9 L633.6,2097.1 L635.6,2097.3 L637.5,2097.5 L639.5,2097.6 L641.5,2097.8 L643.5,2098.0 L645.5,2098.2 L647.5,2098.4 L649.5,2098.6 L651.5,2098.8 L653.5,2099.0 L655.5,2099.2 L657.4,2099.4 L659.4,2099.6 L661.4,2099.8 L663.4,2100.0 L665.4,2100.2 L667.4,2100.4 L669.4,2100.6 L671.4,2100.8 L673.4,2101.0 L675.4,2101.2 L677.3,2101.4 L679.3,2101.6 L681.3,2101.8 L683.3,2102.0 L685.3,2102.2 L687.3,2102.4 L689.3,2102.5 L691.3,2102.7 L693.3,2102.9 L695.3,2103.0 L697.3,2103.2 L699.3,2103.3 L701.3,2103.5 L703.2,2103.6 L705.2,2103.7 L707.2,2103.8 L709.2,2103.9 L711.2,2104.0 L713.2,2104.1 L715.2,2104.2 L717.2,2104.3 L719.2,2104.4 L721.2,2104.4 L723.2,2104.5 L725.2,2104.6 L727.2,2104.6 L729.2,2104.7 L731.2,2104.7 L733.2,2104.8 L735.2,2104.8 L737.2,2104.9 L739.2,2104.9 L741.2,2105.0 L743.2,2105.0 L745.2,2105.1 L747.2,2105.1 L749.2,2105.1 L751.2,2105.2 L753.2,2105.2 L755.2,2105.2 L757.2,2105.3 L759.2,2105.3 L761.2,2105.3 L763.2,2105.4 L765.2,2105.4 L767.2,2105.4 L769.2,2105.5 L771.2,2105.5 L773.2,2105.5 L775.2,2105.6 L777.2,2105.6 L779.2,2105.6 L781.2,2105.7 L783.2,2105.7 L785.2,2105.7 L787.2,2105.7 L789.2,2105.8 L791.2,2105.8 L793.2,2105.8 L795.2,2105.8 L797.2,2105.9 L799.2,2105.9 L801.2,2105.9 L803.2,2105.9 L805.2,2106.0 L807.2,2106.0 L809.2,2106.0 L811.2,2106.0 L813.2,2106.1 L815.2,2106.1 L817.2,2106.1 L819.2,2106.1 L821.2,2106.2 L823.2,2106.2 L825.2,2106.2 L827.2,2106.2 L829.2,2106.2 L831.2,2106.3 L833.2,2106.3 L835.2,2106.3 L837.2,2106.3 L839.2,2106.4 L841.2,2106.4 L843.2,2106.4 L845.2,2106.4 L847.2,2106.5 L849.2,2106.5 L851.2,2106.5 L853.2,2106.6 L855.2,2106.6 L857.2,2106.6 L859.2,2106.6 L861.2,2106.7 L863.2,2106.7 L865.2,2106.7 L867.2,2106.8 L869.2,2106.8 L871.2,2106.8 L873.2,2106.9 L875.2,2106.9 L877.2,2106.9 L879.2,2107.0 L881.2,2107.0 L883.2,2107.1 L885.2,2107.1 L887.2,2107.1 L889.2,2107.2 L891.2,2107.2 L893.2,2107.3 L895.2,2107.3 L897.2,2107.4 L899.2,2107.4 L901.2,2107.4 L903.2,2107.5 L905.2,2107.5 L907.2,2107.6 L909.2,2107.6 L911.2,2107.7 L913.2,2107.7 L915.2,2107.8 L917.2,2107.8 L919.2,2107.9 L921.2,2107.9 L923.2,2108.0 L925.2,2108.0 L927.2,2108.1 L929.2,2108.1 L931.2,2108.2 L933.2,2108.2 L935.2,2108.3 L937.2,2108.4 L939.2,2108.4 L941.2,2108.5 L943.2,2108.5 L945.2,2108.6 L947.2,2108.6 L949.2,2108.7 L951.2,2108.7 L953.2,2108.8 L955.2,2108.8 L957.2,2108.9 L959.2,2108.9 L961.2,2109.0 L963.2,2109.0 L965.2,2109.1 L967.2,2109.1 L969.2,2109.2 L971.2,2109.2 L973.2,2109.3 L975.2,2109.3 L977.2,2109.4 L979.2,2109.5 L981.2,2109.5 L983.2,2109.6 L985.2,2109.7 L987.2,2109.8 L989.2,2109.9 L991.1,2110.0 L993.1,2110.1 L995.1,2110.2 L997.1,2110.3 L999.1,2110.5 L1001.1,2110.6 L1003.1,2110.8 L1005.1,2110.9 L1007.1,2111.1 L1009.1,2111.3 L1011.1,2111.5 L1013.1,2111.7 L1015.1,2111.9 L1017.0,2112.1 L1019.0,2112.3 L1021.0,2112.5 L1023.0,2112.8 L1025.0,2113.0 L1027.0,2113.3 L1029.0,2113.5 L1030.9,2113.8 L1032.9,2114.0 L1034.9,2114.3 L1036.9,2114.6 L1038.9,2114.9 L1040.8,2115.2 L1042.8,2115.5 L1044.8,2115.9 L1046.7,2116.2 L1048.7,2116.6 L1050.6,2117.0 L1052.6,2117.4 L1054.5,2117.8 L1056.5,2118.2 L1058.4,2118.7 L1060.3,2119.2 L1062.2,2119.8 L1064.1,2120.4 L1066.0,2121.0 L1067.8,2121.6 L1069.7,2122.3 L1071.5,2123.1 L1073.3,2123.9 L1075.1,2124.7 L1076.9,2125.5 L1078.7,2126.5 L1080.4,2127.4 L1082.1,2128.4 L1083.8,2129.4 L1085.5,2130.5 L1087.1,2131.6 L1088.7,2132.7 L1090.3,2133.8 L1091.9,2135.0 L1093.5,2136.3 L1095.0,2137.5 L1096.5,2138.8 L1098.0,2140.1 L1099.4,2141.5 L1100.9,2142.8 L1102.3,2144.2 L1103.6,2145.7 L1105.0,2147.1 L1106.3,2148.6 L1107.5,2150.1 L1108.8,2151.7 L1110.0,2153.2 L1111.2,2154.8 L1112.3,2156.5 L1113.4,2158.1 L1114.5,2159.8 L1115.5,2161.4 L1116.5,2163.2 L1117.5,2164.9 L1118.4,2166.6 L1119.3,2168.4 L1120.2,2170.2 L1121.0,2172.0 L1121.8,2173.8 L1122.6,2175.6 L1123.3,2177.5 L1124.1,2179.3 L1124.8,2181.2 L1125.4,2183.1 L1126.1,2184.9 L1126.7,2186.8 L1127.3,2188.7 L1127.9,2190.6 L1128.4,2192.6 L1129.0,2194.5 L1129.5,2196.4 L1130.0,2198.3 L1130.5,2200.3 L1131.0,2202.2 L1131.5,2204.1 L1131.9,2206.1 L1132.4,2208.0 L1132.8,2210.0 L1133.3,2211.9 L1133.7,2213.9 L1134.1,2215.8 L1134.5,2217.8 L1134.9,2219.8 L1135.3,2221.7 L1135.7,2223.7 L1136.0,2225.7 L1136.4,2227.6 L1136.8,2229.6 L1137.1,2231.5 L1137.5,2233.5 L1137.9,2235.5 L1138.2,2237.5 L1138.6,2239.4 L1138.9,2241.4 L1139.2,2243.4 L1139.6,2245.3 L1139.9,2247.3 L1140.2,2249.3 L1140.6,2251.3 L1140.9,2253.2 L1141.2,2255.2 L1141.5,2257.2 L1141.9,2259.1 L1142.2,2261.1 L1142.5,2263.1 L1142.8,2265.1 L1143.1,2267.0 L1143.4,2269.0 L1143.7,2271.0 L1144.1,2273.0 L1144.4,2275.0 L1144.7,2276.9 L1145.0,2278.9 L1145.3,2280.9 L1145.5,2282.9 L1145.8,2284.8 L1146.1,2286.8 L1146.4,2288.8 L1146.7,2290.8 L1147.0,2292.8 L1147.2,2294.7 L1147.5,2296.7 L1147.7,2298.7 L1148.0,2300.7 L1148.3,2302.7 L1148.5,2304.7 L1148.7,2306.6 L1149.0,2308.6 L1149.2,2310.6 L1149.4,2312.6 L1149.7,2314.6 L1149.9,2316.6 L1150.1,2318.6 L1150.3,2320.6 L1150.5,2322.5 L1150.7,2324.5 L1150.9,2326.5 L1151.1,2328.5 L1151.3,2330.5 L1151.5,2332.5 L1151.7,2334.5 L1151.9,2336.5 L1152.0,2338.5 L1152.2,2340.5 L1152.4,2342.5 L1152.6,2344.4 L1152.7,2346.4 L1152.9,2348.4 L1153.1,2350.4 L1153.2,2352.4 L1153.4,2354.4 L1153.5,2356.4 L1153.7,2358.4 L1153.8,2360.4 L1154.0,2362.4 L1154.1,2364.4 L1154.3,2366.4 L1154.4,2368.4 L1154.6,2370.4 L1154.7,2372.4 L1154.9,2374.4 L1155.0,2376.4 L1155.2,2378.3 L1155.3,2380.3 L1155.4,2382.3 L1155.6,2384.3 L1155.7,2386.3 L1155.9,2388.3 L1156.0,2390.3 L1156.2,2392.3 L1156.3,2394.3 L1156.5,2396.3 L1156.6,2398.3 L1156.7,2400.3 L1156.9,2402.3 L1157.0,2404.3 L1157.2,2406.3 L1157.3,2408.3 L1157.4,2410.3 L1157.6,2412.3 L1157.7,2414.3 L1157.9,2416.2 L1158.0,2418.2 L1158.2,2420.2 L1158.3,2422.2 L1158.4,2424.2 L1158.6,2426.2 L1158.7,2428.2 L1158.9,2430.2 L1159.0,2432.2 L1159.1,2434.2 L1159.3,2436.2 L1159.4,2438.2 L1159.6,2440.2 L1159.7,2442.2 L1159.9,2444.2 L1160.0,2446.2 L1160.1,2448.2 L1160.3,2450.2 L1160.4,2452.2 L1160.6,2454.2 L1160.7,2456.1 L1160.9,2458.1 L1161.0,2460.1 L1161.2,2462.1 L1161.3,2464.1 L1161.5,2466.1 L1161.6,2468.1 L1161.8,2470.1 L1161.9,2472.1 L1162.1,2474.1 L1162.2,2476.1 L1162.4,2478.1 L1162.5,2480.1 L1162.7,2482.1 L1162.8,2484.1 L1163.0,2486.1 L1163.1,2488.1 L1163.3,2490.1 L1163.4,2492.0 L1163.6,2494.0 L1163.8,2496.0 L1163.9,2498.0 L1164.1,2500.0 L1164.2,2502.0 L1164.4,2504.0 L1164.6,2506.0 L1164.7,2508.0 L1164.9,2510.0 L1165.0,2512.0 L1165.2,2514.0 L1165.3,2516.0 L1165.5,2518.0 L1165.7,2520.0 L1165.8,2522.0 L1166.0,2523.9 L1166.1,2525.9 L1166.3,2527.9 L1166.4,2529.9 L1166.6,2531.9 L1166.7,2533.9 L1166.9,2535.9 L1167.0,2537.9 L1167.2,2539.9 L1167.3,2541.9 L1167.5,2543.9 L1167.6,2545.9 L1167.8,2547.9 L1167.9,2549.9 L1168.1,2551.9 L1168.2,2553.9 L1168.3,2555.9 L1168.5,2557.9 L1168.6,2559.8 L1168.7,2561.8 L1168.9,2563.8 L1169.0,2565.8 L1169.1,2567.8 L1169.3,2569.8 L1169.4,2571.8 L1169.5,2573.8 L1169.6,2575.8 L1169.8,2577.8 L1169.9,2579.8 L1170.0,2581.8 L1170.1,2583.8 L1170.2,2585.8 L1170.4,2587.8 L1170.5,2589.8 L1170.6,2591.8 L1170.7,2593.8 L1170.8,2595.8 L1171.0,2597.8 L1171.1,2599.8 L1171.2,2601.8 L1171.3,2603.8 L1171.4,2605.8 L1171.6,2607.8 L1171.7,2609.8 L1171.8,2611.7 L1171.9,2613.7 L1172.0,2615.7 L1172.2,2617.7 L1172.3,2619.7 L1172.4,2621.7 L1172.5,2623.7 L1172.7,2625.7 L1172.8,2627.7 L1172.9,2629.7 L1173.1,2631.7 L1173.2,2633.7 L1173.4,2635.7 L1173.5,2637.7 L1173.6,2639.7 L1173.8,2641.7 L1173.9,2643.7 L1174.1,2645.7 L1174.2,2647.7 L1174.3,2649.7 L1174.5,2651.7 L1174.6,2653.7 L1174.8,2655.6 L1174.9,2657.6 L1175.1,2659.6 L1175.2,2661.6 L1175.4,2663.6 L1175.5,2665.6 L1175.7,2667.6 L1175.8,2669.6 L1176.0,2671.6 L1176.1,2673.6 L1176.3,2675.6 L1176.5,2677.6 L1176.6,2679.6 L1176.8,2681.6 L1176.9,2683.6 L1177.1,2685.6 L1177.2,2687.6 L1177.4,2689.5 L1177.5,2691.5 L1177.7,2693.5 L1177.9,2695.5 L1178.0,2697.5 L1178.2,2699.5 L1178.3,2701.5 L1178.5,2703.5 L1178.6,2705.5 L1178.8,2707.5 L1179.0,2709.5 L1179.1,2711.5 L1179.3,2713.5 L1179.4,2715.5 L1179.6,2717.5 L1179.8,2719.5 L1179.9,2721.4 L1180.1,2723.4 L1180.2,2725.4 L1180.4,2727.4 L1180.5,2729.4 L1180.7,2731.4 L1180.9,2733.4 L1181.0,2735.4 L1181.2,2737.4 L1181.3,2739.4 L1181.5,2741.4 L1181.7,2743.4 L1181.8,2745.4 L1182.0,2747.4 L1182.1,2749.4 L1182.3,2751.4 L1182.4,2753.3 L1182.6,2755.3 L1182.7,2757.3 L1182.9,2759.3 L1183.1,2761.3 L1183.2,2763.3 L1183.4,2765.3 L1183.5,2767.3 L1183.7,2769.3 L1183.8,2771.3 L1184.0,2773.3 L1184.2,2775.3 L1184.3,2777.3 L1184.5,2779.3 L1184.7,2781.3 L1184.8,2783.3 L1185.0,2785.2 L1185.2,2787.2 L1185.3,2789.2 L1185.5,2791.2 L1185.7,2793.2 L1185.9,2795.2 L1186.0,2797.2 L1186.2,2799.2 L1186.4,2801.2 L1186.6,2803.2 L1186.8,2805.2 L1187.0,2807.2 L1187.1,2809.1 L1187.3,2811.1 L1187.5,2813.1 L1187.7,2815.1 L1187.9,2817.1 L1188.1,2819.1 L1188.3,2821.1 L1188.5,2823.1 L1188.7,2825.1 L1188.9,2827.1 L1189.1,2829.1 L1189.3,2831.0 L1189.5,2833.0 L1189.7,2835.0 L1189.9,2837.0 L1190.1,2839.0 L1190.3,2841.0 L1190.5,2843.0 L1190.7,2845.0 L1190.9,2847.0 L1191.2,2848.9 L1191.4,2850.9 L1191.6,2852.9 L1191.8,2854.9 L1192.0,2856.9 L1192.3,2858.9 L1192.5,2860.9 L1192.7,2862.9 L1193.0,2864.8 L1193.2,2866.8 L1193.5,2868.8 L1193.7,2870.8 L1194.0,2872.8 L1194.3,2874.7 L1194.6,2876.7 L1194.9,2878.7 L1195.2,2880.7 L1195.5,2882.7 L1195.8,2884.6 L1196.1,2886.6 L1196.5,2888.6 L1196.8,2890.5 L1197.2,2892.5 L1197.6,2894.4 L1198.0,2896.4 L1198.5,2898.3 L1198.9,2900.3 L1199.4,2902.2 L1199.9,2904.2 L1200.4,2906.1 L1200.9,2908.0 L1201.4,2909.9 L1202.0,2911.9 L1202.5,2913.8 L1203.1,2915.7 L1203.7,2917.6 L1204.3,2919.5 L1205.0,2921.4 L1205.6,2923.3 L1206.2,2925.2 L1206.9,2927.1 L1207.6,2928.9 L1208.2,2930.8 L1208.9,2932.7 L1209.6,2934.6 L1210.4,2936.4 L1211.1,2938.3 L1211.8,2940.1 L1212.6,2942.0 L1213.4,2943.8 L1214.2,2945.6 L1215.0,2947.4 L1215.9,2949.2 L1216.8,2951.0 L1217.7,2952.8 L1218.6,2954.6 L1219.5,2956.3 L1220.5,2958.1 L1221.5,2959.8 L1222.5,2961.5 L1223.5,2963.2 L1224.6,2964.9 L1225.7,2966.5 L1226.8,2968.2 L1228.0,2969.8 L1229.2,2971.4 L1230.4,2972.9 L1231.6,2974.5 L1232.9,2976.0 L1234.2,2977.5 L1235.5,2979.0 L1236.9,2980.4 L1238.2,2981.8 L1239.7,2983.2 L1241.1,2984.6 L1242.6,2985.9 L1244.1,2987.2 L1245.6,2988.4 L1247.1,2989.7 L1248.7,2990.9 L1250.3,2992.1 L1251.9,2993.2 L1253.5,2994.4 L1255.2,2995.5 L1256.9,2996.6 L1258.5,2997.6 L1260.2,2998.7 L1261.9,2999.7 L1263.6,3000.8 L1265.4,3001.8 L1267.1,3002.8 L1268.8,3003.8 L1270.6,3004.7 L1272.3,3005.7 L1274.1,3006.7 L1275.8,3007.6 L1277.6,3008.5 L1279.4,3009.5 L1281.1,3010.4 L1282.9,3011.3 L1284.7,3012.2 L1286.5,3013.1 L1288.3,3014.0 L1290.1,3014.9 L1291.9,3015.7 L1293.7,3016.6 L1295.5,3017.5 L1297.3,3018.3 L1299.1,3019.1 L1300.9,3020.0 L1302.8,3020.8 L1304.6,3021.6 L1306.4,3022.4 L1308.3,3023.1 L1310.1,3023.9 L1312.0,3024.7 L1313.8,3025.4 L1315.7,3026.2 L1317.5,3026.9 L1319.4,3027.7 L1321.2,3028.4 L1323.1,3029.1 L1325.0,3029.8 L1326.8,3030.5 L1328.7,3031.2 L1330.6,3031.9 L1332.5,3032.6 L1334.4,3033.3 L1336.2,3034.0 L1338.1,3034.6 L1340.0,3035.3 L1341.9,3036.0 L1343.8,3036.6 L1345.7,3037.3 L1347.6,3037.9 L1349.5,3038.6 L1351.3,3039.2 L1353.2,3039.9 L1355.1,3040.5 L1357.0,3041.1 L1358.9,3041.8 L1360.8,3042.4 L1362.7,3043.0 L1364.6,3043.7 L1366.5,3044.3 L1368.4,3044.9 L1370.3,3045.6 L1372.2,3046.2 L1374.1,3046.8 L1376.0,3047.4 L1377.9,3048.1 L1379.8,3048.7 L1381.7,3049.3 L1383.6,3050.0 L1385.5,3050.6 L1387.4,3051.2 L1389.3,3051.9 L1391.2,3052.5 L1393.1,3053.1 L1395.0,3053.8 L1396.9,3054.4 L1398.8,3055.0 L1400.7,3055.7 L1402.6,3056.3 L1404.5,3056.9 L1406.4,3057.5 L1408.3,3058.1 L1410.2,3058.7 L1412.1,3059.2 L1414.0,3059.8 L1415.9,3060.4 L1417.9,3060.9 L1419.8,3061.4 L1421.7,3062.0 L1423.7,3062.5 L1425.6,3063.0 L1427.5,3063.5 L1429.5,3063.9 L1431.4,3064.4 L1433.4,3064.9 L1435.3,3065.4 L1437.2,3065.8 L1439.2,3066.3 L1441.1,3066.7 L1443.1,3067.2 L1445.0,3067.6 L1447.0,3068.0 L1448.9,3068.5 L1450.9,3068.9 L1452.9,3069.3 L1454.8,3069.8 L1456.8,3070.2 L1458.7,3070.6 L1460.7,3071.0 L1462.6,3071.4 L1464.6,3071.8 L1466.6,3072.2 L1468.5,3072.6 L1470.5,3073.0 L1472.4,3073.4 L1474.4,3073.8 L1476.4,3074.1 L1478.3,3074.5 L1480.3,3074.9 L1482.3,3075.3 L1484.2,3075.6 L1486.2,3076.0 L1488.2,3076.3 L1490.1,3076.7 L1492.1,3077.0 L1494.1,3077.4 L1496.0,3077.7 L1498.0,3078.1 L1500.0,3078.4 L1502.0,3078.7 L1503.9,3079.1 L1505.9,3079.4 L1507.9,3079.7 L1509.8,3080.0 L1511.8,3080.3 L1513.8,3080.6 L1515.8,3081.0 L1517.7,3081.3 L1519.7,3081.6 L1521.7,3081.9 L1523.7,3082.2 L1525.7,3082.4 L1527.6,3082.7 L1529.6,3083.0 L1531.6,3083.3 L1533.6,3083.6 L1535.6,3083.9 L1537.5,3084.1 L1539.5,3084.4 L1541.5,3084.7 L1543.5,3084.9 L1545.5,3085.2 L1547.5,3085.5 L1549.4,3085.7 L1551.4,3086.0 L1553.4,3086.3 L1555.4,3086.5 L1557.4,3086.8 L1559.3,3087.1 L1561.3,3087.4 L1563.3,3087.7 L1565.3,3088.0 L1567.2,3088.3 L1569.2,3088.6 L1571.2,3088.9 L1573.1,3089.3 L1575.1,3089.7 L1577.0,3090.0 L1578.9,3090.4 L1580.8,3090.9 L1582.7,3091.3 L1584.6,3091.7 L1586.5,3092.2 L1588.4,3092.6 L1590.3,3093.1 L1592.1,3093.6 L1593.9,3094.1 L1595.8,3094.6 L1597.6,3095.0 L1599.4,3095.5 L1601.2,3095.9 L1603.0,3096.3 L1604.9,3096.8 L1606.7,3097.1 L1608.6,3097.5 L1610.4,3097.8 L1612.3,3098.2 L1614.2,3098.5 L1616.1,3098.8 L1618.0,3099.0 L1619.9,3099.3 L1621.9,3099.5 L1623.8,3099.8 L1625.8,3100.0 L1627.8,3100.2 L1629.7,3100.4 L1631.7,3100.6 L1633.7,3100.8 L1635.7,3101.0 L1637.7,3101.2 L1639.6,3101.4 L1641.6,3101.6 L1643.6,3101.8 L1645.6,3102.0 L1647.6,3102.2 L1649.6,3102.4 L1651.6,3102.6 L1653.6,3102.8 L1655.6,3103.0 L1657.6,3103.2 L1659.5,3103.4 L1661.5,3103.6 L1663.5,3103.8 L1665.5,3104.0 L1667.5,3104.2 L1669.5,3104.4 L1671.5,3104.6 L1673.5,3104.8 L1675.5,3104.9 L1677.5,3105.1 L1679.4,3105.3 L1681.4,3105.5 L1683.4,3105.7 L1685.4,3105.9 L1687.4,3106.1 L1689.4,3106.3 L1691.4,3106.5 L1693.4,3106.6 L1695.4,3106.8 L1697.4,3107.0 L1699.4,3107.2 L1701.4,3107.4 L1703.3,3107.6 L1705.3,3107.7 L1707.3,3107.9 L1709.3,3108.1 L1711.3,3108.3 L1713.3,3108.5 L1715.3,3108.6 L1717.3,3108.8 L1719.3,3109.0 L1721.3,3109.2 L1723.3,3109.4 L1725.3,3109.5 L1727.2,3109.7 L1729.2,3109.9 L1731.2,3110.1 L1733.2,3110.2 L1735.2,3110.4 L1737.2,3110.6 L1739.2,3110.7 L1741.2,3110.9 L1743.2,3111.1 L1745.2,3111.2 L1747.2,3111.4 L1749.2,3111.6 L1751.2,3111.7 L1753.2,3111.9 L1755.1,3112.1 L1757.1,3112.2 L1759.1,3112.4 L1761.1,3112.6 L1763.1,3112.7 L1765.1,3112.9 L1767.1,3113.0 L1769.1,3113.2 L1771.1,3113.4 L1773.1,3113.5 L1775.1,3113.7 L1777.1,3113.8 L1779.1,3114.0 L1781.1,3114.1 L1783.1,3114.3 L1785.1,3114.4 L1787.1,3114.6 L1789.0,3114.7 L1791.0,3114.9 L1793.0,3115.0 L1795.0,3115.1 L1797.0,3115.3 L1799.0,3115.4 L1801.0,3115.6 L1803.0,3115.7 L1805.0,3115.9 L1807.0,3116.0 L1809.0,3116.1 L1811.0,3116.3 L1813.0,3116.4 L1815.0,3116.6 L1817.0,3116.7 L1819.0,3116.8 L1821.0,3117.0 L1823.0,3117.1 L1825.0,3117.3 L1827.0,3117.4 L1828.9,3117.5 L1830.9,3117.7 L1832.9,3117.8 L1834.9,3117.9 L1836.9,3118.1 L1838.9,3118.2 L1840.9,3118.3 L1842.9,3118.5 L1844.9,3118.6 L1846.9,3118.7 L1848.9,3118.9 L1850.9,3119.0 L1852.9,3119.1 L1854.9,3119.3 L1856.9,3119.4 L1858.9,3119.5 L1860.9,3119.7 L1862.9,3119.8 L1864.9,3119.9 L1866.9,3120.0 L1868.9,3120.2 L1870.9,3120.3 L1872.9,3120.4 L1874.8,3120.6 L1876.8,3120.7 L1878.8,3120.8 L1880.8,3120.9 L1882.8,3121.1 L1884.8,3121.2 L1886.8,3121.3 L1888.8,3121.4 L1890.8,3121.6 L1892.8,3121.7 L1894.8,3121.8 L1896.8,3121.9 L1898.8,3122.0 L1900.8,3122.2 L1902.8,3122.3 L1904.8,3122.4 L1906.8,3122.5 L1908.8,3122.6 L1910.8,3122.8 L1912.8,3122.9 L1914.8,3123.0 L1916.8,3123.1 L1918.8,3123.2 L1920.8,3123.4 L1922.8,3123.5 L1924.8,3123.6 L1926.8,3123.7 L1928.7,3123.8 L1930.7,3123.9 L1932.7,3124.0 L1934.7,3124.2 L1936.7,3124.3 L1938.7,3124.4 L1940.7,3124.5 L1942.7,3124.6 L1944.7,3124.7 L1946.7,3124.8 L1948.7,3124.9 L1950.7,3125.1 L1952.7,3125.2 L1954.7,3125.3 L1956.7,3125.4 L1958.7,3125.5 L1960.7,3125.6 L1962.7,3125.7 L1964.7,3125.8 L1966.7,3125.9 L1968.7,3126.0 L1970.7,3126.1 L1972.7,3126.2 L1974.7,3126.3 L1976.7,3126.4 L1978.7,3126.5 L1980.7,3126.6 L1982.7,3126.7 L1984.7,3126.8 L1986.7,3126.9 L1988.7,3127.0 L1990.7,3127.1 L1992.7,3127.2 L1994.7,3127.3 L1996.7,3127.4 L1998.6,3127.5 L2000.6,3127.6 L2002.6,3127.7 L2004.6,3127.8 L2006.6,3127.9 L2008.6,3128.0 L2010.6,3128.1 L2012.6,3128.2 L2014.6,3128.2 L2016.6,3128.3 L2018.6,3128.4 L2020.6,3128.5 L2022.6,3128.6 L2024.6,3128.7 L2026.6,3128.8 L2028.6,3128.8 L2030.6,3128.9 L2032.6,3129.0 L2034.6,3129.1 L2036.6,3129.2 L2038.6,3129.2 L2040.6,3129.3 L2042.6,3129.4 L2044.6,3129.5 L2046.6,3129.5 L2048.6,3129.6 L2050.6,3129.7 L2052.6,3129.7 L2054.6,3129.8 L2056.6,3129.9 L2058.6,3129.9 L2060.6,3130.0 L2062.6,3130.1 L2064.6,3130.1 L2066.6,3130.2 L2068.6,3130.3 L2070.6,3130.3 L2072.6,3130.4 L2074.6,3130.5 L2076.6,3130.5 L2078.6,3130.6 L2080.6,3130.6 L2082.6,3130.7 L2084.6,3130.8 L2086.6,3130.8 L2088.6,3130.9 L2090.6,3130.9 L2092.6,3131.0 L2094.6,3131.0 L2096.6,3131.1 L2098.6,3131.2 L2100.6,3131.2 L2102.6,3131.3 L2104.6,3131.3 L2106.6,3131.4 L2108.6,3131.4 L2110.6,3131.5 L2112.6,3131.5 L2114.6,3131.6 L2116.6,3131.6 L2118.6,3131.7 L2120.6,3131.7 L2122.6,3131.8 L2124.6,3131.8 L2126.6,3131.9 L2128.6,3131.9 L2130.6,3132.0 L2132.6,3132.0 L2134.6,3132.1 L2136.6,3132.1 L2138.6,3132.2 L2140.6,3132.2 L2142.6,3132.3 L2144.6,3132.3 L2146.6,3132.4 L2148.6,3132.4 L2150.6,3132.5 L2152.6,3132.5 L2154.6,3132.5 L2156.6,3132.6 L2158.6,3132.6 L2160.6,3132.7 L2162.6,3132.7 L2164.6,3132.8 L2166.6,3132.8 L2168.6,3132.9 L2170.6,3132.9 L2172.6,3132.9 L2174.6,3133.0 L2176.6,3133.0 L2178.6,3133.1 L2180.6,3133.1 L2182.6,3133.2 L2184.6,3133.2 L2186.6,3133.3 L2188.6,3133.3 L2190.6,3133.3 L2192.6,3133.4 L2194.6,3133.4 L2196.6,3133.5 L2198.6,3133.5 L2200.6,3133.5 L2202.6,3133.6 L2204.6,3133.6 L2206.6,3133.7 L2208.6,3133.7 L2210.6,3133.8 L2212.6,3133.8 L2214.5,3133.9 L2216.5,3133.9 L2218.5,3133.9 L2220.5,3134.0 L2222.5,3134.0 L2224.5,3134.1 L2226.5,3134.1 L2228.5,3134.2 L2230.5,3134.2 L2232.5,3134.3 L2234.5,3134.3 L2236.5,3134.3 L2238.5,3134.4 L2240.5,3134.4 L2242.5,3134.5" fill="none" stroke="#000" stroke-width="12.00" stroke-linecap="round" stroke-linejoin="round" clip-path="url(#cc)"/>
<path d="M486.0,2086.2 L488.0,2086.2 L490.0,2086.2 L492.0,2086.2 L494.0,2086.2 L496.0,2086.2 L498.0,2086.3 L500.0,2086.3 L502.0,2086.3 L504.0,2086.3 L506.0,2086.3 L508.0,2086.3 L510.0,2086.3 L512.0,2086.3 L514.0,2086.3 L516.0,2086.3 L518.0,2086.3 L520.0,2086.3 L522.0,2086.4 L524.0,2086.4 L526.0,2086.4 L528.0,2086.4 L530.0,2086.4 L532.0,2086.4 L534.0,2086.4 L536.0,2086.4 L538.0,2086.4 L540.0,2086.4 L542.0,2086.4 L544.0,2086.5 L546.0,2086.5 L548.0,2086.5 L550.0,2086.5 L552.0,2086.5 L554.0,2086.5 L556.0,2086.5 L558.0,2086.5 L560.0,2086.6 L562.0,2086.6 L564.0,2086.6 L566.0,2086.6 L568.0,2086.6 L570.0,2086.6 L572.0,2086.7 L574.0,2086.7 L576.0,2086.7 L578.0,2086.7 L580.0,2086.7 L582.0,2086.8 L584.0,2086.8 L586.0,2086.8 L588.0,2086.8 L590.0,2086.9 L592.0,2086.9 L594.0,2086.9 L596.0,2087.0 L598.0,2087.0 L600.0,2087.0 L602.0,2087.1 L604.0,2087.1 L606.0,2087.1 L608.0,2087.2 L610.0,2087.2 L612.0,2087.2 L614.0,2087.3 L616.0,2087.3 L618.0,2087.4 L620.0,2087.4 L622.0,2087.4 L624.0,2087.5 L626.0,2087.5 L628.0,2087.6 L630.0,2087.6 L632.0,2087.7 L634.0,2087.7 L636.0,2087.8 L638.0,2087.8 L640.0,2087.9 L642.0,2087.9 L644.0,2088.0 L646.0,2088.0 L648.0,2088.1 L650.0,2088.1 L652.0,2088.2 L654.0,2088.2 L656.0,2088.3 L658.0,2088.4 L660.0,2088.4 L662.0,2088.5 L664.0,2088.6 L666.0,2088.6 L668.0,2088.7 L670.0,2088.8 L672.0,2088.8 L674.0,2088.9 L676.0,2089.0 L678.0,2089.1 L680.0,2089.1 L682.0,2089.2 L684.0,2089.3 L686.0,2089.4 L688.0,2089.5 L690.0,2089.6 L692.0,2089.7 L694.0,2089.8 L695.9,2089.9 L697.9,2089.9 L699.9,2090.0 L701.9,2090.1 L703.9,2090.3 L705.9,2090.4 L707.9,2090.5 L709.9,2090.6 L711.9,2090.7 L713.9,2090.8 L715.9,2090.9 L717.9,2091.0 L719.9,2091.1 L721.9,2091.3 L723.9,2091.4 L725.9,2091.5 L727.9,2091.6 L729.9,2091.7 L731.9,2091.9 L733.9,2092.0 L735.9,2092.1 L737.9,2092.3 L739.9,2092.4 L741.9,2092.5 L743.9,2092.7 L745.9,2092.8 L747.9,2092.9 L749.9,2093.1 L751.8,2093.2 L753.8,2093.3 L755.8,2093.5 L757.8,2093.6 L759.8,2093.8 L761.8,2093.9 L763.8,2094.1 L765.8,2094.2 L767.8,2094.4 L769.8,2094.5 L771.8,2094.7 L773.8,2094.8 L775.8,2095.0 L777.8,2095.2 L779.8,2095.3 L781.8,2095.5 L783.7,2095.7 L785.7,2095.9 L787.7,2096.0 L789.7,2096.2 L791.7,2096.5 L793.7,2096.7 L795.7,2096.9 L797.6,2097.1 L799.6,2097.4 L801.6,2097.7 L803.6,2097.9 L805.5,2098.2 L807.5,2098.5 L809.5,2098.8 L811.4,2099.1 L813.4,2099.4 L815.4,2099.8 L817.3,2100.1 L819.3,2100.4 L821.3,2100.7 L823.2,2100.9 L825.2,2101.2 L827.2,2101.4 L829.2,2101.7 L831.1,2101.9 L833.1,2102.1 L835.1,2102.2 L837.1,2102.4 L839.1,2102.5 L841.1,2102.7 L843.1,2102.8 L845.1,2102.9 L847.1,2103.0 L849.1,2103.1 L851.1,2103.2 L853.1,2103.2 L855.0,2103.3 L857.0,2103.4 L859.0,2103.5 L861.0,2103.6 L863.0,2103.6 L865.0,2103.7 L867.0,2103.8 L869.0,2103.9 L871.0,2104.0 L873.0,2104.1 L875.0,2104.2 L877.0,2104.3 L879.0,2104.4 L881.0,2104.6 L883.0,2104.7 L885.0,2104.8 L887.0,2105.0 L889.0,2105.1 L891.0,2105.3 L893.0,2105.5 L895.0,2105.6 L897.0,2105.8 L899.0,2105.9 L900.9,2106.1 L902.9,2106.3 L904.9,2106.4 L906.9,2106.6 L908.9,2106.7 L910.9,2106.9 L912.9,2107.0 L914.9,2107.1 L916.9,2107.3 L918.9,2107.4 L920.9,2107.5 L922.9,2107.6 L924.9,2107.7 L926.9,2107.8 L928.9,2107.9 L930.9,2107.9 L932.9,2108.0 L934.9,2108.1 L936.9,2108.2 L938.9,2108.2 L940.8,2108.3 L942.8,2108.4 L944.8,2108.5 L946.8,2108.6 L948.8,2108.8 L950.7,2109.0 L952.7,2109.2 L954.6,2109.4 L956.5,2109.7 L958.4,2110.0 L960.3,2110.4 L962.1,2110.8 L964.0,2111.4 L965.8,2111.9 L967.5,2112.5 L969.3,2113.2 L971.0,2114.0 L972.7,2114.8 L974.4,2115.7 L976.0,2116.6 L977.7,2117.6 L979.3,2118.6 L981.0,2119.6 L982.6,2120.7 L984.2,2121.8 L985.8,2122.9 L987.4,2124.0 L989.0,2125.2 L990.6,2126.3 L992.2,2127.5 L993.8,2128.7 L995.4,2129.9 L996.9,2131.1 L998.5,2132.3 L1000.0,2133.6 L1001.5,2134.9 L1003.0,2136.2 L1004.5,2137.5 L1006.0,2138.8 L1007.5,2140.2 L1008.9,2141.6 L1010.3,2142.9 L1011.8,2144.3 L1013.2,2145.8 L1014.6,2147.2 L1015.9,2148.6 L1017.3,2150.1 L1018.7,2151.5 L1020.0,2153.0 L1021.4,2154.5 L1022.7,2156.0 L1024.1,2157.4 L1025.4,2158.9 L1026.7,2160.4 L1028.1,2161.9 L1029.4,2163.4 L1030.7,2164.9 L1032.0,2166.4 L1033.3,2168.0 L1034.6,2169.5 L1035.8,2171.0 L1037.1,2172.6 L1038.3,2174.1 L1039.5,2175.7 L1040.7,2177.3 L1041.9,2178.9 L1043.0,2180.5 L1044.2,2182.2 L1045.3,2183.8 L1046.4,2185.5 L1047.5,2187.2 L1048.5,2188.9 L1049.5,2190.6 L1050.5,2192.3 L1051.5,2194.0 L1052.5,2195.8 L1053.5,2197.5 L1054.4,2199.3 L1055.4,2201.0 L1056.3,2202.8 L1057.2,2204.6 L1058.1,2206.4 L1059.0,2208.1 L1059.8,2209.9 L1060.7,2211.7 L1061.6,2213.6 L1062.4,2215.4 L1063.2,2217.2 L1064.1,2219.0 L1064.9,2220.8 L1065.7,2222.7 L1066.5,2224.5 L1067.3,2226.3 L1068.1,2228.2 L1068.8,2230.0 L1069.6,2231.9 L1070.4,2233.7 L1071.1,2235.6 L1071.8,2237.4 L1072.6,2239.3 L1073.3,2241.1 L1074.0,2243.0 L1074.7,2244.9 L1075.4,2246.7 L1076.1,2248.6 L1076.8,2250.5 L1077.5,2252.4 L1078.1,2254.3 L1078.8,2256.2 L1079.4,2258.0 L1080.1,2259.9 L1080.7,2261.8 L1081.3,2263.7 L1081.9,2265.6 L1082.5,2267.5 L1083.1,2269.5 L1083.7,2271.4 L1084.3,2273.3 L1084.9,2275.2 L1085.5,2277.1 L1086.0,2279.0 L1086.6,2280.9 L1087.2,2282.9 L1087.7,2284.8 L1088.3,2286.7 L1088.9,2288.6 L1089.4,2290.5 L1090.0,2292.5 L1090.5,2294.4 L1091.1,2296.3 L1091.6,2298.2 L1092.2,2300.2 L1092.7,2302.1 L1093.2,2304.0 L1093.8,2305.9 L1094.3,2307.9 L1094.8,2309.8 L1095.3,2311.7 L1095.8,2313.7 L1096.3,2315.6 L1096.8,2317.5 L1097.2,2319.5 L1097.7,2321.4 L1098.1,2323.4 L1098.6,2325.3 L1099.0,2327.3 L1099.5,2329.2 L1099.9,2331.2 L1100.3,2333.1 L1100.7,2335.1 L1101.1,2337.1 L1101.5,2339.0 L1101.9,2341.0 L1102.3,2342.9 L1102.7,2344.9 L1103.1,2346.9 L1103.5,2348.8 L1103.9,2350.8 L1104.3,2352.7 L1104.7,2354.7 L1105.1,2356.7 L1105.5,2358.6 L1105.9,2360.6 L1106.3,2362.5 L1106.7,2364.5 L1107.1,2366.5 L1107.5,2368.4 L1107.9,2370.4 L1108.3,2372.3 L1108.7,2374.3 L1109.1,2376.2 L1109.5,2378.2 L1109.9,2380.2 L1110.3,2382.1 L1110.7,2384.1 L1111.1,2386.0 L1111.5,2388.0 L1111.9,2390.0 L1112.3,2391.9 L1112.7,2393.9 L1113.1,2395.8 L1113.5,2397.8 L1113.9,2399.8 L1114.3,2401.7 L1114.7,2403.7 L1115.1,2405.6 L1115.5,2407.6 L1115.9,2409.6 L1116.3,2411.5 L1116.7,2413.5 L1117.1,2415.4 L1117.5,2417.4 L1117.9,2419.4 L1118.3,2421.3 L1118.7,2423.3 L1119.1,2425.2 L1119.5,2427.2 L1119.9,2429.2 L1120.2,2431.1 L1120.6,2433.1 L1121.0,2435.0 L1121.4,2437.0 L1121.8,2439.0 L1122.2,2440.9 L1122.6,2442.9 L1122.9,2444.9 L1123.3,2446.8 L1123.7,2448.8 L1124.0,2450.8 L1124.4,2452.7 L1124.8,2454.7 L1125.1,2456.7 L1125.5,2458.6 L1125.9,2460.6 L1126.2,2462.6 L1126.6,2464.5 L1126.9,2466.5 L1127.3,2468.5 L1127.6,2470.4 L1127.9,2472.4 L1128.3,2474.4 L1128.6,2476.4 L1128.9,2478.3 L1129.3,2480.3 L1129.6,2482.3 L1129.9,2484.3 L1130.2,2486.2 L1130.5,2488.2 L1130.8,2490.2 L1131.1,2492.2 L1131.5,2494.1 L1131.8,2496.1 L1132.1,2498.1 L1132.4,2500.1 L1132.7,2502.0 L1133.0,2504.0 L1133.3,2506.0 L1133.6,2508.0 L1133.8,2509.9 L1134.1,2511.9 L1134.4,2513.9 L1134.7,2515.9 L1135.0,2517.9 L1135.3,2519.8 L1135.6,2521.8 L1135.9,2523.8 L1136.1,2525.8 L1136.4,2527.8 L1136.7,2529.7 L1137.0,2531.7 L1137.3,2533.7 L1137.5,2535.7 L1137.8,2537.7 L1138.1,2539.6 L1138.4,2541.6 L1138.7,2543.6 L1138.9,2545.6 L1139.2,2547.6 L1139.5,2549.5 L1139.8,2551.5 L1140.0,2553.5 L1140.3,2555.5 L1140.6,2557.5 L1140.9,2559.5 L1141.1,2561.4 L1141.4,2563.4 L1141.7,2565.4 L1141.9,2567.4 L1142.2,2569.4 L1142.5,2571.3 L1142.8,2573.3 L1143.0,2575.3 L1143.3,2577.3 L1143.6,2579.3 L1143.8,2581.3 L1144.1,2583.2 L1144.4,2585.2 L1144.6,2587.2 L1144.9,2589.2 L1145.1,2591.2 L1145.4,2593.1 L1145.7,2595.1 L1145.9,2597.1 L1146.2,2599.1 L1146.4,2601.1 L1146.7,2603.1 L1147.0,2605.0 L1147.2,2607.0 L1147.5,2609.0 L1147.7,2611.0 L1148.0,2613.0 L1148.2,2615.0 L1148.5,2617.0 L1148.7,2618.9 L1149.0,2620.9 L1149.2,2622.9 L1149.5,2624.9 L1149.7,2626.9 L1150.0,2628.9 L1150.2,2630.8 L1150.5,2632.8 L1150.7,2634.8 L1151.0,2636.8 L1151.2,2638.8 L1151.4,2640.8 L1151.7,2642.8 L1151.9,2644.7 L1152.2,2646.7 L1152.4,2648.7 L1152.6,2650.7 L1152.9,2652.7 L1153.1,2654.7 L1153.3,2656.7 L1153.6,2658.6 L1153.8,2660.6 L1154.0,2662.6 L1154.3,2664.6 L1154.5,2666.6 L1154.7,2668.6 L1155.0,2670.6 L1155.2,2672.5 L1155.4,2674.5 L1155.6,2676.5 L1155.9,2678.5 L1156.1,2680.5 L1156.3,2682.5 L1156.6,2684.5 L1156.8,2686.5 L1157.0,2688.4 L1157.2,2690.4 L1157.5,2692.4 L1157.7,2694.4 L1157.9,2696.4 L1158.2,2698.4 L1158.4,2700.4 L1158.6,2702.3 L1158.9,2704.3 L1159.1,2706.3 L1159.3,2708.3 L1159.6,2710.3 L1159.8,2712.3 L1160.0,2714.3 L1160.3,2716.2 L1160.5,2718.2 L1160.8,2720.2 L1161.0,2722.2 L1161.3,2724.2 L1161.5,2726.2 L1161.8,2728.2 L1162.1,2730.1 L1162.3,2732.1 L1162.6,2734.1 L1162.9,2736.1 L1163.1,2738.1 L1163.4,2740.0 L1163.7,2742.0 L1164.0,2744.0 L1164.3,2746.0 L1164.6,2748.0 L1164.9,2749.9 L1165.2,2751.9 L1165.5,2753.9 L1165.8,2755.9 L1166.1,2757.8 L1166.4,2759.8 L1166.7,2761.8 L1167.0,2763.8 L1167.4,2765.7 L1167.7,2767.7 L1168.0,2769.7 L1168.4,2771.7 L1168.7,2773.6 L1169.1,2775.6 L1169.4,2777.6 L1169.8,2779.5 L1170.1,2781.5 L1170.5,2783.5 L1170.8,2785.4 L1171.2,2787.4 L1171.5,2789.4 L1171.9,2791.3 L1172.2,2793.3 L1172.6,2795.3 L1172.9,2797.3 L1173.2,2799.2 L1173.6,2801.2 L1173.9,2803.2 L1174.3,2805.1 L1174.6,2807.1 L1174.9,2809.1 L1175.3,2811.1 L1175.6,2813.0 L1175.9,2815.0 L1176.3,2817.0 L1176.6,2818.9 L1176.9,2820.9 L1177.2,2822.9 L1177.6,2824.9 L1177.9,2826.8 L1178.2,2828.8 L1178.5,2830.8 L1178.9,2832.8 L1179.2,2834.7 L1179.5,2836.7 L1179.8,2838.7 L1180.1,2840.7 L1180.5,2842.6 L1180.8,2844.6 L1181.1,2846.6 L1181.4,2848.5 L1181.8,2850.5 L1182.1,2852.5 L1182.4,2854.5 L1182.8,2856.4 L1183.1,2858.4 L1183.5,2860.4 L1183.8,2862.3 L1184.2,2864.3 L1184.5,2866.3 L1184.9,2868.2 L1185.3,2870.2 L1185.6,2872.2 L1186.0,2874.1 L1186.4,2876.1 L1186.8,2878.1 L1187.2,2880.0 L1187.6,2882.0 L1188.0,2883.9 L1188.4,2885.9 L1188.9,2887.8 L1189.3,2889.8 L1189.8,2891.7 L1190.2,2893.7 L1190.7,2895.6 L1191.1,2897.6 L1191.6,2899.5 L1192.1,2901.5 L1192.6,2903.4 L1193.1,2905.3 L1193.6,2907.3 L1194.1,2909.2 L1194.6,2911.1 L1195.2,2913.0 L1195.7,2915.0 L1196.3,2916.9 L1196.8,2918.8 L1197.4,2920.7 L1198.0,2922.6 L1198.6,2924.6 L1199.2,2926.5 L1199.8,2928.4 L1200.4,2930.3 L1201.0,2932.2 L1201.7,2934.0 L1202.3,2935.9 L1203.0,2937.8 L1203.7,2939.7 L1204.4,2941.6 L1205.1,2943.4 L1205.9,2945.3 L1206.6,2947.1 L1207.4,2948.9 L1208.2,2950.8 L1209.0,2952.6 L1209.8,2954.4 L1210.7,2956.2 L1211.6,2958.0 L1212.5,2959.8 L1213.4,2961.5 L1214.3,2963.3 L1215.3,2965.0 L1216.3,2966.8 L1217.3,2968.5 L1218.3,2970.2 L1219.4,2971.9 L1220.4,2973.6 L1221.5,2975.2 L1222.7,2976.8 L1223.8,2978.4 L1225.0,2980.0 L1226.2,2981.6 L1227.5,2983.1 L1228.8,2984.6 L1230.1,2986.1 L1231.4,2987.6 L1232.8,2989.0 L1234.2,2990.4 L1235.6,2991.8 L1237.1,2993.1 L1238.5,2994.4 L1240.0,2995.7 L1241.6,2997.0 L1243.1,2998.3 L1244.6,2999.5 L1246.2,3000.7 L1247.8,3002.0 L1249.3,3003.2 L1250.9,3004.4 L1252.5,3005.7 L1254.0,3006.9 L1255.6,3008.1 L1257.1,3009.4 L1258.7,3010.7 L1260.2,3011.9 L1261.7,3013.2 L1263.2,3014.5 L1264.8,3015.9 L1266.2,3017.2 L1267.7,3018.5 L1269.2,3019.9 L1270.7,3021.2 L1272.1,3022.6 L1273.6,3024.0 L1275.0,3025.3 L1276.5,3026.7 L1277.9,3028.1 L1279.3,3029.5 L1280.8,3030.9 L1282.2,3032.3 L1283.6,3033.7 L1285.0,3035.1 L1286.5,3036.5 L1287.9,3037.9 L1289.3,3039.3 L1290.7,3040.7 L1292.2,3042.1 L1293.6,3043.5 L1295.0,3044.9 L1296.4,3046.3 L1297.9,3047.7 L1299.3,3049.2 L1300.7,3050.6 L1302.1,3052.0 L1303.6,3053.4 L1305.0,3054.8 L1306.4,3056.2 L1307.8,3057.6 L1309.3,3059.0 L1310.7,3060.4 L1312.1,3061.8 L1313.5,3063.2 L1315.0,3064.6 L1316.4,3066.0 L1317.8,3067.4 L1319.2,3068.8 L1320.6,3070.2 L1322.1,3071.6 L1323.5,3073.0 L1324.9,3074.5 L1326.3,3075.9 L1327.7,3077.3 L1329.1,3078.7 L1330.5,3080.1 L1331.9,3081.6 L1333.3,3083.0 L1334.7,3084.5 L1336.1,3085.9 L1337.5,3087.3 L1338.8,3088.8 L1340.2,3090.2 L1341.6,3091.7 L1342.9,3093.2 L1344.3,3094.6 L1345.7,3096.1 L1347.0,3097.5 L1348.4,3099.0 L1349.8,3100.5 L1351.1,3101.9 L1352.5,3103.4 L1353.9,3104.8 L1355.2,3106.3 L1356.6,3107.7 L1358.0,3109.2 L1359.4,3110.6 L1360.8,3112.0 L1362.2,3113.4 L1363.7,3114.8 L1365.1,3116.1 L1366.6,3117.5 L1368.1,3118.8 L1369.6,3120.1 L1371.1,3121.4 L1372.6,3122.6 L1374.2,3123.8 L1375.8,3124.9 L1377.4,3126.0 L1379.1,3127.1 L1380.7,3128.1 L1382.5,3129.1 L1384.2,3130.0 L1385.9,3130.9 L1387.7,3131.7 L1389.5,3132.5 L1391.3,3133.3 L1393.2,3134.0 L1395.0,3134.6 L1396.9,3135.3 L1398.8,3135.9 L1400.7,3136.4 L1402.6,3137.0 L1404.5,3137.5 L1406.4,3138.0 L1408.4,3138.5 L1410.3,3139.0 L1412.3,3139.4 L1414.2,3139.9 L1416.2,3140.3 L1418.1,3140.7 L1420.1,3141.1 L1422.0,3141.5 L1424.0,3141.9 L1425.9,3142.3 L1427.9,3142.7 L1429.9,3143.1 L1431.8,3143.5 L1433.8,3143.9 L1435.8,3144.3 L1437.7,3144.6 L1439.7,3145.0 L1441.6,3145.4 L1443.6,3145.8 L1445.6,3146.2 L1447.5,3146.6 L1449.5,3147.0 L1451.4,3147.4 L1453.4,3147.8 L1455.4,3148.2 L1457.3,3148.6 L1459.3,3149.0 L1461.2,3149.4 L1463.2,3149.8 L1465.1,3150.2 L1467.1,3150.6 L1469.1,3151.0 L1471.0,3151.4 L1473.0,3151.8 L1474.9,3152.2 L1476.9,3152.6 L1478.9,3153.0 L1480.8,3153.3 L1482.8,3153.7 L1484.8,3154.1 L1486.7,3154.4 L1488.7,3154.8 L1490.7,3155.1 L1492.6,3155.4 L1494.6,3155.8 L1496.6,3156.1 L1498.6,3156.4 L1500.5,3156.8 L1502.5,3157.1 L1504.5,3157.4 L1506.5,3157.7 L1508.4,3158.0 L1510.4,3158.3 L1512.4,3158.6 L1514.4,3158.9 L1516.4,3159.2 L1518.3,3159.5 L1520.3,3159.8 L1522.3,3160.1 L1524.3,3160.3 L1526.2,3160.6 L1528.2,3160.9 L1530.2,3161.1 L1532.2,3161.4 L1534.2,3161.7 L1536.2,3161.9 L1538.1,3162.2 L1540.1,3162.4 L1542.1,3162.6 L1544.1,3162.9 L1546.1,3163.1 L1548.1,3163.3 L1550.1,3163.5 L1552.1,3163.7 L1554.0,3164.0 L1556.0,3164.2 L1558.0,3164.4 L1560.0,3164.6 L1562.0,3164.8 L1564.0,3165.0 L1566.0,3165.2 L1568.0,3165.4 L1570.0,3165.5 L1572.0,3165.7 L1573.9,3165.9 L1575.9,3166.1 L1577.9,3166.3 L1579.9,3166.5 L1581.9,3166.6 L1583.9,3166.8 L1585.9,3167.0 L1587.9,3167.2 L1589.9,3167.3 L1591.9,3167.5 L1593.9,3167.7 L1595.9,3167.9 L1597.9,3168.0 L1599.8,3168.2 L1601.8,3168.4 L1603.8,3168.5 L1605.8,3168.7 L1607.8,3168.9 L1609.8,3169.0 L1611.8,3169.2 L1613.8,3169.4 L1615.8,3169.5 L1617.8,3169.7 L1619.8,3169.9 L1621.8,3170.0 L1623.8,3170.2 L1625.8,3170.3 L1627.8,3170.5 L1629.7,3170.7 L1631.7,3170.8 L1633.7,3171.0 L1635.7,3171.2 L1637.7,3171.3 L1639.7,3171.5 L1641.7,3171.6 L1643.7,3171.8 L1645.7,3171.9 L1647.7,3172.1 L1649.7,3172.3 L1651.7,3172.4 L1653.7,3172.6 L1655.7,3172.7 L1657.7,3172.9 L1659.7,3173.0 L1661.6,3173.2 L1663.6,3173.3 L1665.6,3173.5 L1667.6,3173.7 L1669.6,3173.8 L1671.6,3174.0 L1673.6,3174.1 L1675.6,3174.3 L1677.6,3174.4 L1679.6,3174.6 L1681.6,3174.7 L1683.6,3174.8 L1685.6,3175.0 L1687.6,3175.1 L1689.6,3175.3 L1691.6,3175.4 L1693.6,3175.6 L1695.5,3175.7 L1697.5,3175.9 L1699.5,3176.0 L1701.5,3176.2 L1703.5,3176.3 L1705.5,3176.4 L1707.5,3176.6 L1709.5,3176.7 L1711.5,3176.9 L1713.5,3177.0 L1715.5,3177.1 L1717.5,3177.3 L1719.5,3177.4 L1721.5,3177.5 L1723.5,3177.7 L1725.5,3177.8 L1727.5,3178.0 L1729.5,3178.1 L1731.5,3178.2 L1733.5,3178.4 L1735.5,3178.5 L1737.5,3178.6 L1739.4,3178.7 L1741.4,3178.9 L1743.4,3179.0 L1745.4,3179.1 L1747.4,3179.3 L1749.4,3179.4 L1751.4,3179.5 L1753.4,3179.6 L1755.4,3179.8 L1757.4,3179.9 L1759.4,3180.0 L1761.4,3180.1 L1763.4,3180.2 L1765.4,3180.4 L1767.4,3180.5 L1769.4,3180.6 L1771.4,3180.7 L1773.4,3180.8 L1775.4,3181.0 L1777.4,3181.1 L1779.4,3181.2 L1781.4,3181.3 L1783.4,3181.4 L1785.4,3181.5 L1787.4,3181.6 L1789.4,3181.7 L1791.4,3181.9 L1793.3,3182.0 L1795.3,3182.1 L1797.3,3182.2 L1799.3,3182.3 L1801.3,3182.4 L1803.3,3182.5 L1805.3,3182.6 L1807.3,3182.7 L1809.3,3182.8 L1811.3,3182.9 L1813.3,3183.0 L1815.3,3183.1 L1817.3,3183.2 L1819.3,3183.3 L1821.3,3183.4 L1823.3,3183.5 L1825.3,3183.6 L1827.3,3183.7 L1829.3,3183.8 L1831.3,3183.8 L1833.3,3183.9 L1835.3,3184.0 L1837.3,3184.1 L1839.3,3184.2 L1841.3,3184.3 L1843.3,3184.4 L1845.3,3184.5 L1847.3,3184.6 L1849.3,3184.7 L1851.3,3184.7 L1853.3,3184.8 L1855.3,3184.9 L1857.3,3185.0 L1859.3,3185.1 L1861.3,3185.2 L1863.3,3185.3 L1865.3,3185.3 L1867.3,3185.4 L1869.3,3185.5 L1871.3,3185.6 L1873.3,3185.7 L1875.3,3185.8 L1877.3,3185.8 L1879.3,3185.9 L1881.3,3186.0 L1883.3,3186.1 L1885.3,3186.2 L1887.3,3186.2 L1889.2,3186.3 L1891.2,3186.4 L1893.2,3186.5 L1895.2,3186.5 L1897.2,3186.6 L1899.2,3186.7 L1901.2,3186.8 L1903.2,3186.8 L1905.2,3186.9 L1907.2,3187.0 L1909.2,3187.1 L1911.2,3187.1 L1913.2,3187.2 L1915.2,3187.3 L1917.2,3187.4 L1919.2,3187.4 L1921.2,3187.5 L1923.2,3187.6 L1925.2,3187.7 L1927.2,3187.7 L1929.2,3187.8 L1931.2,3187.9 L1933.2,3188.0 L1935.2,3188.0 L1937.2,3188.1 L1939.2,3188.2 L1941.2,3188.2 L1943.2,3188.3 L1945.2,3188.4 L1947.2,3188.4 L1949.2,3188.5 L1951.2,3188.6 L1953.2,3188.7 L1955.2,3188.7 L1957.2,3188.8 L1959.2,3188.9 L1961.2,3188.9 L1963.2,3189.0 L1965.2,3189.1 L1967.2,3189.1 L1969.2,3189.2 L1971.2,3189.3 L1973.2,3189.3 L1975.2,3189.4 L1977.2,3189.5 L1979.2,3189.5 L1981.2,3189.6 L1983.2,3189.7 L1985.2,3189.7 L1987.2,3189.8 L1989.2,3189.9 L1991.2,3189.9 L1993.2,3190.0 L1995.2,3190.1 L1997.2,3190.1 L1999.2,3190.2 L2001.2,3190.3 L2003.2,3190.3 L2005.2,3190.4 L2007.2,3190.4 L2009.2,3190.5 L2011.2,3190.6 L2013.2,3190.6 L2015.2,3190.7 L2017.2,3190.8 L2019.2,3190.8 L2021.2,3190.9 L2023.2,3191.0 L2025.2,3191.0 L2027.2,3191.1 L2029.2,3191.2 L2031.2,3191.2 L2033.2,3191.3 L2035.2,3191.3 L2037.2,3191.4 L2039.2,3191.5 L2041.2,3191.5 L2043.2,3191.6 L2045.2,3191.7 L2047.2,3191.7 L2049.2,3191.8 L2051.2,3191.8 L2053.2,3191.9 L2055.2,3192.0 L2057.2,3192.0 L2059.2,3192.1 L2061.2,3192.1 L2063.2,3192.2 L2065.1,3192.2 L2067.1,3192.3 L2069.1,3192.4 L2071.1,3192.4 L2073.1,3192.5 L2075.1,3192.5 L2077.1,3192.6 L2079.1,3192.6 L2081.1,3192.7 L2083.1,3192.7 L2085.1,3192.8 L2087.1,3192.8 L2089.1,3192.9 L2091.1,3192.9 L2093.1,3193.0 L2095.1,3193.0 L2097.1,3193.1 L2099.1,3193.1 L2101.1,3193.2 L2103.1,3193.2 L2105.1,3193.3 L2107.1,3193.3 L2109.1,3193.4 L2111.1,3193.4 L2113.1,3193.5 L2115.1,3193.5 L2117.1,3193.6 L2119.1,3193.6 L2121.1,3193.7 L2123.1,3193.7 L2125.1,3193.8 L2127.1,3193.8 L2129.1,3193.8 L2131.1,3193.9 L2133.1,3193.9 L2135.1,3194.0 L2137.1,3194.0 L2139.1,3194.1 L2141.1,3194.1 L2143.1,3194.2 L2145.1,3194.2 L2147.1,3194.2 L2149.1,3194.3 L2151.1,3194.3 L2153.1,3194.4 L2155.1,3194.4 L2157.1,3194.5 L2159.1,3194.5 L2161.1,3194.5 L2163.1,3194.6 L2165.1,3194.6 L2167.1,3194.7 L2169.1,3194.7 L2171.1,3194.7 L2173.1,3194.8 L2175.1,3194.8 L2177.1,3194.9 L2179.1,3194.9 L2181.1,3194.9 L2183.1,3195.0 L2185.1,3195.0 L2187.1,3195.1 L2189.1,3195.1 L2191.1,3195.1 L2193.1,3195.2 L2195.1,3195.2 L2197.1,3195.3 L2199.1,3195.3 L2201.1,3195.3 L2203.1,3195.4 L2205.1,3195.4 L2207.1,3195.5 L2209.1,3195.5 L2211.1,3195.5 L2213.1,3195.6 L2215.1,3195.6 L2217.1,3195.7 L2219.1,3195.7 L2221.1,3195.7 L2223.1,3195.8 L2225.1,3195.8 L2227.1,3195.9 L2229.1,3195.9 L2231.1,3195.9 L2233.1,3196.0 L2235.1,3196.0 L2237.1,3196.1 L2239.1,3196.1 L2241.1,3196.2 L2242.1,3196.2" fill="none" stroke="#000" stroke-width="12.00" stroke-linecap="round" stroke-linejoin="round" clip-path="url(#cc)"/>
<path d="M486.0,2086.2 L488.0,2086.2 L490.0,2086.3 L492.0,2086.3 L494.0,2086.4 L496.0,2086.4 L498.0,2086.5 L500.0,2086.5 L502.0,2086.6 L504.0,2086.6 L506.0,2086.7 L508.0,2086.7 L510.0,2086.7 L512.0,2086.8 L514.0,2086.8 L516.0,2086.9 L518.0,2086.9 L520.0,2087.0 L522.0,2087.0 L524.0,2087.1 L526.0,2087.1 L528.0,2087.2 L530.0,2087.2 L532.0,2087.2 L534.0,2087.3 L536.0,2087.3 L538.0,2087.4 L540.0,2087.4 L542.0,2087.5 L544.0,2087.5 L546.0,2087.6 L548.0,2087.6 L550.0,2087.7 L552.0,2087.7 L554.0,2087.8 L556.0,2087.8 L558.0,2087.9 L560.0,2087.9 L562.0,2088.0 L564.0,2088.0 L566.0,2088.1 L568.0,2088.1 L570.0,2088.2 L572.0,2088.2 L574.0,2088.3 L576.0,2088.3 L578.0,2088.4 L580.0,2088.4 L582.0,2088.5 L584.0,2088.5 L586.0,2088.6 L588.0,2088.7 L590.0,2088.7 L592.0,2088.8 L594.0,2088.8 L596.0,2088.9 L598.0,2089.0 L600.0,2089.0 L602.0,2089.1 L604.0,2089.1 L606.0,2089.2 L608.0,2089.3 L610.0,2089.3 L612.0,2089.4 L614.0,2089.5 L616.0,2089.5 L618.0,2089.6 L620.0,2089.7 L622.0,2089.7 L624.0,2089.8 L626.0,2089.9 L627.9,2089.9 L629.9,2090.0 L631.9,2090.1 L633.9,2090.1 L635.9,2090.2 L637.9,2090.3 L639.9,2090.4 L641.9,2090.4 L643.9,2090.5 L645.9,2090.6 L647.9,2090.6 L649.9,2090.7 L651.9,2090.8 L653.9,2090.9 L655.9,2091.0 L657.9,2091.0 L659.9,2091.1 L661.9,2091.2 L663.9,2091.3 L665.9,2091.4 L667.9,2091.5 L669.9,2091.6 L671.9,2091.6 L673.9,2091.7 L675.9,2091.8 L677.9,2091.9 L679.9,2092.0 L681.9,2092.1 L683.9,2092.2 L685.9,2092.3 L687.9,2092.4 L689.9,2092.5 L691.9,2092.6 L693.9,2092.7 L695.9,2092.8 L697.9,2092.9 L699.9,2093.0 L701.9,2093.1 L703.9,2093.2 L705.9,2093.3 L707.9,2093.5 L709.9,2093.6 L711.9,2093.7 L713.9,2093.8 L715.9,2093.9 L717.9,2094.0 L719.9,2094.1 L721.8,2094.2 L723.8,2094.4 L725.8,2094.5 L727.8,2094.6 L729.8,2094.7 L731.8,2094.8 L733.8,2095.0 L735.8,2095.1 L737.8,2095.2 L739.8,2095.3 L741.8,2095.5 L743.8,2095.6 L745.8,2095.7 L747.8,2095.9 L749.8,2096.0 L751.8,2096.1 L753.8,2096.3 L755.8,2096.4 L757.8,2096.6 L759.8,2096.7 L761.8,2096.8 L763.8,2097.0 L765.8,2097.1 L767.7,2097.3 L769.7,2097.4 L771.7,2097.6 L773.7,2097.8 L775.7,2097.9 L777.7,2098.1 L779.7,2098.2 L781.7,2098.4 L783.7,2098.6 L785.7,2098.8 L787.7,2098.9 L789.7,2099.1 L791.7,2099.3 L793.7,2099.5 L795.6,2099.7 L797.6,2099.9 L799.6,2100.1 L801.6,2100.3 L803.6,2100.5 L805.6,2100.7 L807.6,2100.9 L809.6,2101.1 L811.6,2101.3 L813.5,2101.5 L815.5,2101.7 L817.5,2102.0 L819.5,2102.2 L821.5,2102.4 L823.5,2102.7 L825.5,2102.9 L827.5,2103.1 L829.4,2103.4 L831.4,2103.6 L833.4,2103.9 L835.4,2104.1 L837.4,2104.4 L839.4,2104.6 L841.3,2104.9 L843.3,2105.1 L845.3,2105.4 L847.3,2105.6 L849.3,2105.9 L851.3,2106.2 L853.2,2106.4 L855.2,2106.7 L857.2,2106.9 L859.2,2107.2 L861.2,2107.5 L863.2,2107.7 L865.1,2108.0 L867.1,2108.3 L869.1,2108.5 L871.1,2108.8 L873.1,2109.1 L875.1,2109.3 L877.0,2109.6 L879.0,2109.8 L881.0,2110.1 L883.0,2110.3 L885.0,2110.6 L887.0,2110.8 L888.9,2111.1 L890.9,2111.3 L892.9,2111.6 L894.9,2111.8 L896.9,2112.0 L898.9,2112.3 L900.9,2112.5 L902.8,2112.7 L904.8,2112.9 L906.8,2113.1 L908.8,2113.3 L910.8,2113.5 L912.8,2113.7 L914.8,2113.9 L916.8,2114.1 L918.7,2114.4 L920.7,2114.6 L922.7,2114.8 L924.7,2115.1 L926.7,2115.3 L928.6,2115.6 L930.6,2115.9 L932.6,2116.2 L934.5,2116.5 L936.5,2116.9 L938.5,2117.3 L940.4,2117.7 L942.3,2118.1 L944.3,2118.6 L946.2,2119.1 L948.1,2119.7 L950.0,2120.3 L951.9,2120.9 L953.8,2121.5 L955.6,2122.2 L957.5,2122.8 L959.4,2123.6 L961.2,2124.3 L963.0,2125.1 L964.9,2125.9 L966.7,2126.7 L968.5,2127.5 L970.3,2128.4 L972.1,2129.3 L973.8,2130.2 L975.6,2131.1 L977.3,2132.1 L979.1,2133.1 L980.8,2134.1 L982.5,2135.1 L984.2,2136.1 L985.9,2137.2 L987.5,2138.3 L989.2,2139.4 L990.8,2140.6 L992.4,2141.8 L994.0,2142.9 L995.6,2144.2 L997.1,2145.4 L998.7,2146.7 L1000.2,2147.9 L1001.7,2149.2 L1003.2,2150.5 L1004.7,2151.9 L1006.2,2153.2 L1007.7,2154.5 L1009.1,2155.9 L1010.6,2157.3 L1012.0,2158.7 L1013.4,2160.1 L1014.8,2161.5 L1016.2,2162.9 L1017.6,2164.3 L1019.0,2165.8 L1020.4,2167.2 L1021.7,2168.7 L1023.1,2170.2 L1024.4,2171.7 L1025.8,2173.2 L1027.1,2174.7 L1028.4,2176.2 L1029.6,2177.7 L1030.9,2179.3 L1032.1,2180.8 L1033.4,2182.4 L1034.6,2184.0 L1035.8,2185.6 L1036.9,2187.2 L1038.1,2188.8 L1039.2,2190.5 L1040.3,2192.1 L1041.4,2193.8 L1042.4,2195.5 L1043.4,2197.2 L1044.5,2198.9 L1045.4,2200.6 L1046.4,2202.4 L1047.3,2204.1 L1048.2,2205.9 L1049.1,2207.7 L1050.0,2209.5 L1050.8,2211.3 L1051.7,2213.1 L1052.5,2214.9 L1053.3,2216.8 L1054.0,2218.6 L1054.8,2220.5 L1055.5,2222.3 L1056.2,2224.2 L1056.9,2226.0 L1057.6,2227.9 L1058.3,2229.8 L1059.0,2231.7 L1059.6,2233.6 L1060.2,2235.5 L1060.9,2237.4 L1061.5,2239.3 L1062.1,2241.2 L1062.7,2243.1 L1063.3,2245.0 L1063.9,2246.9 L1064.4,2248.8 L1065.0,2250.7 L1065.6,2252.6 L1066.1,2254.6 L1066.7,2256.5 L1067.2,2258.4 L1067.7,2260.3 L1068.3,2262.3 L1068.8,2264.2 L1069.3,2266.1 L1069.8,2268.1 L1070.4,2270.0 L1070.9,2271.9 L1071.4,2273.9 L1071.9,2275.8 L1072.4,2277.7 L1072.9,2279.7 L1073.4,2281.6 L1073.9,2283.5 L1074.4,2285.5 L1074.9,2287.4 L1075.3,2289.4 L1075.8,2291.3 L1076.3,2293.2 L1076.8,2295.2 L1077.2,2297.1 L1077.7,2299.1 L1078.1,2301.0 L1078.6,2303.0 L1079.0,2304.9 L1079.4,2306.9 L1079.9,2308.8 L1080.3,2310.8 L1080.7,2312.7 L1081.1,2314.7 L1081.6,2316.7 L1082.0,2318.6 L1082.4,2320.6 L1082.8,2322.5 L1083.2,2324.5 L1083.6,2326.5 L1084.0,2328.4 L1084.3,2330.4 L1084.7,2332.3 L1085.1,2334.3 L1085.5,2336.3 L1085.9,2338.2 L1086.3,2340.2 L1086.7,2342.1 L1087.1,2344.1 L1087.5,2346.1 L1087.9,2348.0 L1088.2,2350.0 L1088.6,2352.0 L1089.0,2353.9 L1089.4,2355.9 L1089.8,2357.8 L1090.2,2359.8 L1090.6,2361.8 L1091.0,2363.7 L1091.4,2365.7 L1091.8,2367.6 L1092.2,2369.6 L1092.5,2371.6 L1092.9,2373.5 L1093.3,2375.5 L1093.7,2377.5 L1094.0,2379.4 L1094.4,2381.4 L1094.8,2383.4 L1095.1,2385.3 L1095.5,2387.3 L1095.9,2389.3 L1096.2,2391.2 L1096.6,2393.2 L1096.9,2395.2 L1097.3,2397.1 L1097.7,2399.1 L1098.0,2401.1 L1098.4,2403.0 L1098.7,2405.0 L1099.1,2407.0 L1099.4,2408.9 L1099.7,2410.9 L1100.1,2412.9 L1100.4,2414.8 L1100.8,2416.8 L1101.1,2418.8 L1101.5,2420.8 L1101.8,2422.7 L1102.2,2424.7 L1102.5,2426.7 L1102.8,2428.6 L1103.2,2430.6 L1103.5,2432.6 L1103.9,2434.6 L1104.2,2436.5 L1104.6,2438.5 L1104.9,2440.5 L1105.2,2442.4 L1105.6,2444.4 L1105.9,2446.4 L1106.2,2448.4 L1106.6,2450.3 L1106.9,2452.3 L1107.2,2454.3 L1107.6,2456.2 L1107.9,2458.2 L1108.3,2460.2 L1108.6,2462.2 L1108.9,2464.1 L1109.3,2466.1 L1109.6,2468.1 L1109.9,2470.0 L1110.2,2472.0 L1110.6,2474.0 L1110.9,2476.0 L1111.2,2477.9 L1111.6,2479.9 L1111.9,2481.9 L1112.2,2483.8 L1112.6,2485.8 L1112.9,2487.8 L1113.2,2489.8 L1113.6,2491.7 L1113.9,2493.7 L1114.2,2495.7 L1114.5,2497.7 L1114.9,2499.6 L1115.2,2501.6 L1115.5,2503.6 L1115.8,2505.5 L1116.2,2507.5 L1116.5,2509.5 L1116.8,2511.5 L1117.1,2513.4 L1117.5,2515.4 L1117.8,2517.4 L1118.1,2519.4 L1118.4,2521.3 L1118.7,2523.3 L1119.0,2525.3 L1119.3,2527.3 L1119.6,2529.2 L1119.9,2531.2 L1120.2,2533.2 L1120.5,2535.2 L1120.8,2537.2 L1121.1,2539.1 L1121.4,2541.1 L1121.7,2543.1 L1122.0,2545.1 L1122.3,2547.1 L1122.5,2549.0 L1122.8,2551.0 L1123.1,2553.0 L1123.4,2555.0 L1123.6,2557.0 L1123.9,2558.9 L1124.1,2560.9 L1124.4,2562.9 L1124.6,2564.9 L1124.9,2566.9 L1125.1,2568.9 L1125.4,2570.9 L1125.6,2572.8 L1125.8,2574.8 L1126.1,2576.8 L1126.3,2578.8 L1126.5,2580.8 L1126.7,2582.8 L1126.9,2584.8 L1127.2,2586.7 L1127.4,2588.7 L1127.6,2590.7 L1127.8,2592.7 L1128.0,2594.7 L1128.2,2596.7 L1128.4,2598.7 L1128.6,2600.7 L1128.9,2602.7 L1129.1,2604.6 L1129.3,2606.6 L1129.5,2608.6 L1129.7,2610.6 L1129.9,2612.6 L1130.1,2614.6 L1130.3,2616.6 L1130.5,2618.6 L1130.7,2620.6 L1130.9,2622.5 L1131.2,2624.5 L1131.4,2626.5 L1131.6,2628.5 L1131.8,2630.5 L1132.0,2632.5 L1132.2,2634.5 L1132.4,2636.5 L1132.7,2638.5 L1132.9,2640.4 L1133.1,2642.4 L1133.3,2644.4 L1133.5,2646.4 L1133.7,2648.4 L1133.9,2650.4 L1134.1,2652.4 L1134.4,2654.4 L1134.6,2656.4 L1134.8,2658.3 L1135.0,2660.3 L1135.2,2662.3 L1135.4,2664.3 L1135.6,2666.3 L1135.8,2668.3 L1136.0,2670.3 L1136.2,2672.3 L1136.4,2674.3 L1136.7,2676.2 L1136.9,2678.2 L1137.1,2680.2 L1137.3,2682.2 L1137.5,2684.2 L1137.7,2686.2 L1138.0,2688.2 L1138.2,2690.2 L1138.4,2692.1 L1138.6,2694.1 L1138.9,2696.1 L1139.1,2698.1 L1139.4,2700.1 L1139.6,2702.1 L1139.8,2704.1 L1140.1,2706.0 L1140.3,2708.0 L1140.6,2710.0 L1140.9,2712.0 L1141.1,2714.0 L1141.4,2716.0 L1141.6,2717.9 L1141.9,2719.9 L1142.2,2721.9 L1142.5,2723.9 L1142.7,2725.9 L1143.0,2727.8 L1143.3,2729.8 L1143.6,2731.8 L1143.9,2733.8 L1144.2,2735.8 L1144.5,2737.7 L1144.8,2739.7 L1145.1,2741.7 L1145.4,2743.7 L1145.7,2745.7 L1146.0,2747.6 L1146.3,2749.6 L1146.6,2751.6 L1146.9,2753.6 L1147.2,2755.5 L1147.5,2757.5 L1147.9,2759.5 L1148.2,2761.5 L1148.5,2763.4 L1148.8,2765.4 L1149.1,2767.4 L1149.4,2769.4 L1149.8,2771.3 L1150.1,2773.3 L1150.4,2775.3 L1150.7,2777.2 L1151.1,2779.2 L1151.4,2781.2 L1151.7,2783.2 L1152.0,2785.1 L1152.4,2787.1 L1152.7,2789.1 L1153.0,2791.1 L1153.4,2793.0 L1153.7,2795.0 L1154.0,2797.0 L1154.4,2798.9 L1154.7,2800.9 L1155.0,2802.9 L1155.4,2804.9 L1155.7,2806.8 L1156.0,2808.8 L1156.4,2810.8 L1156.7,2812.7 L1157.0,2814.7 L1157.4,2816.7 L1157.7,2818.7 L1158.1,2820.6 L1158.4,2822.6 L1158.8,2824.6 L1159.1,2826.5 L1159.4,2828.5 L1159.8,2830.5 L1160.1,2832.5 L1160.5,2834.4 L1160.8,2836.4 L1161.2,2838.4 L1161.5,2840.3 L1161.9,2842.3 L1162.2,2844.3 L1162.6,2846.2 L1162.9,2848.2 L1163.3,2850.2 L1163.7,2852.1 L1164.0,2854.1 L1164.4,2856.1 L1164.7,2858.0 L1165.1,2860.0 L1165.5,2862.0 L1165.8,2863.9 L1166.2,2865.9 L1166.6,2867.9 L1166.9,2869.8 L1167.3,2871.8 L1167.7,2873.8 L1168.1,2875.7 L1168.4,2877.7 L1168.8,2879.7 L1169.2,2881.6 L1169.6,2883.6 L1170.0,2885.5 L1170.4,2887.5 L1170.8,2889.4 L1171.3,2891.4 L1171.7,2893.4 L1172.1,2895.3 L1172.6,2897.3 L1173.0,2899.2 L1173.5,2901.1 L1174.0,2903.1 L1174.5,2905.0 L1175.0,2906.9 L1175.5,2908.9 L1176.1,2910.8 L1176.6,2912.7 L1177.2,2914.6 L1177.8,2916.5 L1178.5,2918.4 L1179.1,2920.3 L1179.8,2922.1 L1180.5,2924.0 L1181.2,2925.8 L1182.0,2927.7 L1182.8,2929.5 L1183.6,2931.3 L1184.4,2933.1 L1185.3,2934.9 L1186.2,2936.7 L1187.1,2938.5 L1188.0,2940.2 L1189.0,2941.9 L1190.0,2943.7 L1191.0,2945.4 L1192.1,2947.1 L1193.1,2948.8 L1194.2,2950.4 L1195.3,2952.1 L1196.4,2953.8 L1197.5,2955.4 L1198.6,2957.1 L1199.7,2958.7 L1200.9,2960.4 L1202.0,2962.0 L1203.1,2963.7 L1204.3,2965.3 L1205.4,2967.0 L1206.5,2968.6 L1207.6,2970.3 L1208.7,2972.0 L1209.8,2973.6 L1210.9,2975.3 L1212.0,2977.0 L1213.1,2978.6 L1214.2,2980.3 L1215.3,2982.0 L1216.3,2983.7 L1217.4,2985.4 L1218.4,2987.1 L1219.5,2988.8 L1220.5,2990.5 L1221.5,2992.2 L1222.5,2994.0 L1223.5,2995.7 L1224.5,2997.4 L1225.5,2999.1 L1226.5,3000.9 L1227.5,3002.6 L1228.5,3004.3 L1229.5,3006.0 L1230.5,3007.7 L1231.6,3009.4 L1232.6,3011.1 L1233.7,3012.8 L1234.8,3014.4 L1235.9,3016.1 L1237.1,3017.7 L1238.3,3019.3 L1239.4,3020.9 L1240.6,3022.5 L1241.9,3024.1 L1243.1,3025.6 L1244.4,3027.2 L1245.7,3028.7 L1247.0,3030.2 L1248.3,3031.7 L1249.6,3033.2 L1250.9,3034.7 L1252.3,3036.2 L1253.6,3037.7 L1255.0,3039.1 L1256.3,3040.6 L1257.7,3042.1 L1259.1,3043.5 L1260.4,3045.0 L1261.8,3046.4 L1263.2,3047.8 L1264.6,3049.3 L1266.0,3050.7 L1267.4,3052.1 L1268.8,3053.6 L1270.2,3055.0 L1271.6,3056.4 L1273.0,3057.8 L1274.4,3059.3 L1275.8,3060.7 L1277.3,3062.1 L1278.7,3063.5 L1280.1,3064.9 L1281.5,3066.3 L1283.0,3067.7 L1284.4,3069.0 L1285.9,3070.4 L1287.3,3071.8 L1288.8,3073.2 L1290.2,3074.6 L1291.7,3075.9 L1293.1,3077.3 L1294.6,3078.7 L1296.1,3080.0 L1297.5,3081.4 L1299.0,3082.7 L1300.5,3084.1 L1302.0,3085.4 L1303.5,3086.7 L1304.9,3088.1 L1306.4,3089.4 L1307.9,3090.8 L1309.4,3092.1 L1310.9,3093.4 L1312.4,3094.7 L1313.9,3096.0 L1315.4,3097.4 L1316.9,3098.7 L1318.4,3100.0 L1320.0,3101.3 L1321.5,3102.6 L1323.0,3103.9 L1324.5,3105.2 L1326.1,3106.5 L1327.6,3107.8 L1329.1,3109.0 L1330.7,3110.3 L1332.2,3111.6 L1333.8,3112.8 L1335.3,3114.1 L1336.9,3115.4 L1338.4,3116.6 L1340.0,3117.9 L1341.6,3119.1 L1343.1,3120.3 L1344.7,3121.6 L1346.3,3122.8 L1347.9,3124.0 L1349.5,3125.2 L1351.0,3126.4 L1352.6,3127.6 L1354.2,3128.8 L1355.8,3130.0 L1357.5,3131.2 L1359.1,3132.4 L1360.7,3133.6 L1362.3,3134.7 L1363.9,3135.9 L1365.6,3137.0 L1367.2,3138.2 L1368.9,3139.3 L1370.5,3140.4 L1372.2,3141.5 L1373.9,3142.5 L1375.6,3143.6 L1377.3,3144.6 L1379.0,3145.6 L1380.8,3146.6 L1382.5,3147.5 L1384.3,3148.4 L1386.0,3149.3 L1387.8,3150.2 L1389.6,3151.1 L1391.4,3151.9 L1393.3,3152.6 L1395.1,3153.4 L1397.0,3154.1 L1398.8,3154.8 L1400.7,3155.5 L1402.6,3156.2 L1404.5,3156.8 L1406.4,3157.4 L1408.3,3158.0 L1410.2,3158.5 L1412.1,3159.1 L1414.0,3159.6 L1416.0,3160.1 L1417.9,3160.6 L1419.8,3161.1 L1421.8,3161.6 L1423.7,3162.0 L1425.7,3162.5 L1427.6,3162.9 L1429.6,3163.4 L1431.5,3163.8 L1433.5,3164.2 L1435.4,3164.7 L1437.4,3165.1 L1439.3,3165.5 L1441.3,3165.9 L1443.3,3166.3 L1445.2,3166.7 L1447.2,3167.1 L1449.1,3167.5 L1451.1,3167.9 L1453.1,3168.2 L1455.0,3168.6 L1457.0,3169.0 L1458.9,3169.4 L1460.9,3169.7 L1462.9,3170.1 L1464.8,3170.5 L1466.8,3170.8 L1468.8,3171.2 L1470.8,3171.5 L1472.7,3171.9 L1474.7,3172.2 L1476.7,3172.6 L1478.6,3172.9 L1480.6,3173.2 L1482.6,3173.5 L1484.6,3173.9 L1486.5,3174.2 L1488.5,3174.5 L1490.5,3174.8 L1492.5,3175.1 L1494.4,3175.5 L1496.4,3175.8 L1498.4,3176.1 L1500.4,3176.4 L1502.3,3176.7 L1504.3,3177.0 L1506.3,3177.3 L1508.3,3177.6 L1510.2,3177.9 L1512.2,3178.3 L1514.2,3178.6 L1516.2,3178.9 L1518.1,3179.2 L1520.1,3179.5 L1522.1,3179.8 L1524.1,3180.1 L1526.0,3180.3 L1528.0,3180.6 L1530.0,3180.9 L1532.0,3181.2 L1534.0,3181.4 L1536.0,3181.7 L1537.9,3182.0 L1539.9,3182.2 L1541.9,3182.5 L1543.9,3182.7 L1545.9,3182.9 L1547.9,3183.2 L1549.8,3183.4 L1551.8,3183.6 L1553.8,3183.8 L1555.8,3184.0 L1557.8,3184.2 L1559.8,3184.4 L1561.8,3184.6 L1563.8,3184.8 L1565.8,3185.0 L1567.8,3185.2 L1569.7,3185.4 L1571.7,3185.5 L1573.7,3185.7 L1575.7,3185.9 L1577.7,3186.1 L1579.7,3186.2 L1581.7,3186.4 L1583.7,3186.5 L1585.7,3186.7 L1587.7,3186.9 L1589.7,3187.0 L1591.7,3187.2 L1593.7,3187.3 L1595.7,3187.5 L1597.7,3187.6 L1599.7,3187.8 L1601.6,3187.9 L1603.6,3188.0 L1605.6,3188.2 L1607.6,3188.3 L1609.6,3188.5 L1611.6,3188.6 L1613.6,3188.8 L1615.6,3188.9 L1617.6,3189.0 L1619.6,3189.2 L1621.6,3189.3 L1623.6,3189.4 L1625.6,3189.6 L1627.6,3189.7 L1629.6,3189.8 L1631.6,3190.0 L1633.6,3190.1 L1635.6,3190.2 L1637.6,3190.4 L1639.6,3190.5 L1641.6,3190.6 L1643.5,3190.7 L1645.5,3190.9 L1647.5,3191.0 L1649.5,3191.1 L1651.5,3191.3 L1653.5,3191.4 L1655.5,3191.5 L1657.5,3191.6 L1659.5,3191.8 L1661.5,3191.9 L1663.5,3192.0 L1665.5,3192.1 L1667.5,3192.2 L1669.5,3192.4 L1671.5,3192.5 L1673.5,3192.6 L1675.5,3192.7 L1677.5,3192.8 L1679.5,3193.0 L1681.5,3193.1 L1683.5,3193.2 L1685.5,3193.3 L1687.5,3193.4 L1689.5,3193.6 L1691.5,3193.7 L1693.5,3193.8 L1695.5,3193.9 L1697.4,3194.0 L1699.4,3194.1 L1701.4,3194.3 L1703.4,3194.4 L1705.4,3194.5 L1707.4,3194.6 L1709.4,3194.7 L1711.4,3194.8 L1713.4,3194.9 L1715.4,3195.1 L1717.4,3195.2 L1719.4,3195.3 L1721.4,3195.4 L1723.4,3195.5 L1725.4,3195.6 L1727.4,3195.7 L1729.4,3195.8 L1731.4,3195.9 L1733.4,3196.0 L1735.4,3196.2 L1737.4,3196.3 L1739.4,3196.4 L1741.4,3196.5 L1743.4,3196.6 L1745.4,3196.7 L1747.4,3196.8 L1749.4,3196.9 L1751.4,3197.0 L1753.4,3197.1 L1755.4,3197.2 L1757.4,3197.3 L1759.4,3197.4 L1761.4,3197.5 L1763.3,3197.6 L1765.3,3197.7 L1767.3,3197.8 L1769.3,3198.0 L1771.3,3198.1 L1773.3,3198.2 L1775.3,3198.3 L1777.3,3198.4 L1779.3,3198.5 L1781.3,3198.6 L1783.3,3198.7 L1785.3,3198.8 L1787.3,3198.9 L1789.3,3199.0 L1791.3,3199.1 L1793.3,3199.2 L1795.3,3199.2 L1797.3,3199.3 L1799.3,3199.4 L1801.3,3199.5 L1803.3,3199.6 L1805.3,3199.7 L1807.3,3199.8 L1809.3,3199.9 L1811.3,3200.0 L1813.3,3200.1 L1815.3,3200.2 L1817.3,3200.3 L1819.3,3200.4 L1821.3,3200.5 L1823.3,3200.6 L1825.3,3200.6 L1827.3,3200.7 L1829.3,3200.8 L1831.3,3200.9 L1833.3,3201.0 L1835.3,3201.1 L1837.3,3201.2 L1839.3,3201.3 L1841.3,3201.4 L1843.3,3201.4 L1845.3,3201.5 L1847.3,3201.6 L1849.3,3201.7 L1851.3,3201.8 L1853.3,3201.9 L1855.2,3202.0 L1857.2,3202.0 L1859.2,3202.1 L1861.2,3202.2 L1863.2,3202.3 L1865.2,3202.4 L1867.2,3202.5 L1869.2,3202.5 L1871.2,3202.6 L1873.2,3202.7 L1875.2,3202.8 L1877.2,3202.9 L1879.2,3202.9 L1881.2,3203.0 L1883.2,3203.1 L1885.2,3203.2 L1887.2,3203.3 L1889.2,3203.3 L1891.2,3203.4 L1893.2,3203.5 L1895.2,3203.6 L1897.2,3203.7 L1899.2,3203.7 L1901.2,3203.8 L1903.2,3203.9 L1905.2,3204.0 L1907.2,3204.1 L1909.2,3204.1 L1911.2,3204.2 L1913.2,3204.3 L1915.2,3204.4 L1917.2,3204.4 L1919.2,3204.5 L1921.2,3204.6 L1923.2,3204.7 L1925.2,3204.8 L1927.2,3204.8 L1929.2,3204.9 L1931.2,3205.0 L1933.2,3205.1 L1935.2,3205.1 L1937.2,3205.2 L1939.2,3205.3 L1941.2,3205.4 L1943.2,3205.4 L1945.2,3205.5 L1947.2,3205.6 L1949.2,3205.7 L1951.2,3205.7 L1953.2,3205.8 L1955.2,3205.9 L1957.2,3206.0 L1959.2,3206.0 L1961.2,3206.1 L1963.2,3206.2 L1965.2,3206.3 L1967.2,3206.3 L1969.2,3206.4 L1971.2,3206.5 L1973.2,3206.6 L1975.2,3206.6 L1977.2,3206.7 L1979.2,3206.8 L1981.2,3206.8 L1983.2,3206.9 L1985.2,3207.0 L1987.1,3207.1 L1989.1,3207.1 L1991.1,3207.2 L1993.1,3207.3 L1995.1,3207.4 L1997.1,3207.4 L1999.1,3207.5 L2001.1,3207.6 L2003.1,3207.7 L2005.1,3207.7 L2007.1,3207.8 L2009.1,3207.9 L2011.1,3207.9 L2013.1,3208.0 L2015.1,3208.1 L2017.1,3208.2 L2019.1,3208.2 L2021.1,3208.3 L2023.1,3208.4 L2025.1,3208.5 L2027.1,3208.5 L2029.1,3208.6 L2031.1,3208.7 L2033.1,3208.7 L2035.1,3208.8 L2037.1,3208.9 L2039.1,3209.0 L2041.1,3209.0 L2043.1,3209.1 L2045.1,3209.2 L2047.1,3209.3 L2049.1,3209.3 L2051.1,3209.4 L2053.1,3209.5 L2055.1,3209.5 L2057.1,3209.6 L2059.1,3209.7 L2061.1,3209.8 L2063.1,3209.8 L2065.1,3209.9 L2067.1,3210.0 L2069.1,3210.0 L2071.1,3210.1 L2073.1,3210.2 L2075.1,3210.2 L2077.1,3210.3 L2079.1,3210.4 L2081.1,3210.4 L2083.1,3210.5 L2085.1,3210.6 L2087.1,3210.6 L2089.1,3210.7 L2091.1,3210.8 L2093.1,3210.8 L2095.1,3210.9 L2097.1,3211.0 L2099.1,3211.0 L2101.1,3211.1 L2103.1,3211.2 L2105.1,3211.2 L2107.1,3211.3 L2109.1,3211.4 L2111.1,3211.4 L2113.1,3211.5 L2115.1,3211.6 L2117.1,3211.6 L2119.1,3211.7 L2121.1,3211.8 L2123.1,3211.8 L2125.1,3211.9 L2127.1,3212.0 L2129.1,3212.0 L2131.1,3212.1 L2133.1,3212.2 L2135.1,3212.2 L2137.1,3212.3 L2139.1,3212.4 L2141.1,3212.4 L2143.1,3212.5 L2145.1,3212.5 L2147.1,3212.6 L2149.1,3212.7 L2151.1,3212.7 L2153.1,3212.8 L2155.0,3212.9 L2157.0,3212.9 L2159.0,3213.0 L2161.0,3213.0 L2163.0,3213.1 L2165.0,3213.2 L2167.0,3213.2 L2169.0,3213.3 L2171.0,3213.4 L2173.0,3213.4 L2175.0,3213.5 L2177.0,3213.5 L2179.0,3213.6 L2181.0,3213.7 L2183.0,3213.7 L2185.0,3213.8 L2187.0,3213.9 L2189.0,3213.9 L2191.0,3214.0 L2193.0,3214.0 L2195.0,3214.1 L2197.0,3214.2 L2199.0,3214.2 L2201.0,3214.3 L2203.0,3214.4 L2205.0,3214.4 L2207.0,3214.5 L2209.0,3214.5 L2211.0,3214.6 L2213.0,3214.7 L2215.0,3214.7 L2217.0,3214.8 L2219.0,3214.8 L2221.0,3214.9 L2223.0,3215.0 L2225.0,3215.0 L2227.0,3215.1 L2229.0,3215.2 L2231.0,3215.2 L2233.0,3215.3 L2235.0,3215.3 L2237.0,3215.4 L2239.0,3215.5 L2241.0,3215.5 L2242.0,3215.6" fill="none" stroke="#000" stroke-width="12.00" stroke-linecap="round" stroke-linejoin="round" clip-path="url(#cc)"/>
<path d="M486.0,2086.2 L488.0,2086.2 L490.0,2086.3 L492.0,2086.3 L494.0,2086.4 L496.0,2086.4 L498.0,2086.4 L500.0,2086.5 L502.0,2086.5 L504.0,2086.6 L506.0,2086.6 L508.0,2086.6 L510.0,2086.7 L512.0,2086.7 L514.0,2086.8 L516.0,2086.8 L518.0,2086.8 L520.0,2086.9 L522.0,2086.9 L524.0,2087.0 L526.0,2087.0 L528.0,2087.0 L530.0,2087.1 L532.0,2087.1 L534.0,2087.2 L536.0,2087.2 L538.0,2087.2 L540.0,2087.3 L542.0,2087.3 L544.0,2087.4 L546.0,2087.4 L548.0,2087.4 L550.0,2087.5 L552.0,2087.5 L554.0,2087.6 L556.0,2087.6 L558.0,2087.7 L560.0,2087.7 L562.0,2087.8 L564.0,2087.8 L566.0,2087.8 L568.0,2087.9 L570.0,2087.9 L572.0,2088.0 L574.0,2088.0 L576.0,2088.1 L578.0,2088.1 L580.0,2088.2 L582.0,2088.2 L584.0,2088.3 L586.0,2088.3 L588.0,2088.4 L590.0,2088.4 L592.0,2088.5 L594.0,2088.5 L596.0,2088.6 L598.0,2088.7 L600.0,2088.7 L602.0,2088.8 L604.0,2088.8 L606.0,2088.9 L608.0,2088.9 L610.0,2089.0 L612.0,2089.1 L614.0,2089.1 L616.0,2089.2 L618.0,2089.3 L620.0,2089.3 L622.0,2089.4 L624.0,2089.4 L626.0,2089.5 L628.0,2089.6 L630.0,2089.6 L632.0,2089.7 L634.0,2089.8 L636.0,2089.8 L638.0,2089.9 L639.9,2090.0 L641.9,2090.0 L643.9,2090.1 L645.9,2090.2 L647.9,2090.3 L649.9,2090.3 L651.9,2090.4 L653.9,2090.5 L655.9,2090.6 L657.9,2090.6 L659.9,2090.7 L661.9,2090.8 L663.9,2090.9 L665.9,2091.0 L667.9,2091.0 L669.9,2091.1 L671.9,2091.2 L673.9,2091.3 L675.9,2091.4 L677.9,2091.5 L679.9,2091.6 L681.9,2091.7 L683.9,2091.8 L685.9,2091.9 L687.9,2092.0 L689.9,2092.1 L691.9,2092.2 L693.9,2092.3 L695.9,2092.4 L697.9,2092.5 L699.9,2092.6 L701.9,2092.7 L703.9,2092.8 L705.9,2092.9 L707.9,2093.0 L709.9,2093.1 L711.9,2093.2 L713.9,2093.3 L715.9,2093.5 L717.9,2093.6 L719.9,2093.7 L721.9,2093.8 L723.9,2093.9 L725.8,2094.0 L727.8,2094.2 L729.8,2094.3 L731.8,2094.4 L733.8,2094.5 L735.8,2094.6 L737.8,2094.8 L739.8,2094.9 L741.8,2095.0 L743.8,2095.2 L745.8,2095.3 L747.8,2095.4 L749.8,2095.6 L751.8,2095.7 L753.8,2095.8 L755.8,2096.0 L757.8,2096.1 L759.8,2096.3 L761.8,2096.4 L763.8,2096.5 L765.8,2096.7 L767.8,2096.8 L769.7,2097.0 L771.7,2097.2 L773.7,2097.3 L775.7,2097.5 L777.7,2097.6 L779.7,2097.8 L781.7,2098.0 L783.7,2098.1 L785.7,2098.3 L787.7,2098.5 L789.7,2098.7 L791.7,2098.9 L793.7,2099.1 L795.6,2099.3 L797.6,2099.4 L799.6,2099.7 L801.6,2099.9 L803.6,2100.1 L805.6,2100.3 L807.6,2100.5 L809.6,2100.7 L811.5,2101.0 L813.5,2101.2 L815.5,2101.4 L817.5,2101.7 L819.5,2101.9 L821.5,2102.2 L823.4,2102.4 L825.4,2102.6 L827.4,2102.9 L829.4,2103.1 L831.4,2103.4 L833.4,2103.6 L835.3,2103.8 L837.3,2104.1 L839.3,2104.3 L841.3,2104.5 L843.3,2104.8 L845.3,2105.0 L847.3,2105.2 L849.2,2105.5 L851.2,2105.7 L853.2,2105.9 L855.2,2106.2 L857.2,2106.4 L859.2,2106.6 L861.2,2106.9 L863.1,2107.1 L865.1,2107.4 L867.1,2107.6 L869.1,2107.8 L871.1,2108.1 L873.1,2108.3 L875.0,2108.5 L877.0,2108.8 L879.0,2109.0 L881.0,2109.3 L883.0,2109.5 L885.0,2109.7 L887.0,2110.0 L888.9,2110.2 L890.9,2110.4 L892.9,2110.7 L894.9,2110.9 L896.9,2111.1 L898.9,2111.3 L900.9,2111.5 L902.9,2111.7 L904.8,2111.9 L906.8,2112.1 L908.8,2112.3 L910.8,2112.5 L912.8,2112.7 L914.8,2112.9 L916.8,2113.1 L918.8,2113.3 L920.8,2113.5 L922.7,2113.7 L924.7,2113.9 L926.7,2114.2 L928.7,2114.4 L930.7,2114.7 L932.6,2115.0 L934.6,2115.3 L936.6,2115.6 L938.5,2115.9 L940.5,2116.3 L942.4,2116.7 L944.3,2117.1 L946.3,2117.6 L948.2,2118.0 L950.1,2118.6 L952.1,2119.1 L954.0,2119.7 L955.9,2120.3 L957.9,2121.0 L959.9,2121.7 L961.8,2122.4 L963.7,2123.2 L965.7,2124.0 L967.6,2124.9 L969.5,2125.8 L971.3,2126.7 L973.0,2127.6 L974.9,2128.6 L976.6,2129.6 L978.4,2130.5 L980.1,2131.5 L981.8,2132.6 L983.6,2133.7 L985.3,2134.8 L986.9,2135.8 L988.6,2137.0 L990.2,2138.1 L991.8,2139.3 L993.4,2140.4 L995.0,2141.6 L996.7,2143.0 L998.2,2144.2 L999.8,2145.5 L1001.3,2146.8 L1002.8,2148.1 L1004.3,2149.4 L1005.8,2150.7 L1007.3,2152.1 L1008.8,2153.5 L1010.3,2154.9 L1011.7,2156.3 L1013.1,2157.7 L1014.5,2159.1 L1015.9,2160.6 L1017.3,2162.0 L1018.7,2163.4 L1020.1,2164.9 L1021.4,2166.3 L1022.8,2167.8 L1024.1,2169.3 L1025.5,2170.8 L1026.8,2172.3 L1028.1,2173.8 L1029.4,2175.3 L1030.7,2176.8 L1031.9,2178.4 L1033.2,2180.0 L1034.5,2181.6 L1035.7,2183.2 L1036.9,2184.8 L1038.0,2186.4 L1039.2,2188.1 L1040.3,2189.7 L1041.4,2191.4 L1042.5,2193.2 L1043.6,2194.9 L1044.6,2196.6 L1045.6,2198.3 L1046.6,2200.0 L1047.5,2201.8 L1048.5,2203.5 L1049.4,2205.3 L1050.3,2207.1 L1051.1,2208.9 L1052.0,2210.7 L1052.8,2212.5 L1053.6,2214.3 L1054.4,2216.1 L1055.2,2218.0 L1056.0,2219.8 L1056.7,2221.7 L1057.5,2223.7 L1058.2,2225.5 L1059.0,2227.4 L1059.6,2229.3 L1060.3,2231.2 L1061.0,2233.0 L1061.7,2234.9 L1062.3,2236.8 L1062.9,2238.7 L1063.6,2240.6 L1064.2,2242.5 L1064.8,2244.4 L1065.4,2246.3 L1066.0,2248.2 L1066.6,2250.1 L1067.1,2252.0 L1067.7,2254.0 L1068.3,2255.9 L1068.8,2257.8 L1069.4,2259.7 L1069.9,2261.6 L1070.5,2263.6 L1071.1,2265.6 L1071.6,2267.6 L1072.1,2269.5 L1072.7,2271.4 L1073.2,2273.3 L1073.7,2275.3 L1074.2,2277.2 L1074.7,2279.1 L1075.3,2281.1 L1075.8,2283.0 L1076.3,2284.9 L1076.8,2286.9 L1077.2,2288.8 L1077.7,2290.8 L1078.2,2292.7 L1078.7,2294.6 L1079.2,2296.6 L1079.6,2298.5 L1080.1,2300.5 L1080.6,2302.4 L1081.0,2304.4 L1081.5,2306.3 L1081.9,2308.3 L1082.4,2310.2 L1082.8,2312.2 L1083.2,2314.1 L1083.7,2316.1 L1084.1,2318.0 L1084.5,2320.1 L1084.9,2322.1 L1085.3,2324.0 L1085.7,2326.0 L1086.2,2328.0 L1086.5,2329.9 L1086.9,2331.9 L1087.3,2333.8 L1087.7,2335.8 L1088.1,2337.8 L1088.5,2339.7 L1088.9,2341.7 L1089.3,2343.6 L1089.7,2345.6 L1090.1,2347.6 L1090.5,2349.5 L1090.9,2351.5 L1091.3,2353.4 L1091.7,2355.4 L1092.0,2357.4 L1092.4,2359.3 L1092.8,2361.3 L1093.2,2363.2 L1093.6,2365.2 L1094.0,2367.2 L1094.4,2369.1 L1094.8,2371.1 L1095.2,2373.1 L1095.5,2375.0 L1095.9,2377.0 L1096.3,2378.9 L1096.7,2380.9 L1097.1,2382.9 L1097.4,2384.8 L1097.8,2386.8 L1098.2,2388.8 L1098.5,2390.7 L1098.9,2392.7 L1099.3,2394.7 L1099.6,2396.6 L1100.0,2398.6 L1100.3,2400.6 L1100.7,2402.5 L1101.0,2404.5 L1101.4,2406.5 L1101.8,2408.4 L1102.1,2410.4 L1102.5,2412.4 L1102.8,2414.3 L1103.2,2416.3 L1103.5,2418.3 L1103.9,2420.3 L1104.2,2422.2 L1104.6,2424.2 L1104.9,2426.2 L1105.3,2428.1 L1105.6,2430.1 L1106.0,2432.1 L1106.3,2434.0 L1106.7,2436.0 L1107.0,2438.0 L1107.4,2439.9 L1107.7,2441.9 L1108.1,2443.9 L1108.4,2445.9 L1108.7,2447.8 L1109.1,2449.8 L1109.4,2451.8 L1109.8,2453.7 L1110.1,2455.7 L1110.4,2457.7 L1110.8,2459.7 L1111.1,2461.6 L1111.5,2463.6 L1111.8,2465.7 L1112.2,2467.7 L1112.5,2469.7 L1112.8,2471.6 L1113.2,2473.6 L1113.5,2475.6 L1113.8,2477.5 L1114.2,2479.5 L1114.5,2481.5 L1114.8,2483.5 L1115.1,2485.4 L1115.5,2487.4 L1115.8,2489.4 L1116.1,2491.4 L1116.5,2493.3 L1116.8,2495.3 L1117.1,2497.3 L1117.4,2499.2 L1117.7,2501.2 L1118.1,2503.2 L1118.4,2505.2 L1118.7,2507.1 L1119.0,2509.1 L1119.3,2511.1 L1119.7,2513.1 L1120.0,2515.0 L1120.3,2517.0 L1120.6,2519.0 L1120.9,2521.0 L1121.2,2522.9 L1121.5,2524.9 L1121.8,2526.9 L1122.1,2528.9 L1122.4,2530.9 L1122.7,2532.8 L1123.0,2534.8 L1123.3,2536.8 L1123.6,2538.8 L1123.9,2540.7 L1124.2,2542.7 L1124.5,2544.7 L1124.7,2546.7 L1125.0,2548.7 L1125.3,2550.6 L1125.6,2552.6 L1125.8,2554.6 L1126.1,2556.6 L1126.4,2558.6 L1126.6,2560.6 L1126.9,2562.5 L1127.1,2564.5 L1127.4,2566.5 L1127.6,2568.5 L1127.9,2570.5 L1128.1,2572.5 L1128.3,2574.4 L1128.6,2576.4 L1128.8,2578.4 L1129.0,2580.4 L1129.3,2582.4 L1129.5,2584.4 L1129.7,2586.4 L1129.9,2588.4 L1130.2,2590.3 L1130.4,2592.3 L1130.6,2594.3 L1130.8,2596.3 L1131.0,2598.3 L1131.3,2600.3 L1131.5,2602.3 L1131.7,2604.3 L1131.9,2606.2 L1132.1,2608.2 L1132.3,2610.2 L1132.6,2612.2 L1132.8,2614.2 L1133.0,2616.2 L1133.2,2618.2 L1133.4,2620.2 L1133.6,2622.2 L1133.9,2624.1 L1134.1,2626.1 L1134.3,2628.1 L1134.5,2630.1 L1134.7,2632.1 L1134.9,2634.1 L1135.2,2636.1 L1135.4,2638.1 L1135.6,2640.0 L1135.8,2642.0 L1136.0,2644.0 L1136.3,2646.0 L1136.5,2648.0 L1136.7,2650.0 L1136.9,2652.0 L1137.1,2654.0 L1137.3,2656.1 L1137.6,2658.1 L1137.8,2660.1 L1138.0,2662.1 L1138.2,2664.1 L1138.4,2666.0 L1138.6,2668.0 L1138.8,2670.0 L1139.0,2672.0 L1139.3,2674.0 L1139.5,2676.0 L1139.7,2678.0 L1139.9,2680.0 L1140.1,2682.0 L1140.3,2683.9 L1140.6,2685.9 L1140.8,2687.9 L1141.0,2689.9 L1141.2,2691.9 L1141.5,2693.9 L1141.7,2695.9 L1141.9,2697.8 L1142.2,2699.8 L1142.4,2701.8 L1142.7,2703.8 L1142.9,2705.6 L1143.1,2707.6 L1143.4,2709.6 L1143.6,2711.6 L1143.9,2713.6 L1144.2,2715.6 L1144.4,2717.5 L1144.7,2719.5 L1145.0,2721.5 L1145.2,2723.5 L1145.5,2725.5 L1145.8,2727.4 L1146.1,2729.4 L1146.3,2731.4 L1146.6,2733.4 L1146.9,2735.4 L1147.2,2737.3 L1147.5,2739.3 L1147.8,2741.3 L1148.1,2743.3 L1148.4,2745.3 L1148.7,2747.2 L1149.0,2749.2 L1149.3,2751.2 L1149.6,2753.2 L1149.9,2755.1 L1150.2,2757.1 L1150.6,2759.1 L1150.9,2761.1 L1151.2,2763.0 L1151.5,2765.0 L1151.8,2767.0 L1152.2,2769.0 L1152.5,2770.9 L1152.8,2772.9 L1153.1,2774.9 L1153.4,2776.7 L1153.8,2778.7 L1154.1,2780.6 L1154.4,2782.6 L1154.8,2784.6 L1155.1,2786.6 L1155.4,2788.5 L1155.7,2790.5 L1156.1,2792.5 L1156.4,2794.5 L1156.8,2796.4 L1157.1,2798.4 L1157.4,2800.4 L1157.8,2802.3 L1158.1,2804.3 L1158.5,2806.4 L1158.8,2808.4 L1159.1,2810.4 L1159.5,2812.3 L1159.8,2814.3 L1160.1,2816.3 L1160.5,2818.3 L1160.8,2820.2 L1161.2,2822.2 L1161.5,2824.2 L1161.8,2826.1 L1162.2,2828.1 L1162.5,2830.1 L1162.9,2832.1 L1163.2,2834.0 L1163.6,2836.0 L1163.9,2838.0 L1164.2,2839.9 L1164.6,2841.9 L1164.9,2843.9 L1165.3,2845.8 L1165.6,2847.8 L1166.0,2849.8 L1166.3,2851.8 L1166.7,2853.7 L1167.1,2855.7 L1167.4,2857.7 L1167.8,2859.6 L1168.1,2861.4 L1168.5,2863.4 L1168.8,2865.4 L1169.2,2867.3 L1169.6,2869.3 L1169.9,2871.3 L1170.3,2873.2 L1170.7,2875.2 L1171.1,2877.2 L1171.5,2879.1 L1171.9,2881.1 L1172.3,2883.0 L1172.7,2885.0 L1173.1,2887.0 L1173.5,2888.9 L1173.9,2890.9 L1174.3,2892.8 L1174.8,2894.8 L1175.2,2896.6 L1175.6,2898.5 L1176.1,2900.5 L1176.6,2902.4 L1177.1,2904.3 L1177.6,2906.3 L1178.1,2908.2 L1178.6,2910.1 L1179.2,2912.0 L1179.8,2913.9 L1180.4,2915.8 L1181.0,2917.7 L1181.6,2919.6 L1182.3,2921.4 L1182.9,2923.2 L1183.6,2925.1 L1184.4,2926.9 L1185.1,2928.8 L1185.9,2930.6 L1186.7,2932.4 L1187.6,2934.2 L1188.4,2936.0 L1189.2,2937.7 L1190.1,2939.4 L1191.1,2941.2 L1192.0,2942.9 L1193.0,2944.7 L1194.0,2946.4 L1195.0,2948.1 L1196.0,2949.7 L1197.0,2951.4 L1198.0,2953.0 L1199.1,2954.7 L1200.2,2956.4 L1201.3,2958.1 L1202.3,2959.8 L1203.4,2961.3 L1204.5,2963.0 L1205.5,2964.6 L1206.6,2966.3 L1207.7,2968.0 L1208.8,2969.6 L1209.9,2971.3 L1211.0,2973.0 L1212.0,2974.5 L1213.1,2976.2 L1214.2,2977.9 L1215.3,2979.5 L1216.4,2981.2 L1217.5,2982.9 L1218.5,2984.6 L1219.5,2986.1 L1220.6,2987.8 L1221.6,2989.5 L1222.7,2991.2 L1223.8,2992.9 L1224.7,2994.5 L1225.8,2996.1 L1226.8,2997.8 L1227.9,2999.5 L1228.8,3001.1 L1229.9,3002.7 L1231.0,3004.4 L1232.1,3006.0 L1233.1,3007.6 L1234.2,3009.2 L1235.4,3010.8 L1236.5,3012.4 L1237.6,3013.9 L1238.8,3015.4 L1240.0,3017.0 L1241.3,3018.5 L1242.5,3020.1 L1243.8,3021.6 L1245.1,3023.1 L1246.4,3024.6 L1247.9,3026.2 L1249.2,3027.7 L1250.5,3029.1 L1251.9,3030.6 L1253.2,3032.1 L1254.6,3033.5 L1256.1,3035.1 L1257.4,3036.5 L1258.8,3038.0 L1260.2,3039.4 L1261.6,3040.9 L1263.0,3042.3 L1264.3,3043.8 L1265.7,3045.2 L1267.1,3046.6 L1268.5,3048.1 L1269.9,3049.5 L1271.3,3050.9 L1272.7,3052.3 L1274.1,3053.8 L1275.6,3055.2 L1277.0,3056.6 L1278.4,3058.0 L1279.8,3059.4 L1281.2,3060.8 L1282.7,3062.2 L1284.1,3063.6 L1285.5,3065.0 L1287.0,3066.4 L1288.4,3067.8 L1289.9,3069.1 L1291.3,3070.5 L1292.8,3071.9 L1294.2,3073.3 L1295.7,3074.6 L1297.1,3076.0 L1298.6,3077.4 L1300.1,3078.7 L1301.5,3080.1 L1303.0,3081.5 L1304.5,3082.8 L1305.9,3084.2 L1307.5,3085.6 L1309.0,3087.0 L1310.5,3088.3 L1312.0,3089.6 L1313.4,3091.0 L1314.9,3092.3 L1316.4,3093.7 L1317.9,3095.0 L1319.4,3096.3 L1320.9,3097.7 L1322.4,3099.0 L1323.9,3100.3 L1325.4,3101.6 L1326.9,3102.9 L1328.4,3104.3 L1329.9,3105.6 L1331.4,3106.9 L1332.9,3108.2 L1334.4,3109.5 L1336.0,3110.8 L1337.5,3112.1 L1339.0,3113.3 L1340.5,3114.6 L1342.1,3115.9 L1343.6,3117.2 L1345.2,3118.4 L1346.7,3119.7 L1348.1,3120.9 L1349.7,3122.1 L1351.3,3123.3 L1352.8,3124.6 L1354.4,3125.8 L1356.0,3127.0 L1357.5,3128.2 L1359.0,3129.4 L1360.6,3130.6 L1362.2,3131.7 L1363.7,3132.8 L1365.4,3134.0 L1367.0,3135.1 L1368.5,3136.2 L1370.2,3137.3 L1371.8,3138.4 L1373.5,3139.5 L1375.1,3140.4 L1376.8,3141.5 L1378.5,3142.5 L1380.1,3143.4 L1381.8,3144.3 L1383.6,3145.3 L1385.2,3146.1 L1387.0,3147.0 L1388.8,3147.8 L1390.4,3148.6 L1392.3,3149.4 L1394.1,3150.1 L1395.8,3150.8 L1397.7,3151.5 L1399.5,3152.2 L1401.4,3152.8 L1403.3,3153.5 L1405.2,3154.1 L1407.0,3154.6 L1408.9,3155.2 L1410.8,3155.7 L1412.7,3156.3 L1414.6,3156.8 L1416.6,3157.3 L1418.5,3157.8 L1420.5,3158.2 L1422.4,3158.7 L1424.3,3159.1 L1426.3,3159.6 L1428.2,3160.0 L1430.2,3160.5 L1432.1,3160.9 L1434.1,3161.3 L1436.1,3161.7 L1438.0,3162.1 L1440.0,3162.5 L1441.9,3162.9 L1443.9,3163.3 L1445.9,3163.7 L1447.8,3164.1 L1449.8,3164.5 L1451.7,3164.9 L1453.7,3165.3 L1455.7,3165.7 L1457.6,3166.1 L1459.6,3166.4 L1461.5,3166.8 L1463.5,3167.2 L1465.5,3167.5 L1467.4,3167.9 L1469.4,3168.3 L1471.4,3168.6 L1473.4,3169.0 L1475.2,3169.3 L1477.1,3169.6 L1479.1,3170.0 L1481.1,3170.3 L1483.1,3170.6 L1485.0,3171.0 L1487.0,3171.3 L1489.0,3171.6 L1490.9,3171.9 L1492.9,3172.3 L1494.9,3172.6 L1496.9,3172.9 L1498.8,3173.2 L1500.8,3173.5 L1502.8,3173.8 L1504.8,3174.1 L1506.8,3174.4 L1508.7,3174.8 L1510.7,3175.1 L1512.7,3175.4 L1514.7,3175.7 L1516.6,3176.0 L1518.6,3176.3 L1520.6,3176.6 L1522.6,3176.9 L1524.4,3177.1 L1526.4,3177.4 L1528.4,3177.7 L1530.3,3178.0 L1532.3,3178.2 L1534.3,3178.5 L1536.3,3178.8 L1538.3,3179.0 L1540.2,3179.3 L1542.2,3179.5 L1544.2,3179.8 L1546.2,3180.0 L1548.2,3180.2 L1550.2,3180.4 L1552.2,3180.7 L1554.2,3180.9 L1556.1,3181.1 L1558.1,3181.3 L1560.1,3181.5 L1562.1,3181.7 L1564.1,3181.9 L1566.1,3182.1 L1568.1,3182.2 L1570.1,3182.4 L1572.1,3182.6 L1574.1,3182.8 L1576.1,3182.9 L1578.0,3183.1 L1580.0,3183.3 L1582.0,3183.4 L1584.0,3183.6 L1586.0,3183.8 L1588.0,3183.9 L1589.9,3184.1 L1591.9,3184.2 L1593.8,3184.4 L1595.8,3184.5 L1597.8,3184.7 L1599.8,3184.8 L1601.8,3185.0 L1603.8,3185.1 L1605.8,3185.3 L1607.8,3185.4 L1609.8,3185.6 L1611.8,3185.7 L1613.8,3185.9 L1615.8,3186.0 L1617.8,3186.1 L1619.8,3186.3 L1621.8,3186.4 L1623.8,3186.6 L1625.8,3186.7 L1627.8,3186.8 L1629.8,3187.0 L1631.7,3187.1 L1633.7,3187.2 L1635.7,3187.4 L1637.7,3187.5 L1639.7,3187.6 L1641.7,3187.8 L1643.7,3187.9 L1645.7,3188.0 L1647.7,3188.2 L1649.7,3188.3 L1651.7,3188.4 L1653.7,3188.6 L1655.7,3188.7 L1657.7,3188.8 L1659.7,3189.0 L1661.7,3189.1 L1663.7,3189.2 L1665.7,3189.3 L1667.7,3189.5 L1669.7,3189.6 L1671.7,3189.7 L1673.7,3189.8 L1675.7,3190.0 L1677.7,3190.1 L1679.6,3190.2 L1681.6,3190.3 L1683.6,3190.5 L1685.6,3190.6 L1687.6,3190.7 L1689.6,3190.8 L1691.6,3191.0 L1693.6,3191.1 L1695.6,3191.2 L1697.6,3191.3 L1699.6,3191.4 L1701.6,3191.6 L1703.6,3191.7 L1705.6,3191.8 L1707.6,3191.9 L1709.6,3192.0 L1711.6,3192.1 L1713.6,3192.3 L1715.6,3192.4 L1717.6,3192.5 L1719.6,3192.6 L1721.6,3192.7 L1723.6,3192.8 L1725.6,3192.9 L1727.6,3193.1 L1729.6,3193.2 L1731.6,3193.3 L1733.6,3193.4 L1735.5,3193.5 L1737.5,3193.6 L1739.5,3193.7 L1741.5,3193.8 L1743.5,3194.0 L1745.5,3194.1 L1747.5,3194.2 L1749.5,3194.3 L1751.5,3194.4 L1753.5,3194.5 L1755.5,3194.6 L1757.5,3194.7 L1759.5,3194.8 L1761.5,3194.9 L1763.5,3195.0 L1765.5,3195.1 L1767.5,3195.3 L1769.5,3195.4 L1771.5,3195.5 L1773.5,3195.6 L1775.5,3195.7 L1777.5,3195.8 L1779.5,3195.9 L1781.5,3196.0 L1783.5,3196.1 L1785.5,3196.2 L1787.5,3196.3 L1789.5,3196.4 L1791.5,3196.5 L1793.5,3196.6 L1795.5,3196.7 L1797.5,3196.8 L1799.5,3196.9 L1801.5,3197.0 L1803.5,3197.1 L1805.5,3197.2 L1807.5,3197.3 L1809.4,3197.4 L1811.4,3197.4 L1813.4,3197.5 L1815.4,3197.6 L1817.4,3197.7 L1819.4,3197.8 L1821.4,3197.9 L1823.4,3198.0 L1825.4,3198.1 L1827.4,3198.2 L1829.4,3198.3 L1831.4,3198.4 L1833.4,3198.4 L1835.4,3198.5 L1837.4,3198.6 L1839.4,3198.7 L1841.4,3198.8 L1843.4,3198.9 L1845.4,3199.0 L1847.4,3199.1 L1849.4,3199.1 L1851.4,3199.2 L1853.4,3199.3 L1855.4,3199.4 L1857.4,3199.5 L1859.4,3199.6 L1861.4,3199.7 L1863.4,3199.7 L1865.4,3199.8 L1867.4,3199.9 L1869.4,3200.0 L1871.4,3200.1 L1873.4,3200.2 L1875.4,3200.2 L1877.4,3200.3 L1879.4,3200.4 L1881.4,3200.5 L1883.4,3200.6 L1885.4,3200.6 L1887.4,3200.7 L1889.4,3200.8 L1891.4,3200.9 L1893.4,3201.0 L1895.4,3201.0 L1897.4,3201.1 L1899.4,3201.2 L1901.4,3201.3 L1903.4,3201.3 L1905.4,3201.4 L1907.4,3201.5 L1909.4,3201.6 L1911.4,3201.7 L1913.4,3201.7 L1915.4,3201.8 L1917.4,3201.9 L1919.4,3202.0 L1921.3,3202.0 L1923.3,3202.1 L1925.3,3202.2 L1927.3,3202.3 L1929.3,3202.3 L1931.3,3202.4 L1933.3,3202.5 L1935.3,3202.6 L1937.3,3202.6 L1939.3,3202.7 L1941.3,3202.8 L1943.3,3202.9 L1945.3,3202.9 L1947.3,3203.0 L1949.3,3203.1 L1951.3,3203.2 L1953.3,3203.2 L1955.3,3203.3 L1957.3,3203.4 L1959.3,3203.5 L1961.3,3203.5 L1963.3,3203.6 L1965.3,3203.7 L1967.3,3203.8 L1969.3,3203.8 L1971.3,3203.9 L1973.3,3204.0 L1975.3,3204.0 L1977.3,3204.1 L1979.3,3204.2 L1981.3,3204.3 L1983.3,3204.3 L1985.3,3204.4 L1987.3,3204.5 L1989.3,3204.6 L1991.3,3204.6 L1993.3,3204.7 L1995.3,3204.8 L1997.3,3204.8 L1999.3,3204.9 L2001.3,3205.0 L2003.3,3205.1 L2005.3,3205.1 L2007.3,3205.2 L2009.3,3205.3 L2011.3,3205.3 L2013.3,3205.4 L2015.3,3205.5 L2017.3,3205.6 L2019.3,3205.6 L2021.3,3205.7 L2023.3,3205.8 L2025.3,3205.8 L2027.3,3205.9 L2029.3,3206.0 L2031.3,3206.1 L2033.3,3206.1 L2035.3,3206.2 L2037.1,3206.3 L2039.1,3206.3 L2041.1,3206.4 L2043.1,3206.5 L2045.1,3206.6 L2047.1,3206.6 L2049.1,3206.7 L2051.1,3206.8 L2053.1,3206.8 L2055.1,3206.9 L2057.1,3207.0 L2059.1,3207.0 L2061.1,3207.1 L2063.1,3207.2 L2065.1,3207.2 L2067.1,3207.3 L2069.1,3207.4 L2071.1,3207.4 L2073.1,3207.5 L2075.1,3207.6 L2077.1,3207.6 L2079.1,3207.7 L2081.1,3207.8 L2083.1,3207.8 L2085.1,3207.9 L2087.1,3208.0 L2089.1,3208.0 L2091.1,3208.1 L2093.1,3208.2 L2095.1,3208.2 L2097.1,3208.3 L2099.1,3208.4 L2101.1,3208.4 L2103.1,3208.5 L2105.1,3208.6 L2107.1,3208.6 L2109.1,3208.7 L2111.1,3208.7 L2113.1,3208.8 L2115.1,3208.9 L2117.1,3208.9 L2119.1,3209.0 L2121.1,3209.1 L2123.1,3209.1 L2125.1,3209.2 L2127.1,3209.2 L2129.1,3209.3 L2131.1,3209.4 L2133.1,3209.4 L2135.1,3209.5 L2137.1,3209.5 L2139.1,3209.6 L2141.1,3209.7 L2143.1,3209.7 L2145.1,3209.8 L2147.1,3209.8 L2149.1,3209.9 L2151.1,3210.0 L2153.1,3210.0 L2155.1,3210.1 L2157.1,3210.2 L2159.1,3210.2 L2161.1,3210.3 L2163.1,3210.3 L2165.1,3210.4 L2167.1,3210.4 L2169.1,3210.5 L2171.1,3210.6 L2173.1,3210.6 L2175.1,3210.7 L2177.1,3210.7 L2179.0,3210.8 L2181.0,3210.9 L2183.0,3210.9 L2185.0,3211.0 L2187.0,3211.0 L2189.0,3211.1 L2191.0,3211.2 L2193.0,3211.2 L2195.0,3211.3 L2197.0,3211.3 L2199.0,3211.4 L2201.0,3211.4 L2203.0,3211.5 L2205.0,3211.6 L2207.0,3211.6 L2209.0,3211.7 L2211.0,3211.7 L2213.0,3211.8 L2215.0,3211.9 L2217.0,3211.9 L2219.0,3212.0 L2221.0,3212.0 L2223.0,3212.1 L2225.0,3212.2 L2227.0,3212.2 L2229.0,3212.3 L2231.0,3212.3 L2233.0,3212.4 L2235.0,3212.5 L2237.0,3212.5 L2239.0,3212.6 L2241.0,3212.6 L2242.0,3212.7" fill="none" stroke="#000" stroke-width="12.00" stroke-linecap="round" stroke-linejoin="round" clip-path="url(#cc)"/>
<path d="M486.0,2086.2 L488.0,2086.2 L490.0,2086.3 L492.0,2086.3 L494.0,2086.3 L496.0,2086.4 L498.0,2086.4 L500.0,2086.4 L502.0,2086.5 L504.0,2086.5 L506.0,2086.5 L508.0,2086.6 L510.0,2086.6 L512.0,2086.6 L514.0,2086.7 L516.0,2086.7 L518.0,2086.7 L520.0,2086.8 L522.0,2086.8 L524.0,2086.8 L526.0,2086.9 L528.0,2086.9 L530.0,2086.9 L532.0,2087.0 L534.0,2087.0 L536.0,2087.0 L538.0,2087.1 L540.0,2087.1 L542.0,2087.1 L544.0,2087.2 L546.0,2087.2 L548.0,2087.3 L550.0,2087.3 L552.0,2087.3 L554.0,2087.4 L556.0,2087.4 L558.0,2087.4 L560.0,2087.5 L562.0,2087.5 L564.0,2087.6 L566.0,2087.6 L568.0,2087.6 L570.0,2087.7 L572.0,2087.7 L574.0,2087.8 L576.0,2087.8 L578.0,2087.8 L580.0,2087.9 L582.0,2087.9 L584.0,2088.0 L586.0,2088.0 L588.0,2088.1 L590.0,2088.1 L592.0,2088.2 L594.0,2088.2 L596.0,2088.3 L598.0,2088.3 L600.0,2088.4 L602.0,2088.4 L604.0,2088.5 L606.0,2088.5 L608.0,2088.6 L610.0,2088.6 L612.0,2088.7 L614.0,2088.8 L616.0,2088.8 L618.0,2088.9 L620.0,2088.9 L622.0,2089.0 L624.0,2089.1 L626.0,2089.1 L628.0,2089.2 L630.0,2089.2 L632.0,2089.3 L634.0,2089.4 L636.0,2089.4 L638.0,2089.5 L640.0,2089.6 L642.0,2089.6 L644.0,2089.7 L646.0,2089.8 L648.0,2089.8 L650.0,2089.9 L651.9,2090.0 L653.9,2090.0 L655.9,2090.1 L657.9,2090.2 L659.9,2090.3 L661.9,2090.3 L663.9,2090.4 L665.9,2090.5 L667.9,2090.6 L669.9,2090.7 L671.9,2090.7 L673.9,2090.8 L675.9,2090.9 L677.9,2091.0 L679.9,2091.1 L681.9,2091.2 L683.9,2091.3 L685.9,2091.4 L687.9,2091.5 L689.9,2091.6 L691.9,2091.7 L693.9,2091.8 L695.9,2091.9 L697.9,2092.0 L699.9,2092.1 L701.9,2092.2 L703.9,2092.3 L705.9,2092.4 L707.9,2092.5 L709.9,2092.6 L711.9,2092.7 L713.9,2092.8 L715.9,2092.9 L717.9,2093.1 L719.9,2093.2 L721.9,2093.3 L723.9,2093.4 L725.9,2093.5 L727.9,2093.7 L729.9,2093.8 L731.8,2093.9 L733.8,2094.0 L735.8,2094.1 L737.8,2094.3 L739.8,2094.4 L741.8,2094.5 L743.8,2094.7 L745.8,2094.8 L747.8,2094.9 L749.8,2095.1 L751.8,2095.2 L753.8,2095.3 L755.8,2095.5 L757.8,2095.6 L759.8,2095.8 L761.8,2095.9 L763.8,2096.1 L765.8,2096.2 L767.8,2096.4 L769.8,2096.5 L771.8,2096.7 L773.7,2096.8 L775.7,2097.0 L777.7,2097.1 L779.7,2097.3 L781.7,2097.5 L783.7,2097.7 L785.7,2097.8 L787.7,2098.0 L789.7,2098.2 L791.7,2098.4 L793.7,2098.6 L795.7,2098.8 L797.6,2099.0 L799.6,2099.2 L801.6,2099.4 L803.6,2099.6 L805.6,2099.9 L807.6,2100.1 L809.5,2100.4 L811.5,2100.6 L813.5,2100.9 L815.5,2101.1 L817.5,2101.4 L819.4,2101.6 L821.4,2101.9 L823.4,2102.1 L825.4,2102.4 L827.4,2102.6 L829.3,2102.8 L831.3,2103.1 L833.3,2103.3 L835.3,2103.5 L837.3,2103.7 L839.3,2104.0 L841.3,2104.2 L843.2,2104.4 L845.2,2104.6 L847.2,2104.8 L849.2,2105.0 L851.2,2105.2 L853.2,2105.4 L855.2,2105.6 L857.2,2105.8 L859.1,2106.0 L861.1,2106.2 L863.1,2106.4 L865.1,2106.6 L867.1,2106.8 L869.1,2107.0 L871.1,2107.3 L873.1,2107.5 L875.0,2107.7 L877.0,2107.9 L879.0,2108.1 L881.0,2108.3 L883.0,2108.5 L885.0,2108.8 L887.0,2109.0 L889.0,2109.2 L890.9,2109.4 L892.9,2109.6 L894.9,2109.8 L896.9,2110.0 L898.9,2110.2 L900.9,2110.4 L902.9,2110.6 L904.9,2110.8 L906.9,2111.0 L908.8,2111.2 L910.8,2111.4 L912.8,2111.6 L914.8,2111.8 L916.8,2111.9 L918.8,2112.1 L920.8,2112.3 L922.8,2112.5 L924.8,2112.7 L926.7,2112.9 L928.7,2113.1 L930.7,2113.3 L932.7,2113.6 L934.6,2113.8 L936.6,2114.1 L938.6,2114.4 L940.5,2114.7 L942.5,2115.0 L944.4,2115.4 L946.4,2115.8 L948.3,2116.2 L950.2,2116.6 L952.4,2117.2 L954.3,2117.7 L956.2,2118.2 L958.4,2118.9 L960.5,2119.6 L962.4,2120.3 L964.5,2121.1 L966.6,2122.0 L968.6,2122.9 L970.6,2123.9 L972.4,2124.8 L974.1,2125.7 L976.1,2126.8 L977.8,2127.8 L979.5,2128.8 L981.2,2129.8 L982.9,2130.9 L984.8,2132.1 L986.5,2133.2 L988.1,2134.3 L989.8,2135.4 L991.4,2136.6 L993.0,2137.8 L994.6,2138.9 L996.2,2140.2 L998.0,2141.6 L999.5,2142.9 L1001.0,2144.1 L1002.5,2145.4 L1004.0,2146.8 L1005.5,2148.1 L1007.0,2149.4 L1008.4,2150.8 L1010.1,2152.4 L1011.5,2153.8 L1012.9,2155.2 L1014.4,2156.6 L1015.8,2158.1 L1017.1,2159.5 L1018.5,2160.9 L1019.9,2162.4 L1021.3,2163.8 L1022.6,2165.3 L1024.0,2166.8 L1025.3,2168.3 L1026.6,2169.7 L1028.0,2171.2 L1029.3,2172.8 L1030.5,2174.3 L1031.8,2175.8 L1033.1,2177.4 L1034.5,2179.2 L1035.7,2180.8 L1036.9,2182.4 L1038.1,2184.0 L1039.2,2185.6 L1040.4,2187.2 L1041.5,2188.9 L1042.6,2190.5 L1043.8,2192.5 L1044.9,2194.2 L1045.9,2195.9 L1046.9,2197.6 L1047.9,2199.4 L1048.8,2201.1 L1049.7,2202.9 L1050.7,2204.6 L1051.6,2206.4 L1052.4,2208.2 L1053.3,2210.0 L1054.1,2211.8 L1055.0,2213.6 L1055.8,2215.4 L1056.6,2217.3 L1057.3,2219.1 L1058.1,2221.0 L1059.0,2223.1 L1059.7,2225.0 L1060.5,2226.8 L1061.2,2228.7 L1061.9,2230.6 L1062.6,2232.4 L1063.2,2234.3 L1063.9,2236.2 L1064.6,2238.1 L1065.2,2240.0 L1065.9,2241.9 L1066.5,2243.8 L1067.1,2245.7 L1067.7,2247.6 L1068.3,2249.5 L1068.9,2251.4 L1069.5,2253.3 L1070.1,2255.2 L1070.7,2257.1 L1071.3,2259.0 L1071.8,2260.9 L1072.4,2262.8 L1073.1,2265.1 L1073.6,2267.0 L1074.2,2268.9 L1074.7,2270.8 L1075.2,2272.8 L1075.8,2274.7 L1076.3,2276.6 L1076.8,2278.5 L1077.4,2280.5 L1077.9,2282.4 L1078.4,2284.3 L1078.9,2286.3 L1079.4,2288.2 L1079.9,2290.1 L1080.4,2292.1 L1080.9,2294.0 L1081.4,2295.9 L1081.9,2297.9 L1082.4,2299.8 L1082.8,2301.8 L1083.3,2303.7 L1083.8,2305.7 L1084.2,2307.6 L1084.7,2309.5 L1085.1,2311.5 L1085.6,2313.4 L1086.0,2315.4 L1086.5,2317.3 L1087.0,2319.6 L1087.4,2321.6 L1087.8,2323.5 L1088.2,2325.5 L1088.6,2327.4 L1089.0,2329.4 L1089.4,2331.3 L1089.8,2333.3 L1090.2,2335.3 L1090.6,2337.2 L1091.0,2339.2 L1091.4,2341.1 L1091.8,2343.1 L1092.2,2345.1 L1092.6,2347.0 L1093.0,2349.0 L1093.4,2350.9 L1093.8,2352.9 L1094.2,2354.9 L1094.6,2356.8 L1095.0,2358.8 L1095.4,2360.8 L1095.8,2362.7 L1096.1,2364.7 L1096.5,2366.6 L1096.9,2368.6 L1097.3,2370.6 L1097.7,2372.5 L1098.1,2374.5 L1098.5,2376.4 L1098.9,2378.4 L1099.2,2380.4 L1099.6,2382.3 L1100.0,2384.3 L1100.4,2386.3 L1100.8,2388.2 L1101.1,2390.2 L1101.5,2392.2 L1101.9,2394.1 L1102.2,2396.1 L1102.6,2398.1 L1103.0,2400.0 L1103.3,2402.0 L1103.7,2403.9 L1104.1,2405.9 L1104.4,2407.9 L1104.8,2409.8 L1105.2,2411.8 L1105.5,2413.8 L1105.9,2415.7 L1106.2,2417.7 L1106.6,2419.7 L1107.0,2421.7 L1107.3,2423.6 L1107.7,2425.6 L1108.0,2427.6 L1108.4,2429.5 L1108.8,2431.5 L1109.1,2433.5 L1109.5,2435.4 L1109.8,2437.4 L1110.2,2439.4 L1110.5,2441.3 L1110.9,2443.3 L1111.2,2445.3 L1111.6,2447.2 L1111.9,2449.2 L1112.3,2451.2 L1112.6,2453.1 L1113.0,2455.1 L1113.3,2457.1 L1113.7,2459.1 L1114.0,2461.0 L1114.3,2463.0 L1114.7,2465.3 L1115.1,2467.3 L1115.4,2469.2 L1115.7,2471.2 L1116.1,2473.2 L1116.4,2475.1 L1116.7,2477.1 L1117.1,2479.1 L1117.4,2481.1 L1117.7,2483.0 L1118.1,2485.0 L1118.4,2487.0 L1118.7,2488.9 L1119.0,2490.9 L1119.4,2492.9 L1119.7,2494.9 L1120.0,2496.8 L1120.3,2498.8 L1120.6,2500.8 L1121.0,2502.8 L1121.3,2504.7 L1121.6,2506.7 L1121.9,2508.7 L1122.2,2510.7 L1122.5,2512.6 L1122.8,2514.6 L1123.1,2516.6 L1123.5,2518.6 L1123.8,2520.5 L1124.1,2522.5 L1124.4,2524.5 L1124.7,2526.5 L1125.0,2528.5 L1125.3,2530.4 L1125.6,2532.4 L1125.8,2534.4 L1126.1,2536.4 L1126.4,2538.3 L1126.7,2540.3 L1127.0,2542.3 L1127.3,2544.3 L1127.6,2546.3 L1127.8,2548.2 L1128.1,2550.2 L1128.4,2552.2 L1128.6,2554.2 L1128.9,2556.2 L1129.2,2558.2 L1129.4,2560.1 L1129.7,2562.1 L1130.0,2564.1 L1130.2,2566.1 L1130.5,2568.1 L1130.7,2570.1 L1131.0,2572.0 L1131.2,2574.0 L1131.4,2576.0 L1131.7,2578.0 L1131.9,2580.0 L1132.2,2582.0 L1132.4,2584.0 L1132.6,2585.9 L1132.9,2587.9 L1133.1,2589.9 L1133.3,2591.9 L1133.5,2593.9 L1133.8,2595.9 L1134.0,2597.9 L1134.2,2599.8 L1134.4,2601.8 L1134.7,2603.8 L1134.9,2605.8 L1135.1,2607.8 L1135.3,2609.8 L1135.6,2611.8 L1135.8,2613.8 L1136.0,2615.7 L1136.2,2617.7 L1136.5,2619.7 L1136.7,2621.7 L1136.9,2623.7 L1137.1,2625.7 L1137.4,2627.7 L1137.6,2629.7 L1137.8,2631.6 L1138.0,2633.6 L1138.3,2635.6 L1138.5,2637.6 L1138.7,2639.6 L1138.9,2641.6 L1139.1,2643.6 L1139.4,2645.6 L1139.6,2647.5 L1139.8,2649.5 L1140.0,2651.5 L1140.2,2653.5 L1140.5,2655.8 L1140.7,2657.8 L1140.9,2659.8 L1141.1,2661.8 L1141.4,2663.8 L1141.6,2665.8 L1141.8,2667.7 L1142.0,2669.7 L1142.2,2671.7 L1142.4,2673.7 L1142.7,2675.7 L1142.9,2677.7 L1143.1,2679.7 L1143.3,2681.7 L1143.5,2683.6 L1143.8,2685.6 L1144.0,2687.6 L1144.2,2689.6 L1144.4,2691.6 L1144.7,2693.6 L1144.9,2695.6 L1145.1,2697.6 L1145.4,2699.5 L1145.6,2701.5 L1145.9,2703.5 L1146.1,2705.2 L1146.3,2707.2 L1146.6,2709.2 L1146.8,2711.1 L1147.1,2713.1 L1147.3,2715.1 L1147.6,2717.1 L1147.8,2719.1 L1148.1,2721.0 L1148.4,2723.0 L1148.6,2725.0 L1148.9,2727.0 L1149.2,2729.0 L1149.5,2731.0 L1149.7,2732.9 L1150.0,2734.9 L1150.3,2736.9 L1150.6,2738.9 L1150.9,2740.9 L1151.2,2742.8 L1151.5,2744.8 L1151.8,2746.8 L1152.1,2748.8 L1152.4,2750.7 L1152.7,2752.7 L1153.0,2754.7 L1153.3,2756.7 L1153.6,2758.6 L1154.0,2760.6 L1154.3,2762.6 L1154.6,2764.6 L1154.9,2766.5 L1155.2,2768.5 L1155.6,2770.5 L1155.9,2772.5 L1156.2,2774.4 L1156.5,2776.1 L1156.8,2778.1 L1157.2,2780.0 L1157.5,2782.0 L1157.8,2784.0 L1158.2,2785.9 L1158.5,2787.9 L1158.8,2789.9 L1159.2,2791.9 L1159.5,2793.8 L1159.8,2795.8 L1160.2,2797.8 L1160.5,2799.7 L1160.9,2801.7 L1161.2,2803.7 L1161.6,2806.0 L1161.9,2807.9 L1162.3,2809.9 L1162.6,2811.9 L1162.9,2813.9 L1163.3,2815.8 L1163.6,2817.8 L1163.9,2819.8 L1164.3,2821.7 L1164.6,2823.7 L1165.0,2825.7 L1165.3,2827.7 L1165.6,2829.6 L1166.0,2831.6 L1166.3,2833.6 L1166.6,2835.5 L1167.0,2837.5 L1167.3,2839.5 L1167.7,2841.5 L1168.0,2843.4 L1168.4,2845.4 L1168.7,2847.4 L1169.0,2849.3 L1169.4,2851.3 L1169.7,2853.3 L1170.1,2855.2 L1170.4,2857.2 L1170.8,2859.2 L1171.1,2860.8 L1171.5,2862.8 L1171.8,2864.8 L1172.2,2866.7 L1172.6,2868.7 L1172.9,2870.7 L1173.3,2872.6 L1173.7,2874.6 L1174.1,2876.6 L1174.5,2878.5 L1174.8,2880.5 L1175.2,2882.4 L1175.6,2884.4 L1176.1,2886.4 L1176.5,2888.3 L1176.9,2890.3 L1177.3,2892.2 L1177.8,2894.2 L1178.1,2895.8 L1178.6,2897.7 L1179.1,2899.7 L1179.5,2901.6 L1180.0,2903.6 L1180.5,2905.5 L1181.1,2907.4 L1181.6,2909.3 L1182.1,2911.3 L1182.7,2913.2 L1183.3,2915.1 L1183.9,2917.0 L1184.5,2918.9 L1185.1,2920.5 L1185.7,2922.3 L1186.4,2924.2 L1187.1,2926.1 L1187.8,2927.9 L1188.6,2929.8 L1189.3,2931.6 L1190.1,2933.4 L1190.9,2935.2 L1191.7,2936.7 L1192.5,2938.5 L1193.4,2940.3 L1194.3,2942.1 L1195.2,2943.9 L1196.1,2945.6 L1197.1,2947.3 L1197.9,2948.8 L1198.9,2950.5 L1199.9,2952.2 L1200.9,2953.9 L1201.9,2955.6 L1203.0,2957.4 L1204.0,2959.0 L1204.9,2960.5 L1206.0,2962.2 L1207.0,2963.8 L1208.1,2965.5 L1209.2,2967.2 L1210.2,2968.9 L1211.3,2970.6 L1212.4,2972.3 L1213.3,2973.7 L1214.4,2975.3 L1215.5,2977.0 L1216.6,2978.7 L1217.6,2980.3 L1218.7,2982.0 L1219.8,2983.7 L1220.7,2985.1 L1221.8,2986.7 L1222.9,2988.4 L1224.0,2990.0 L1225.2,2991.7 L1226.0,2993.1 L1227.2,2994.7 L1228.3,2996.3 L1229.4,2997.9 L1230.3,2999.3 L1231.5,3000.9 L1232.6,3002.5 L1233.8,3004.1 L1234.8,3005.4 L1236.0,3007.0 L1237.2,3008.5 L1238.5,3010.1 L1239.5,3011.4 L1240.8,3012.9 L1242.0,3014.4 L1243.4,3015.8 L1244.7,3017.3 L1246.0,3018.8 L1247.4,3020.2 L1248.7,3021.7 L1250.3,3023.3 L1251.7,3024.8 L1253.1,3026.2 L1254.4,3027.7 L1255.8,3029.1 L1257.2,3030.5 L1258.8,3032.2 L1260.2,3033.6 L1261.6,3035.1 L1263.0,3036.5 L1264.4,3037.9 L1265.8,3039.3 L1267.2,3040.8 L1268.6,3042.2 L1270.0,3043.6 L1271.4,3045.1 L1272.8,3046.5 L1274.2,3047.9 L1275.6,3049.3 L1277.0,3050.7 L1278.5,3052.1 L1279.9,3053.6 L1281.3,3055.0 L1282.7,3056.4 L1284.1,3057.8 L1285.6,3059.2 L1287.0,3060.6 L1288.4,3062.0 L1289.9,3063.4 L1291.3,3064.7 L1292.7,3066.1 L1294.2,3067.5 L1295.6,3068.9 L1297.1,3070.3 L1298.5,3071.7 L1300.0,3073.0 L1301.4,3074.4 L1302.9,3075.8 L1304.3,3077.1 L1305.8,3078.5 L1307.3,3079.9 L1308.7,3081.2 L1310.4,3082.8 L1311.9,3084.2 L1313.4,3085.5 L1314.8,3086.9 L1316.3,3088.3 L1317.8,3089.6 L1319.2,3091.0 L1320.7,3092.3 L1322.2,3093.7 L1323.6,3095.0 L1325.1,3096.4 L1326.6,3097.7 L1328.1,3099.1 L1329.5,3100.4 L1331.0,3101.7 L1332.5,3103.1 L1334.0,3104.4 L1335.5,3105.8 L1337.0,3107.1 L1338.4,3108.4 L1339.9,3109.7 L1341.4,3111.1 L1342.9,3112.4 L1344.4,3113.7 L1345.9,3115.0 L1347.4,3116.3 L1349.0,3117.6 L1350.3,3118.7 L1351.8,3119.9 L1353.3,3121.2 L1354.9,3122.5 L1356.4,3123.7 L1358.0,3125.0 L1359.3,3126.0 L1360.8,3127.3 L1362.4,3128.5 L1364.0,3129.7 L1365.4,3130.7 L1367.0,3131.8 L1368.6,3133.0 L1370.0,3133.9 L1371.6,3135.0 L1373.3,3136.1 L1375.0,3137.2 L1376.4,3138.1 L1378.1,3139.1 L1379.8,3140.1 L1381.2,3140.9 L1383.0,3141.8 L1384.8,3142.7 L1386.2,3143.5 L1388.0,3144.3 L1389.8,3145.1 L1391.4,3145.8 L1393.2,3146.6 L1395.0,3147.3 L1396.6,3147.9 L1398.5,3148.6 L1400.3,3149.2 L1402.2,3149.8 L1404.1,3150.4 L1406.0,3151.0 L1407.6,3151.5 L1409.5,3152.0 L1411.5,3152.6 L1413.4,3153.1 L1415.3,3153.6 L1417.3,3154.0 L1419.2,3154.5 L1421.2,3155.0 L1423.1,3155.4 L1425.1,3155.9 L1427.0,3156.3 L1429.0,3156.7 L1430.9,3157.1 L1432.9,3157.6 L1434.8,3158.0 L1436.8,3158.4 L1438.7,3158.8 L1440.7,3159.2 L1442.7,3159.6 L1444.6,3160.0 L1446.6,3160.4 L1448.5,3160.8 L1450.5,3161.2 L1452.5,3161.6 L1454.4,3162.0 L1456.4,3162.3 L1458.3,3162.7 L1460.3,3163.1 L1462.3,3163.5 L1464.2,3163.9 L1466.2,3164.2 L1468.2,3164.6 L1470.1,3165.0 L1472.1,3165.3 L1474.1,3165.7 L1475.7,3166.0 L1477.7,3166.3 L1479.7,3166.7 L1481.6,3167.0 L1483.6,3167.4 L1485.6,3167.7 L1487.5,3168.0 L1489.5,3168.4 L1491.5,3168.7 L1493.5,3169.0 L1495.4,3169.3 L1497.4,3169.6 L1499.4,3169.9 L1501.4,3170.3 L1503.3,3170.6 L1505.3,3170.9 L1507.3,3171.2 L1509.3,3171.5 L1511.2,3171.8 L1513.2,3172.1 L1515.2,3172.4 L1517.2,3172.7 L1519.1,3173.0 L1521.1,3173.3 L1523.1,3173.6 L1524.8,3173.8 L1526.7,3174.1 L1528.7,3174.4 L1530.7,3174.7 L1532.7,3174.9 L1534.7,3175.2 L1536.7,3175.4 L1538.6,3175.7 L1540.6,3175.9 L1542.6,3176.2 L1544.6,3176.4 L1546.6,3176.7 L1548.6,3176.9 L1550.6,3177.1 L1552.5,3177.3 L1554.5,3177.5 L1556.5,3177.7 L1558.5,3177.9 L1560.5,3178.1 L1562.5,3178.3 L1564.5,3178.5 L1566.5,3178.7 L1568.5,3178.9 L1570.5,3179.1 L1572.4,3179.3 L1574.4,3179.4 L1576.4,3179.6 L1578.4,3179.8 L1580.4,3180.0 L1582.4,3180.1 L1584.4,3180.3 L1586.4,3180.4 L1588.4,3180.6 L1590.1,3180.7 L1592.1,3180.9 L1594.1,3181.1 L1596.0,3181.2 L1598.0,3181.4 L1600.0,3181.5 L1602.0,3181.7 L1604.0,3181.8 L1606.0,3182.0 L1608.0,3182.1 L1610.0,3182.3 L1612.0,3182.4 L1614.0,3182.6 L1616.0,3182.7 L1618.0,3182.9 L1620.0,3183.0 L1622.0,3183.2 L1624.0,3183.3 L1626.0,3183.4 L1628.0,3183.6 L1630.0,3183.7 L1631.9,3183.9 L1633.9,3184.0 L1635.9,3184.2 L1637.9,3184.3 L1639.9,3184.4 L1641.9,3184.6 L1643.9,3184.7 L1645.9,3184.8 L1647.9,3185.0 L1649.9,3185.1 L1651.9,3185.3 L1653.9,3185.4 L1655.9,3185.5 L1657.9,3185.7 L1659.9,3185.8 L1661.9,3185.9 L1663.9,3186.1 L1665.9,3186.2 L1667.9,3186.3 L1669.9,3186.4 L1671.9,3186.6 L1673.8,3186.7 L1675.8,3186.8 L1677.8,3187.0 L1679.8,3187.1 L1681.8,3187.2 L1683.8,3187.4 L1685.8,3187.5 L1687.8,3187.6 L1689.8,3187.7 L1691.8,3187.9 L1693.8,3188.0 L1695.8,3188.1 L1697.8,3188.2 L1699.8,3188.4 L1701.8,3188.5 L1703.8,3188.6 L1705.8,3188.7 L1707.8,3188.9 L1709.8,3189.0 L1711.8,3189.1 L1713.8,3189.2 L1715.8,3189.3 L1717.8,3189.5 L1719.8,3189.6 L1721.8,3189.7 L1723.8,3189.8 L1725.7,3189.9 L1727.7,3190.1 L1729.7,3190.2 L1731.7,3190.3 L1733.7,3190.4 L1735.7,3190.5 L1737.7,3190.6 L1739.7,3190.8 L1741.7,3190.9 L1743.7,3191.0 L1745.7,3191.1 L1747.7,3191.2 L1749.7,3191.3 L1751.7,3191.4 L1753.7,3191.5 L1755.7,3191.7 L1757.7,3191.8 L1759.7,3191.9 L1761.7,3192.0 L1763.7,3192.1 L1765.7,3192.2 L1767.7,3192.3 L1769.7,3192.4 L1771.7,3192.5 L1773.7,3192.6 L1775.7,3192.7 L1777.7,3192.8 L1779.7,3192.9 L1781.7,3193.1 L1783.7,3193.2 L1785.7,3193.3 L1787.7,3193.4 L1789.6,3193.5 L1791.6,3193.6 L1793.6,3193.7 L1795.6,3193.8 L1797.6,3193.9 L1799.6,3194.0 L1801.6,3194.1 L1803.6,3194.2 L1805.6,3194.3 L1807.6,3194.4 L1809.6,3194.4 L1811.6,3194.5 L1813.6,3194.6 L1815.6,3194.7 L1817.6,3194.8 L1819.6,3194.9 L1821.6,3195.0 L1823.6,3195.1 L1825.6,3195.2 L1827.6,3195.3 L1829.6,3195.4 L1831.6,3195.5 L1833.6,3195.6 L1835.6,3195.6 L1837.6,3195.7 L1839.6,3195.8 L1841.6,3195.9 L1843.6,3196.0 L1845.6,3196.1 L1847.6,3196.2 L1849.6,3196.3 L1851.6,3196.3 L1853.6,3196.4 L1855.6,3196.5 L1857.6,3196.6 L1859.6,3196.7 L1861.6,3196.8 L1863.6,3196.8 L1865.6,3196.9 L1867.6,3197.0 L1869.6,3197.1 L1871.6,3197.2 L1873.6,3197.3 L1875.6,3197.3 L1877.6,3197.4 L1879.6,3197.5 L1881.6,3197.6 L1883.6,3197.7 L1885.6,3197.7 L1887.6,3197.8 L1889.5,3197.9 L1891.5,3198.0 L1893.5,3198.1 L1895.5,3198.1 L1897.5,3198.2 L1899.5,3198.3 L1901.5,3198.4 L1903.5,3198.5 L1905.5,3198.5 L1907.5,3198.6 L1909.5,3198.7 L1911.5,3198.8 L1913.5,3198.8 L1915.5,3198.9 L1917.5,3199.0 L1919.5,3199.1 L1921.5,3199.1 L1923.5,3199.2 L1925.5,3199.3 L1927.5,3199.4 L1929.5,3199.4 L1931.5,3199.5 L1933.5,3199.6 L1935.5,3199.7 L1937.5,3199.7 L1939.5,3199.8 L1941.5,3199.9 L1943.5,3200.0 L1945.5,3200.0 L1947.5,3200.1 L1949.5,3200.2 L1951.5,3200.3 L1953.5,3200.3 L1955.5,3200.4 L1957.5,3200.5 L1959.5,3200.5 L1961.5,3200.6 L1963.5,3200.7 L1965.5,3200.8 L1967.5,3200.8 L1969.5,3200.9 L1971.5,3201.0 L1973.5,3201.1 L1975.5,3201.1 L1977.5,3201.2 L1979.5,3201.3 L1981.5,3201.3 L1983.5,3201.4 L1985.5,3201.5 L1987.5,3201.6 L1989.5,3201.6 L1991.5,3201.7 L1993.5,3201.8 L1995.5,3201.8 L1997.5,3201.9 L1999.5,3202.0 L2001.5,3202.0 L2003.5,3202.1 L2005.5,3202.2 L2007.5,3202.3 L2009.5,3202.3 L2011.5,3202.4 L2013.5,3202.5 L2015.5,3202.5 L2017.5,3202.6 L2019.5,3202.7 L2021.5,3202.7 L2023.5,3202.8 L2025.5,3202.9 L2027.5,3203.0 L2029.5,3203.0 L2031.5,3203.1 L2033.5,3203.2 L2035.5,3203.2 L2037.1,3203.3 L2039.1,3203.4 L2041.1,3203.4 L2043.1,3203.5 L2045.1,3203.6 L2047.1,3203.6 L2049.1,3203.7 L2051.1,3203.8 L2053.1,3203.8 L2055.1,3203.9 L2057.1,3204.0 L2059.1,3204.0 L2061.1,3204.1 L2063.1,3204.2 L2065.1,3204.2 L2067.1,3204.3 L2069.1,3204.4 L2071.1,3204.4 L2073.1,3204.5 L2075.1,3204.6 L2077.1,3204.6 L2079.1,3204.7 L2081.1,3204.8 L2083.1,3204.8 L2085.1,3204.9 L2087.1,3204.9 L2089.1,3205.0 L2091.1,3205.1 L2093.1,3205.1 L2095.1,3205.2 L2097.1,3205.3 L2099.1,3205.3 L2101.1,3205.4 L2103.1,3205.4 L2105.1,3205.5 L2107.1,3205.6 L2109.1,3205.6 L2111.1,3205.7 L2113.1,3205.7 L2115.1,3205.8 L2117.1,3205.9 L2119.1,3205.9 L2121.1,3206.0 L2123.1,3206.0 L2125.1,3206.1 L2127.1,3206.2 L2129.1,3206.2 L2131.1,3206.3 L2133.1,3206.3 L2135.1,3206.4 L2137.1,3206.4 L2139.1,3206.5 L2141.1,3206.6 L2143.1,3206.6 L2145.1,3206.7 L2147.1,3206.7 L2149.1,3206.8 L2151.1,3206.8 L2153.1,3206.9 L2155.1,3207.0 L2157.1,3207.0 L2159.1,3207.1 L2161.1,3207.1 L2163.1,3207.2 L2165.1,3207.2 L2167.1,3207.3 L2169.1,3207.3 L2171.1,3207.4 L2173.1,3207.5 L2175.1,3207.5 L2177.1,3207.6 L2179.1,3207.6 L2181.1,3207.7 L2183.1,3207.7 L2185.1,3207.8 L2187.1,3207.8 L2189.1,3207.9 L2191.1,3208.0 L2193.1,3208.0 L2195.1,3208.1 L2197.1,3208.1 L2199.1,3208.2 L2201.1,3208.2 L2203.1,3208.3 L2205.1,3208.3 L2207.1,3208.4 L2209.1,3208.4 L2211.1,3208.5 L2213.0,3208.6 L2215.0,3208.6 L2217.0,3208.7 L2219.0,3208.7 L2221.0,3208.8 L2223.0,3208.8 L2225.0,3208.9 L2227.0,3208.9 L2229.0,3209.0 L2231.0,3209.1 L2233.0,3209.1 L2235.0,3209.2 L2237.0,3209.2 L2239.0,3209.3 L2241.0,3209.3 L2242.0,3209.4" fill="none" stroke="#000" stroke-width="12.00" stroke-linecap="round" stroke-linejoin="round" clip-path="url(#cc)"/>
<path d="M486.0,2086.2 L488.0,2086.2 L490.0,2086.2 L492.0,2086.2 L494.0,2086.3 L496.0,2086.3 L498.0,2086.3 L500.0,2086.3 L502.0,2086.3 L504.0,2086.3 L506.0,2086.3 L508.0,2086.3 L510.0,2086.3 L512.0,2086.4 L514.0,2086.4 L516.0,2086.4 L518.0,2086.4 L520.0,2086.4 L522.0,2086.4 L524.0,2086.4 L526.0,2086.4 L528.0,2086.4 L530.0,2086.5 L532.0,2086.5 L534.0,2086.5 L536.0,2086.5 L538.0,2086.5 L540.0,2086.5 L542.0,2086.5 L544.0,2086.5 L546.0,2086.5 L548.0,2086.6 L550.0,2086.6 L552.0,2086.6 L554.0,2086.6 L556.0,2086.6 L558.0,2086.6 L560.0,2086.6 L562.0,2086.6 L564.0,2086.7 L566.0,2086.7 L568.0,2086.7 L570.0,2086.7 L572.0,2086.7 L574.0,2086.7 L576.0,2086.8 L578.0,2086.8 L580.0,2086.8 L582.0,2086.8 L584.0,2086.8 L586.0,2086.8 L588.0,2086.8 L590.0,2086.9 L592.0,2086.9 L594.0,2086.9 L596.0,2086.9 L598.0,2086.9 L600.0,2087.0 L602.0,2087.0 L604.0,2087.0 L606.0,2087.0 L608.0,2087.1 L610.0,2087.1 L612.0,2087.1 L614.0,2087.1 L616.0,2087.1 L618.0,2087.2 L620.0,2087.2 L622.0,2087.2 L624.0,2087.3 L626.0,2087.3 L628.0,2087.3 L630.0,2087.4 L632.0,2087.4 L634.0,2087.4 L636.0,2087.5 L638.0,2087.5 L640.0,2087.5 L642.0,2087.6 L644.0,2087.6 L646.0,2087.7 L648.0,2087.7 L650.0,2087.7 L652.0,2087.8 L654.0,2087.8 L656.0,2087.9 L658.0,2087.9 L660.0,2088.0 L662.0,2088.0 L664.0,2088.1 L666.0,2088.1 L668.0,2088.2 L670.0,2088.2 L672.0,2088.3 L674.0,2088.3 L676.0,2088.4 L678.0,2088.5 L680.0,2088.5 L682.0,2088.6 L684.0,2088.6 L686.0,2088.7 L688.0,2088.8 L690.0,2088.8 L692.0,2088.9 L694.0,2088.9 L696.0,2089.0 L698.0,2089.1 L700.0,2089.1 L702.0,2089.2 L704.0,2089.3 L706.0,2089.4 L708.0,2089.4 L710.0,2089.5 L712.0,2089.6 L714.0,2089.6 L716.0,2089.7 L718.0,2089.8 L720.0,2089.9 L722.0,2089.9 L724.0,2090.0 L726.0,2090.1 L728.0,2090.2 L730.0,2090.2 L731.9,2090.3 L733.9,2090.4 L735.9,2090.5 L737.9,2090.6 L739.9,2090.6 L741.9,2090.7 L743.9,2090.8 L745.9,2090.9 L747.9,2091.0 L749.9,2091.1 L751.9,2091.2 L753.9,2091.3 L755.9,2091.4 L757.9,2091.5 L759.9,2091.6 L761.9,2091.7 L763.9,2091.9 L765.9,2092.0 L767.9,2092.2 L769.9,2092.3 L771.9,2092.5 L773.9,2092.7 L775.8,2092.9 L777.8,2093.1 L779.8,2093.4 L781.8,2093.6 L783.8,2093.9 L785.7,2094.2 L787.7,2094.5 L789.7,2094.8 L791.6,2095.2 L793.6,2095.6 L795.5,2096.0 L797.5,2096.4 L799.4,2096.8 L801.4,2097.3 L803.3,2097.7 L805.3,2098.2 L807.2,2098.8 L809.1,2099.3 L811.0,2099.8 L812.9,2100.4 L814.8,2101.0 L816.7,2101.6 L818.6,2102.3 L820.5,2102.9 L822.4,2103.6 L824.3,2104.3 L826.1,2105.0 L828.0,2105.7 L829.9,2106.4 L831.7,2107.1 L833.6,2107.9 L835.4,2108.6 L837.3,2109.4 L839.1,2110.1 L841.0,2110.8 L842.8,2111.6 L844.7,2112.3 L846.5,2113.1 L848.4,2113.8 L850.2,2114.6 L852.1,2115.3 L853.9,2116.1 L855.8,2116.8 L857.6,2117.6 L859.5,2118.4 L861.3,2119.1 L863.1,2119.9 L864.9,2120.8 L866.7,2121.6 L868.5,2122.5 L870.3,2123.3 L872.1,2124.3 L873.8,2125.2 L875.6,2126.2 L877.3,2127.1 L879.0,2128.2 L880.7,2129.2 L882.3,2130.3 L884.0,2131.4 L885.6,2132.5 L887.2,2133.7 L888.8,2134.9 L890.4,2136.1 L891.9,2137.4 L893.4,2138.6 L894.9,2140.0 L896.4,2141.3 L897.9,2142.6 L899.3,2144.0 L900.8,2145.4 L902.2,2146.8 L903.6,2148.2 L905.0,2149.6 L906.4,2151.1 L907.7,2152.5 L909.1,2154.0 L910.4,2155.4 L911.8,2156.9 L913.1,2158.4 L914.5,2159.9 L915.8,2161.4 L917.1,2162.9 L918.4,2164.4 L919.7,2165.9 L921.0,2167.4 L922.3,2168.9 L923.6,2170.5 L924.9,2172.0 L926.1,2173.6 L927.4,2175.1 L928.6,2176.7 L929.8,2178.3 L931.0,2179.9 L932.2,2181.5 L933.4,2183.1 L934.6,2184.7 L935.7,2186.3 L936.9,2188.0 L938.0,2189.6 L939.1,2191.3 L940.2,2192.9 L941.3,2194.6 L942.4,2196.3 L943.5,2198.0 L944.6,2199.6 L945.6,2201.3 L946.7,2203.0 L947.7,2204.8 L948.7,2206.5 L949.7,2208.2 L950.7,2209.9 L951.7,2211.7 L952.7,2213.4 L953.7,2215.2 L954.6,2216.9 L955.6,2218.7 L956.5,2220.4 L957.4,2222.2 L958.3,2224.0 L959.2,2225.8 L960.0,2227.6 L960.9,2229.4 L961.7,2231.2 L962.6,2233.0 L963.4,2234.8 L964.2,2236.7 L965.0,2238.5 L965.7,2240.4 L966.5,2242.2 L967.2,2244.1 L968.0,2245.9 L968.7,2247.8 L969.4,2249.6 L970.1,2251.5 L970.8,2253.4 L971.5,2255.2 L972.2,2257.1 L972.9,2259.0 L973.6,2260.9 L974.3,2262.8 L975.0,2264.6 L975.7,2266.5 L976.4,2268.4 L977.0,2270.3 L977.7,2272.2 L978.4,2274.0 L979.1,2275.9 L979.8,2277.8 L980.5,2279.7 L981.1,2281.5 L981.8,2283.4 L982.5,2285.3 L983.2,2287.2 L983.9,2289.1 L984.6,2290.9 L985.3,2292.8 L986.0,2294.7 L986.6,2296.6 L987.3,2298.5 L988.0,2300.3 L988.6,2302.2 L989.3,2304.1 L990.0,2306.0 L990.6,2307.9 L991.2,2309.8 L991.9,2311.7 L992.5,2313.6 L993.1,2315.5 L993.7,2317.4 L994.3,2319.3 L994.8,2321.2 L995.4,2323.1 L996.0,2325.1 L996.5,2327.0 L997.1,2328.9 L997.6,2330.8 L998.1,2332.8 L998.6,2334.7 L999.2,2336.6 L999.7,2338.5 L1000.2,2340.5 L1000.7,2342.4 L1001.2,2344.3 L1001.8,2346.3 L1002.3,2348.2 L1002.8,2350.1 L1003.4,2352.0 L1003.9,2354.0 L1004.5,2355.9 L1005.1,2357.8 L1005.7,2359.7 L1006.2,2361.6 L1006.8,2363.5 L1007.4,2365.4 L1008.0,2367.3 L1008.6,2369.2 L1009.2,2371.2 L1009.8,2373.1 L1010.4,2375.0 L1011.0,2376.9 L1011.6,2378.8 L1012.2,2380.7 L1012.7,2382.6 L1013.3,2384.5 L1013.9,2386.5 L1014.4,2388.4 L1014.9,2390.3 L1015.5,2392.2 L1016.0,2394.2 L1016.5,2396.1 L1017.0,2398.0 L1017.5,2400.0 L1018.0,2401.9 L1018.5,2403.8 L1019.0,2405.8 L1019.5,2407.7 L1020.0,2409.7 L1020.5,2411.6 L1020.9,2413.5 L1021.4,2415.5 L1021.9,2417.4 L1022.3,2419.4 L1022.8,2421.3 L1023.3,2423.3 L1023.7,2425.2 L1024.2,2427.1 L1024.7,2429.1 L1025.1,2431.0 L1025.6,2433.0 L1026.0,2434.9 L1026.5,2436.9 L1026.9,2438.8 L1027.4,2440.8 L1027.9,2442.7 L1028.3,2444.7 L1028.8,2446.6 L1029.2,2448.6 L1029.7,2450.5 L1030.1,2452.5 L1030.5,2454.4 L1031.0,2456.4 L1031.4,2458.3 L1031.9,2460.3 L1032.3,2462.2 L1032.8,2464.2 L1033.2,2466.1 L1033.6,2468.1 L1034.1,2470.0 L1034.5,2472.0 L1034.9,2473.9 L1035.4,2475.9 L1035.8,2477.8 L1036.2,2479.8 L1036.6,2481.7 L1037.1,2483.7 L1037.5,2485.7 L1037.9,2487.6 L1038.3,2489.6 L1038.8,2491.5 L1039.2,2493.5 L1039.6,2495.4 L1040.0,2497.4 L1040.4,2499.3 L1040.8,2501.3 L1041.2,2503.3 L1041.7,2505.2 L1042.1,2507.2 L1042.5,2509.1 L1042.9,2511.1 L1043.3,2513.1 L1043.7,2515.0 L1044.1,2517.0 L1044.5,2518.9 L1044.9,2520.9 L1045.3,2522.8 L1045.7,2524.8 L1046.1,2526.8 L1046.5,2528.7 L1046.9,2530.7 L1047.3,2532.7 L1047.7,2534.6 L1048.0,2536.6 L1048.4,2538.5 L1048.8,2540.5 L1049.2,2542.5 L1049.6,2544.4 L1050.0,2546.4 L1050.4,2548.4 L1050.7,2550.3 L1051.1,2552.3 L1051.5,2554.2 L1051.9,2556.2 L1052.2,2558.2 L1052.6,2560.1 L1053.0,2562.1 L1053.3,2564.1 L1053.7,2566.0 L1054.1,2568.0 L1054.4,2570.0 L1054.8,2571.9 L1055.2,2573.9 L1055.5,2575.9 L1055.9,2577.8 L1056.2,2579.8 L1056.6,2581.8 L1056.9,2583.7 L1057.3,2585.7 L1057.7,2587.7 L1058.0,2589.6 L1058.4,2591.6 L1058.7,2593.6 L1059.0,2595.6 L1059.4,2597.5 L1059.7,2599.5 L1060.1,2601.5 L1060.4,2603.4 L1060.8,2605.4 L1061.1,2607.4 L1061.5,2609.3 L1061.8,2611.3 L1062.2,2613.3 L1062.5,2615.2 L1062.9,2617.2 L1063.2,2619.2 L1063.6,2621.2 L1063.9,2623.1 L1064.3,2625.1 L1064.6,2627.1 L1065.0,2629.0 L1065.4,2631.0 L1065.7,2633.0 L1066.1,2634.9 L1066.4,2636.9 L1066.8,2638.9 L1067.2,2640.8 L1067.5,2642.8 L1067.9,2644.8 L1068.2,2646.7 L1068.6,2648.7 L1069.0,2650.7 L1069.3,2652.6 L1069.7,2654.6 L1070.1,2656.6 L1070.5,2658.5 L1070.8,2660.5 L1071.2,2662.5 L1071.6,2664.4 L1071.9,2666.4 L1072.3,2668.4 L1072.7,2670.3 L1073.1,2672.3 L1073.4,2674.2 L1073.8,2676.2 L1074.2,2678.2 L1074.5,2680.1 L1074.9,2682.1 L1075.3,2684.1 L1075.7,2686.0 L1076.0,2688.0 L1076.4,2690.0 L1076.8,2691.9 L1077.1,2693.9 L1077.5,2695.9 L1077.9,2697.8 L1078.3,2699.8 L1078.6,2701.8 L1079.0,2703.7 L1079.4,2705.7 L1079.7,2707.7 L1080.1,2709.6 L1080.4,2711.6 L1080.8,2713.6 L1081.2,2715.5 L1081.5,2717.5 L1081.9,2719.5 L1082.2,2721.4 L1082.6,2723.4 L1082.9,2725.4 L1083.3,2727.3 L1083.6,2729.3 L1084.0,2731.3 L1084.3,2733.3 L1084.7,2735.2 L1085.0,2737.2 L1085.3,2739.2 L1085.7,2741.1 L1086.0,2743.1 L1086.3,2745.1 L1086.7,2747.1 L1087.0,2749.0 L1087.3,2751.0 L1087.6,2753.0 L1088.0,2754.9 L1088.3,2756.9 L1088.6,2758.9 L1088.9,2760.9 L1089.2,2762.8 L1089.5,2764.8 L1089.9,2766.8 L1090.2,2768.8 L1090.5,2770.7 L1090.8,2772.7 L1091.1,2774.7 L1091.4,2776.7 L1091.8,2778.6 L1092.1,2780.6 L1092.4,2782.6 L1092.7,2784.6 L1093.0,2786.5 L1093.3,2788.5 L1093.7,2790.5 L1094.0,2792.5 L1094.3,2794.4 L1094.6,2796.4 L1095.0,2798.4 L1095.3,2800.4 L1095.6,2802.3 L1096.0,2804.3 L1096.3,2806.3 L1096.6,2808.2 L1097.0,2810.2 L1097.3,2812.2 L1097.6,2814.2 L1098.0,2816.1 L1098.3,2818.1 L1098.7,2820.1 L1099.0,2822.0 L1099.4,2824.0 L1099.7,2826.0 L1100.1,2827.9 L1100.4,2829.9 L1100.8,2831.9 L1101.2,2833.9 L1101.5,2835.8 L1101.9,2837.8 L1102.2,2839.8 L1102.6,2841.7 L1102.9,2843.7 L1103.3,2845.7 L1103.7,2847.6 L1104.0,2849.6 L1104.4,2851.6 L1104.8,2853.5 L1105.1,2855.5 L1105.5,2857.5 L1105.8,2859.4 L1106.2,2861.4 L1106.6,2863.4 L1106.9,2865.3 L1107.3,2867.3 L1107.7,2869.3 L1108.0,2871.2 L1108.4,2873.2 L1108.7,2875.2 L1109.1,2877.1 L1109.5,2879.1 L1109.8,2881.1 L1110.2,2883.0 L1110.5,2885.0 L1110.9,2887.0 L1111.3,2888.9 L1111.6,2890.9 L1112.0,2892.9 L1112.3,2894.8 L1112.7,2896.8 L1113.0,2898.8 L1113.4,2900.7 L1113.7,2902.7 L1114.1,2904.7 L1114.4,2906.6 L1114.8,2908.6 L1115.1,2910.6 L1115.5,2912.6 L1115.8,2914.5 L1116.2,2916.5 L1116.5,2918.5 L1116.9,2920.4 L1117.2,2922.4 L1117.6,2924.4 L1118.0,2926.3 L1118.3,2928.3 L1118.7,2930.3 L1119.0,2932.2 L1119.4,2934.2 L1119.7,2936.2 L1120.1,2938.1 L1120.4,2940.1 L1120.8,2942.1 L1121.1,2944.1 L1121.5,2946.0 L1121.8,2948.0 L1122.2,2950.0 L1122.5,2951.9 L1122.9,2953.9 L1123.3,2955.9 L1123.6,2957.8 L1124.0,2959.8 L1124.3,2961.8 L1124.7,2963.7 L1125.1,2965.7 L1125.4,2967.7 L1125.8,2969.6 L1126.1,2971.6 L1126.5,2973.6 L1126.9,2975.5 L1127.2,2977.5 L1127.6,2979.5 L1128.0,2981.4 L1128.4,2983.4 L1128.8,2985.4 L1129.1,2987.3 L1129.5,2989.3 L1129.9,2991.2 L1130.3,2993.2 L1130.8,2995.1 L1131.2,2997.1 L1131.6,2999.1 L1132.0,3001.0 L1132.5,3003.0 L1132.9,3004.9 L1133.4,3006.9 L1133.9,3008.8 L1134.3,3010.7 L1134.8,3012.7 L1135.3,3014.6 L1135.7,3016.6 L1136.2,3018.5 L1136.7,3020.4 L1137.2,3022.4 L1137.7,3024.3 L1138.2,3026.3 L1138.7,3028.2 L1139.2,3030.1 L1139.7,3032.1 L1140.2,3034.0 L1140.7,3035.9 L1141.3,3037.9 L1141.8,3039.8 L1142.3,3041.7 L1142.8,3043.7 L1143.3,3045.6 L1143.8,3047.5 L1144.4,3049.5 L1144.9,3051.4 L1145.4,3053.3 L1145.9,3055.2 L1146.4,3057.2 L1147.0,3059.1 L1147.5,3061.0 L1148.0,3063.0 L1148.5,3064.9 L1149.0,3066.8 L1149.6,3068.8 L1150.1,3070.7 L1150.6,3072.6 L1151.1,3074.6 L1151.6,3076.5 L1152.2,3078.4 L1152.7,3080.4 L1153.2,3082.3 L1153.7,3084.2 L1154.2,3086.1 L1154.7,3088.1 L1155.3,3090.0 L1155.8,3091.9 L1156.3,3093.9 L1156.8,3095.8 L1157.3,3097.8 L1157.8,3099.7 L1158.3,3101.6 L1158.8,3103.6 L1159.3,3105.5 L1159.8,3107.4 L1160.3,3109.4 L1160.8,3111.3 L1161.3,3113.3 L1161.7,3115.2 L1162.2,3117.1 L1162.7,3119.1 L1163.2,3121.0 L1163.7,3123.0 L1164.2,3124.9 L1164.6,3126.8 L1165.1,3128.8 L1165.6,3130.7 L1166.1,3132.7 L1166.6,3134.6 L1167.0,3136.5 L1167.5,3138.5 L1168.0,3140.4 L1168.5,3142.4 L1169.0,3144.3 L1169.5,3146.2 L1170.0,3148.2 L1170.5,3150.1 L1171.0,3152.1 L1171.5,3154.0 L1172.0,3155.9 L1172.5,3157.9 L1173.0,3159.8 L1173.6,3161.7 L1174.1,3163.6 L1174.6,3165.6 L1175.2,3167.5 L1175.7,3169.4 L1176.3,3171.3 L1176.9,3173.2 L1177.5,3175.1 L1178.1,3177.0 L1178.7,3178.9 L1179.3,3180.8 L1180.0,3182.7 L1180.6,3184.6 L1181.3,3186.5 L1182.0,3188.4 L1182.7,3190.3 L1183.4,3192.1 L1184.1,3194.0 L1184.8,3195.8 L1185.6,3197.7 L1186.3,3199.5 L1187.1,3201.4 L1187.9,3203.2 L1188.7,3205.1 L1189.5,3206.9 L1190.3,3208.7 L1191.1,3210.5 L1191.9,3212.4 L1192.8,3214.2 L1193.6,3216.0 L1194.4,3217.8 L1195.3,3219.6 L1196.1,3221.5 L1196.9,3223.3 L1197.8,3225.1 L1198.6,3226.9 L1199.4,3228.7 L1200.3,3230.5 L1201.1,3232.3 L1201.9,3234.2 L1202.8,3236.0 L1203.7,3237.8 L1204.5,3239.6 L1205.4,3241.3 L1206.3,3243.1 L1207.2,3244.9 L1208.1,3246.6 L1209.1,3248.4 L1210.1,3250.1 L1211.1,3251.8 L1212.2,3253.4 L1213.3,3255.1 L1214.4,3256.7 L1215.6,3258.3 L1216.8,3259.8 L1218.0,3261.3 L1219.3,3262.8 L1220.6,3264.3 L1222.0,3265.7 L1223.4,3267.1 L1224.8,3268.4 L1226.3,3269.7 L1227.8,3271.0 L1229.3,3272.2 L1230.9,3273.3 L1232.5,3274.5 L1234.2,3275.5 L1235.8,3276.5 L1237.5,3277.5 L1239.3,3278.4 L1241.0,3279.3 L1242.8,3280.1 L1244.6,3280.9 L1246.4,3281.6 L1248.3,3282.2 L1250.1,3282.9 L1252.0,3283.4 L1253.9,3284.0 L1255.8,3284.5 L1257.8,3285.0 L1259.7,3285.4 L1261.6,3285.8 L1263.6,3286.2 L1265.5,3286.6 L1267.5,3286.9 L1269.5,3287.2 L1271.4,3287.5 L1273.4,3287.8 L1275.4,3288.0 L1277.4,3288.3 L1279.4,3288.5 L1281.3,3288.7 L1283.3,3288.9 L1285.3,3289.1 L1287.3,3289.2 L1289.3,3289.4 L1291.3,3289.5 L1293.3,3289.6 L1295.3,3289.7 L1297.3,3289.8 L1299.3,3289.9 L1301.3,3290.0 L1303.3,3290.1 L1305.3,3290.2 L1307.3,3290.3 L1309.3,3290.3 L1311.3,3290.4 L1313.3,3290.5 L1315.3,3290.5 L1317.3,3290.6 L1319.3,3290.6 L1321.3,3290.7 L1323.3,3290.7 L1325.3,3290.8 L1327.3,3290.8 L1329.3,3290.9 L1331.3,3290.9 L1333.3,3291.0 L1335.3,3291.0 L1337.3,3291.0 L1339.3,3291.1 L1341.3,3291.1 L1343.3,3291.2 L1345.3,3291.2 L1347.3,3291.2 L1349.3,3291.3 L1351.3,3291.3 L1353.3,3291.3 L1355.3,3291.4 L1357.3,3291.4 L1359.3,3291.4 L1361.3,3291.5 L1363.3,3291.5 L1365.3,3291.5 L1367.3,3291.6 L1369.3,3291.6 L1371.3,3291.6 L1373.3,3291.7 L1375.3,3291.7 L1377.3,3291.7 L1379.3,3291.8 L1381.3,3291.8 L1383.3,3291.8 L1385.3,3291.9 L1387.3,3291.9 L1389.3,3291.9 L1391.3,3291.9 L1393.3,3292.0 L1395.3,3292.0 L1397.3,3292.0 L1399.3,3292.1 L1401.3,3292.1 L1403.3,3292.1 L1405.2,3292.1 L1407.2,3292.2 L1409.2,3292.2 L1411.2,3292.2 L1413.2,3292.3 L1415.2,3292.3 L1417.2,3292.3 L1419.2,3292.4 L1421.2,3292.4 L1423.2,3292.4 L1425.2,3292.4 L1427.2,3292.5 L1429.2,3292.5 L1431.2,3292.5 L1433.2,3292.6 L1435.2,3292.6 L1437.2,3292.6 L1439.2,3292.6 L1441.2,3292.7 L1443.2,3292.7 L1445.2,3292.7 L1447.2,3292.8 L1449.2,3292.8 L1451.2,3292.8 L1453.2,3292.8 L1455.2,3292.9 L1457.2,3292.9 L1459.2,3292.9 L1461.2,3292.9 L1463.2,3293.0 L1465.2,3293.0 L1467.2,3293.0 L1469.2,3293.0 L1471.2,3293.1 L1473.2,3293.1 L1475.2,3293.1 L1477.2,3293.1 L1479.2,3293.2 L1481.2,3293.2 L1483.2,3293.2 L1485.2,3293.2 L1487.2,3293.3 L1489.2,3293.3 L1491.2,3293.3 L1493.2,3293.3 L1495.2,3293.4 L1497.2,3293.4 L1499.2,3293.4 L1501.2,3293.4 L1503.2,3293.4 L1505.2,3293.5 L1507.2,3293.5 L1509.2,3293.5 L1511.2,3293.5 L1513.2,3293.6 L1515.2,3293.6 L1517.2,3293.6 L1519.2,3293.6 L1521.2,3293.6 L1523.2,3293.7 L1525.2,3293.7 L1527.2,3293.7 L1529.2,3293.7 L1531.2,3293.7 L1533.2,3293.8 L1535.2,3293.8 L1537.2,3293.8 L1539.2,3293.8 L1541.2,3293.9 L1543.2,3293.9 L1545.2,3293.9 L1547.2,3293.9 L1549.2,3293.9 L1551.2,3294.0 L1553.2,3294.0" fill="none" stroke="#000" stroke-width="12.00" stroke-linecap="round" stroke-linejoin="round"/>
<rect x="406.0" y="1962.5" width="1837.0" height="1480.0" fill="none" stroke="#000" stroke-width="12.0" stroke-linejoin="miter"/>
<line x1="406.0" y1="3442.5" x2="393.0" y2="3442.5" stroke="#000" stroke-width="12.0" stroke-linecap="round"/>
<line x1="406.0" y1="3319.2" x2="379.7" y2="3319.2" stroke="#000" stroke-width="12.0" stroke-linecap="round"/>
<line x1="406.0" y1="3195.8" x2="393.0" y2="3195.8" stroke="#000" stroke-width="12.0" stroke-linecap="round"/>
<line x1="406.0" y1="3072.5" x2="379.7" y2="3072.5" stroke="#000" stroke-width="12.0" stroke-linecap="round"/>
<line x1="406.0" y1="2949.2" x2="393.0" y2="2949.2" stroke="#000" stroke-width="12.0" stroke-linecap="round"/>
<line x1="406.0" y1="2825.8" x2="379.7" y2="2825.8" stroke="#000" stroke-width="12.0" stroke-linecap="round"/>
<line x1="406.0" y1="2702.5" x2="393.0" y2="2702.5" stroke="#000" stroke-width="12.0" stroke-linecap="round"/>
<line x1="406.0" y1="2579.2" x2="379.7" y2="2579.2" stroke="#000" stroke-width="12.0" stroke-linecap="round"/>
<line x1="406.0" y1="2455.8" x2="393.0" y2="2455.8" stroke="#000" stroke-width="12.0" stroke-linecap="round"/>
<line x1="406.0" y1="2332.5" x2="379.7" y2="2332.5" stroke="#000" stroke-width="12.0" stroke-linecap="round"/>
<line x1="406.0" y1="2209.2" x2="393.0" y2="2209.2" stroke="#000" stroke-width="12.0" stroke-linecap="round"/>
<line x1="406.0" y1="2085.8" x2="379.7" y2="2085.8" stroke="#000" stroke-width="12.0" stroke-linecap="round"/>
<line x1="406.0" y1="1962.5" x2="393.0" y2="1962.5" stroke="#000" stroke-width="12.0" stroke-linecap="round"/>
<line x1="406.0" y1="3442.5" x2="406.0" y2="3470.0" stroke="#000" stroke-width="12.0" stroke-linecap="round"/>
<line x1="635.6" y1="3442.5" x2="635.6" y2="3454.0" stroke="#000" stroke-width="12.0" stroke-linecap="round"/>
<line x1="865.2" y1="3442.5" x2="865.2" y2="3470.0" stroke="#000" stroke-width="12.0" stroke-linecap="round"/>
<line x1="1094.9" y1="3442.5" x2="1094.9" y2="3454.0" stroke="#000" stroke-width="12.0" stroke-linecap="round"/>
<line x1="1324.5" y1="3442.5" x2="1324.5" y2="3470.0" stroke="#000" stroke-width="12.0" stroke-linecap="round"/>
<line x1="1554.1" y1="3442.5" x2="1554.1" y2="3454.0" stroke="#000" stroke-width="12.0" stroke-linecap="round"/>
<line x1="1783.8" y1="3442.5" x2="1783.8" y2="3470.0" stroke="#000" stroke-width="12.0" stroke-linecap="round"/>
<line x1="2013.4" y1="3442.5" x2="2013.4" y2="3454.0" stroke="#000" stroke-width="12.0" stroke-linecap="round"/>
<line x1="2243.0" y1="3442.5" x2="2243.0" y2="3470.0" stroke="#000" stroke-width="12.0" stroke-linecap="round"/>
<text x="247.2" y="2106.8" font-size="76.0" font-family="'Liberation Serif','Times New Roman',serif" font-weight="bold">100</text>
<text x="285.2" y="2353.5" font-size="76.0" font-family="'Liberation Serif','Times New Roman',serif" font-weight="bold">80</text>
<text x="285.2" y="2600.2" font-size="76.0" font-family="'Liberation Serif','Times New Roman',serif" font-weight="bold">60</text>
<text x="285.2" y="2846.8" font-size="76.0" font-family="'Liberation Serif','Times New Roman',serif" font-weight="bold">40</text>
<text x="285.2" y="3093.5" font-size="76.0" font-family="'Liberation Serif','Times New Roman',serif" font-weight="bold">20</text>
<text x="323.2" y="3340.2" font-size="76.0" font-family="'Liberation Serif','Times New Roman',serif" font-weight="bold">0</text>
<text x="387.0" y="3547.3" font-size="76.0" font-family="'Liberation Serif','Times New Roman',serif" font-weight="bold">0</text>
<text x="808.1" y="3547.3" font-size="76.0" font-family="'Liberation Serif','Times New Roman',serif" font-weight="bold">200</text>
<text x="1268.4" y="3547.3" font-size="76.0" font-family="'Liberation Serif','Times New Roman',serif" font-weight="bold">400</text>
<text x="1726.9" y="3547.3" font-size="76.0" font-family="'Liberation Serif','Times New Roman',serif" font-weight="bold">600</text>
<text x="2186.2" y="3547.3" font-size="76.0" font-family="'Liberation Serif','Times New Roman',serif" font-weight="bold">800</text>
<text x="1108.3" y="3648.6" font-size="75.0" font-family="'Liberation Serif','Times New Roman',serif" font-weight="bold" textLength="564.8" lengthAdjust="spacingAndGlyphs">Temperature (°C)</text>
<text transform="rotate(-90)" x="-2845.2" y="198.9" font-size="76.0" font-family="'Liberation Serif','Times New Roman',serif" font-weight="bold" textLength="310.6" lengthAdjust="spacingAndGlyphs">Mass (%)</text>
<text x="43.0" y="2071.6" font-size="150.0" font-family="'Liberation Serif','Times New Roman',serif" textLength="169.5" lengthAdjust="spacingAndGlyphs">(c)</text>
<text x="1579.2" y="3071.9" font-size="68.0" font-family="'Liberation Serif','Times New Roman',serif" textLength="239.3" lengthAdjust="spacingAndGlyphs">cellulose</text>
<text x="1567.9" y="3310.8" font-size="68.0" font-family="'Liberation Serif','Times New Roman',serif">E</text>
<text x="1608.7" y="3337.1" font-size="42.0" font-family="'Liberation Serif','Times New Roman',serif">2</text>
<text x="1629.9" y="3311.3" font-size="68.0" font-family="'Liberation Serif','Times New Roman',serif">C</text>
<text x="1674.3" y="3337.1" font-size="42.0" font-family="'Liberation Serif','Times New Roman',serif">16</text>
<rect x="1345.3" y="1972.0" width="877.2" height="778.9" fill="#fff" stroke="none"/>
<path d="M1345.0,2181.5 L1347.0,2181.7 L1349.0,2181.9 L1351.0,2182.2 L1352.9,2182.4 L1354.9,2182.6 L1356.9,2182.9 L1358.9,2183.1 L1360.9,2183.3 L1362.9,2183.5 L1364.9,2183.7 L1366.9,2184.0 L1368.8,2184.2 L1370.8,2184.4 L1372.8,2184.6 L1374.8,2184.8 L1376.8,2185.1 L1378.8,2185.3 L1380.8,2185.5 L1382.8,2185.7 L1384.8,2185.9 L1386.7,2186.1 L1388.7,2186.3 L1390.7,2186.5 L1392.7,2186.7 L1394.7,2187.0 L1396.7,2187.2 L1398.7,2187.4 L1400.7,2187.6 L1402.7,2187.8 L1404.6,2188.0 L1406.6,2188.2 L1408.6,2188.4 L1410.6,2188.6 L1412.6,2188.8 L1414.6,2189.0 L1416.6,2189.2 L1418.6,2189.4 L1420.6,2189.6 L1422.6,2189.8 L1424.5,2190.0 L1426.5,2190.2 L1428.5,2190.4 L1430.5,2190.6 L1432.5,2190.8 L1434.5,2191.0 L1436.5,2191.2 L1438.5,2191.4 L1440.5,2191.7 L1442.4,2191.9 L1444.4,2192.1 L1446.4,2192.3 L1448.4,2192.5 L1450.4,2192.7 L1452.4,2192.9 L1454.4,2193.1 L1456.4,2193.3 L1458.4,2193.5 L1460.4,2193.7 L1462.3,2193.9 L1464.3,2194.1 L1466.3,2194.3 L1468.3,2194.5 L1470.3,2194.7 L1472.3,2195.0 L1474.3,2195.2 L1476.3,2195.4 L1478.3,2195.6 L1480.2,2195.8 L1482.2,2196.0 L1484.2,2196.2 L1486.2,2196.4 L1488.2,2196.7 L1490.2,2196.9 L1492.2,2197.1 L1494.2,2197.3 L1496.1,2197.5 L1498.1,2197.8 L1500.1,2198.0 L1502.1,2198.2 L1504.1,2198.4 L1506.1,2198.7 L1508.1,2198.9 L1510.1,2199.1 L1512.0,2199.3 L1514.0,2199.6 L1516.0,2199.8 L1518.0,2200.0 L1520.0,2200.3 L1522.0,2200.5 L1524.0,2200.8 L1525.9,2201.0 L1527.9,2201.2 L1529.9,2201.5 L1531.9,2201.7 L1533.9,2202.0 L1535.9,2202.2 L1537.9,2202.5 L1539.8,2202.7 L1541.8,2203.0 L1543.8,2203.2 L1545.8,2203.5 L1547.8,2203.7 L1549.8,2204.0 L1551.7,2204.3 L1553.7,2204.5 L1555.7,2204.8 L1557.7,2205.1 L1559.7,2205.3 L1561.7,2205.6 L1563.6,2205.9 L1565.6,2206.2 L1567.6,2206.4 L1569.6,2206.7 L1571.6,2207.0 L1573.5,2207.3 L1575.5,2207.6 L1577.5,2207.9 L1579.5,2208.2 L1581.5,2208.5 L1583.4,2208.8 L1585.4,2209.1 L1587.4,2209.4 L1589.4,2209.7 L1591.3,2210.0 L1593.3,2210.3 L1595.3,2210.6 L1597.3,2210.9 L1599.2,2211.2 L1601.2,2211.6 L1603.2,2211.9 L1605.2,2212.2 L1607.1,2212.5 L1609.1,2212.9 L1611.1,2213.2 L1613.0,2213.5 L1615.0,2213.9 L1617.0,2214.2 L1619.0,2214.6 L1620.9,2214.9 L1622.9,2215.3 L1624.9,2215.6 L1626.8,2216.0 L1628.8,2216.4 L1630.8,2216.7 L1632.7,2217.1 L1634.7,2217.5 L1636.7,2217.8 L1638.6,2218.2 L1640.6,2218.6 L1642.6,2219.0 L1644.5,2219.4 L1646.5,2219.8 L1648.4,2220.1 L1650.4,2220.5 L1652.4,2220.9 L1654.3,2221.3 L1656.3,2221.8 L1658.2,2222.2 L1660.2,2222.6 L1662.2,2223.0 L1664.1,2223.4 L1666.1,2223.8 L1668.0,2224.3 L1670.0,2224.7 L1671.9,2225.1 L1673.9,2225.6 L1675.8,2226.0 L1677.8,2226.5 L1679.7,2226.9 L1681.7,2227.4 L1683.6,2227.8 L1685.6,2228.3 L1687.5,2228.8 L1689.5,2229.2 L1691.4,2229.7 L1693.3,2230.2 L1695.3,2230.7 L1697.2,2231.2 L1699.2,2231.6 L1701.1,2232.1 L1703.0,2232.6 L1705.0,2233.1 L1706.9,2233.6 L1708.8,2234.1 L1710.8,2234.7 L1712.7,2235.2 L1714.6,2235.7 L1716.6,2236.2 L1718.5,2236.8 L1720.4,2237.3 L1722.4,2237.8 L1724.3,2238.4 L1726.2,2238.9 L1728.1,2239.5 L1730.1,2240.0 L1732.0,2240.6 L1733.9,2241.1 L1735.8,2241.7 L1737.7,2242.3 L1739.6,2242.9 L1741.6,2243.4 L1743.5,2244.0 L1745.4,2244.6 L1747.3,2245.2 L1749.2,2245.8 L1751.1,2246.4 L1753.0,2247.0 L1754.9,2247.6 L1756.8,2248.3 L1758.7,2248.9 L1760.6,2249.5 L1762.5,2250.1 L1764.4,2250.8 L1766.3,2251.4 L1768.2,2252.0 L1770.1,2252.7 L1772.0,2253.3 L1773.9,2254.0 L1775.8,2254.7 L1777.7,2255.3 L1779.5,2256.0 L1781.4,2256.7 L1783.3,2257.4 L1785.2,2258.0 L1787.1,2258.7 L1788.9,2259.4 L1790.8,2260.1 L1792.7,2260.8 L1794.6,2261.5 L1796.4,2262.2 L1798.3,2263.0 L1800.2,2263.7 L1802.0,2264.4 L1803.9,2265.1 L1805.8,2265.9 L1807.6,2266.6 L1809.5,2267.4 L1811.3,2268.1 L1813.2,2268.9 L1815.0,2269.6 L1816.9,2270.4 L1818.7,2271.2 L1820.6,2271.9 L1822.4,2272.7 L1824.3,2273.5 L1826.1,2274.3 L1827.9,2275.1 L1829.8,2275.9 L1831.6,2276.7 L1833.4,2277.5 L1835.3,2278.3 L1837.1,2279.1 L1838.9,2279.9 L1840.7,2280.8 L1842.6,2281.6 L1844.4,2282.4 L1846.2,2283.3 L1848.0,2284.1 L1849.8,2285.0 L1851.6,2285.8 L1853.4,2286.7 L1855.3,2287.5 L1857.1,2288.4 L1858.9,2289.3 L1860.7,2290.1 L1862.5,2291.0 L1864.2,2291.9 L1866.0,2292.8 L1867.8,2293.7 L1869.6,2294.6 L1871.4,2295.5 L1873.2,2296.4 L1875.0,2297.3 L1876.7,2298.2 L1878.5,2299.2 L1880.3,2300.1 L1882.1,2301.0 L1883.8,2302.0 L1885.6,2302.9 L1887.4,2303.9 L1889.1,2304.8 L1890.9,2305.8 L1892.6,2306.7 L1894.4,2307.7 L1896.1,2308.7 L1897.9,2309.6 L1899.6,2310.6 L1901.4,2311.6 L1903.1,2312.6 L1904.8,2313.6 L1906.6,2314.6 L1908.3,2315.6 L1910.0,2316.6 L1911.8,2317.6 L1913.5,2318.6 L1915.2,2319.7 L1916.9,2320.7 L1918.6,2321.7 L1920.4,2322.7 L1922.1,2323.8 L1923.8,2324.8 L1925.5,2325.9 L1927.2,2326.9 L1928.9,2328.0 L1930.6,2329.1 L1932.3,2330.1 L1934.0,2331.2 L1935.7,2332.3 L1937.3,2333.4 L1939.0,2334.4 L1940.7,2335.5 L1942.4,2336.6 L1944.0,2337.7 L1945.7,2338.8 L1947.4,2339.9 L1949.0,2341.0 L1950.7,2342.2 L1952.4,2343.3 L1954.0,2344.4 L1955.7,2345.5 L1957.3,2346.7 L1959.0,2347.8 L1960.6,2349.0 L1962.3,2350.1 L1963.9,2351.3 L1965.5,2352.4 L1967.2,2353.6 L1968.8,2354.7 L1970.4,2355.9 L1972.0,2357.1 L1973.6,2358.3 L1975.3,2359.4 L1976.9,2360.6 L1978.5,2361.8 L1980.1,2363.0 L1981.7,2364.2 L1983.3,2365.4 L1984.9,2366.6 L1986.5,2367.8 L1988.1,2369.0 L1989.7,2370.3 L1991.3,2371.5 L1992.8,2372.7 L1994.4,2374.0 L1996.0,2375.2 L1997.6,2376.4 L1999.1,2377.7 L2000.7,2378.9 L2002.3,2380.2 L2003.8,2381.4 L2005.4,2382.7 L2006.9,2383.9 L2008.5,2385.2 L2010.0,2386.5 L2011.6,2387.8 L2013.1,2389.0 L2014.6,2390.3 L2016.2,2391.6 L2017.7,2392.9 L2019.2,2394.2 L2020.8,2395.5 L2022.3,2396.8 L2023.8,2398.1 L2025.3,2399.4 L2026.8,2400.7 L2028.3,2402.0 L2029.8,2403.3 L2031.3,2404.7 L2032.8,2406.0 L2034.3,2407.3 L2035.8,2408.7 L2037.3,2410.0 L2038.8,2411.3 L2040.3,2412.7 L2041.8,2414.0 L2043.3,2415.4 L2044.7,2416.7 L2046.2,2418.1 L2047.7,2419.5 L2049.1,2420.8 L2050.6,2422.2 L2052.1,2423.6 L2053.5,2424.9 L2055.0,2426.3 L2056.4,2427.7 L2057.9,2429.1 L2059.3,2430.5 L2060.7,2431.9 L2062.2,2433.3 L2063.6,2434.6 L2065.0,2436.0 L2066.5,2437.5 L2067.9,2438.9 L2069.3,2440.3 L2070.7,2441.7 L2072.2,2443.1 L2073.6,2444.5 L2075.0,2445.9 L2076.4,2447.4 L2077.8,2448.8 L2079.2,2450.2 L2080.6,2451.7 L2082.0,2453.1 L2083.4,2454.5 L2084.7,2456.0 L2086.1,2457.4 L2087.5,2458.9 L2088.9,2460.3 L2090.3,2461.8 L2091.6,2463.2 L2093.0,2464.7 L2094.4,2466.2 L2095.7,2467.6 L2097.1,2469.1 L2098.5,2470.6 L2099.8,2472.0 L2101.2,2473.5 L2102.5,2475.0 L2103.9,2476.5 L2105.2,2478.0 L2106.5,2479.5 L2107.9,2480.9 L2109.2,2482.4 L2110.5,2483.9 L2111.9,2485.4 L2113.2,2486.9 L2114.5,2488.4 L2115.8,2489.9 L2117.2,2491.5 L2118.5,2493.0 L2119.8,2494.5 L2121.1,2496.0 L2122.4,2497.5 L2123.7,2499.0 L2125.0,2500.6 L2126.3,2502.1 L2127.6,2503.6 L2128.9,2505.1 L2130.2,2506.7 L2131.5,2508.2 L2132.7,2509.7 L2134.0,2511.3 L2135.3,2512.8 L2136.6,2514.4 L2137.8,2515.9 L2139.1,2517.5 L2140.4,2519.0 L2141.6,2520.6 L2142.9,2522.1 L2144.2,2523.7 L2145.4,2525.2 L2146.7,2526.8 L2147.9,2528.4 L2149.2,2529.9 L2150.4,2531.5 L2151.6,2533.1 L2152.9,2534.7 L2154.1,2536.2 L2155.4,2537.8 L2156.6,2539.4 L2157.8,2541.0 L2159.0,2542.5 L2160.3,2544.1 L2161.5,2545.7 L2162.7,2547.3 L2163.9,2548.9 L2165.1,2550.5 L2166.3,2552.1 L2167.5,2553.7 L2168.7,2555.3 L2169.9,2556.9 L2171.1,2558.5 L2172.3,2560.1 L2173.5,2561.7 L2174.7,2563.3 L2175.9,2564.9 L2177.1,2566.5 L2178.3,2568.1 L2179.5,2569.8 L2180.7,2571.4 L2181.8,2573.0 L2183.0,2574.6 L2184.2,2576.2 L2185.3,2577.9 L2186.5,2579.5 L2187.7,2581.1 L2188.8,2582.8 L2190.0,2584.4 L2191.2,2586.0 L2192.3,2587.7 L2193.5,2589.3 L2194.6,2590.9 L2195.8,2592.6 L2196.9,2594.2 L2198.1,2595.9 L2199.2,2597.5 L2200.3,2599.1 L2201.5,2600.8 L2202.6,2602.4 L2203.7,2604.1 L2204.9,2605.8 L2206.0,2607.4 L2207.1,2609.1 L2208.2,2610.7 L2209.4,2612.4 L2210.5,2614.0 L2211.6,2615.7 L2212.7,2617.4 L2213.8,2619.0 L2214.9,2620.7 L2216.0,2622.4 L2217.1,2624.0 L2218.2,2625.7 L2219.3,2627.4 L2220.4,2629.1 L2221.5,2630.7 L2222.6,2632.4 L2223.7,2634.1 L2224.8,2635.8 L2225.9,2637.4 L2226.0,2637.6" fill="none" stroke="#000" stroke-width="2.60" stroke-linecap="butt" stroke-linejoin="round" clip-path="url(#ic)"/>
<path d="M1345.0,2192.2 L1347.0,2192.2 L1349.0,2192.3 L1351.0,2192.3 L1353.0,2192.4 L1355.0,2192.4 L1357.0,2192.5 L1359.0,2192.5 L1361.0,2192.6 L1363.0,2192.6 L1365.0,2192.7 L1367.0,2192.7 L1369.0,2192.8 L1371.0,2192.8 L1373.0,2192.9 L1375.0,2192.9 L1377.0,2193.0 L1379.0,2193.0 L1381.0,2193.1 L1383.0,2193.1 L1385.0,2193.2 L1387.0,2193.2 L1389.0,2193.3 L1391.0,2193.3 L1393.0,2193.4 L1395.0,2193.4 L1397.0,2193.5 L1399.0,2193.5 L1401.0,2193.5 L1403.0,2193.6 L1405.0,2193.6 L1407.0,2193.7 L1409.0,2193.7 L1411.0,2193.8 L1413.0,2193.8 L1415.0,2193.9 L1417.0,2193.9 L1419.0,2193.9 L1421.0,2194.0 L1423.0,2194.0 L1425.0,2194.1 L1427.0,2194.1 L1429.0,2194.2 L1431.0,2194.2 L1433.0,2194.2 L1435.0,2194.3 L1437.0,2194.3 L1439.0,2194.4 L1441.0,2194.4 L1443.0,2194.4 L1445.0,2194.5 L1447.0,2194.5 L1449.0,2194.6 L1451.0,2194.6 L1453.0,2194.7 L1455.0,2194.7 L1457.0,2194.7 L1459.0,2194.8 L1461.0,2194.8 L1463.0,2194.9 L1465.0,2194.9 L1467.0,2194.9 L1469.0,2195.0 L1471.0,2195.0 L1473.0,2195.1 L1475.0,2195.1 L1477.0,2195.1 L1479.0,2195.2 L1481.0,2195.2 L1483.0,2195.3 L1485.0,2195.3 L1487.0,2195.3 L1489.0,2195.4 L1491.0,2195.4 L1493.0,2195.5 L1495.0,2195.5 L1497.0,2195.5 L1499.0,2195.6 L1501.0,2195.6 L1503.0,2195.7 L1505.0,2195.7 L1507.0,2195.8 L1509.0,2195.8 L1511.0,2195.8 L1513.0,2195.9 L1515.0,2195.9 L1517.0,2196.0 L1519.0,2196.0 L1521.0,2196.0 L1523.0,2196.1 L1525.0,2196.1 L1527.0,2196.2 L1529.0,2196.2 L1531.0,2196.2 L1533.0,2196.3 L1535.0,2196.3 L1537.0,2196.4 L1539.0,2196.4 L1541.0,2196.4 L1543.0,2196.5 L1545.0,2196.5 L1547.0,2196.6 L1549.0,2196.6 L1551.0,2196.7 L1553.0,2196.7 L1555.0,2196.7 L1556.9,2196.8 L1558.9,2196.8 L1560.9,2196.9 L1562.9,2196.9 L1564.9,2197.0 L1566.9,2197.0 L1568.9,2197.0 L1570.9,2197.1 L1572.9,2197.1 L1574.9,2197.2 L1576.9,2197.2 L1578.9,2197.3 L1580.9,2197.3 L1582.9,2197.3 L1584.9,2197.4 L1586.9,2197.4 L1588.9,2197.5 L1590.9,2197.5 L1592.9,2197.6 L1594.9,2197.6 L1596.9,2197.7 L1598.9,2197.7 L1600.9,2197.8 L1602.9,2197.8 L1604.9,2197.9 L1606.9,2197.9 L1608.9,2197.9 L1610.9,2198.0 L1612.9,2198.0 L1614.9,2198.1 L1616.9,2198.1 L1618.9,2198.2 L1620.9,2198.2 L1622.9,2198.3 L1624.9,2198.3 L1626.9,2198.4 L1628.9,2198.4 L1630.9,2198.5 L1632.9,2198.5 L1634.9,2198.6 L1636.9,2198.6 L1638.9,2198.7 L1640.9,2198.7 L1642.9,2198.8 L1644.9,2198.8 L1646.9,2198.9 L1648.9,2199.0 L1650.9,2199.0 L1652.9,2199.1 L1654.9,2199.1 L1656.9,2199.2 L1658.9,2199.2 L1660.9,2199.3 L1662.9,2199.3 L1664.9,2199.4 L1666.9,2199.4 L1668.9,2199.5 L1670.9,2199.6 L1672.9,2199.6 L1674.9,2199.7 L1676.9,2199.7 L1678.9,2199.8 L1680.9,2199.8 L1682.9,2199.9 L1684.9,2200.0 L1686.9,2200.0 L1688.9,2200.1 L1690.9,2200.2 L1692.9,2200.2 L1694.9,2200.3 L1696.9,2200.3 L1698.9,2200.4 L1700.9,2200.5 L1702.9,2200.5 L1704.9,2200.6 L1706.9,2200.7 L1708.9,2200.7 L1710.9,2200.8 L1712.9,2200.9 L1714.9,2200.9 L1716.9,2201.0 L1718.9,2201.1 L1720.9,2201.1 L1722.9,2201.2 L1724.9,2201.3 L1726.9,2201.3 L1728.9,2201.4 L1730.9,2201.5 L1732.9,2201.5 L1734.9,2201.6 L1736.9,2201.7 L1738.9,2201.8 L1740.9,2201.8 L1742.9,2201.9 L1744.9,2202.0 L1746.9,2202.1 L1748.9,2202.1 L1750.9,2202.2 L1752.9,2202.3 L1754.9,2202.4 L1756.9,2202.4 L1758.9,2202.5 L1760.9,2202.6 L1762.9,2202.7 L1764.9,2202.8 L1766.9,2202.8 L1768.9,2202.9 L1770.9,2203.0 L1772.9,2203.1 L1774.9,2203.2 L1776.9,2203.2 L1778.8,2203.3 L1780.8,2203.4 L1782.8,2203.5 L1784.8,2203.6 L1786.8,2203.7 L1788.8,2203.8 L1790.8,2203.8 L1792.8,2203.9 L1794.8,2204.0 L1796.8,2204.1 L1798.8,2204.2 L1800.8,2204.3 L1802.8,2204.4 L1804.8,2204.5 L1806.8,2204.6 L1808.8,2204.7 L1810.8,2204.8 L1812.8,2204.9 L1814.8,2204.9 L1816.8,2205.0 L1818.8,2205.1 L1820.8,2205.2 L1822.8,2205.3 L1824.8,2205.4 L1826.8,2205.5 L1828.8,2205.6 L1830.8,2205.7 L1832.8,2205.8 L1834.8,2205.9 L1836.8,2206.0 L1838.8,2206.2 L1840.8,2206.3 L1842.8,2206.4 L1844.8,2206.5 L1846.8,2206.6 L1848.8,2206.7 L1850.8,2206.8 L1852.8,2206.9 L1854.8,2207.0 L1856.8,2207.1 L1858.8,2207.2 L1860.8,2207.4 L1862.7,2207.5 L1864.7,2207.6 L1866.7,2207.7 L1868.7,2207.8 L1870.7,2207.9 L1872.7,2208.0 L1874.7,2208.2 L1876.7,2208.3 L1878.7,2208.4 L1880.7,2208.5 L1882.7,2208.6 L1884.7,2208.8 L1886.7,2208.9 L1888.7,2209.0 L1890.7,2209.1 L1892.7,2209.3 L1894.7,2209.4 L1896.7,2209.5 L1898.7,2209.7 L1900.7,2209.8 L1902.7,2209.9 L1904.7,2210.0 L1906.7,2210.2 L1908.7,2210.3 L1910.7,2210.4 L1912.7,2210.6 L1914.6,2210.7 L1916.6,2210.9 L1918.6,2211.0 L1920.6,2211.1 L1922.6,2211.3 L1924.6,2211.4 L1926.6,2211.5 L1928.6,2211.7 L1930.6,2211.8 L1932.6,2212.0 L1934.6,2212.1 L1936.6,2212.3 L1938.6,2212.4 L1940.6,2212.6 L1942.6,2212.7 L1944.6,2212.9 L1946.6,2213.0 L1948.6,2213.2 L1950.6,2213.3 L1952.5,2213.5 L1954.5,2213.6 L1956.5,2213.8 L1958.5,2213.9 L1960.5,2214.1 L1962.5,2214.3 L1964.5,2214.4 L1966.5,2214.6 L1968.5,2214.7 L1970.5,2214.9 L1972.5,2215.1 L1974.5,2215.2 L1976.5,2215.4 L1978.5,2215.6 L1980.5,2215.7 L1982.4,2215.9 L1984.4,2216.1 L1986.4,2216.2 L1988.4,2216.4 L1990.4,2216.6 L1992.4,2216.8 L1994.4,2216.9 L1996.4,2217.1 L1998.4,2217.3 L2000.4,2217.5 L2002.4,2217.6 L2004.4,2217.8 L2006.4,2218.0 L2008.3,2218.2 L2010.3,2218.4 L2012.3,2218.6 L2014.3,2218.7 L2016.3,2218.9 L2018.3,2219.1 L2020.3,2219.3 L2022.3,2219.5 L2024.3,2219.7 L2026.3,2219.9 L2028.3,2220.1 L2030.3,2220.3 L2032.2,2220.5 L2034.2,2220.7 L2036.2,2220.9 L2038.2,2221.1 L2040.2,2221.3 L2042.2,2221.5 L2044.2,2221.7 L2046.2,2221.9 L2048.2,2222.1 L2050.1,2222.3 L2052.1,2222.5 L2054.1,2222.7 L2056.1,2222.9 L2058.1,2223.1 L2060.1,2223.3 L2062.1,2223.6 L2064.1,2223.8 L2066.1,2224.0 L2068.0,2224.2 L2070.0,2224.4 L2072.0,2224.6 L2074.0,2224.9 L2076.0,2225.1 L2078.0,2225.3 L2080.0,2225.5 L2082.0,2225.8 L2083.9,2226.0 L2085.9,2226.2 L2087.9,2226.4 L2089.9,2226.7 L2091.9,2226.9 L2093.9,2227.1 L2095.9,2227.4 L2097.9,2227.6 L2099.8,2227.9 L2101.8,2228.1 L2103.8,2228.3 L2105.8,2228.6 L2107.8,2228.8 L2109.8,2229.1 L2111.8,2229.3 L2113.7,2229.6 L2115.7,2229.8 L2117.7,2230.1 L2119.7,2230.3 L2121.7,2230.6 L2123.7,2230.8 L2125.6,2231.1 L2127.6,2231.3 L2129.6,2231.6 L2131.6,2231.8 L2133.6,2232.1 L2135.6,2232.4 L2137.5,2232.6 L2139.5,2232.9 L2141.5,2233.1 L2143.5,2233.4 L2145.5,2233.7 L2147.5,2233.9 L2149.4,2234.2 L2151.4,2234.5 L2153.4,2234.8 L2155.4,2235.0 L2157.4,2235.3 L2159.3,2235.6 L2161.3,2235.9 L2163.3,2236.2 L2165.3,2236.4 L2167.3,2236.7 L2169.2,2237.0 L2171.2,2237.3 L2173.2,2237.6 L2175.2,2237.9 L2177.2,2238.2 L2179.1,2238.4 L2181.1,2238.7 L2183.1,2239.0 L2185.1,2239.3 L2187.0,2239.6 L2189.0,2239.9 L2191.0,2240.2 L2193.0,2240.5 L2195.0,2240.8 L2196.9,2241.1 L2198.9,2241.4 L2200.9,2241.8 L2202.9,2242.1 L2204.8,2242.4 L2206.8,2242.7 L2208.8,2243.0 L2210.8,2243.3 L2212.7,2243.6 L2214.7,2243.9 L2216.7,2244.3 L2218.7,2244.6 L2220.6,2244.9 L2222.6,2245.2 L2224.6,2245.6 L2226.0,2245.8" fill="none" stroke="#000" stroke-width="2.60" stroke-linecap="butt" stroke-linejoin="round" clip-path="url(#ic)"/>
<path d="M1345.0,2200.1 L1347.0,2200.3 L1349.0,2200.5 L1351.0,2200.7 L1353.0,2200.9 L1354.9,2201.1 L1356.9,2201.3 L1358.9,2201.5 L1360.9,2201.8 L1362.9,2202.0 L1364.9,2202.2 L1366.9,2202.4 L1368.9,2202.6 L1370.9,2202.8 L1372.9,2203.0 L1374.8,2203.2 L1376.8,2203.4 L1378.8,2203.6 L1380.8,2203.8 L1382.8,2204.0 L1384.8,2204.2 L1386.8,2204.4 L1388.8,2204.6 L1390.8,2204.8 L1392.8,2205.0 L1394.7,2205.2 L1396.7,2205.4 L1398.7,2205.6 L1400.7,2205.8 L1402.7,2206.0 L1404.7,2206.2 L1406.7,2206.4 L1408.7,2206.6 L1410.7,2206.8 L1412.7,2207.0 L1414.6,2207.2 L1416.6,2207.4 L1418.6,2207.6 L1420.6,2207.8 L1422.6,2208.0 L1424.6,2208.2 L1426.6,2208.4 L1428.6,2208.6 L1430.6,2208.8 L1432.5,2209.0 L1434.5,2209.2 L1436.5,2209.4 L1438.5,2209.6 L1440.5,2209.9 L1442.5,2210.1 L1444.5,2210.3 L1446.5,2210.5 L1448.5,2210.7 L1450.4,2210.9 L1452.4,2211.1 L1454.4,2211.3 L1456.4,2211.6 L1458.4,2211.8 L1460.4,2212.0 L1462.4,2212.2 L1464.4,2212.4 L1466.4,2212.7 L1468.3,2212.9 L1470.3,2213.1 L1472.3,2213.3 L1474.3,2213.6 L1476.3,2213.8 L1478.3,2214.0 L1480.3,2214.3 L1482.2,2214.5 L1484.2,2214.7 L1486.2,2215.0 L1488.2,2215.2 L1490.2,2215.4 L1492.2,2215.7 L1494.2,2215.9 L1496.1,2216.2 L1498.1,2216.4 L1500.1,2216.7 L1502.1,2216.9 L1504.1,2217.2 L1506.1,2217.4 L1508.1,2217.7 L1510.0,2217.9 L1512.0,2218.2 L1514.0,2218.4 L1516.0,2218.7 L1518.0,2219.0 L1520.0,2219.2 L1521.9,2219.5 L1523.9,2219.8 L1525.9,2220.1 L1527.9,2220.3 L1529.9,2220.6 L1531.8,2220.9 L1533.8,2221.2 L1535.8,2221.5 L1537.8,2221.7 L1539.8,2222.0 L1541.7,2222.3 L1543.7,2222.6 L1545.7,2222.9 L1547.7,2223.2 L1549.6,2223.5 L1551.6,2223.8 L1553.6,2224.1 L1555.6,2224.4 L1557.6,2224.7 L1559.5,2225.0 L1561.5,2225.4 L1563.5,2225.7 L1565.5,2226.0 L1567.4,2226.3 L1569.4,2226.7 L1571.4,2227.0 L1573.3,2227.3 L1575.3,2227.7 L1577.3,2228.0 L1579.3,2228.3 L1581.2,2228.7 L1583.2,2229.0 L1585.2,2229.4 L1587.1,2229.7 L1589.1,2230.1 L1591.1,2230.4 L1593.0,2230.8 L1595.0,2231.2 L1597.0,2231.5 L1598.9,2231.9 L1600.9,2232.3 L1602.9,2232.7 L1604.8,2233.0 L1606.8,2233.4 L1608.8,2233.8 L1610.7,2234.2 L1612.7,2234.6 L1614.6,2235.0 L1616.6,2235.4 L1618.6,2235.8 L1620.5,2236.2 L1622.5,2236.6 L1624.4,2237.0 L1626.4,2237.5 L1628.3,2237.9 L1630.3,2238.3 L1632.3,2238.7 L1634.2,2239.2 L1636.2,2239.6 L1638.1,2240.1 L1640.1,2240.5 L1642.0,2240.9 L1644.0,2241.4 L1645.9,2241.9 L1647.9,2242.3 L1649.8,2242.8 L1651.7,2243.2 L1653.7,2243.7 L1655.6,2244.2 L1657.6,2244.7 L1659.5,2245.1 L1661.5,2245.6 L1663.4,2246.1 L1665.3,2246.6 L1667.3,2247.1 L1669.2,2247.6 L1671.1,2248.1 L1673.1,2248.6 L1675.0,2249.1 L1676.9,2249.7 L1678.9,2250.2 L1680.8,2250.7 L1682.7,2251.2 L1684.7,2251.8 L1686.6,2252.3 L1688.5,2252.9 L1690.4,2253.4 L1692.4,2254.0 L1694.3,2254.5 L1696.2,2255.1 L1698.1,2255.6 L1700.0,2256.2 L1702.0,2256.8 L1703.9,2257.4 L1705.8,2257.9 L1707.7,2258.5 L1709.6,2259.1 L1711.5,2259.7 L1713.4,2260.3 L1715.3,2260.9 L1717.2,2261.5 L1719.2,2262.1 L1721.1,2262.8 L1723.0,2263.4 L1724.9,2264.0 L1726.8,2264.6 L1728.7,2265.3 L1730.5,2265.9 L1732.4,2266.6 L1734.3,2267.2 L1736.2,2267.9 L1738.1,2268.5 L1740.0,2269.2 L1741.9,2269.8 L1743.8,2270.5 L1745.7,2271.2 L1747.5,2271.9 L1749.4,2272.5 L1751.3,2273.2 L1753.2,2273.9 L1755.1,2274.6 L1756.9,2275.3 L1758.8,2276.0 L1760.7,2276.8 L1762.5,2277.5 L1764.4,2278.2 L1766.3,2278.9 L1768.1,2279.7 L1770.0,2280.4 L1771.8,2281.1 L1773.7,2281.9 L1775.6,2282.6 L1777.4,2283.4 L1779.3,2284.1 L1781.1,2284.9 L1783.0,2285.7 L1784.8,2286.4 L1786.7,2287.2 L1788.5,2288.0 L1790.3,2288.8 L1792.2,2289.6 L1794.0,2290.4 L1795.8,2291.2 L1797.7,2292.0 L1799.5,2292.8 L1801.3,2293.6 L1803.2,2294.4 L1805.0,2295.3 L1806.8,2296.1 L1808.6,2296.9 L1810.4,2297.8 L1812.2,2298.6 L1814.1,2299.5 L1815.9,2300.3 L1817.7,2301.2 L1819.5,2302.0 L1821.3,2302.9 L1823.1,2303.8 L1824.9,2304.6 L1826.7,2305.5 L1828.5,2306.4 L1830.3,2307.3 L1832.1,2308.2 L1833.8,2309.1 L1835.6,2310.0 L1837.4,2310.9 L1839.2,2311.8 L1841.0,2312.7 L1842.8,2313.7 L1844.5,2314.6 L1846.3,2315.5 L1848.1,2316.5 L1849.8,2317.4 L1851.6,2318.3 L1853.4,2319.3 L1855.1,2320.2 L1856.9,2321.2 L1858.6,2322.2 L1860.4,2323.1 L1862.1,2324.1 L1863.9,2325.1 L1865.6,2326.1 L1867.4,2327.1 L1869.1,2328.1 L1870.8,2329.0 L1872.6,2330.0 L1874.3,2331.1 L1876.0,2332.1 L1877.8,2333.1 L1879.5,2334.1 L1881.2,2335.1 L1882.9,2336.1 L1884.6,2337.2 L1886.3,2338.2 L1888.1,2339.2 L1889.8,2340.3 L1891.5,2341.3 L1893.2,2342.4 L1894.9,2343.5 L1896.6,2344.5 L1898.3,2345.6 L1900.0,2346.7 L1901.6,2347.7 L1903.3,2348.8 L1905.0,2349.9 L1906.7,2351.0 L1908.4,2352.1 L1910.0,2353.2 L1911.7,2354.3 L1913.4,2355.4 L1915.1,2356.5 L1916.7,2357.6 L1918.4,2358.7 L1920.0,2359.8 L1921.7,2361.0 L1923.3,2362.1 L1925.0,2363.2 L1926.6,2364.4 L1928.3,2365.5 L1929.9,2366.6 L1931.6,2367.8 L1933.2,2368.9 L1934.8,2370.1 L1936.5,2371.3 L1938.1,2372.4 L1939.7,2373.6 L1941.3,2374.8 L1942.9,2376.0 L1944.6,2377.2 L1946.2,2378.3 L1947.8,2379.5 L1949.4,2380.7 L1951.0,2381.9 L1952.6,2383.1 L1954.2,2384.4 L1955.8,2385.6 L1957.3,2386.8 L1958.9,2388.0 L1960.5,2389.2 L1962.1,2390.5 L1963.7,2391.7 L1965.2,2392.9 L1966.8,2394.2 L1968.4,2395.4 L1969.9,2396.7 L1971.5,2397.9 L1973.1,2399.2 L1974.6,2400.5 L1976.2,2401.7 L1977.7,2403.0 L1979.3,2404.3 L1980.8,2405.5 L1982.3,2406.8 L1983.9,2408.1 L1985.4,2409.4 L1986.9,2410.7 L1988.5,2412.0 L1990.0,2413.3 L1991.5,2414.6 L1993.0,2415.9 L1994.5,2417.2 L1996.0,2418.5 L1997.5,2419.9 L1999.0,2421.2 L2000.5,2422.5 L2002.0,2423.8 L2003.5,2425.2 L2005.0,2426.5 L2006.5,2427.9 L2008.0,2429.2 L2009.5,2430.6 L2010.9,2431.9 L2012.4,2433.3 L2013.9,2434.6 L2015.3,2436.0 L2016.8,2437.4 L2018.3,2438.7 L2019.7,2440.1 L2021.2,2441.5 L2022.6,2442.9 L2024.1,2444.3 L2025.5,2445.7 L2026.9,2447.0 L2028.4,2448.4 L2029.8,2449.8 L2031.2,2451.2 L2032.7,2452.6 L2034.1,2454.1 L2035.5,2455.5 L2036.9,2456.9 L2038.3,2458.3 L2039.7,2459.7 L2041.1,2461.2 L2042.5,2462.6 L2043.9,2464.0 L2045.3,2465.5 L2046.7,2466.9 L2048.1,2468.3 L2049.5,2469.8 L2050.9,2471.2 L2052.3,2472.7 L2053.6,2474.1 L2055.0,2475.6 L2056.4,2477.0 L2057.8,2478.5 L2059.1,2480.0 L2060.5,2481.4 L2061.8,2482.9 L2063.2,2484.4 L2064.5,2485.9 L2065.9,2487.4 L2067.2,2488.8 L2068.6,2490.3 L2069.9,2491.8 L2071.2,2493.3 L2072.6,2494.8 L2073.9,2496.3 L2075.2,2497.8 L2076.6,2499.3 L2077.9,2500.8 L2079.2,2502.3 L2080.5,2503.8 L2081.8,2505.3 L2083.1,2506.9 L2084.4,2508.4 L2085.7,2509.9 L2087.0,2511.4 L2088.3,2513.0 L2089.6,2514.5 L2090.9,2516.0 L2092.2,2517.6 L2093.5,2519.1 L2094.7,2520.6 L2096.0,2522.2 L2097.3,2523.7 L2098.6,2525.3 L2099.8,2526.8 L2101.1,2528.4 L2102.3,2529.9 L2103.6,2531.5 L2104.9,2533.1 L2106.1,2534.6 L2107.4,2536.2 L2108.6,2537.8 L2109.8,2539.3 L2111.1,2540.9 L2112.3,2542.5 L2113.6,2544.0 L2114.8,2545.6 L2116.0,2547.2 L2117.2,2548.8 L2118.5,2550.4 L2119.7,2552.0 L2120.9,2553.6 L2122.1,2555.1 L2123.3,2556.7 L2124.5,2558.3 L2125.7,2559.9 L2126.9,2561.5 L2128.1,2563.1 L2129.3,2564.7 L2130.5,2566.4 L2131.7,2568.0 L2132.9,2569.6 L2134.1,2571.2 L2135.3,2572.8 L2136.5,2574.4 L2137.6,2576.0 L2138.8,2577.7 L2140.0,2579.3 L2141.2,2580.9 L2142.3,2582.5 L2143.5,2584.2 L2144.6,2585.8 L2145.8,2587.4 L2147.0,2589.1 L2148.1,2590.7 L2149.3,2592.3 L2150.4,2594.0 L2151.6,2595.6 L2152.7,2597.3 L2153.8,2598.9 L2155.0,2600.6 L2156.1,2602.2 L2157.2,2603.9 L2158.4,2605.5 L2159.5,2607.2 L2160.6,2608.8 L2161.7,2610.5 L2162.9,2612.1 L2164.0,2613.8 L2165.1,2615.5 L2166.2,2617.1 L2167.3,2618.8 L2168.4,2620.5 L2169.5,2622.1 L2170.6,2623.8 L2171.7,2625.5 L2172.8,2627.2 L2173.9,2628.8 L2175.0,2630.5 L2176.1,2632.2 L2177.2,2633.9 L2178.3,2635.6 L2179.4,2637.3 L2180.4,2638.9 L2181.5,2640.6 L2182.6,2642.3 L2183.7,2644.0 L2184.7,2645.7 L2185.8,2647.4 L2186.9,2649.1 L2187.9,2650.8 L2189.0,2652.5 L2190.0,2654.2 L2191.1,2655.9 L2192.2,2657.6 L2193.2,2659.3 L2194.3,2661.0 L2195.3,2662.7 L2196.3,2664.4 L2197.4,2666.1 L2198.4,2667.8 L2199.5,2669.5 L2200.5,2671.3 L2201.5,2673.0 L2202.6,2674.7 L2203.6,2676.4 L2204.6,2678.1 L2205.6,2679.8 L2206.7,2681.6 L2207.7,2683.3 L2208.7,2685.0 L2209.7,2686.7 L2210.7,2688.5 L2211.8,2690.2 L2212.8,2691.9 L2213.8,2693.6 L2214.8,2695.4 L2215.8,2697.1 L2216.8,2698.8 L2217.8,2700.6 L2218.8,2702.3 L2219.8,2704.1 L2220.8,2705.8 L2221.7,2707.5 L2222.7,2709.3 L2223.7,2711.0 L2224.7,2712.8 L2225.7,2714.5 L2226.0,2715.1" fill="none" stroke="#000" stroke-width="2.60" stroke-linecap="butt" stroke-linejoin="round" clip-path="url(#ic)"/>
<path d="M1345.0,2209.8 L1347.0,2210.2 L1348.9,2210.6 L1350.9,2210.9 L1352.9,2211.3 L1354.8,2211.6 L1356.8,2212.0 L1358.8,2212.3 L1360.8,2212.6 L1362.7,2213.0 L1364.7,2213.3 L1366.7,2213.7 L1368.6,2214.0 L1370.6,2214.3 L1372.6,2214.7 L1374.6,2215.0 L1376.5,2215.3 L1378.5,2215.6 L1380.5,2216.0 L1382.4,2216.3 L1384.4,2216.6 L1386.4,2216.9 L1388.4,2217.3 L1390.3,2217.6 L1392.3,2217.9 L1394.3,2218.2 L1396.3,2218.5 L1398.2,2218.8 L1400.2,2219.1 L1402.2,2219.4 L1404.2,2219.8 L1406.1,2220.1 L1408.1,2220.4 L1410.1,2220.7 L1412.1,2221.0 L1414.1,2221.3 L1416.0,2221.6 L1418.0,2221.9 L1420.0,2222.2 L1422.0,2222.5 L1423.9,2222.8 L1425.9,2223.1 L1427.9,2223.4 L1429.9,2223.7 L1431.9,2224.0 L1433.8,2224.2 L1435.8,2224.5 L1437.8,2224.8 L1439.8,2225.1 L1441.7,2225.4 L1443.7,2225.7 L1445.7,2226.0 L1447.7,2226.3 L1449.7,2226.6 L1451.6,2226.9 L1453.6,2227.1 L1455.6,2227.4 L1457.6,2227.7 L1459.6,2228.0 L1461.5,2228.3 L1463.5,2228.6 L1465.5,2228.9 L1467.5,2229.2 L1469.5,2229.4 L1471.4,2229.7 L1473.4,2230.0 L1475.4,2230.3 L1477.4,2230.6 L1479.3,2230.9 L1481.3,2231.2 L1483.3,2231.5 L1485.3,2231.7 L1487.3,2232.0 L1489.2,2232.3 L1491.2,2232.6 L1493.2,2232.9 L1495.2,2233.2 L1497.2,2233.5 L1499.1,2233.8 L1501.1,2234.1 L1503.1,2234.4 L1505.1,2234.7 L1507.1,2234.9 L1509.0,2235.2 L1511.0,2235.5 L1513.0,2235.8 L1515.0,2236.1 L1516.9,2236.4 L1518.9,2236.7 L1520.9,2237.0 L1522.9,2237.3 L1524.9,2237.6 L1526.8,2237.9 L1528.8,2238.2 L1530.8,2238.5 L1532.8,2238.8 L1534.7,2239.2 L1536.7,2239.5 L1538.7,2239.8 L1540.7,2240.1 L1542.6,2240.4 L1544.6,2240.7 L1546.6,2241.0 L1548.6,2241.3 L1550.5,2241.7 L1552.5,2242.0 L1554.5,2242.3 L1556.5,2242.6 L1558.4,2242.9 L1560.4,2243.3 L1562.4,2243.6 L1564.4,2243.9 L1566.3,2244.3 L1568.3,2244.6 L1570.3,2244.9 L1572.2,2245.3 L1574.2,2245.6 L1576.2,2245.9 L1578.2,2246.3 L1580.1,2246.6 L1582.1,2247.0 L1584.1,2247.3 L1586.0,2247.7 L1588.0,2248.0 L1590.0,2248.4 L1591.9,2248.8 L1593.9,2249.1 L1595.9,2249.5 L1597.8,2249.8 L1599.8,2250.2 L1601.8,2250.6 L1603.7,2250.9 L1605.7,2251.3 L1607.7,2251.7 L1609.6,2252.1 L1611.6,2252.5 L1613.6,2252.8 L1615.5,2253.2 L1617.5,2253.6 L1619.4,2254.0 L1621.4,2254.4 L1623.4,2254.8 L1625.3,2255.2 L1627.3,2255.6 L1629.2,2256.0 L1631.2,2256.4 L1633.2,2256.8 L1635.1,2257.3 L1637.1,2257.7 L1639.0,2258.1 L1641.0,2258.5 L1642.9,2259.0 L1644.9,2259.4 L1646.8,2259.8 L1648.8,2260.3 L1650.7,2260.7 L1652.7,2261.1 L1654.6,2261.6 L1656.6,2262.0 L1658.5,2262.5 L1660.5,2262.9 L1662.4,2263.4 L1664.4,2263.9 L1666.3,2264.3 L1668.3,2264.8 L1670.2,2265.3 L1672.2,2265.8 L1674.1,2266.2 L1676.0,2266.7 L1678.0,2267.2 L1679.9,2267.7 L1681.9,2268.2 L1683.8,2268.7 L1685.7,2269.2 L1687.7,2269.7 L1689.6,2270.2 L1691.5,2270.7 L1693.5,2271.3 L1695.4,2271.8 L1697.3,2272.3 L1699.3,2272.8 L1701.2,2273.4 L1703.1,2273.9 L1705.0,2274.5 L1707.0,2275.0 L1708.9,2275.5 L1710.8,2276.1 L1712.7,2276.7 L1714.6,2277.2 L1716.6,2277.8 L1718.5,2278.4 L1720.4,2278.9 L1722.3,2279.5 L1724.2,2280.1 L1726.1,2280.7 L1728.1,2281.3 L1730.0,2281.9 L1731.9,2282.5 L1733.8,2283.1 L1735.7,2283.7 L1737.6,2284.3 L1739.5,2284.9 L1741.4,2285.5 L1743.3,2286.2 L1745.2,2286.8 L1747.1,2287.4 L1749.0,2288.1 L1750.9,2288.7 L1752.8,2289.4 L1754.7,2290.0 L1756.6,2290.7 L1758.4,2291.3 L1760.3,2292.0 L1762.2,2292.7 L1764.1,2293.3 L1766.0,2294.0 L1767.9,2294.7 L1769.7,2295.4 L1771.6,2296.1 L1773.5,2296.8 L1775.4,2297.5 L1777.2,2298.2 L1779.1,2298.9 L1781.0,2299.6 L1782.8,2300.3 L1784.7,2301.1 L1786.6,2301.8 L1788.4,2302.5 L1790.3,2303.3 L1792.1,2304.0 L1794.0,2304.8 L1795.9,2305.5 L1797.7,2306.3 L1799.6,2307.0 L1801.4,2307.8 L1803.2,2308.6 L1805.1,2309.4 L1806.9,2310.1 L1808.8,2310.9 L1810.6,2311.7 L1812.4,2312.5 L1814.3,2313.3 L1816.1,2314.1 L1817.9,2314.9 L1819.8,2315.8 L1821.6,2316.6 L1823.4,2317.4 L1825.2,2318.2 L1827.1,2319.1 L1828.9,2319.9 L1830.7,2320.8 L1832.5,2321.6 L1834.3,2322.5 L1836.1,2323.3 L1837.9,2324.2 L1839.7,2325.1 L1841.5,2325.9 L1843.3,2326.8 L1845.1,2327.7 L1846.9,2328.6 L1848.7,2329.5 L1850.5,2330.4 L1852.3,2331.3 L1854.1,2332.2 L1855.8,2333.1 L1857.6,2334.0 L1859.4,2334.9 L1861.2,2335.9 L1862.9,2336.8 L1864.7,2337.7 L1866.5,2338.7 L1868.2,2339.6 L1870.0,2340.6 L1871.8,2341.5 L1873.5,2342.5 L1875.3,2343.4 L1877.0,2344.4 L1878.8,2345.4 L1880.5,2346.4 L1882.3,2347.4 L1884.0,2348.3 L1885.7,2349.3 L1887.5,2350.3 L1889.2,2351.3 L1890.9,2352.3 L1892.7,2353.4 L1894.4,2354.4 L1896.1,2355.4 L1897.8,2356.4 L1899.5,2357.4 L1901.3,2358.5 L1903.0,2359.5 L1904.7,2360.6 L1906.4,2361.6 L1908.1,2362.7 L1909.8,2363.7 L1911.5,2364.8 L1913.2,2365.8 L1914.9,2366.9 L1916.6,2368.0 L1918.2,2369.1 L1919.9,2370.2 L1921.6,2371.2 L1923.3,2372.3 L1924.9,2373.4 L1926.6,2374.5 L1928.3,2375.6 L1930.0,2376.8 L1931.6,2377.9 L1933.3,2379.0 L1934.9,2380.1 L1936.6,2381.2 L1938.2,2382.4 L1939.9,2383.5 L1941.5,2384.7 L1943.2,2385.8 L1944.8,2386.9 L1946.4,2388.1 L1948.1,2389.3 L1949.7,2390.4 L1951.3,2391.6 L1953.0,2392.8 L1954.6,2393.9 L1956.2,2395.1 L1957.8,2396.3 L1959.4,2397.5 L1961.0,2398.7 L1962.6,2399.9 L1964.2,2401.1 L1965.8,2402.3 L1967.4,2403.5 L1969.0,2404.7 L1970.6,2405.9 L1972.2,2407.1 L1973.8,2408.4 L1975.4,2409.6 L1976.9,2410.9 L1978.5,2412.1 L1980.1,2413.3 L1981.6,2414.6 L1983.2,2415.9 L1984.7,2417.1 L1986.3,2418.4 L1987.8,2419.7 L1989.4,2420.9 L1990.9,2422.2 L1992.4,2423.5 L1994.0,2424.8 L1995.5,2426.1 L1997.0,2427.4 L1998.5,2428.7 L2000.0,2430.0 L2001.6,2431.3 L2003.1,2432.7 L2004.6,2434.0 L2006.1,2435.3 L2007.5,2436.7 L2009.0,2438.0 L2010.5,2439.4 L2012.0,2440.7 L2013.5,2442.1 L2014.9,2443.4 L2016.4,2444.8 L2017.9,2446.2 L2019.3,2447.5 L2020.8,2448.9 L2022.2,2450.3 L2023.7,2451.7 L2025.1,2453.1 L2026.5,2454.5 L2028.0,2455.9 L2029.4,2457.3 L2030.8,2458.7 L2032.2,2460.1 L2033.6,2461.6 L2035.0,2463.0 L2036.4,2464.4 L2037.8,2465.9 L2039.2,2467.3 L2040.6,2468.7 L2042.0,2470.2 L2043.4,2471.6 L2044.7,2473.1 L2046.1,2474.6 L2047.5,2476.0 L2048.8,2477.5 L2050.2,2479.0 L2051.5,2480.5 L2052.9,2481.9 L2054.2,2483.4 L2055.6,2484.9 L2056.9,2486.4 L2058.2,2487.9 L2059.5,2489.4 L2060.9,2490.9 L2062.2,2492.5 L2063.5,2494.0 L2064.8,2495.5 L2066.1,2497.0 L2067.4,2498.5 L2068.7,2500.1 L2069.9,2501.6 L2071.2,2503.2 L2072.5,2504.7 L2073.8,2506.2 L2075.0,2507.8 L2076.3,2509.4 L2077.6,2510.9 L2078.8,2512.5 L2080.1,2514.0 L2081.3,2515.6 L2082.6,2517.2 L2083.8,2518.8 L2085.0,2520.3 L2086.3,2521.9 L2087.5,2523.5 L2088.7,2525.1 L2089.9,2526.7 L2091.1,2528.3 L2092.3,2529.9 L2093.5,2531.5 L2094.7,2533.1 L2095.9,2534.7 L2097.1,2536.3 L2098.3,2537.9 L2099.5,2539.6 L2100.6,2541.2 L2101.8,2542.8 L2103.0,2544.4 L2104.1,2546.1 L2105.3,2547.7 L2106.5,2549.3 L2107.6,2551.0 L2108.8,2552.6 L2109.9,2554.3 L2111.0,2555.9 L2112.2,2557.6 L2113.3,2559.2 L2114.4,2560.9 L2115.5,2562.5 L2116.7,2564.2 L2117.8,2565.9 L2118.9,2567.5 L2120.0,2569.2 L2121.1,2570.9 L2122.2,2572.6 L2123.3,2574.2 L2124.4,2575.9 L2125.5,2577.6 L2126.6,2579.3 L2127.6,2581.0 L2128.7,2582.7 L2129.8,2584.4 L2130.8,2586.1 L2131.9,2587.8 L2133.0,2589.5 L2134.0,2591.2 L2135.1,2592.9 L2136.1,2594.6 L2137.2,2596.3 L2138.2,2598.0 L2139.3,2599.7 L2140.3,2601.4 L2141.3,2603.1 L2142.4,2604.8 L2143.4,2606.6 L2144.4,2608.3 L2145.4,2610.0 L2146.4,2611.7 L2147.4,2613.5 L2148.5,2615.2 L2149.5,2616.9 L2150.5,2618.7 L2151.5,2620.4 L2152.5,2622.2 L2153.4,2623.9 L2154.4,2625.6 L2155.4,2627.4 L2156.4,2629.1 L2157.4,2630.9 L2158.4,2632.6 L2159.3,2634.4 L2160.3,2636.1 L2161.3,2637.9 L2162.2,2639.6 L2163.2,2641.4 L2164.2,2643.1 L2165.1,2644.9 L2166.1,2646.6 L2167.1,2648.4 L2168.0,2650.1 L2169.0,2651.9 L2169.9,2653.7 L2170.9,2655.4 L2171.9,2657.2 L2172.8,2658.9 L2173.8,2660.7 L2174.7,2662.4 L2175.7,2664.2 L2176.6,2666.0 L2177.6,2667.7 L2178.5,2669.5 L2179.5,2671.2 L2180.5,2673.0 L2181.4,2674.7 L2182.4,2676.5 L2183.3,2678.2 L2184.3,2680.0 L2185.3,2681.7 L2186.2,2683.5 L2187.2,2685.2 L2188.1,2687.0 L2189.1,2688.7 L2190.1,2690.5 L2191.1,2692.2 L2192.0,2694.0 L2193.0,2695.7 L2194.0,2697.5 L2195.0,2699.2 L2195.9,2701.0 L2196.9,2702.7 L2197.9,2704.4 L2198.9,2706.2 L2199.9,2707.9 L2200.9,2709.6 L2201.9,2711.3 L2202.9,2713.1 L2203.9,2714.8 L2204.9,2716.5 L2205.9,2718.2 L2207.0,2719.9 L2208.0,2721.7 L2209.0,2723.4 L2210.1,2725.1 L2211.1,2726.8 L2212.1,2728.5 L2213.2,2730.2 L2214.3,2731.8 L2215.3,2733.5 L2216.4,2735.2 L2217.5,2736.9 L2218.6,2738.6 L2219.7,2740.2 L2220.8,2741.9 L2221.9,2743.5 L2223.0,2745.2 L2224.1,2746.8 L2225.3,2748.5 L2226.0,2749.5" fill="none" stroke="#000" stroke-width="2.60" stroke-linecap="butt" stroke-linejoin="round" clip-path="url(#ic)"/>
<path d="M1345.0,2218.6 L1347.0,2218.7 L1349.0,2218.8 L1351.0,2218.9 L1353.0,2219.0 L1355.0,2219.1 L1357.0,2219.2 L1359.0,2219.3 L1361.0,2219.5 L1363.0,2219.6 L1365.0,2219.7 L1367.0,2219.8 L1369.0,2220.0 L1371.0,2220.1 L1373.0,2220.2 L1374.9,2220.4 L1376.9,2220.5 L1378.9,2220.7 L1380.9,2220.8 L1382.9,2221.0 L1384.9,2221.1 L1386.9,2221.3 L1388.9,2221.4 L1390.9,2221.6 L1392.9,2221.8 L1394.9,2221.9 L1396.9,2222.1 L1398.9,2222.3 L1400.9,2222.5 L1402.9,2222.7 L1404.8,2222.9 L1406.8,2223.0 L1408.8,2223.2 L1410.8,2223.4 L1412.8,2223.6 L1414.8,2223.8 L1416.8,2224.1 L1418.8,2224.3 L1420.8,2224.5 L1422.8,2224.7 L1424.7,2224.9 L1426.7,2225.1 L1428.7,2225.4 L1430.7,2225.6 L1432.7,2225.8 L1434.7,2226.1 L1436.7,2226.3 L1438.6,2226.5 L1440.6,2226.8 L1442.6,2227.0 L1444.6,2227.3 L1446.6,2227.6 L1448.6,2227.8 L1450.6,2228.1 L1452.5,2228.3 L1454.5,2228.6 L1456.5,2228.9 L1458.5,2229.2 L1460.5,2229.4 L1462.4,2229.7 L1464.4,2230.0 L1466.4,2230.3 L1468.4,2230.6 L1470.4,2230.9 L1472.3,2231.2 L1474.3,2231.5 L1476.3,2231.8 L1478.3,2232.1 L1480.2,2232.4 L1482.2,2232.7 L1484.2,2233.0 L1486.2,2233.3 L1488.1,2233.6 L1490.1,2234.0 L1492.1,2234.3 L1494.1,2234.6 L1496.0,2235.0 L1498.0,2235.3 L1500.0,2235.6 L1502.0,2236.0 L1503.9,2236.3 L1505.9,2236.7 L1507.9,2237.0 L1509.8,2237.4 L1511.8,2237.7 L1513.8,2238.1 L1515.7,2238.5 L1517.7,2238.8 L1519.7,2239.2 L1521.6,2239.6 L1523.6,2240.0 L1525.6,2240.3 L1527.5,2240.7 L1529.5,2241.1 L1531.4,2241.5 L1533.4,2241.9 L1535.4,2242.3 L1537.3,2242.7 L1539.3,2243.1 L1541.2,2243.5 L1543.2,2243.9 L1545.2,2244.3 L1547.1,2244.7 L1549.1,2245.1 L1551.0,2245.5 L1553.0,2246.0 L1554.9,2246.4 L1556.9,2246.8 L1558.8,2247.2 L1560.8,2247.7 L1562.8,2248.1 L1564.7,2248.6 L1566.7,2249.0 L1568.6,2249.4 L1570.6,2249.9 L1572.5,2250.3 L1574.5,2250.8 L1576.4,2251.3 L1578.3,2251.7 L1580.3,2252.2 L1582.2,2252.6 L1584.2,2253.1 L1586.1,2253.6 L1588.1,2254.1 L1590.0,2254.5 L1592.0,2255.0 L1593.9,2255.5 L1595.8,2256.0 L1597.8,2256.5 L1599.7,2257.0 L1601.7,2257.5 L1603.6,2258.0 L1605.5,2258.5 L1607.5,2259.0 L1609.4,2259.5 L1611.3,2260.0 L1613.3,2260.5 L1615.2,2261.0 L1617.1,2261.5 L1619.1,2262.0 L1621.0,2262.6 L1622.9,2263.1 L1624.9,2263.6 L1626.8,2264.2 L1628.7,2264.7 L1630.6,2265.2 L1632.6,2265.8 L1634.5,2266.3 L1636.4,2266.9 L1638.3,2267.4 L1640.3,2268.0 L1642.2,2268.5 L1644.1,2269.1 L1646.0,2269.6 L1647.9,2270.2 L1649.9,2270.8 L1651.8,2271.3 L1653.7,2271.9 L1655.6,2272.5 L1657.5,2273.0 L1659.4,2273.6 L1661.4,2274.2 L1663.3,2274.8 L1665.2,2275.4 L1667.1,2276.0 L1669.0,2276.6 L1670.9,2277.2 L1672.8,2277.8 L1674.7,2278.4 L1676.6,2279.0 L1678.5,2279.6 L1680.5,2280.2 L1682.4,2280.8 L1684.3,2281.4 L1686.2,2282.0 L1688.1,2282.6 L1690.0,2283.3 L1691.9,2283.9 L1693.8,2284.5 L1695.7,2285.1 L1697.6,2285.8 L1699.5,2286.4 L1701.4,2287.0 L1703.3,2287.7 L1705.1,2288.3 L1707.0,2289.0 L1708.9,2289.6 L1710.8,2290.3 L1712.7,2290.9 L1714.6,2291.6 L1716.5,2292.3 L1718.4,2292.9 L1720.3,2293.6 L1722.1,2294.3 L1724.0,2294.9 L1725.9,2295.6 L1727.8,2296.3 L1729.7,2297.0 L1731.6,2297.7 L1733.4,2298.4 L1735.3,2299.0 L1737.2,2299.7 L1739.1,2300.4 L1740.9,2301.1 L1742.8,2301.9 L1744.7,2302.6 L1746.5,2303.3 L1748.4,2304.0 L1750.3,2304.7 L1752.1,2305.4 L1754.0,2306.2 L1755.9,2306.9 L1757.7,2307.6 L1759.6,2308.4 L1761.4,2309.1 L1763.3,2309.9 L1765.1,2310.6 L1767.0,2311.4 L1768.9,2312.1 L1770.7,2312.9 L1772.5,2313.7 L1774.4,2314.4 L1776.2,2315.2 L1778.1,2316.0 L1779.9,2316.8 L1781.8,2317.6 L1783.6,2318.4 L1785.4,2319.2 L1787.3,2320.0 L1789.1,2320.8 L1790.9,2321.6 L1792.8,2322.4 L1794.6,2323.2 L1796.4,2324.0 L1798.2,2324.8 L1800.1,2325.7 L1801.9,2326.5 L1803.7,2327.3 L1805.5,2328.2 L1807.3,2329.0 L1809.1,2329.9 L1811.0,2330.7 L1812.8,2331.6 L1814.6,2332.4 L1816.4,2333.3 L1818.2,2334.2 L1820.0,2335.0 L1821.8,2335.9 L1823.6,2336.8 L1825.4,2337.7 L1827.2,2338.6 L1828.9,2339.5 L1830.7,2340.4 L1832.5,2341.3 L1834.3,2342.2 L1836.1,2343.1 L1837.9,2344.0 L1839.6,2345.0 L1841.4,2345.9 L1843.2,2346.8 L1844.9,2347.8 L1846.7,2348.7 L1848.5,2349.6 L1850.2,2350.6 L1852.0,2351.5 L1853.8,2352.5 L1855.5,2353.5 L1857.3,2354.4 L1859.0,2355.4 L1860.8,2356.4 L1862.5,2357.4 L1864.2,2358.3 L1866.0,2359.3 L1867.7,2360.3 L1869.5,2361.3 L1871.2,2362.3 L1872.9,2363.3 L1874.6,2364.3 L1876.4,2365.4 L1878.1,2366.4 L1879.8,2367.4 L1881.5,2368.4 L1883.2,2369.5 L1884.9,2370.5 L1886.7,2371.6 L1888.4,2372.6 L1890.1,2373.7 L1891.8,2374.7 L1893.5,2375.8 L1895.2,2376.8 L1896.8,2377.9 L1898.5,2379.0 L1900.2,2380.1 L1901.9,2381.1 L1903.6,2382.2 L1905.3,2383.3 L1906.9,2384.4 L1908.6,2385.5 L1910.3,2386.6 L1911.9,2387.7 L1913.6,2388.9 L1915.3,2390.0 L1916.9,2391.1 L1918.6,2392.2 L1920.2,2393.4 L1921.9,2394.5 L1923.5,2395.6 L1925.2,2396.8 L1926.8,2397.9 L1928.4,2399.1 L1930.1,2400.2 L1931.7,2401.4 L1933.3,2402.6 L1935.0,2403.7 L1936.6,2404.9 L1938.2,2406.1 L1939.8,2407.3 L1941.4,2408.4 L1943.0,2409.6 L1944.6,2410.8 L1946.3,2412.0 L1947.9,2413.2 L1949.4,2414.4 L1951.0,2415.6 L1952.6,2416.9 L1954.2,2418.1 L1955.8,2419.3 L1957.4,2420.5 L1959.0,2421.8 L1960.5,2423.0 L1962.1,2424.2 L1963.7,2425.5 L1965.3,2426.7 L1966.8,2428.0 L1968.4,2429.2 L1969.9,2430.5 L1971.5,2431.8 L1973.0,2433.0 L1974.6,2434.3 L1976.1,2435.6 L1977.7,2436.8 L1979.2,2438.1 L1980.7,2439.4 L1982.3,2440.7 L1983.8,2442.0 L1985.3,2443.3 L1986.8,2444.6 L1988.4,2445.9 L1989.9,2447.2 L1991.4,2448.5 L1992.9,2449.8 L1994.4,2451.2 L1995.9,2452.5 L1997.4,2453.8 L1998.9,2455.1 L2000.4,2456.5 L2001.9,2457.8 L2003.4,2459.1 L2004.9,2460.5 L2006.3,2461.8 L2007.8,2463.2 L2009.3,2464.5 L2010.8,2465.9 L2012.2,2467.3 L2013.7,2468.6 L2015.1,2470.0 L2016.6,2471.4 L2018.1,2472.8 L2019.5,2474.1 L2021.0,2475.5 L2022.4,2476.9 L2023.8,2478.3 L2025.3,2479.7 L2026.7,2481.1 L2028.1,2482.5 L2029.6,2483.9 L2031.0,2485.3 L2032.4,2486.7 L2033.8,2488.1 L2035.2,2489.5 L2036.7,2491.0 L2038.1,2492.4 L2039.5,2493.8 L2040.9,2495.2 L2042.3,2496.7 L2043.7,2498.1 L2045.1,2499.6 L2046.5,2501.0 L2047.8,2502.4 L2049.2,2503.9 L2050.6,2505.3 L2052.0,2506.8 L2053.3,2508.3 L2054.7,2509.7 L2056.1,2511.2 L2057.4,2512.6 L2058.8,2514.1 L2060.2,2515.6 L2061.5,2517.1 L2062.9,2518.5 L2064.2,2520.0 L2065.6,2521.5 L2066.9,2523.0 L2068.2,2524.5 L2069.6,2526.0 L2070.9,2527.5 L2072.2,2529.0 L2073.6,2530.5 L2074.9,2532.0 L2076.2,2533.5 L2077.5,2535.0 L2078.8,2536.5 L2080.1,2538.0 L2081.4,2539.5 L2082.8,2541.0 L2084.1,2542.6 L2085.4,2544.1 L2086.6,2545.6 L2087.9,2547.2 L2089.2,2548.7 L2090.5,2550.2 L2091.8,2551.8 L2093.1,2553.3 L2094.4,2554.8 L2095.6,2556.4 L2096.9,2557.9 L2098.2,2559.5 L2099.4,2561.0 L2100.7,2562.6 L2101.9,2564.1 L2103.2,2565.7 L2104.5,2567.3 L2105.7,2568.8 L2107.0,2570.4 L2108.2,2572.0 L2109.4,2573.5 L2110.7,2575.1 L2111.9,2576.7 L2113.1,2578.3 L2114.4,2579.8 L2115.6,2581.4 L2116.8,2583.0 L2118.0,2584.6 L2119.3,2586.2 L2120.5,2587.8 L2121.7,2589.4 L2122.9,2591.0 L2124.1,2592.6 L2125.3,2594.2 L2126.5,2595.8 L2127.7,2597.4 L2128.9,2599.0 L2130.1,2600.6 L2131.3,2602.2 L2132.5,2603.8 L2133.7,2605.4 L2134.8,2607.0 L2136.0,2608.7 L2137.2,2610.3 L2138.4,2611.9 L2139.5,2613.5 L2140.7,2615.2 L2141.9,2616.8 L2143.0,2618.4 L2144.2,2620.0 L2145.4,2621.7 L2146.5,2623.3 L2147.7,2624.9 L2148.8,2626.6 L2150.0,2628.2 L2151.1,2629.9 L2152.3,2631.5 L2153.4,2633.2 L2154.5,2634.8 L2155.7,2636.5 L2156.8,2638.1 L2157.9,2639.8 L2159.1,2641.4 L2160.2,2643.1 L2161.3,2644.7 L2162.4,2646.4 L2163.5,2648.1 L2164.6,2649.7 L2165.7,2651.4 L2166.8,2653.1 L2167.9,2654.8 L2169.0,2656.5 L2170.1,2658.1 L2171.2,2659.8 L2172.2,2661.5 L2173.3,2663.2 L2174.4,2664.9 L2175.4,2666.6 L2176.5,2668.3 L2177.5,2670.1 L2178.6,2671.8 L2179.6,2673.5 L2180.6,2675.2 L2181.6,2676.9 L2182.6,2678.7 L2183.7,2680.4 L2184.7,2682.2 L2185.6,2683.9 L2186.6,2685.6 L2187.6,2687.4 L2188.6,2689.2 L2189.5,2690.9 L2190.5,2692.7 L2191.5,2694.4 L2192.4,2696.2 L2193.3,2698.0 L2194.3,2699.8 L2195.2,2701.6 L2196.1,2703.3 L2197.0,2705.1 L2197.9,2706.9 L2198.8,2708.7 L2199.7,2710.5 L2200.6,2712.3 L2201.5,2714.1 L2202.3,2715.9 L2203.2,2717.7 L2204.1,2719.6 L2204.9,2721.4 L2205.8,2723.2 L2206.6,2725.0 L2207.4,2726.9 L2208.2,2728.7 L2209.1,2730.5 L2209.9,2732.4 L2210.7,2734.2 L2211.5,2736.0 L2212.3,2737.9 L2213.1,2739.7 L2213.8,2741.6 L2214.6,2743.4 L2215.4,2745.3 L2216.2,2747.1 L2216.9,2749.0 L2217.7,2750.9 L2218.4,2752.7 L2218.5,2752.9" fill="none" stroke="#000" stroke-width="2.60" stroke-linecap="butt" stroke-linejoin="round" clip-path="url(#ic)"/>
<path d="M1345.0,2384.0 L1346.5,2385.3 L1348.1,2386.5 L1349.6,2387.8 L1351.1,2389.1 L1352.7,2390.4 L1354.2,2391.7 L1355.7,2393.0 L1357.2,2394.3 L1358.8,2395.6 L1360.3,2396.9 L1361.8,2398.2 L1363.3,2399.5 L1364.8,2400.9 L1366.3,2402.2 L1367.8,2403.5 L1369.3,2404.8 L1370.8,2406.1 L1372.3,2407.5 L1373.8,2408.8 L1375.3,2410.1 L1376.8,2411.5 L1378.3,2412.8 L1379.8,2414.1 L1381.3,2415.5 L1382.7,2416.8 L1384.2,2418.2 L1385.7,2419.5 L1387.2,2420.9 L1388.6,2422.2 L1390.1,2423.6 L1391.6,2425.0 L1393.0,2426.3 L1394.5,2427.7 L1396.0,2429.1 L1397.4,2430.4 L1398.9,2431.8 L1400.3,2433.2 L1401.8,2434.6 L1403.2,2436.0 L1404.7,2437.3 L1406.1,2438.7 L1407.6,2440.1 L1409.0,2441.5 L1410.4,2442.9 L1411.9,2444.3 L1413.3,2445.7 L1414.7,2447.1 L1416.1,2448.5 L1417.6,2449.9 L1419.0,2451.3 L1420.4,2452.7 L1421.8,2454.2 L1423.2,2455.6 L1424.6,2457.0 L1426.1,2458.4 L1427.5,2459.8 L1428.9,2461.3 L1430.3,2462.7 L1431.7,2464.1 L1433.1,2465.6 L1434.4,2467.0 L1435.8,2468.4 L1437.2,2469.9 L1438.6,2471.3 L1440.0,2472.8 L1441.4,2474.2 L1442.8,2475.7 L1444.1,2477.1 L1445.5,2478.6 L1446.9,2480.1 L1448.2,2481.5 L1449.6,2483.0 L1451.0,2484.4 L1452.3,2485.9 L1453.7,2487.4 L1455.0,2488.9 L1456.4,2490.3 L1457.7,2491.8 L1459.1,2493.3 L1460.4,2494.8 L1461.8,2496.3 L1463.1,2497.7 L1464.5,2499.2 L1465.8,2500.7 L1467.1,2502.2 L1468.5,2503.7 L1469.8,2505.2 L1471.1,2506.7 L1472.4,2508.2 L1473.8,2509.7 L1475.1,2511.2 L1476.4,2512.7 L1477.7,2514.3 L1479.0,2515.8 L1480.3,2517.3 L1481.6,2518.8 L1482.9,2520.3 L1484.2,2521.8 L1485.5,2523.4 L1486.8,2524.9 L1488.1,2526.4 L1489.4,2528.0 L1490.7,2529.5 L1492.0,2531.0 L1493.3,2532.6 L1494.5,2534.1 L1495.8,2535.6 L1497.1,2537.2 L1498.4,2538.7 L1499.6,2540.3 L1500.9,2541.8 L1502.2,2543.4 L1503.4,2544.9 L1504.7,2546.5 L1505.9,2548.0 L1507.2,2549.6 L1508.5,2551.2 L1509.7,2552.7 L1511.0,2554.3 L1512.2,2555.8 L1513.5,2557.4 L1514.7,2559.0 L1515.9,2560.6 L1517.2,2562.1 L1518.4,2563.7 L1519.6,2565.3 L1520.9,2566.9 L1522.1,2568.5 L1523.3,2570.0 L1524.5,2571.6 L1525.8,2573.2 L1527.0,2574.8 L1528.2,2576.4 L1529.4,2578.0 L1530.6,2579.6 L1531.8,2581.2 L1533.0,2582.8 L1534.2,2584.4 L1535.4,2586.0 L1536.6,2587.6 L1537.8,2589.2 L1539.0,2590.8 L1540.2,2592.4 L1541.4,2594.0 L1542.6,2595.6 L1543.7,2597.3 L1544.9,2598.9 L1546.1,2600.5 L1547.3,2602.1 L1548.4,2603.8 L1549.6,2605.4 L1550.8,2607.0 L1551.9,2608.6 L1553.1,2610.3 L1554.2,2611.9 L1555.4,2613.5 L1556.5,2615.2 L1557.7,2616.8 L1558.8,2618.5 L1560.0,2620.1 L1561.1,2621.7 L1562.3,2623.4 L1563.4,2625.0 L1564.5,2626.7 L1565.7,2628.3 L1566.8,2630.0 L1567.9,2631.7 L1569.0,2633.3 L1570.2,2635.0 L1571.3,2636.6 L1572.4,2638.3 L1573.5,2640.0 L1574.6,2641.6 L1575.7,2643.3 L1576.8,2645.0 L1577.9,2646.6 L1579.0,2648.3 L1580.1,2650.0 L1581.2,2651.7 L1582.3,2653.3 L1583.4,2655.0 L1584.5,2656.7 L1585.6,2658.4 L1586.7,2660.1 L1587.7,2661.8 L1588.8,2663.4 L1589.9,2665.1 L1591.0,2666.8 L1592.0,2668.5 L1593.1,2670.2 L1594.2,2671.9 L1595.2,2673.6 L1596.3,2675.3 L1597.3,2677.0 L1598.4,2678.7 L1599.4,2680.4 L1600.5,2682.1 L1601.5,2683.8 L1602.6,2685.5 L1603.6,2687.3 L1604.7,2689.0 L1605.7,2690.7 L1606.7,2692.4 L1607.8,2694.1 L1608.8,2695.8 L1609.8,2697.6 L1610.8,2699.3 L1611.9,2701.0 L1612.9,2702.7 L1613.9,2704.4 L1614.9,2706.2 L1615.9,2707.9 L1616.9,2709.6 L1617.9,2711.4 L1618.9,2713.1 L1619.9,2714.8 L1620.9,2716.6 L1621.9,2718.3 L1622.9,2720.0 L1623.9,2721.8 L1624.9,2723.5 L1625.9,2725.3 L1626.9,2727.0 L1627.9,2728.8 L1628.8,2730.5 L1629.8,2732.2 L1630.8,2734.0 L1631.8,2735.7 L1632.7,2737.5 L1633.7,2739.3 L1634.7,2741.0 L1635.6,2742.8 L1636.6,2744.5 L1637.5,2746.3 L1638.5,2748.0 L1639.5,2749.8 L1640.4,2751.6 L1641.4,2753.3 L1641.5,2753.6" fill="none" stroke="#000" stroke-width="2.60" stroke-linecap="butt" stroke-linejoin="round" clip-path="url(#ic)"/>
<rect x="1345.3" y="1972.0" width="877.2" height="778.9" fill="none" stroke="#000" stroke-width="3"/>
<line x1="1345.3" y1="2748.6" x2="1330.3" y2="2748.6" stroke="#000" stroke-width="3.4" stroke-linecap="butt"/>
<text x="1292.5" y="2756.5" font-size="29.5" font-family="'Liberation Sans',Arial,sans-serif" textLength="30.5" lengthAdjust="spacingAndGlyphs">90</text>
<line x1="1345.3" y1="2681.2" x2="1337.0" y2="2681.2" stroke="#000" stroke-width="3.4" stroke-linecap="butt"/>
<line x1="1345.3" y1="2613.7" x2="1330.3" y2="2613.7" stroke="#000" stroke-width="3.4" stroke-linecap="butt"/>
<text x="1292.5" y="2621.6" font-size="29.5" font-family="'Liberation Sans',Arial,sans-serif" textLength="30.8" lengthAdjust="spacingAndGlyphs">92</text>
<line x1="1345.3" y1="2546.2" x2="1337.0" y2="2546.2" stroke="#000" stroke-width="3.4" stroke-linecap="butt"/>
<line x1="1345.3" y1="2478.8" x2="1330.3" y2="2478.8" stroke="#000" stroke-width="3.4" stroke-linecap="butt"/>
<text x="1292.5" y="2486.7" font-size="29.5" font-family="'Liberation Sans',Arial,sans-serif" textLength="30.2" lengthAdjust="spacingAndGlyphs">94</text>
<line x1="1345.3" y1="2411.3" x2="1337.0" y2="2411.3" stroke="#000" stroke-width="3.4" stroke-linecap="butt"/>
<line x1="1345.3" y1="2343.9" x2="1330.3" y2="2343.9" stroke="#000" stroke-width="3.4" stroke-linecap="butt"/>
<text x="1292.5" y="2351.8" font-size="29.5" font-family="'Liberation Sans',Arial,sans-serif" textLength="30.6" lengthAdjust="spacingAndGlyphs">96</text>
<line x1="1345.3" y1="2276.4" x2="1337.0" y2="2276.4" stroke="#000" stroke-width="3.4" stroke-linecap="butt"/>
<line x1="1345.3" y1="2209.0" x2="1330.3" y2="2209.0" stroke="#000" stroke-width="3.4" stroke-linecap="butt"/>
<text x="1292.5" y="2216.9" font-size="29.5" font-family="'Liberation Sans',Arial,sans-serif" textLength="30.6" lengthAdjust="spacingAndGlyphs">98</text>
<line x1="1345.3" y1="2141.5" x2="1337.0" y2="2141.5" stroke="#000" stroke-width="3.4" stroke-linecap="butt"/>
<line x1="1345.3" y1="2074.1" x2="1330.3" y2="2074.1" stroke="#000" stroke-width="3.4" stroke-linecap="butt"/>
<text x="1279.7" y="2082.0" font-size="29.5" font-family="'Liberation Sans',Arial,sans-serif" textLength="43.2" lengthAdjust="spacingAndGlyphs">100</text>
<line x1="1345.3" y1="2006.6" x2="1337.0" y2="2006.6" stroke="#000" stroke-width="3.4" stroke-linecap="butt"/>
<line x1="1419.8" y1="2750.9" x2="1419.8" y2="2766.1" stroke="#000" stroke-width="3.4" stroke-linecap="butt"/>
<text x="1397.8" y="2797.7" font-size="29.5" font-family="'Liberation Sans',Arial,sans-serif" textLength="45.3" lengthAdjust="spacingAndGlyphs">220</text>
<line x1="1554.2" y1="2750.9" x2="1554.2" y2="2759.0" stroke="#000" stroke-width="3.4" stroke-linecap="butt"/>
<line x1="1688.6" y1="2750.9" x2="1688.6" y2="2766.1" stroke="#000" stroke-width="3.4" stroke-linecap="butt"/>
<text x="1666.6" y="2797.7" font-size="29.5" font-family="'Liberation Sans',Arial,sans-serif" textLength="45.3" lengthAdjust="spacingAndGlyphs">240</text>
<line x1="1823.0" y1="2750.9" x2="1823.0" y2="2759.0" stroke="#000" stroke-width="3.4" stroke-linecap="butt"/>
<line x1="1957.4" y1="2750.9" x2="1957.4" y2="2766.1" stroke="#000" stroke-width="3.4" stroke-linecap="butt"/>
<text x="1935.4" y="2797.7" font-size="29.5" font-family="'Liberation Sans',Arial,sans-serif" textLength="45.3" lengthAdjust="spacingAndGlyphs">260</text>
<line x1="2091.8" y1="2750.9" x2="2091.8" y2="2759.0" stroke="#000" stroke-width="3.4" stroke-linecap="butt"/>
<text x="1648.9" y="2093.6" font-size="57.0" font-family="'Liberation Serif','Times New Roman',serif" font-weight="bold" textLength="59.5" lengthAdjust="spacingAndGlyphs">B1</text>
<text x="1765.4" y="2105.1" font-size="57.0" font-family="'Liberation Serif','Times New Roman',serif" font-weight="bold" textLength="60.6" lengthAdjust="spacingAndGlyphs">B2</text>
<text x="1885.9" y="2114.2" font-size="57.0" font-family="'Liberation Serif','Times New Roman',serif" font-weight="bold" textLength="60.8" lengthAdjust="spacingAndGlyphs">B3</text>
<text x="2002.2" y="2136.0" font-size="57.0" font-family="'Liberation Serif','Times New Roman',serif" font-weight="bold" textLength="60.3" lengthAdjust="spacingAndGlyphs">B4</text>
<line x1="1675.4" y1="2100.3" x2="1652.2" y2="2207.6" stroke="#000" stroke-width="2.4" stroke-linecap="butt"/>
<polygon points="1649.7,2219.3 1648.0,2204.6 1652.4,2206.6 1657.3,2206.6" fill="#000"/>
<line x1="1793.5" y1="2105.7" x2="1752.5" y2="2274.0" stroke="#000" stroke-width="2.4" stroke-linecap="butt"/>
<polygon points="1749.7,2285.7 1748.4,2271.0 1752.8,2273.1 1757.6,2273.2" fill="#000"/>
<line x1="1911.6" y1="2126.9" x2="1855.6" y2="2340.7" stroke="#000" stroke-width="2.4" stroke-linecap="butt"/>
<polygon points="1852.6,2352.3 1851.5,2337.6 1855.9,2339.7 1860.7,2340.0" fill="#000"/>
<line x1="2022.2" y1="2155.7" x2="1960.6" y2="2372.7" stroke="#000" stroke-width="2.4" stroke-linecap="butt"/>
<polygon points="1957.3,2384.2 1956.6,2369.4 1960.9,2371.7 1965.7,2372.0" fill="#000"/>
</svg></body></html>
